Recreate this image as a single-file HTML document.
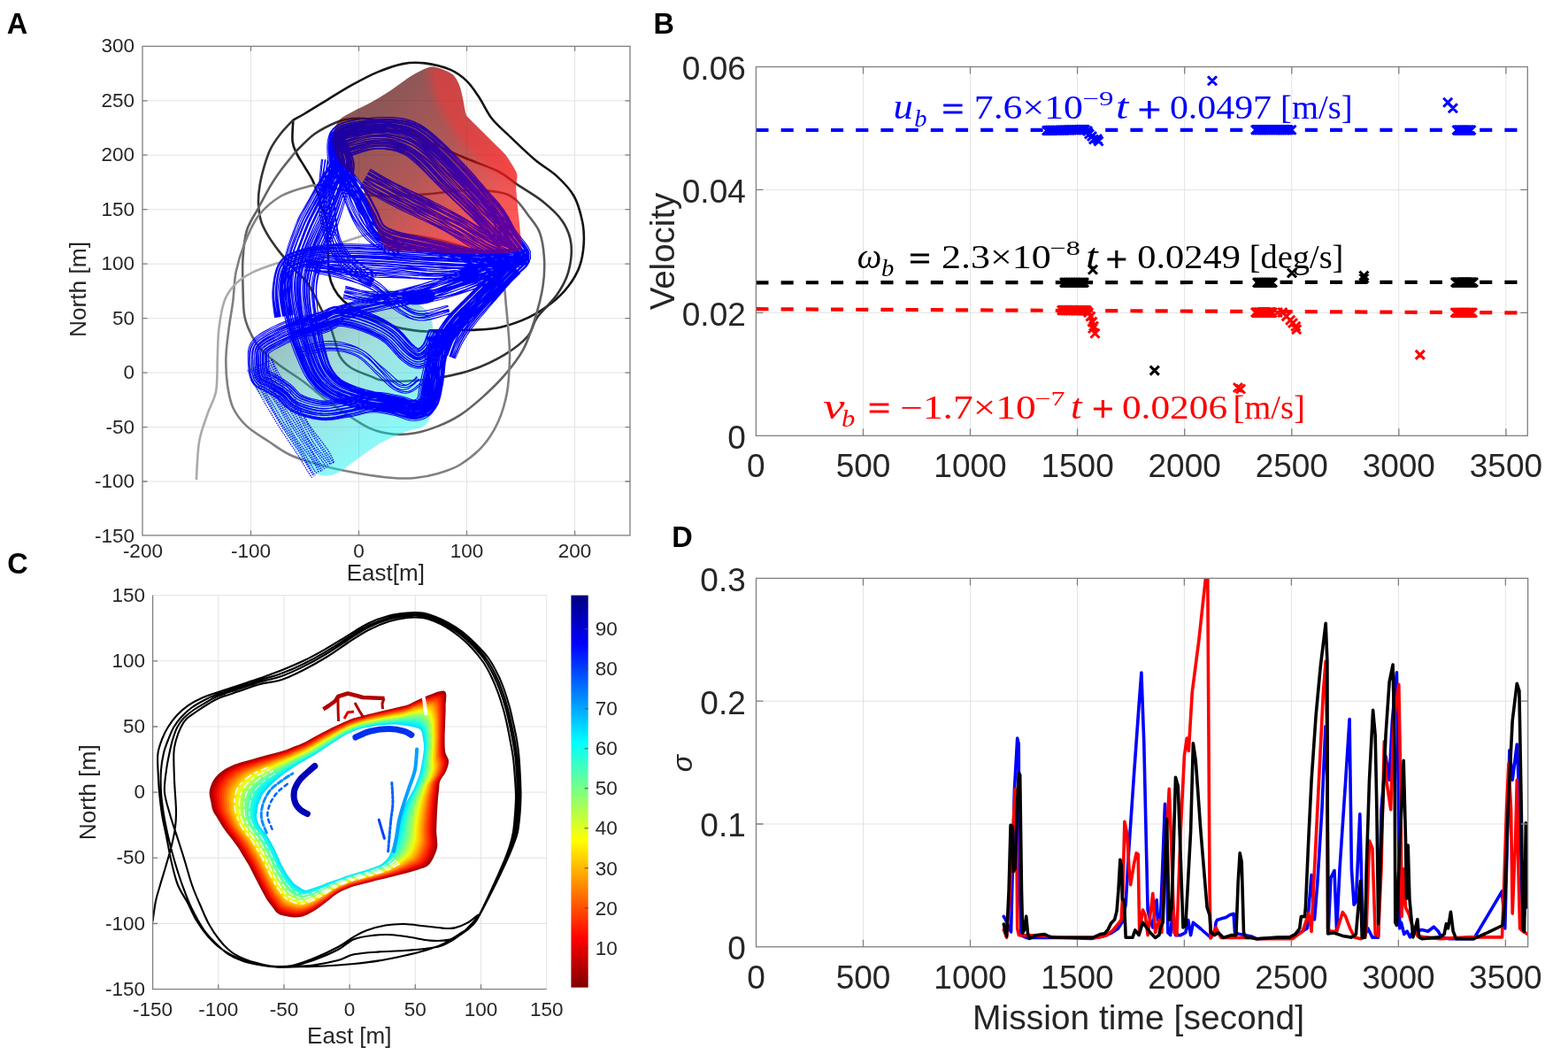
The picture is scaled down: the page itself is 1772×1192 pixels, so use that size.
<!DOCTYPE html><html><head><meta charset="utf-8"><title>Figure</title><style>html,body{margin:0;padding:0;background:#fff;}svg{display:block;}</style></head><body>
<svg width="1772" height="1192" viewBox="0 0 1772 1192">
<rect width="100%" height="100%" fill="#fff"/>
<path d="M283.5 52.3V604.9M405.5 52.3V604.9M527.5 52.3V604.9M649.6 52.3V604.9M161 544H712M161 482.6H712M161 421.1H712M161 359.6H712M161 298.2H712M161 236.7H712M161 175.2H712M161 113.8H712" stroke="#e3e3e3" stroke-width="1" fill="none"/>
<clipPath id="clipA"><rect x="161" y="52.3" width="551" height="552.6"/></clipPath>
<g clip-path="url(#clipA)">
<path d="M331.3 135.6C331.2 139.7 329.9 153.5 330.6 159.9C331.3 166.3 333.3 169.3 335.6 174.1C337.9 178.8 341.4 183.6 344.2 188.4C347 193.2 350.3 197.9 352.7 202.7C355.1 207.4 356.5 211.5 358.4 216.9C360.3 222.3 362.2 229.4 364 235C365.8 240.6 367.9 242.2 369 250.3C370.1 258.4 370.1 273.9 370.6 283.9C371.1 293.8 370.9 303 372 310C373.1 317 374.7 320.9 377.3 325.8C379.9 330.7 382.9 335 387.4 339.2C391.9 343.4 398.6 347.6 404.2 351C409.8 354.4 415.4 356.8 421 359.3C426.6 361.8 432.1 364 437.7 366C443.3 368 447.4 369.7 454.5 371.1C461.6 372.5 470 374.1 480 374.4C490 374.7 505.6 373.1 514.6 372.9C523.6 372.6 525.3 373.4 533.8 372.9C542.3 372.4 555.1 372.1 565.7 369.7C576.3 367.3 587.9 363.1 597.5 358.6C607.1 354.1 615.6 348.5 623.1 342.6C630.6 336.8 636.9 330.4 642.2 323.5C647.5 316.6 652 309.2 654.9 301.2C657.8 293.2 659.2 284.2 659.7 275.7C660.2 267.2 660 259.2 658.1 250.2C656.2 241.2 653.4 230 648.6 221.5C643.8 213 636.9 206 629.4 199.1C621.9 192.2 613.1 187.8 603.9 180C594.7 172.2 582.3 160.1 574.3 152.4C566.3 144.7 561.1 140.8 555.7 133.8C550.3 126.8 546.4 117.5 541.8 110.5C537.1 103.5 533.2 97.2 527.8 91.9C522.4 86.6 517.2 82.3 509.2 78.9C501.2 75.5 489 72.5 480 71.4C471 70.3 464.2 70.4 455.4 72.1C446.5 73.8 436.4 77.5 426.9 81.4C417.4 85.3 407.9 90.5 398.4 95.7C388.9 100.9 378.9 107.3 369.9 112.8C360.9 118.3 350.6 124.7 344.2 128.5C337.8 132.3 333.4 134.4 331.3 135.6" stroke="#151515" stroke-width="2.6" fill="none" stroke-linejoin="round"/>
<path d="M331.3 135.6C328.9 138.2 321.3 145.8 317 151.3C312.7 156.8 308.8 162.2 305.7 168.4C302.6 174.6 300.5 181.5 298.5 188.4C296.5 195.3 294.6 202.9 293.5 209.8C292.4 216.7 291.7 223.2 292 230C292.3 236.8 293.3 244.1 295.2 250.3C297.1 256.5 300.1 261.5 303.5 267.1C306.9 272.7 311.7 279.1 315.3 283.9C318.9 288.6 322 291.7 325.3 295.6C328.6 299.5 332 303.7 335.4 307.3C338.8 310.9 342.4 313.5 345.5 317.4C348.6 321.3 350.8 325.2 353.9 330.8C357 336.4 360.9 345.3 363.9 351C366.9 356.7 369.4 359.5 371.8 365C374.2 370.5 376.1 377.7 378.2 384.1C380.3 390.5 381.4 398 384.6 403.3C387.8 408.6 391.4 412.3 397.3 416C403.2 419.7 414.4 423.4 420 425.6C425.6 427.9 425.1 428.6 431.2 429.5C437.3 430.4 446 431.2 456.6 430.8C467.2 430.4 482 429.1 494.7 427C507.4 424.9 520.1 422.6 532.8 418.1C545.5 413.7 560.3 406.7 570.9 400.3C581.5 393.9 590.3 386.9 596.3 380C602.3 373.1 601.6 366.4 607.1 358.6C612.6 350.8 623.5 341.6 629.4 333.1C635.2 324.6 639.5 317.2 642.2 307.6C644.9 298 646.5 285.3 645.4 275.7C644.3 266.1 641.1 258.2 635.8 250.2C630.5 242.2 622 234.7 613.5 227.8C605 220.9 593.2 214.4 584.8 208.7C576.4 203 573.1 198.6 563 193.5C552.9 188.4 537.3 183.5 524.4 178C511.5 172.5 496 165.7 485.8 160.7C475.6 155.7 470.5 151.4 463 148C455.5 144.6 448.2 142.2 441 140C433.8 137.8 427.2 136 420 135C412.8 134 404.4 133.6 398 134C391.6 134.4 388.4 134.8 381.3 137.7C374.2 140.6 363.5 145.7 355.6 151.3C347.8 156.9 337.8 168 334.2 171.3" stroke="#333333" stroke-width="2.6" fill="none" stroke-linejoin="round"/>
<path d="M334.2 171.3C331.4 174.9 321.9 186.3 317.1 192.7C312.4 199.1 309.9 202.8 305.7 209.8C301.5 216.9 296.4 226.6 292 235C287.6 243.4 281.9 250.5 279 260C276.1 269.5 275.2 281.4 274.5 292C273.8 302.6 274.2 313 274.5 323.5C274.8 334 274.7 346.4 276 355C277.3 363.6 279.3 368.3 282.5 375C285.7 381.7 289.6 388.8 295 395C300.4 401.2 307.1 406 315 412C322.9 418 333.6 424.3 342.4 430.8C351.2 437.3 359.4 444.8 367.8 451.1C376.2 457.5 384.7 463.4 393.1 468.9C401.6 474.4 410 480.5 418.5 484.1C427 487.7 435.4 489.6 443.9 490.5C452.4 491.4 460.8 490.7 469.3 489.2C477.8 487.7 486.2 485 494.7 481.6C503.2 478.2 511.6 474.4 520.1 468.9C528.6 463.4 537 456.2 545.5 448.6C554 441 563.3 432.1 570.9 423.2C578.5 414.3 585.7 405.4 591.2 395.2C596.7 385 600.3 373.9 604 362C607.7 350.1 611.7 335.2 613.5 323.5C615.3 311.8 615.6 302.1 615 292C614.4 281.9 612.9 271 610 263C607.1 255 602.2 250.3 597.5 244C592.8 237.7 587.8 229.5 582 225C576.2 220.5 572.7 218.7 563 217C553.3 215.3 536.8 214.7 524 215C511.2 215.3 501 217.8 486 219C471 220.2 448.7 222.3 434 222C419.3 221.7 406.3 218.3 398 217C389.7 215.7 389.9 215.2 384 214C378.1 212.8 366.2 210.5 362.7 209.8" stroke="#626262" stroke-width="2.6" fill="none" stroke-linejoin="round"/>
<path d="M362.7 209.8C360.5 209.9 357 208.4 349.5 210.3C342 212.2 327.2 215.9 317.6 221.5C308 227.1 299 234.8 292.1 243.8C285.2 252.8 280.4 265.1 276.1 275.7C271.9 286.3 268.7 297 266.6 307.6C264.5 318.2 264.7 328.9 263.4 339.5C262.1 350.1 259.9 360.8 258.6 371.4C257.3 382 255.7 392.7 255.4 403.3C255.1 413.9 255.7 425.4 257 435C258.4 444.6 259.8 453.2 263.5 461C267.2 468.8 272.2 475.3 279 481.6C285.8 487.9 295.5 493.4 304 499C312.5 504.6 319.3 510.3 330 515C340.7 519.7 355.3 523.7 368 527C380.7 530.3 393.3 532.8 406 535C418.7 537.2 433.5 539.2 444 540C454.5 540.8 460.5 540.8 469 540C477.5 539.2 486.5 537.5 495 535C503.5 532.5 511.6 530.2 520 525C528.4 519.8 538.3 512.1 545.5 504C552.7 495.9 558.4 486.6 563 476.5C567.6 466.4 570.8 455.4 573 443.5C575.2 431.6 575.7 415.6 576 405C576.3 394.4 575.7 389.8 575 380C574.3 370.2 573 356 572 346C571 336 571 327.7 569 320C567 312.3 564.8 305.8 560 300C555.2 294.2 550 289.7 540 285C530 280.3 513.3 275.3 500 272C486.7 268.7 473.3 266.5 460 265C446.7 263.5 426.7 263.2 420 262.9" stroke="#808080" stroke-width="2.6" fill="none" stroke-linejoin="round"/>
<path d="M420 262.9C413.6 265 393.9 271.5 381.4 275.7C368.9 279.9 356.7 284.3 345 288C333.3 291.7 320.9 294.7 311 298C301.1 301.3 293.1 303.9 285.7 307.6C278.3 311.3 271.9 315.1 266.6 320.4C261.3 325.7 257 331 253.8 339.5C250.6 348 248.7 360.8 247.4 371.4C246.1 382 246.3 391.6 245.8 403.3C245.3 415 246 431 244.2 441.6C242.3 452.2 237.9 457.5 234.7 467.1C231.5 476.7 227.2 486.5 225.1 499C223 511.5 222.4 534.8 221.9 542" stroke="#aaaaaa" stroke-width="2.6" fill="none" stroke-linejoin="round"/>
<defs><linearGradient id="cyg" gradientUnits="userSpaceOnUse" x1="330" y1="360" x2="430" y2="500"><stop offset="0" stop-color="#1a6a6a"/><stop offset="0.45" stop-color="#30b8b8"/><stop offset="1" stop-color="#00f0f0"/></linearGradient></defs>
<path d="M371.9 360.8C383.2 354.3 395.7 340.9 405.9 335.3C416.1 329.8 425.7 328.3 433 327.5C440.4 326.7 443.2 327.5 450 330.2C456.8 332.9 467.6 338.7 473.8 343.8C480 348.9 484.6 352.3 487.4 360.8C490.2 369.3 490.1 383.4 490.8 394.8C491.5 406.1 492 416.8 491.5 428.7C490.9 440.6 489.5 457.3 487.4 466.1C485.3 474.9 484 477.7 478.9 481.4C473.8 485.1 465 484.9 456.8 488.2C448.6 491.4 438.1 495.9 429.6 500.7C421.2 505.5 413.8 511.5 405.9 517C397.9 522.6 388.9 530.6 382.1 534C375.3 537.4 370.2 538 365.1 537.4C360 536.9 356.1 534.6 351.5 530.6C347 526.7 343 521 337.9 513.6C332.8 506.3 326.6 495.5 321 486.5C315.3 477.4 309.6 467.8 304 459.3C298.3 450.8 290.5 442.3 287 435.5C283.5 428.7 282.9 423.6 282.9 418.5C282.9 413.4 283.5 409.5 287 404.9C290.5 400.4 295.5 396.5 304 391.4C312.5 386.3 326.6 379.5 337.9 374.4C349.3 369.3 360.6 367.3 371.9 360.8Z" fill="url(#cyg)" fill-opacity="0.45"/>
<defs><g id="bl"><path d="M371.5 185.5l-.5-3.5-.6-4.3-.4-4.8-.1-4.9 0-4.7 .5-4.3 .8-3.6 1-3.3 1.7-3.5 2.5-3.2 3.1-2.7 3.6-2.2 4.1-1.8 4.5-1.4 4.7-1.1 5-.9 5.1-.8 5.2-.6 5.5-.5 6-.4 6.2-.3 6.3-.1 6.1 .1 5.6 .4 5 .7 4.6 .8 4.4 1.1 4.4 1.4 4.2 1.8 4.4 2.2 4.4 2.7 4.3 3 4.2 3.3 4.1 3.5 4.1 3.7 4.2 3.8 4.5 4.1 4.7 4.5 4.7 4.8 4.7 4.8 4.6 4.8 4.5 4.7 4.3 4.6 4.3 4.8 4.1 4.8 4 4.6 3.8 4.4 3.5 4.1 3.3 3.7 3 3.3 2.9 3.3 2.9 3.3 2.8 3.5 2.9 3.9 2.7 4.1 2.5 4.1 2.3 4.2 2.1 4 2.2 3.9 2.1 3.5 2.6 3.7 3.4 4.2 3.7 4.6 3.6 4.8 2.9 5.6 .2 8.6-5.8 6.7-6 2.3-5.7 .8-5.8 .4-5.6 0-5.3 0-5.2-.2-5.4-.5-5.5-.8-5.4-.9-5.3-.9-5.2-1-5.2-1-5.3-1.2-5.2-1.2-5.1-1.2-5-1.2-5.1-1.2-5.1-1.2-5.1-1.2-5.2-1.2-5.1-1.1-5.1-1.2-4.8-1.1-4.7-1.1-4.8-1-4.7-.9-4.7-1.1-4.7-1.1-4.3-1.4-3.9-1.3-3.7-1.4-3.7-1.5-3.6-1.9-3.6-2.3-3.4-2.9-3.1-3.5-2.3-3.9-1.9-3.7-1.6-3.5-1.4-3.2-1.4-2.9-1.7-3.1-1.7-3.2-1.6-3.1-1.7-3-1.6-2.9-1.7-2.8-1.8-2.8-2-2.8-2-2.8-2-2.8-1.9-2.6-1.9-2.3-1.6-2-1.7-1.9-1.8-1.9-1.9-1.9-1.8-2.1-1.7-2.1-1.2-1.7-1.2-1.4-1.3-2-1.3-2.5-1.1-3-.7-2.9M373 185.3l-.5-3.5-.6-4.3-.4-4.7-.3-4.8 .1-4.7 .4-4.1 .6-3.5 .9-3.2 1.6-3.4 2.2-3.1 3-2.6 3.4-2.2 4-1.9 4.4-1.5 4.7-1.1 5-1 5.1-.9 5.1-.7 5.5-.6 6-.5 6.2-.3 6.3-.2 6.1 .1 5.6 .3 5 .6 4.7 .8 4.4 1.1 4.4 1.4 4.3 1.8 4.4 2.2 4.4 2.7 4.4 3.1 4.1 3.3 4.1 3.5 4.1 3.7 4.2 3.8 4.4 4.2 4.6 4.6 4.7 4.7 4.7 4.9 4.5 4.8 4.4 4.8 4.3 4.7 4.2 4.9 4.1 4.8 3.9 4.6 3.7 4.5 3.5 4.2 3.2 3.7 2.9 3.4 2.9 3.4 2.8 3.3 2.7 3.5 2.7 3.9 2.7 4.1 2.4 4.1 2.2 4.1 2.2 4.1 2.1 3.9 2.1 3.7 2.6 3.7 3.5 4.3 3.7 4.5 3.5 4.7 2.7 5.3 .2 7.6-5 5.9-5.6 2.1-5.6 .9-5.7 .4-5.6 .1-5.1 0-5.2-.1-5.4-.4-5.4-.7-5.4-.8-5.3-.9-5.3-.8-5.2-1-5.3-1-5.2-1.1-5.1-1.2-5.1-1.1-5-1.1-5.1-1.1-5.2-1.1-5.2-1.1-5.2-1.2-5-1.1-4.9-1-4.7-1-4.7-1-4.8-.9-4.7-1-4.7-1.2-4.3-1.3-3.9-1.4-3.7-1.3-3.7-1.6-3.7-1.9-3.6-2.3-3.4-3-3-3.6-2.3-3.9-1.8-3.8-1.5-3.5-1.4-3.2-1.4-3-1.5-3.1-1.6-3.2-1.6-3.2-1.6-3.1-1.6-2.9-1.6-2.9-1.7-2.8-1.9-2.9-1.9-2.9-2-2.8-1.9-2.7-1.8-2.4-1.6-2.1-1.7-1.9-1.8-1.9-1.8-2-1.8-2.1-1.5-2-1.2-1.7-1.2-1.4-1.2-1.9-1.3-2.4-1-2.7-.7-2.8M373.4 185.2l-.4-3.4-.5-4.3-.3-4.7-.1-4.8 .2-4.6 .5-4.1 .7-3.3 1-3.1 1.5-3 2.2-2.8 2.7-2.4 3.3-2 3.9-1.6 4.2-1.4 4.6-1.1 4.9-.9 5-.8 5.1-.7 5.5-.5 5.9-.5 6.2-.4 6.2-.2 6 0 5.5 .3 5 .6 4.5 .7 4.3 .9 4.3 1.3 4.2 1.7 4.4 2.1 4.4 2.5 4.3 2.9 4.2 3.2 4.1 3.4 4.1 3.6 4.3 3.8 4.5 4 4.7 4.5 4.8 4.7 4.7 4.7 4.7 4.8 4.4 4.7 4.4 4.6 4.3 4.8 4.1 4.7 4 4.7 3.8 4.4 3.5 4.1 3.2 3.7 3 3.4 2.9 3.3 2.8 3.4 2.7 3.5 2.8 3.9 2.6 4.1 2.4 4.2 2.2 4.1 2.1 4.1 2.1 4 2 3.6 2.6 3.8 3.3 4.3 3.6 4.7 3.4 4.7 2.6 5.3 .2 7.3-5 5.7-5.4 1.9-5.5 .8-5.7 .2-5.6 0-5.1-.1-5.1-.2-5.4-.6-5.3-.7-5.4-.9-5.2-1-5.2-1-5.2-1-5.2-1.1-5.2-1.2-5.1-1.2-5.1-1.1-5.1-1.2-5.1-1.1-5.2-1.1-5.2-1.1-5.1-1.1-5.1-1.1-4.8-1-4.8-.9-4.8-.9-4.7-.9-4.7-.9-4.6-1.1-4.3-1.2-3.9-1.2-3.8-1.3-3.6-1.4-3.6-1.7-3.6-2.2-3.4-2.8-3-3.5-2.4-3.7-1.9-3.7-1.6-3.5-1.5-3.1-1.5-3-1.6-3-1.7-3.2-1.7-3.1-1.6-3-1.7-3-1.6-2.8-1.8-2.8-1.9-2.9-2-2.8-1.9-2.8-1.9-2.6-1.8-2.4-1.6-2.1-1.7-2-1.7-1.9-1.7-2-1.8-2.2-1.5-2.1-1.2-1.7-1-1.5-1.2-1.9-1.1-2.4-.9-2.8-.6-2.8M374.5 185.1l-.5-3.5-.4-4.2-.4-4.7-.1-4.7 .1-4.5 .5-4 .7-3.3 .9-3 1.4-2.9 2.1-2.7 2.6-2.3 3.1-1.9 3.8-1.7 4.2-1.3 4.6-1.1 4.8-1 5-.7 5.1-.7 5.4-.6 6-.4 6.1-.4 6.2-.2 6 .1 5.5 .3 4.8 .6 4.5 .7 4.3 1 4.2 1.3 4.1 1.7 4.3 2 4.3 2.6 4.2 2.9 4.2 3.2 4.1 3.4 4.1 3.6 4.2 3.8 4.5 4 4.6 4.5 4.7 4.7 4.8 4.8 4.6 4.8 4.4 4.6 4.3 4.7 4.3 4.8 4.1 4.7 4 4.7 3.7 4.4 3.5 4.1 3.2 3.7 3 3.4 2.9 3.3 2.8 3.4 2.7 3.5 2.7 3.7 2.6 4.1 2.4 4.1 2.2 4.1 2.1 4.1 2.1 4 2.2 3.7 2.6 3.8 3.4 4.3 3.7 4.6 3.3 4.7 2.5 5 .2 6.6-4.4 5-5.2 1.9-5.3 .8-5.6 .2-5.6 .1-5.1-.1-5.1-.2-5.3-.5-5.3-.7-5.3-.9-5.3-.9-5.2-1-5.2-1-5.2-1.1-5.1-1.1-5.2-1.2-5-1.2-5.1-1.1-5.1-1.1-5.2-1.2-5.2-1.1-5.1-1.1-5.1-1.1-4.9-1.1-4.7-.9-4.8-.9-4.8-.9-4.6-1-4.6-1.1-4.2-1.2-3.9-1.3-3.7-1.3-3.6-1.4-3.5-1.7-3.4-2.2-3.3-2.7-2.8-3.3-2.3-3.6-1.8-3.6-1.6-3.5-1.4-3.2-1.5-3-1.6-3.1-1.7-3.2-1.7-3.1-1.6-3.1-1.6-2.9-1.7-2.9-1.8-2.9-1.9-2.8-2-2.9-2-2.8-1.9-2.7-1.8-2.4-1.7-2.1-1.7-2-1.7-1.9-1.8-2-1.7-2.1-1.5-2-1.2-1.7-1.1-1.5-1.1-1.8-1.1-2.2-.9-2.6-.6-2.7M375.9 184.9l-.5-3.5-.4-4.2-.3-4.6-.2-4.6 .2-4.5 .4-3.8 .7-3.1 .9-2.8 1.3-2.7 1.8-2.5 2.4-2.1 3-1.9 3.6-1.6 4.1-1.3 4.5-1.2 4.7-.9 5-.8 5-.7 5.4-.7 5.9-.5 6.2-.4 6.1-.3 6 0 5.4 .3 4.8 .5 4.5 .6 4.2 .9 4.2 1.3 4.1 1.6 4.3 2 4.3 2.5 4.3 2.8 4.1 3.2 4.1 3.4 4.1 3.5 4.3 3.8 4.5 4 4.6 4.5 4.8 4.7 4.7 4.7 4.6 4.8 4.4 4.7 4.3 4.7 4.2 4.8 4.1 4.7 4 4.7 3.7 4.5 3.5 4.1 3.2 3.8 2.9 3.4 2.9 3.3 2.7 3.4 2.7 3.5 2.6 3.8 2.5 4 2.3 4.2 2.2 4.1 2 4.1 2.1 4 2.1 3.8 2.6 4 3.4 4.4 3.6 4.6 3.3 4.5 2.3 4.8 .1 5.7-3.8 4.4-4.8 1.6-5.2 .7-5.5 .3-5.5 0-5.1-.1-5-.2-5.2-.5-5.3-.7-5.3-.9-5.3-.9-5.1-.9-5.2-.9-5.2-1.1-5.2-1.1-5.1-1.2-5.1-1.1-5.1-1.1-5.1-1-5.2-1.1-5.2-1.1-5.1-1-5.1-1-4.9-1-4.8-.9-4.8-.9-4.7-.8-4.7-.9-4.6-1-4.2-1.2-3.9-1.2-3.7-1.2-3.6-1.4-3.5-1.7-3.4-2.1-3.2-2.7-2.9-3.3-2.3-3.6-1.8-3.6-1.6-3.5-1.4-3.2-1.5-3-1.6-3.1-1.7-3.1-1.6-3.2-1.6-3.1-1.6-3-1.7-2.8-1.7-2.9-1.9-3-1.9-2.9-2-2.8-1.9-2.7-1.7-2.5-1.7-2.1-1.6-2.1-1.7-2-1.7-2-1.7-2-1.4-2.1-1.1-1.7-1-1.5-1.1-1.8-1-2.1-.7-2.4-.6-2.7M375.5 184.9l-.4-3.4-.4-4.2-.3-4.7-.1-4.6 .1-4.5 .6-3.8 .7-3.1 .9-2.8 1.4-2.7 1.9-2.4 2.5-2 2.9-1.8 3.6-1.5 4.1-1.3 4.5-1 4.7-.8 5-.8 5-.6 5.4-.5 5.9-.5 6.1-.3 6.1-.1 5.9 0 5.4 .3 4.7 .6 4.4 .7 4.1 .9 4.1 1.3 4 1.5 4.1 2 4.2 2.5 4.2 2.8 4.1 3.1 4 3.3 4.2 3.5 4.2 3.8 4.5 4 4.7 4.4 4.7 4.6 4.8 4.7 4.6 4.8 4.5 4.6 4.3 4.6 4.3 4.7 4.2 4.7 4 4.6 3.8 4.4 3.6 4.1 3.2 3.7 3.1 3.4 2.8 3.2 2.8 3.3 2.8 3.4 2.7 3.8 2.6 4 2.3 4.1 2.2 4.1 2.2 4 2.1 4 2.1 3.8 2.7 3.9 3.4 4.4 3.6 4.5 3.3 4.6 2.4 4.9 .1 6-4.1 4.5-4.8 1.6-5.2 .7-5.6 .2-5.5 0-5.1-.1-5-.3-5.2-.5-5.3-.8-5.3-1-5.2-1-5.2-1-5.1-1-5.2-1.2-5.1-1.2-5.1-1.2-5.1-1.2-5.1-1.2-5.1-1.2-5.2-1.1-5.1-1.2-5.2-1.1-5-1.1-4.9-1.1-4.8-.9-4.8-.9-4.7-.9-4.7-1-4.4-1-4.2-1.2-3.9-1.2-3.6-1.2-3.5-1.4-3.4-1.6-3.2-1.9-3.1-2.5-2.7-3.1-2.3-3.4-1.8-3.5-1.6-3.4-1.5-3.2-1.6-3.1-1.7-3-1.7-3.2-1.7-3.1-1.7-3-1.7-3-1.8-2.8-1.8-2.9-2-2.9-2-2.8-2-2.8-2-2.6-1.8-2.5-1.7-2.1-1.7-2-1.8-1.9-1.7-2-1.7-2-1.5-2.1-1.2-1.6-1-1.5-1.1-1.8-1-2.1-.8-2.5-.5-2.8M376.8 184.7l-.5-3.4-.4-4.2-.3-4.5-.1-4.6 .1-4.4 .5-3.7 .7-3.1 .9-2.6 1.2-2.5 1.8-2.3 2.3-1.9 2.8-1.7 3.5-1.5 4-1.2 4.4-1.1 4.7-.8 4.9-.8 5-.6 5.4-.5 5.8-.5 6.1-.3 6.1-.2 5.9 .1 5.3 .3 4.7 .5 4.3 .7 4.1 .9 4 1.3 3.9 1.5 4.1 2 4.2 2.4 4 2.8 4.1 3.1 4 3.3 4.1 3.5 4.3 3.8 4.4 4 4.7 4.4 4.7 4.6 4.7 4.8 4.6 4.7 4.5 4.6 4.3 4.6 4.3 4.8 4.1 4.7 4 4.6 3.8 4.4 3.5 4.1 3.3 3.7 3 3.4 2.9 3.3 2.7 3.2 2.7 3.4 2.7 3.7 2.5 4 2.4 4 2.2 4.1 2.1 4.1 2.1 4 2.2 3.8 2.7 4 3.4 4.4 3.6 4.5 3.3 4.5 2.2 4.6 .2 5.1-3.5 3.9-4.5 1.5-5.1 .7-5.4 .2-5.5 0-5.1-.1-4.9-.2-5.2-.5-5.2-.8-5.3-.9-5.2-1-5.2-1-5.1-1-5.2-1.1-5.1-1.2-5.1-1.2-5.1-1.2-5.1-1.2-5.1-1.1-5.2-1.2-5.2-1.1-5.1-1.1-5-1.1-4.9-1.1-4.8-1-4.8-.9-4.8-.9-4.6-.9-4.4-1-4.2-1.2-3.8-1.2-3.6-1.2-3.4-1.4-3.3-1.6-3.2-1.9-2.9-2.4-2.7-3-2.1-3.3-1.8-3.4-1.5-3.4-1.5-3.3-1.6-3.1-1.7-3-1.7-3.2-1.7-3.1-1.7-3.1-1.7-3-1.7-2.9-1.9-2.9-1.9-2.9-2-2.9-2-2.8-2-2.6-1.8-2.5-1.8-2.2-1.7-2-1.8-1.9-1.7-2-1.7-2-1.4-2-1.2-1.6-1-1.5-1.1-1.7-.9-1.9-.8-2.4-.5-2.6M378.3 184.5l-.6-3.4-.5-4.1-.4-4.5-.2-4.5 0-4.3 .3-3.7 .6-3 .7-2.6 1.1-2.5 1.6-2.3 2.2-2 2.7-1.8 3.4-1.6 4-1.4 4.4-1.1 4.7-1 4.9-.8 5.1-.8 5.3-.6 5.9-.5 6.1-.4 6.1-.3 5.9 .1 5.4 .2 4.8 .6 4.3 .7 4.2 .9 4 1.3 4 1.6 4.2 2 4.1 2.5 4.1 2.9 4.1 3.2 4 3.4 4 3.6 4.2 3.8 4.3 4.2 4.6 4.4 4.7 4.8 4.6 4.8 4.5 4.8 4.3 4.7 4.3 4.7 4.1 4.9 4 4.7 3.9 4.7 3.7 4.5 3.5 4.2 3.1 3.8 3 3.5 2.8 3.3 2.6 3.3 2.6 3.4 2.6 3.7 2.4 3.9 2.3 4 2.2 4.1 2.1 4.1 2.1 4 2.2 3.9 2.8 4.1 3.5 4.4 3.7 4.5 3.1 4.3 2.2 4.2 .2 4.2-2.7 3-4.1 1.5-4.9 .8-5.3 .3-5.5 .1-5 .1-5-.1-5.1-.4-5.3-.6-5.2-.8-5.3-.9-5.2-.8-5.2-.9-5.1-1-5.2-1.1-5.1-1.1-5.1-1.1-5.1-1-5.2-1.1-5.2-1-5.2-1.1-5.1-1.1-5.1-1-4.9-1.1-4.7-.9-4.8-.9-4.8-.9-4.6-1-4.5-1-4.2-1.3-3.8-1.3-3.6-1.2-3.4-1.5-3.3-1.7-3.2-2-3-2.6-2.5-3.1-2.1-3.4-1.6-3.5-1.5-3.5-1.4-3.3-1.4-3.1-1.6-3.2-1.6-3.2-1.5-3.2-1.6-3.1-1.6-3.1-1.7-3-1.7-2.9-1.9-3-2-3-1.9-2.9-1.9-2.7-1.8-2.5-1.7-2.3-1.8-2.1-1.7-2-1.7-1.9-1.6-1.9-1.5-2-1.1-1.6-1.1-1.4-1-1.5-.9-1.8-.7-2.1-.6-2.6M378.5 184.4l-.5-3.3-.5-4.1-.4-4.5-.2-4.5 .1-4.3 .3-3.6 .6-3 .8-2.6 1.1-2.3 1.5-2.2 2.1-1.8 2.7-1.7 3.4-1.6 3.9-1.2 4.4-1.1 4.7-.9 4.9-.8 5-.7 5.3-.5 5.9-.5 6.1-.4 6-.1 5.9 0 5.3 .3 4.7 .6 4.2 .7 4.1 1 3.9 1.2 3.9 1.6 4 2 4.1 2.4 4 2.9 4 3.1 4 3.4 4 3.6 4.2 3.7 4.3 4.1 4.6 4.5 4.7 4.6 4.6 4.8 4.6 4.8 4.3 4.7 4.3 4.6 4.2 4.8 4 4.7 4 4.7 3.7 4.4 3.5 4.2 3.2 3.7 3 3.5 2.9 3.2 2.7 3.3 2.6 3.4 2.6 3.6 2.5 3.8 2.3 4 2.1 4.1 2.2 4 2.2 4 2.2 4 2.9 4 3.5 4.4 3.6 4.5 3.2 4.4 2.1 4 .2 4.1-2.6 2.9-4 1.5-4.9 .7-5.3 .3-5.5 .1-5 0-4.9-.2-5.1-.4-5.3-.7-5.2-.8-5.3-.9-5.2-.9-5.1-.9-5.2-1.1-5.1-1.1-5.1-1.2-5.1-1.2-5.1-1.1-5.1-1.1-5.2-1.1-5.2-1.1-5.1-1.2-5.1-1.1-4.9-1-4.8-1-4.7-1-4.8-.9-4.6-1-4.4-1-4.1-1.3-3.8-1.2-3.5-1.3-3.4-1.4-3.2-1.6-3-2-2.8-2.3-2.4-2.9-2-3.3-1.7-3.4-1.5-3.4-1.4-3.3-1.5-3.2-1.6-3.1-1.7-3.2-1.6-3.2-1.6-3.1-1.7-3-1.7-3-1.9-3-1.9-2.9-2-3-2-2.8-2-2.7-1.8-2.5-1.8-2.3-1.8-2-1.8-2-1.7-1.9-1.6-1.9-1.4-1.9-1.2-1.7-1.1-1.4-1-1.4-.9-1.8-.7-2.1-.6-2.5M379.2 184.3l-.5-3.3-.5-4.1-.4-4.4-.2-4.6 0-4.2 .4-3.5 .6-2.9 .8-2.5 1-2.2 1.5-2 2-1.8 2.6-1.6 3.3-1.4 3.9-1.2 4.3-1 4.7-.9 4.8-.7 5-.6 5.3-.5 5.9-.4 6-.3 6-.1 5.8 .1 5.2 .4 4.6 .6 4.2 .7 3.9 1 3.8 1.3 3.7 1.6 3.9 1.9 4 2.4 3.9 2.8 3.8 3.1 4 3.3 4 3.6 4.1 3.8 4.4 4.1 4.5 4.4 4.7 4.6 4.6 4.8 4.6 4.8 4.3 4.6 4.3 4.6 4.2 4.7 4.1 4.7 3.9 4.6 3.8 4.5 3.5 4.1 3.3 3.7 3.1 3.4 2.8 3.2 2.7 3.2 2.7 3.3 2.6 3.5 2.5 3.8 2.3 3.9 2.2 4 2.2 4 2.3 4 2.3 4 2.9 4.1 3.6 4.4 3.6 4.5 3.2 4.2 2.1 3.9 .2 3.5-2.3 2.6-3.8 1.4-4.8 .7-5.3 .3-5.4 .1-5 0-4.9-.2-5.1-.4-5.2-.7-5.2-.9-5.3-.9-5.1-.9-5.1-1-5.1-1.1-5.2-1.2-5.1-1.2-5-1.3-5.1-1.1-5.1-1.2-5.2-1.2-5.2-1.2-5.1-1.1-5-1.2-4.9-1.1-4.8-1.1-4.8-1-4.7-1-4.6-1-4.3-1.1-4-1.2-3.7-1.3-3.5-1.3-3.3-1.4-3-1.5-2.8-1.9-2.6-2.2-2.2-2.6-1.9-3.1-1.6-3.2-1.4-3.4-1.5-3.4-1.6-3.2-1.7-3.1-1.6-3.2-1.7-3.1-1.7-3.1-1.7-3.1-1.8-3-1.9-3-2-2.9-2.1-3-2-2.8-2-2.7-2-2.4-1.8-2.3-1.9-2.1-1.8-1.9-1.8-1.8-1.6-1.9-1.5-1.8-1.2-1.6-1.1-1.4-.9-1.4-.9-1.6-.8-2-.6-2.5M379.9 184.2l-.5-3.3-.6-4-.4-4.5-.2-4.5 .1-4.1 .3-3.5 .6-2.9 .7-2.4 1-2.1 1.4-2 1.9-1.7 2.6-1.5 3.2-1.4 3.8-1.3 4.3-1 4.6-.8 4.9-.7 5-.6 5.3-.6 5.8-.4 6-.2 6-.1 5.8 .1 5.2 .4 4.6 .6 4.1 .7 3.9 1 3.7 1.3 3.7 1.6 3.8 1.9 4 2.4 3.8 2.8 3.9 3.1 3.8 3.3 4 3.6 4.1 3.8 4.4 4.1 4.5 4.4 4.6 4.7 4.7 4.7 4.5 4.8 4.3 4.6 4.3 4.7 4.1 4.7 4.1 4.7 4 4.6 3.7 4.4 3.6 4.1 3.3 3.8 3 3.4 2.9 3.2 2.7 3.2 2.6 3.2 2.6 3.5 2.4 3.7 2.4 3.9 2.2 4 2.2 4 2.2 4 2.4 4 3 4.2 3.6 4.4 3.6 4.4 3.2 4.2 2 3.7 .2 3.1-2 2.2-3.6 1.4-4.6 .7-5.3 .3-5.4 .1-5 0-4.8-.1-5.1-.5-5.2-.7-5.2-.8-5.3-.9-5.1-.9-5.1-1-5.1-1.1-5.1-1.2-5.1-1.2-5.1-1.2-5.1-1.2-5.1-1.2-5.2-1.1-5.2-1.2-5.1-1.2-5-1.2-4.9-1.1-4.8-1.1-4.8-1-4.7-1-4.6-1-4.3-1.1-4-1.3-3.6-1.3-3.5-1.3-3.2-1.3-3-1.6-2.7-1.8-2.5-2.2-2.2-2.5-1.7-3-1.6-3.2-1.5-3.4-1.4-3.4-1.6-3.2-1.6-3.2-1.7-3.1-1.6-3.2-1.7-3.1-1.7-3.1-1.8-3.1-2-2.9-2-3-2-3-2.1-2.8-2-2.7-2-2.5-1.9-2.3-1.9-2-1.8-2-1.8-1.8-1.6-1.8-1.4-1.8-1.2-1.6-1.1-1.3-1-1.4-.8-1.5-.8-1.9-.6-2.4M380.8 184.1l-.5-3.3-.5-4-.3-4.4-.2-4.5 .1-4.1 .4-3.4 .5-2.7 .7-2.3 .9-1.9 1.3-1.7 1.7-1.6 2.4-1.5 3.1-1.3 3.7-1.2 4.2-1.1 4.6-.9 4.8-.7 5-.7 5.3-.5 5.7-.5 6.1-.4 5.9-.1 5.8 0 5.1 .3 4.6 .5 4.1 .7 3.9 .9 3.7 1.2 3.8 1.5 3.8 1.9 4 2.3 3.9 2.7 3.9 3 3.9 3.4 4 3.5 4.2 3.8 4.4 4 4.5 4.4 4.7 4.6 4.6 4.8 4.6 4.7 4.3 4.7 4.3 4.6 4.1 4.7 4.1 4.7 4 4.7 3.7 4.4 3.5 4.2 3.2 3.7 3 3.5 2.9 3.2 2.6 3.2 2.6 3.3 2.5 3.6 2.4 3.7 2.3 4 2.1 4 2.2 4 2.2 4.1 2.3 4 2.9 4.3 3.5 4.4 3.6 4.5 3 4.2 1.9 3.6 .2 2.5-1.6 1.7-3.4 1.2-4.5 .6-5.2 .3-5.4 .1-5-.1-4.8-.1-5-.5-5.1-.7-5.2-.8-5.2-.9-5.2-.9-5.1-1-5.1-1-5.1-1.2-5.1-1.1-5.1-1.2-5.1-1.1-5.1-1.1-5.2-1.2-5.2-1.1-5.2-1.1-5-1.1-4.9-1-4.8-1-4.8-1-4.8-.9-4.5-.9-4.3-1-4-1.2-3.8-1.2-3.4-1.3-3.3-1.3-3-1.5-2.8-1.8-2.6-2.1-2.2-2.6-1.8-3-1.6-3.2-1.5-3.4-1.5-3.4-1.6-3.2-1.6-3.1-1.7-3.2-1.6-3.2-1.6-3.1-1.7-3.1-1.8-3-1.9-3-2-3-2-3-2-2.9-2-2.7-1.8-2.5-1.9-2.3-1.8-2.2-1.8-2-1.7-1.9-1.5-1.8-1.4-1.8-1.2-1.7-1-1.4-.8-1.3-.8-1.4-.6-1.9-.5-2.4M382.4 183.9l-.6-3.3-.5-4-.3-4.3-.2-4.4 0-4 .3-3.2 .5-2.6 .6-2.2 .8-1.8 1-1.5 1.6-1.5 2.2-1.4 3-1.4 3.6-1.2 4.1-1 4.6-.9 4.8-.8 4.9-.7 5.2-.6 5.8-.5 6-.3 6-.2 5.6 0 5.2 .3 4.5 .6 4.1 .6 3.8 .9 3.6 1.2 3.7 1.5 3.8 1.9 3.9 2.3 3.8 2.7 3.8 3 3.9 3.3 4 3.6 4.1 3.8 4.4 4 4.5 4.5 4.6 4.6 4.6 4.8 4.5 4.8 4.3 4.6 4.2 4.7 4.1 4.7 4.1 4.7 3.9 4.7 3.7 4.4 3.5 4.2 3.2 3.8 3 3.5 2.8 3.2 2.6 3.2 2.5 3.3 2.5 3.5 2.3 3.7 2.2 3.8 2.2 4 2.1 4.1 2.2 4.1 2.4 4.1 3 4.3 3.6 4.5 3.6 4.4 2.9 4.1 1.8 3.2 .2 1.5-.9 .9-2.9 1-4.4 .7-5.1 .3-5.3 .1-4.9 0-4.8-.1-4.9-.4-5.1-.7-5.2-.8-5.2-.8-5.2-.9-5.1-.9-5.1-1-5.1-1.1-5.1-1.2-5.1-1.1-5.1-1.1-5.2-1.1-5.1-1.1-5.2-1.1-5.2-1.1-5-1.1-4.9-1.1-4.9-1-4.8-.9-4.7-.9-4.5-1-4.3-1-4-1.2-3.6-1.2-3.5-1.3-3.2-1.3-2.9-1.5-2.7-1.7-2.4-2.1-2-2.5-1.8-2.9-1.5-3.2-1.4-3.3-1.5-3.4-1.5-3.3-1.7-3.2-1.6-3.2-1.6-3.2-1.6-3.2-1.7-3.1-1.7-3.1-1.9-3-2-3.1-2-3-2-2.9-2-2.7-1.9-2.6-1.8-2.4-1.9-2.2-1.8-2-1.7-1.8-1.5-1.8-1.3-1.8-1.2-1.6-1-1.4-.8-1.1-.6-1.3-.6-1.6-.6-2.4M383.1 183.7l-.5-3.2-.5-4-.4-4.3-.2-4.3 .1-3.9 .3-3.2 .5-2.5 .5-2.1 .7-1.7 1-1.4 1.5-1.3 2.1-1.4 2.8-1.3 3.6-1.2 4.1-1 4.5-1 4.8-.7 4.9-.7 5.2-.6 5.7-.5 6-.4 6-.2 5.6 .1 5.1 .3 4.5 .5 4 .6 3.8 .9 3.6 1.2 3.6 1.4 3.7 1.9 3.9 2.3 3.8 2.6 3.8 3.1 3.9 3.3 3.9 3.5 4.2 3.8 4.3 4 4.5 4.4 4.6 4.7 4.6 4.8 4.5 4.7 4.3 4.7 4.2 4.6 4.1 4.7 4.1 4.8 3.9 4.6 3.7 4.5 3.5 4.2 3.2 3.8 3 3.4 2.7 3.3 2.7 3.2 2.5 3.2 2.4 3.5 2.3 3.6 2.2 3.9 2.1 4 2.2 4 2.2 4.1 2.4 4.2 3 4.3 3.6 4.6 3.6 4.4 2.9 4 1.6 3 .3 1.1-.6 .4-2.7 .9-4.2 .7-5.1 .3-5.3 .1-4.9 0-4.7-.1-4.9-.4-5.1-.7-5.2-.8-5.2-.8-5.2-.9-5-.9-5.1-1-5.1-1.1-5.1-1.1-5.1-1.2-5.1-1.1-5.2-1.1-5.2-1.1-5.2-1.1-5.1-1-5.1-1.1-4.9-1.1-4.8-1-4.8-.9-4.7-.9-4.6-1-4.2-1-4-1.2-3.6-1.2-3.4-1.2-3.2-1.3-2.9-1.5-2.6-1.7-2.3-2-2-2.4-1.7-2.8-1.5-3.2-1.4-3.3-1.5-3.4-1.5-3.3-1.7-3.2-1.6-3.2-1.6-3.2-1.6-3.2-1.7-3.1-1.8-3.1-1.8-3.1-2-3.1-2-3-2-2.9-2-2.8-1.9-2.5-1.9-2.4-1.9-2.2-1.8-2.1-1.6-1.8-1.5-1.8-1.3-1.7-1.2-1.6-1-1.4-.7-1.1-.6-1.2-.6-1.5-.5-2.3M384.3 183.6l-.5-3.3-.4-3.9-.4-4.3-.1-4.2 0-3.8 .3-3.1 .5-2.4 .5-1.9 .6-1.5 .8-1.1 1.2-1.2 2-1.3 2.7-1.3 3.4-1.2 4.1-1 4.4-.9 4.7-.8 4.9-.7 5.2-.6 5.7-.6 6-.4 5.9-.2 5.6 0 5 .3 4.4 .4 4 .7 3.7 .8 3.6 1.1 3.5 1.4 3.8 1.8 3.8 2.2 3.7 2.6 3.8 3 3.9 3.3 4 3.5 4.1 3.8 4.4 4 4.5 4.4 4.6 4.6 4.6 4.8 4.5 4.8 4.3 4.6 4.1 4.6 4.2 4.8 4 4.7 3.9 4.6 3.7 4.5 3.4 4.2 3.3 3.8 2.9 3.5 2.8 3.3 2.5 3.2 2.5 3.2 2.4 3.4 2.3 3.7 2.1 3.8 2.1 4 2.1 4.1 2.2 4.1 2.4 4.2 3 4.5 3.6 4.6 3.6 4.4 2.8 3.9 1.5 2.8 .2 .3-.1-.3-2.3 .8-4.1 .6-4.9 .3-5.3 0-4.9 .1-4.6-.2-4.9-.4-5-.6-5.2-.8-5.2-.8-5.1-.9-5.1-.9-5-1-5.1-1-5.1-1.1-5.1-1.2-5.2-1-5.1-1.1-5.2-1.1-5.2-1-5.2-1.1-5-1-5-1.1-4.8-.9-4.9-.9-4.7-.9-4.5-.9-4.2-1-3.9-1.1-3.7-1.2-3.4-1.2-3.1-1.3-2.8-1.4-2.6-1.6-2.2-2-2-2.3-1.6-2.7-1.5-3.1-1.4-3.4-1.5-3.4-1.6-3.3-1.6-3.2-1.6-3.2-1.6-3.2-1.6-3.2-1.7-3.2-1.8-3.1-1.8-3.1-2-3.1-2-3-2-3-1.9-2.7-1.9-2.7-1.9-2.4-1.9-2.3-1.8-2-1.6-1.9-1.4-1.7-1.2-1.7-1.2-1.7-.9-1.3-.7-1.1-.5-1-.5-1.4-.5-2.3M383.5 183.7l-.4-3.3-.4-3.9-.3-4.3-.1-4.3 .1-3.9 .5-3.1 .6-2.4 .6-1.9 .7-1.3 .9-1.1 1.3-1.1 2-1.1 2.7-1.1 3.4-1 4.1-.9 4.4-.8 4.7-.6 4.8-.6 5.2-.5 5.7-.4 5.9-.3 5.9-.1 5.5 .1 4.9 .3 4.3 .6 3.9 .6 3.6 .9 3.3 1 3.4 1.4 3.6 1.7 3.7 2.2 3.7 2.5 3.7 2.9 3.9 3.1 4 3.5 4.1 3.7 4.4 3.9 4.6 4.3 4.6 4.6 4.7 4.6 4.6 4.7 4.4 4.5 4.2 4.6 4.3 4.6 4.1 4.6 4 4.6 3.8 4.3 3.6 4.1 3.3 3.8 3.1 3.4 2.8 3.1 2.7 3.1 2.6 3.2 2.5 3.4 2.3 3.6 2.3 3.8 2.1 4 2.2 4 2.2 4.1 2.4 4.2 3.1 4.3 3.6 4.6 3.5 4.4 2.9 4 1.5 3 .2 .8-.5 .2-2.5 .8-4.2 .5-5 .2-5.3 0-4.9-.1-4.6-.2-4.9-.6-5-.7-5.1-.9-5.2-1-5.1-1-5-1.1-5.1-1.1-5-1.2-5.1-1.3-5.1-1.2-5.1-1.2-5.1-1.2-5.2-1.2-5.2-1.2-5.1-1.2-5-1.1-4.9-1.1-4.9-1-4.9-1-4.6-.9-4.5-.9-4.1-1-3.9-1.1-3.6-1.2-3.3-1.1-3-1.2-2.7-1.3-2.4-1.4-2.1-1.7-1.8-2-1.6-2.6-1.6-2.9-1.5-3.3-1.6-3.4-1.7-3.3-1.8-3.1-1.7-3.1-1.7-3.2-1.8-3.1-1.8-3.1-1.9-3.1-2-3-2-3-2.2-3-2.1-2.8-2-2.7-2-2.6-1.9-2.4-1.9-2.1-1.9-2-1.7-1.8-1.4-1.8-1.3-1.7-1.2-1.6-1-1.4-.7-1.1-.6-1.2-.5-1.5-.4-2.3M384.9 183.5l-.4-3.3-.4-3.8-.3-4.3-.1-4.2 .1-3.8 .4-3 .5-2.2 .6-1.8 .6-1.2 .7-.9 1.1-.9 1.8-1.1 2.6-1.1 3.3-1 4-.9 4.4-.8 4.6-.7 4.8-.6 5.2-.6 5.7-.4 5.8-.3 5.9-.2 5.5 .1 4.9 .3 4.3 .5 3.8 .6 3.5 .8 3.4 1 3.3 1.3 3.6 1.8 3.6 2.1 3.7 2.4 3.7 2.9 3.9 3.2 4 3.5 4.1 3.6 4.4 4 4.5 4.3 4.7 4.5 4.6 4.7 4.6 4.7 4.3 4.6 4.3 4.5 4.1 4.6 4.1 4.7 4 4.6 3.8 4.4 3.5 4.1 3.3 3.8 3.1 3.4 2.8 3.2 2.6 3.1 2.5 3.2 2.4 3.3 2.4 3.6 2.1 3.8 2.2 4 2.1 4 2.2 4.2 2.4 4.2 3.1 4.5 3.6 4.6 3.5 4.4 2.8 3.9 1.4 2.6 .2 0 .1-.6-2.1 .6-4 .5-4.9 .2-5.3 0-4.9 0-4.6-.2-4.7-.5-5-.8-5.1-.9-5.2-.9-5.1-1-5-.9-5-1.1-5.1-1.2-5-1.2-5.2-1.2-5.1-1.2-5.1-1.1-5.2-1.2-5.2-1.1-5.1-1.1-5.1-1.1-4.9-1.1-4.9-1-4.8-.9-4.7-.9-4.5-.9-4.1-1-3.8-1.1-3.6-1.1-3.3-1.2-3-1.1-2.7-1.3-2.3-1.4-2-1.6-1.8-2-1.6-2.5-1.5-2.9-1.5-3.3-1.5-3.4-1.8-3.4-1.7-3.1-1.7-3.1-1.7-3.2-1.7-3.2-1.8-3.1-1.8-3.1-2-3.1-2.1-3.1-2.1-2.9-2-2.9-2-2.8-2-2.6-1.9-2.4-2-2.2-1.8-2-1.6-1.9-1.4-1.7-1.3-1.7-1.1-1.7-1-1.3-.6-1-.5-1-.4-1.4-.5-2.2M384.6 183.5l-.5-3.2-.4-3.9-.3-4.3-.2-4.2 .1-3.8 .4-3 .6-2.4 .6-1.8 .6-1.2 .8-1 1.2-1 1.8-1 2.7-1.1 3.3-1 4-.9 4.4-.8 4.7-.6 4.8-.5 5.2-.5 5.7-.4 5.9-.2 5.8-.1 5.5 .1 4.8 .4 4.3 .5 3.8 .7 3.5 .9 3.2 1.1 3.3 1.4 3.5 1.7 3.6 2.1 3.6 2.5 3.6 2.9 3.8 3.2 4 3.5 4.1 3.7 4.3 4 4.5 4.3 4.7 4.5 4.6 4.7 4.6 4.7 4.3 4.5 4.3 4.5 4.1 4.6 4.1 4.7 4 4.5 3.8 4.4 3.6 4.1 3.4 3.7 3.1 3.4 2.8 3.2 2.7 3 2.5 3.1 2.5 3.3 2.4 3.6 2.2 3.7 2.2 3.9 2.2 4 2.2 4.1 2.5 4.2 3.2 4.5 3.6 4.5 3.6 4.4 2.8 3.9 1.5 2.7 .2 .1 .1-.4-2.3 .7-4 .5-4.9 .3-5.3 0-4.9-.1-4.6-.2-4.8-.5-5-.7-5.1-.9-5.2-1-5.1-1-5-1-5-1.1-5-1.2-5.1-1.3-5.1-1.3-5.1-1.2-5.1-1.2-5.2-1.2-5.2-1.2-5.1-1.2-5-1.2-4.9-1.1-4.9-1.1-4.8-1-4.7-1-4.4-.9-4.1-1.1-3.8-1.1-3.5-1.2-3.3-1.2-3-1.2-2.5-1.2-2.2-1.4-1.9-1.6-1.6-1.9-1.5-2.3-1.5-2.9-1.5-3.2-1.5-3.5-1.8-3.4-1.7-3.1-1.7-3.1-1.7-3.2-1.8-3.2-1.8-3.1-2-3.1-2-3.1-2.1-3-2.1-3-2.2-2.8-2-2.8-2.1-2.5-2-2.4-2-2.2-1.8-2-1.7-1.8-1.5-1.6-1.3-1.7-1.2-1.6-1-1.3-.7-1-.6-1-.4-1.3-.5-2.3M386.3 183.3l-.4-3.2-.4-3.9-.3-4.2-.1-4.1 .2-3.7 .3-2.8 .5-2.2 .6-1.6 .4-.9 .6-.7 .9-.8 1.6-.9 2.4-1.1 3.2-1 3.8-.9 4.4-.8 4.6-.7 4.8-.7 5.1-.5 5.6-.5 5.9-.3 5.8-.2 5.4 0 4.9 .3 4.2 .4 3.8 .6 3.4 .8 3.3 .9 3.3 1.3 3.5 1.7 3.6 2 3.6 2.5 3.7 2.8 3.9 3.2 4 3.4 4.1 3.7 4.4 3.9 4.5 4.3 4.6 4.5 4.7 4.7 4.6 4.7 4.3 4.5 4.2 4.6 4.2 4.6 4.1 4.7 3.9 4.5 3.8 4.5 3.5 4.1 3.3 3.8 3 3.5 2.8 3.2 2.6 3.1 2.4 3.1 2.4 3.3 2.3 3.6 2.1 3.8 2.1 3.9 2.1 4.1 2.2 4.2 2.4 4.3 3.1 4.5 3.7 4.7 3.4 4.4 2.7 3.8 1.3 2.4 .1-1 .8-1.3-1.8 .4-3.8 .5-4.8 .2-5.2 0-4.9-.1-4.5-.2-4.7-.5-4.9-.7-5.1-.9-5.2-.9-5.1-.9-5-1-4.9-1.1-5.1-1.1-5-1.2-5.2-1.2-5.1-1.2-5.2-1.1-5.2-1.1-5.1-1.1-5.2-1.1-5-1.1-5-1-4.9-1-4.8-.9-4.7-.8-4.4-.9-4.1-.9-3.8-1.1-3.6-1.1-3.3-1.1-3-1.2-2.5-1.2-2.3-1.3-1.9-1.6-1.7-1.8-1.5-2.4-1.5-2.9-1.5-3.2-1.6-3.5-1.7-3.3-1.7-3.2-1.7-3.1-1.7-3.2-1.7-3.2-1.8-3.2-1.8-3.1-2-3.1-2-3.1-2.1-3-2.1-3-2-2.7-1.9-2.7-2-2.4-1.9-2.3-1.8-2.1-1.6-1.8-1.4-1.7-1.2-1.7-1.1-1.6-.9-1.4-.6-.9-.3-.9-.4-1.2-.4-2.2M386.9 183.2l-.6-3.2-.5-3.8-.4-4.2-.2-4.1 0-3.7 .3-2.9 .4-2.1 .4-1.7 .5-1 .5-.8 1-.8 1.6-1.1 2.5-1 3.3-1 3.9-.9 4.3-.8 4.7-.7 4.8-.5 5.1-.5 5.6-.4 5.9-.2 5.8-.1 5.4 .2 4.8 .4 4.2 .6 3.8 .7 3.3 .9 3.2 1.1 3.1 1.4 3.4 1.8 3.4 2.1 3.4 2.5 3.6 2.9 3.7 3.3 3.9 3.5 4 3.7 4.2 4 4.5 4.4 4.5 4.6 4.6 4.7 4.4 4.7 4.3 4.6 4.2 4.5 4.1 4.6 4 4.7 4 4.6 3.7 4.4 3.6 4.1 3.3 3.8 3.1 3.4 2.8 3.1 2.7 3 2.4 3 2.4 3.2 2.3 3.4 2.2 3.6 2.2 3.9 2.2 4 2.4 4.1 2.6 4.3 3.3 4.6 3.8 4.6 3.6 4.3 2.8 3.6 1.3 2.1 .3-1.4 1.1-1.5-1.6 .5-3.8 .6-4.8 .3-5.2 .1-4.9 .1-4.5-.1-4.7-.5-5-.6-5.1-.8-5.1-.9-5.2-1-5-.9-4.9-1.1-5.1-1.2-5-1.2-5.1-1.3-5.2-1.2-5.1-1.2-5.2-1.2-5.1-1.2-5.2-1.2-5-1.2-4.9-1.2-4.9-1.1-4.8-1.1-4.6-1-4.4-1-4-1.1-3.7-1.2-3.5-1.3-3.2-1.2-2.8-1.2-2.4-1.3-1.9-1.3-1.6-1.5-1.4-1.6-1.3-2.2-1.3-2.8-1.3-3.2-1.6-3.5-1.7-3.5-1.7-3.3-1.6-3.1-1.7-3.2-1.7-3.2-1.8-3.3-2-3.2-2-3.1-2.1-3.1-2.2-3-2.1-2.9-2.1-2.8-2.1-2.6-2.1-2.4-2.1-2.3-1.9-1.9-1.7-1.8-1.4-1.5-1.3-1.5-1.2-1.6-1.1-1.2-.6-.8-.5-.6-.4-1.1-.6-2.1M387.7 183l-.5-3.1-.4-3.8-.3-4.2-.2-4.1 .1-3.5 .3-2.8 .5-2 .4-1.5 .4-.8 .4-.5 .8-.6 1.5-.9 2.3-.9 3.1-1 3.8-.8 4.3-.8 4.6-.6 4.7-.6 5.2-.4 5.5-.4 5.9-.3 5.7 0 5.4 .1 4.7 .4 4.1 .5 3.7 .7 3.2 .8 3.1 1 3.1 1.3 3.3 1.7 3.3 2 3.4 2.5 3.6 2.8 3.7 3.1 3.9 3.5 4.1 3.7 4.3 3.9 4.4 4.3 4.6 4.6 4.6 4.6 4.5 4.7 4.3 4.5 4.2 4.5 4.2 4.6 4 4.6 4 4.6 3.8 4.4 3.6 4.1 3.3 3.8 3.1 3.4 2.8 3.1 2.6 3 2.5 3 2.4 3.2 2.2 3.4 2.2 3.6 2.2 3.9 2.2 4 2.3 4.1 2.6 4.4 3.3 4.6 3.7 4.7 3.5 4.3 2.7 3.6 1.2 2 .3-1.9 1.4-2.1-1.4 .4-3.6 .5-4.7 .2-5.2 0-4.8 0-4.5-.2-4.6-.4-4.9-.7-5.1-.9-5.2-.9-5.1-1-4.9-1-5-1.1-5-1.2-5.1-1.2-5.1-1.3-5.1-1.2-5.1-1.2-5.2-1.2-5.2-1.2-5.1-1.2-5-1.2-5-1.1-4.9-1.1-4.8-1-4.6-1-4.4-1-4-1-3.6-1.1-3.5-1.2-3.2-1.2-2.8-1.1-2.3-1.2-1.9-1.2-1.5-1.3-1.3-1.5-1.3-2.1-1.3-2.7-1.5-3.2-1.5-3.5-1.8-3.5-1.7-3.2-1.7-3.1-1.7-3.2-1.8-3.2-1.8-3.2-2-3.2-2.1-3.2-2.1-3.1-2.2-3-2.1-2.9-2.1-2.7-2.1-2.7-2-2.4-2.1-2.3-1.9-2-1.7-1.7-1.4-1.6-1.2-1.5-1.2-1.6-1-1.2-.5-.8-.4-.6-.4-1-.5-2.1M389.1 182.8l-.6-3.1-.5-3.7-.4-4.1-.2-4.1 0-3.5 .2-2.6 .4-2 .3-1.5 .3-.7 .2-.4 .6-.6 1.4-.9 2.3-1.1 3-1 3.8-.9 4.3-.9 4.6-.7 4.7-.6 5.1-.5 5.6-.4 5.8-.3 5.8-.1 5.4 0 4.7 .4 4.2 .5 3.6 .7 3.3 .8 3.1 1.1 3.1 1.3 3.3 1.7 3.4 2.1 3.4 2.5 3.5 2.8 3.7 3.2 3.9 3.6 4 3.7 4.2 4 4.4 4.3 4.5 4.6 4.6 4.8 4.4 4.7 4.3 4.6 4.1 4.5 4 4.7 4 4.7 3.9 4.6 3.7 4.4 3.6 4.2 3.3 3.8 3 3.5 2.8 3.2 2.5 3 2.4 3 2.3 3.1 2.2 3.4 2.1 3.6 2.1 3.8 2.2 4 2.3 4.2 2.7 4.4 3.3 4.7 3.8 4.7 3.6 4.3 2.6 3.5 1.1 1.6 .3-2.8 2-2.7-.9 .3-3.5 .5-4.7 .3-5.1 .1-4.8 .1-4.4-.1-4.7-.4-4.8-.6-5.1-.7-5.2-.9-5.1-.9-5-.9-4.9-1-5.1-1.1-5-1.2-5.2-1.1-5.1-1.2-5.2-1.1-5.2-1.2-5.1-1.1-5.2-1.2-5-1.1-4.9-1.2-4.9-1.1-4.9-1-4.6-.9-4.4-1-4-1-3.6-1.2-3.5-1.2-3.2-1.2-2.7-1.2-2.3-1.3-1.9-1.2-1.5-1.4-1.3-1.6-1.1-2.1-1.3-2.7-1.3-3.2-1.5-3.6-1.7-3.5-1.7-3.3-1.6-3.1-1.6-3.2-1.7-3.3-1.8-3.3-1.9-3.3-2-3.2-2.1-3.1-2.1-3.1-2.1-3-2.1-2.8-2-2.6-2.1-2.6-2.1-2.3-1.9-2-1.6-1.8-1.4-1.4-1.1-1.5-1.3-1.6-.9-1.2-.6-.7-.3-.4-.3-.8-.5-2M385.2 151.2l3.4-1.4 5-1.9 6.2-2.2 7.1-2.2 7.5-1.7 7.5-.9 7.1-.1 6.9 .6 6.7 1.1 6.5 1.6 6.2 1.8 5.9 2.2 5.4 2.6 4.9 2.8 4.5 3 4.2 3.1 4.1 3.3 4.3 3.4 4.8 4 5 4.5 5 4.6 4.9 4.6 4.8 4.6 4.7 4.3 4.7 4.4 4.7 4.5 4.6 4.6 4.5 4.6 4.4 4.6 4.1 4.5 4 4.4 4 4.5 3.9 4.3 3.8 4.2 3.7 4 3.4 3.8 3.3 3.6 3.2 3.5 3 3.2 2.7 2.8 2.3 2.2 1.7 1.5M385.3 151.5l3.5-1 5.1-1.6 6.3-1.9 7.1-1.9 7.4-1.5 7.3-.8 7 .1 6.7 .5 6.7 .9 6.4 1.3 6.2 1.5 5.9 1.9 5.5 2.2 5 2.5 4.6 2.8 4.3 3 4.1 3.1 4.4 3.5 4.7 4.1 4.9 4.6 4.8 4.8 4.6 4.9 4.6 4.8 4.4 4.6 4.5 4.5 4.6 4.7 4.5 4.7 4.5 4.7 4.4 4.5 4.3 4.4 4.1 4.2 4.2 4.2 4.2 4.2 4 3.9 3.9 3.8 3.6 3.6 3.4 3.5 3.3 3.4 3 3.2 2.6 2.9 2.1 2.3 1.6 1.7M385.4 151.7l3.6-.8 5.1-1.3 6.4-1.6 7.1-1.6 7.4-1.3 7.1-.5 6.8 .2 6.6 .5 6.6 .9 6.3 1.1 6.2 1.4 5.8 1.6 5.5 1.9 5.1 2.2 4.7 2.5 4.4 2.8 4.2 3.1 4.5 3.4 4.7 4 4.8 4.7 4.7 4.9 4.5 5 4.4 5 4.2 4.8 4.3 4.8 4.4 4.8 4.3 4.9 4.4 4.7 4.4 4.6 4.3 4.3 4.3 4.2 4.3 4.1 4.3 3.9 4.2 3.8 4.1 3.6 3.8 3.4 3.6 3.3 3.4 3.3 3 3.2 2.7 2.8 2 2.4 1.5 1.8M385.7 152.9l3.5-1.1 5.1-1.6 6.3-1.9 7-1.8 7.3-1.4 7.2-.7 6.8 .1 6.6 .6 6.6 1 6.3 1.3 6.1 1.6 5.7 1.9 5.3 2.1 4.9 2.4 4.5 2.7 4.2 2.9 4.2 3.1 4.4 3.3 4.7 4 4.9 4.5 4.8 4.8 4.7 4.8 4.6 4.8 4.4 4.6 4.5 4.6 4.5 4.7 4.5 4.7 4.4 4.7 4.4 4.6 4.2 4.5 4.1 4.3 4.2 4.2 4.1 4.2 4 3.9 3.9 3.8 3.6 3.6 3.4 3.4 3.3 3.4 3.1 3.1 2.6 2.8 2.2 2.2 1.7 1.7M386.3 154.8l3.6-.9 5-1.6 6.3-2 6.8-2 7.2-1.7 7-1 6.7-.3 6.6 .2 6.6 .6 6.4 1.1 6.1 1.4 5.8 1.7 5.3 2.2 4.9 2.6 4.4 2.9 4 3.2 3.9 3.3 4.1 3.7 4.5 4.3 4.6 4.6 4.6 4.9 4.6 5 4.5 4.8 4.6 4.5 4.6 4.5 4.7 4.5 4.8 4.5 4.7 4.4 4.6 4.3 4.5 4.2 4.3 4.1 4.3 4.1 4.2 4.1 4 4 3.7 3.9 3.5 3.7 3.2 3.6 3 3.7 2.7 3.3 2.4 3.1 1.9 2.5 1.5 1.8M386.3 154.9l3.6-1 5.1-1.5 6.2-1.9 6.9-1.8 7.2-1.4 7-.7 6.6 0 6.5 .5 6.4 .8 6.3 1.2 5.9 1.5 5.7 1.7 5.2 2 4.8 2.4 4.4 2.6 4.1 2.9 4.1 3.1 4.2 3.5 4.7 4 4.7 4.5 4.7 4.8 4.6 4.9 4.6 4.8 4.4 4.7 4.5 4.6 4.5 4.7 4.6 4.7 4.5 4.6 4.4 4.5 4.3 4.4 4.2 4.2 4.2 4.2 4.2 4.1 4.1 3.9 3.8 3.7 3.6 3.6 3.4 3.4 3.2 3.4 3 3.2 2.6 2.9 2.1 2.3 1.5 1.8M386.8 156.6l3.5-1.2 5.1-1.8 6.1-2 6.8-2 7.1-1.7 6.9-.9 6.6-.1 6.4 .4 6.5 .8 6.2 1.3 5.9 1.6 5.6 1.9 5.1 2.2 4.6 2.5 4.2 2.8 3.9 3 3.9 3.2 4.2 3.5 4.5 4 4.7 4.5 4.8 4.7 4.7 4.8 4.7 4.7 4.6 4.4 4.7 4.5 4.7 4.5 4.6 4.6 4.7 4.5 4.4 4.5 4.3 4.3 4.2 4.3 4.1 4.3 4.1 4.2 3.9 4.1 3.7 3.9 3.4 3.7 3.2 3.6 3.1 3.5 2.8 3.2 2.6 2.9 2.1 2.3 1.6 1.7M387.2 157.9l3.6-1.2 5-1.7 6.2-2 6.7-1.9 7-1.6 6.7-.8 6.4-.1 6.4 .5 6.3 .8 6.1 1.3 5.8 1.5 5.5 1.8 5 2.2 4.4 2.4 4.2 2.6 3.9 2.9 3.9 3.2 4.1 3.4 4.6 3.9 4.7 4.5 4.7 4.7 4.7 4.7 4.7 4.8 4.6 4.5 4.6 4.5 4.6 4.6 4.6 4.6 4.6 4.5 4.5 4.5 4.2 4.4 4.2 4.3 4.2 4.3 4 4.1 4 4.1 3.7 3.9 3.4 3.6 3.3 3.5 3.1 3.5 2.9 3.2 2.5 2.8 2.2 2.3 1.6 1.7M387.1 157.5l3.6-.8 5.2-1.4 6.2-1.6 6.9-1.6 6.9-1.1 6.6-.5 6.3 .1 6.2 .6 6.2 .8 6 1.1 5.8 1.3 5.4 1.5 5 1.7 4.6 2 4.3 2.3 4.2 2.6 4 2.9 4.3 3.4 4.6 3.9 4.6 4.5 4.6 4.8 4.6 5 4.4 5 4.3 4.8 4.3 4.8 4.4 4.8 4.4 4.8 4.4 4.8 4.4 4.5 4.3 4.4 4.2 4.2 4.4 4.1 4.3 3.9 4.1 3.8 4 3.6 3.8 3.3 3.5 3.3 3.3 3.3 3 3.1 2.6 2.8 2.1 2.4 1.5 1.8M387.8 160l3.6-1.2 5-1.8 6.1-2 6.7-2 6.8-1.6 6.5-.9 6.3-.1 6.2 .5 6.2 .8 6 1.2 5.7 1.6 5.4 1.8 4.7 2.2 4.3 2.3 4 2.7 3.8 2.8 3.8 3.1 4.1 3.5 4.5 3.9 4.6 4.3 4.7 4.7 4.8 4.7 4.7 4.7 4.6 4.5 4.7 4.5 4.7 4.5 4.6 4.6 4.6 4.5 4.5 4.5 4.3 4.4 4.1 4.3 4.2 4.3 4 4.2 3.9 4.1 3.6 3.9 3.4 3.6 3.2 3.6 3.1 3.4 2.8 3.2 2.6 2.9 2.1 2.3 1.7 1.7M387.8 160l3.7-.7 5.2-1.4 6.2-1.6 6.7-1.6 6.8-1.3 6.3-.7 6 0 6.1 .2 6.1 .6 6 .8 5.8 1.1 5.4 1.4 5 1.6 4.5 2.1 4.1 2.3 4 2.8 3.8 3 4.1 3.5 4.4 4.1 4.4 4.6 4.4 5 4.4 5.1 4.4 5 4.3 4.8 4.4 4.8 4.5 4.7 4.6 4.6 4.6 4.6 4.5 4.4 4.5 4.2 4.4 4 4.5 4 4.4 3.8 4.2 3.8 3.9 3.6 3.6 3.4 3.4 3.4 3.1 3.4 2.8 3.3 2.4 3 1.9 2.5 1.4 2M388.2 161.5l3.7-1 5.1-1.7 6.1-2 6.6-1.9 6.6-1.6 6.4-.9 6-.1 6.1 .2 6.2 .7 5.9 1.1 5.7 1.4 5.3 1.6 4.7 2 4.3 2.3 3.9 2.6 3.7 2.9 3.7 3.1 4.1 3.5 4.3 4 4.5 4.5 4.6 4.7 4.6 4.8 4.6 4.8 4.6 4.6 4.7 4.5 4.7 4.5 4.7 4.5 4.6 4.5 4.6 4.4 4.4 4.3 4.3 4.2 4.2 4.1 4.2 4.1 3.9 4.1 3.7 3.8 3.4 3.7 3.1 3.5 3 3.5 2.8 3.3 2.4 2.9 2 2.4 1.6 1.8M388.3 161.7l3.6-1.2 5.1-1.7 6.1-1.9 6.6-1.9 6.7-1.3 6.3-.7 6 .2 6 .5 6 1 5.9 1.3 5.5 1.6 5.1 1.7 4.6 2 4.1 2.1 3.8 2.4 3.8 2.6 3.9 2.9 4.2 3.2 4.5 3.8 4.7 4.2 4.7 4.5 4.7 4.8 4.7 4.7 4.6 4.6 4.6 4.6 4.5 4.6 4.6 4.7 4.4 4.7 4.3 4.7 4.2 4.4 4.1 4.4 4.1 4.4 4.1 4.2 3.9 4 3.7 3.8 3.5 3.5 3.3 3.3 3.2 3.3 3 3.1 2.6 2.7 2.3 2.2 1.7 1.7M388.7 163.3l3.7-1.2 5.1-1.7 6-2 6.6-1.8 6.5-1.5 6.2-.8 5.9-.1 5.9 .4 6 .8 5.8 1.2 5.6 1.4 5.1 1.7 4.5 1.9 4 2.2 3.8 2.5 3.7 2.7 3.7 3 4.1 3.4 4.3 3.8 4.5 4.3 4.7 4.6 4.6 4.8 4.7 4.8 4.6 4.6 4.7 4.5 4.6 4.6 4.7 4.5 4.5 4.6 4.5 4.5 4.3 4.3 4.2 4.3 4.2 4.3 4.1 4.1 3.9 4.1 3.7 3.8 3.4 3.6 3.1 3.4 3.1 3.4 2.8 3.2 2.6 2.8 2.1 2.4 1.6 1.7M388.9 163.9l3.8-.8 5.2-1.4 6.1-1.7 6.5-1.6 6.5-1.3 5.9-.6 5.7-.1 5.8 .3 5.9 .6 5.8 .9 5.5 1.1 5.1 1.3 4.6 1.6 4.2 1.9 3.8 2.3 3.7 2.6 3.8 3 4 3.4 4.3 3.9 4.3 4.5 4.5 4.8 4.4 5 4.4 5 4.5 4.8 4.4 4.7 4.5 4.7 4.6 4.7 4.6 4.5 4.5 4.5 4.5 4.2 4.4 4.1 4.4 4 4.3 3.9 4.1 3.8 3.9 3.7 3.5 3.4 3.3 3.3 3.1 3.4 2.8 3.2 2.4 3 2 2.5 1.4 1.9M389.2 164.9l3.7-1.2 5.1-1.8 6-1.8 6.5-1.8 6.5-1.2 5.9-.6 5.7 .2 5.8 .5 5.8 1 5.6 1.3 5.3 1.5 4.9 1.6 4.3 1.8 3.9 2 3.6 2.2 3.7 2.5 3.8 2.8 4.1 3.1 4.5 3.6 4.6 4.2 4.6 4.5 4.8 4.7 4.6 4.8 4.6 4.7 4.6 4.6 4.5 4.7 4.5 4.7 4.4 4.7 4.3 4.6 4.2 4.5 4.1 4.4 4.2 4.3 4 4.2 3.9 4 3.8 3.7 3.4 3.5 3.3 3.3 3.2 3.2 3 3.1 2.7 2.7 2.2 2.2 1.7 1.6M389.6 166.1l3.7-1 5.2-1.5 6-1.7 6.4-1.7 6.4-1.3 5.7-.6 5.6-.1 5.7 .4 5.7 .7 5.6 1 5.4 1.2 4.9 1.4 4.3 1.7 3.9 1.9 3.7 2.2 3.6 2.5 3.7 2.9 4 3.3 4.2 3.8 4.4 4.3 4.5 4.7 4.6 4.9 4.5 4.9 4.5 4.8 4.5 4.6 4.6 4.7 4.6 4.6 4.5 4.6 4.5 4.5 4.4 4.3 4.3 4.2 4.3 4.1 4.2 4.1 4 3.8 3.8 3.7 3.5 3.5 3.2 3.3 3.1 3.3 2.8 3.2 2.5 2.9 2.1 2.4 1.5 1.8M389.6 166.4l3.8-1 5.2-1.4 6.1-1.6 6.4-1.4 6.4-1.1 5.6-.3 5.4 .2 5.6 .5 5.6 .8 5.5 1 5.3 1.2 4.8 1.4 4.3 1.4 3.8 1.6 3.7 2 3.7 2.3 3.8 2.7 4.1 3.1 4.4 3.7 4.4 4.2 4.5 4.7 4.5 4.9 4.5 5 4.4 4.9 4.4 4.8 4.3 4.8 4.4 4.9 4.4 4.7 4.4 4.6 4.2 4.4 4.3 4.3 4.3 4.1 4.3 4 4.1 3.7 3.9 3.6 3.7 3.2 3.4 3.2 3.2 3.1 3 3.1 2.6 2.7 2.1 2.4 1.6 1.8M390.2 168.4l3.8-.9 5.2-1.6 6-1.8 6.3-1.7 6.1-1.5 5.6-.8 5.3-.2 5.6 .2 5.7 .5 5.6 .9 5.3 1.1 4.8 1.4 4.3 1.7 3.7 1.9 3.5 2.2 3.4 2.7 3.6 3 3.8 3.4 4.1 3.9 4.2 4.4 4.4 4.7 4.5 4.9 4.6 4.9 4.5 4.7 4.6 4.6 4.7 4.6 4.7 4.5 4.7 4.4 4.6 4.4 4.5 4.2 4.4 4.1 4.3 4.1 4.3 4 4 3.9 3.7 3.7 3.3 3.5 3.1 3.5 3 3.4 2.6 3.3 2.4 3 1.9 2.5 1.5 1.9M390.5 169.3l3.8-1 5.2-1.6 5.9-1.7 6.3-1.8 6.1-1.3 5.4-.7 5.3-.1 5.5 .2 5.6 .6 5.5 .9 5.2 1.2 4.7 1.4 4.1 1.6 3.7 1.9 3.4 2.1 3.4 2.5 3.6 3 3.8 3.3 4.1 3.8 4.3 4.3 4.4 4.6 4.5 4.9 4.6 4.9 4.6 4.8 4.6 4.5 4.6 4.7 4.7 4.5 4.6 4.5 4.5 4.5 4.5 4.2 4.3 4.2 4.3 4.1 4.2 4.1 4 3.9 3.7 3.7 3.4 3.4 3.1 3.4 3 3.4 2.7 3.2 2.5 2.9 2 2.5 1.5 1.8M390.8 170.2l3.7-1.2 5.1-1.7 5.9-2 6.3-1.8 6-1.5 5.4-.7 5.3-.2 5.5 .3 5.6 .7 5.4 1.1 5.1 1.3 4.7 1.6 4 1.7 3.4 2 3.3 2.2 3.3 2.5 3.5 3 3.9 3.3 4.1 3.7 4.3 4.1 4.6 4.6 4.6 4.7 4.7 4.8 4.8 4.6 4.6 4.5 4.7 4.5 4.7 4.6 4.7 4.5 4.5 4.4 4.3 4.4 4.2 4.2 4.2 4.3 4.1 4.1 3.9 4.1 3.6 3.8 3.3 3.6 3 3.4 3 3.3 2.7 3.2 2.5 2.9 2.1 2.4 1.6 1.7M391 170.9l3.8-1.1 5.1-1.6 5.9-1.8 6.2-1.7 6-1.4 5.3-.7 5.1-.2 5.5 .3 5.5 .6 5.4 .9 5.1 1.3 4.6 1.4 4 1.6 3.5 1.8 3.2 2.1 3.3 2.5 3.6 2.9 3.8 3.3 4.1 3.8 4.2 4.2 4.4 4.6 4.6 4.8 4.6 4.9 4.7 4.7 4.6 4.6 4.6 4.5 4.7 4.6 4.6 4.5 4.6 4.4 4.4 4.3 4.3 4.2 4.3 4.2 4.1 4 4 4 3.7 3.7 3.3 3.5 3.1 3.4 2.9 3.3 2.8 3.2 2.4 2.9 2 2.5 1.5 1.8M391.2 171.8l3.9-1 5.2-1.5 5.9-1.7 6.2-1.6 5.9-1.3 5.1-.6 5-.2 5.3 .2 5.5 .6 5.3 .8 5.1 1 4.6 1.3 3.9 1.4 3.5 1.7 3.3 2 3.3 2.5 3.5 2.9 3.8 3.3 4 3.7 4.2 4.3 4.3 4.7 4.4 4.9 4.6 5 4.5 4.8 4.6 4.7 4.6 4.6 4.6 4.6 4.7 4.5 4.5 4.4 4.5 4.2 4.4 4.1 4.4 4.1 4.2 3.9 4.1 3.9 3.7 3.6 3.4 3.5 3.1 3.3 3 3.3 2.7 3.2 2.4 3 1.9 2.5 1.5 1.9M391.8 173.9l3.9-1 5.2-1.6 5.8-1.8 6.1-1.8 5.7-1.4 5-.8 4.9-.3 5.2 .1 5.4 .4 5.3 .8 5 1.1 4.5 1.3 3.8 1.5 3.3 1.8 3.1 2.1 3.1 2.5 3.4 3 3.7 3.4 3.8 3.7 4.1 4.3 4.3 4.6 4.5 4.9 4.6 4.9 4.7 4.8 4.7 4.5 4.7 4.5 4.8 4.5 4.7 4.4 4.6 4.2 4.6 4.2 4.4 4.1 4.3 4.1 4.2 4 4 4 3.6 3.7 3.3 3.6 2.9 3.4 2.9 3.4 2.6 3.3 2.2 3 2 2.5 1.4 2M391.9 174.2l3.8-1.3 5.1-1.8 5.8-2 6.1-1.8 5.8-1.4 5-.8 4.9-.1 5.2 .3 5.4 .7 5.2 1.1 4.9 1.3 4.3 1.5 3.7 1.7 3.1 1.8 3 2.1 3 2.4 3.5 2.9 3.7 3.2 4.1 3.6 4.2 4 4.5 4.4 4.7 4.7 4.7 4.8 4.8 4.6 4.8 4.5 4.7 4.5 4.7 4.5 4.6 4.5 4.5 4.5 4.3 4.3 4.3 4.3 4.1 4.3 4 4.2 3.9 4.1 3.5 3.8 3.2 3.6 3 3.4 2.9 3.3 2.7 3.1 2.5 2.9 2.1 2.3 1.7 1.8M392 174.5l4-.8 5.2-1.3 5.9-1.6 6.1-1.5 5.7-1.1 4.8-.6 4.6-.2 5.1 .2 5.3 .4 5.1 .6 4.9 .9 4.5 1.1 3.7 1.2 3.3 1.5 3.2 1.8 3.2 2.3 3.5 2.9 3.7 3.3 3.9 3.7 4 4.3 4.2 4.7 4.3 5 4.5 5.1 4.5 4.9 4.5 4.8 4.5 4.6 4.7 4.7 4.6 4.4 4.6 4.4 4.5 4.2 4.5 4 4.5 4 4.3 3.8 4.2 3.8 3.8 3.5 3.4 3.4 3.1 3.2 3 3.4 2.7 3.2 2.3 2.9 1.9 2.6 1.3 2M392.5 176.2l3.9-1 5.2-1.5 5.8-1.7 6-1.7 5.6-1.3 4.7-.7 4.6-.2 5.1 .2 5.2 .4 5.1 .7 4.8 1 4.3 1.2 3.6 1.4 3.1 1.5 3 2 3 2.3 3.4 2.9 3.7 3.3 3.8 3.7 4 4.2 4.3 4.6 4.4 4.9 4.6 5 4.6 4.8 4.7 4.6 4.6 4.6 4.7 4.5 4.7 4.4 4.6 4.4 4.5 4.2 4.5 4.1 4.3 4 4.3 4 4 3.9 3.7 3.6 3.3 3.5 3 3.3 2.8 3.4 2.6 3.2 2.4 3 1.9 2.5 1.4 1.9M392.8 177.1l3.8-1.2 5.2-1.7 5.7-1.9 6-1.8 5.5-1.4 4.7-.8 4.6-.2 5.1 .2 5.1 .6 5.1 .9 4.7 1.2 4.2 1.4 3.5 1.5 2.9 1.7 2.8 2 3 2.3 3.3 2.9 3.7 3.2 3.8 3.6 4.1 4.1 4.4 4.5 4.6 4.7 4.7 4.8 4.8 4.7 4.7 4.5 4.8 4.5 4.7 4.5 4.7 4.4 4.6 4.4 4.4 4.3 4.3 4.2 4.2 4.3 4.1 4.1 3.9 4 3.5 3.8 3.2 3.5 2.9 3.4 2.9 3.4 2.6 3.1 2.4 2.9 2 2.5 1.6 1.8M418.3 191l3.6 2.2 5.1 3 6 3.4 6.4 3.6 6.5 3.5 6 3 5.7 2.7 5.6 2.7 5.7 2.6 5.7 2.7 5.7 2.8 5.6 2.8 5.6 2.9 5.5 2.9 5.7 2.9 5.6 3 5.8 3.1 5.9 3.2 6 3.5 6.1 3.6 5.9 3.5 5.8 3.4 5.4 3 4.9 2.6 4.8 2.3 5.1 2.3 4.9 2.1 4.5 2 3.9 1.7 2.8 1.4M417.5 192.5l3.6 2.2 5.1 2.8 6.1 3.3 6.6 3.4 6.6 3.2 6.1 2.9 5.7 2.7 5.7 2.6 5.6 2.7 5.6 2.9 5.6 2.9 5.6 3.1 5.4 3 5.5 3 5.6 3 5.7 3 5.8 2.9 5.9 3.1 6.1 3.2 6.2 3.4 6.1 3.4 5.8 3.3 5.4 3 4.9 2.7 4.8 2.5 4.9 2.4 4.9 2.4 4.4 2.1 3.8 1.9 2.9 1.4M417.4 192.5l3.8 2 5.2 2.8 6 3.3 6.5 3.6 6.4 3.6 6 3.2 5.5 3 5.5 3 5.5 2.9 5.7 2.8 5.6 2.8 5.7 2.8 5.7 2.7 5.7 2.6 5.7 2.6 5.8 2.8 5.9 2.8 5.9 3.2 6 3.4 5.9 3.7 5.8 3.8 5.6 3.6 5.3 3.4 4.9 2.8 4.8 2.5 5.1 2.3 5 2.1 4.6 1.8 4 1.5 3 1.1M417.2 192.9l3.8 2 5 3 5.9 3.6 6.3 3.9 6.3 4 5.8 3.5 5.4 3.2 5.5 2.9 5.7 2.8 5.7 2.6 5.9 2.5 5.8 2.4 5.8 2.4 5.8 2.4 5.8 2.5 5.8 2.8 5.7 3.1 5.8 3.4 5.7 3.7 5.8 4.1 5.6 4 5.5 3.8 5.4 3.4 5 2.8 5 2.2 5.3 2 5.2 1.8 4.7 1.4 4.1 1.3 3 1M416.3 194.7l3.6 2.1 5.1 2.8 6.2 3.3 6.6 3.4 6.6 3.3 6 3 5.7 2.7 5.7 2.7 5.6 2.7 5.6 2.9 5.6 2.9 5.6 3.1 5.5 3 5.5 2.9 5.6 2.9 5.7 2.9 5.8 3 5.9 3 6 3.2 6.1 3.4 6 3.4 5.8 3.4 5.5 3.1 4.9 2.8 4.9 2.5 5 2.5 4.9 2.3 4.5 2.1 3.9 1.8 2.8 1.4M416.2 194.8l3.6 2.2 5 3 5.9 3.6 6.4 3.9 6.3 3.8 5.9 3.4 5.6 3 5.6 2.7 5.8 2.7 5.7 2.5 5.8 2.5 5.8 2.5 5.8 2.6 5.7 2.6 5.7 2.8 5.6 2.9 5.7 3.1 5.7 3.4 5.7 3.7 5.8 3.8 5.7 3.9 5.7 3.6 5.5 3.2 5.1 2.7 5.2 2.3 5.2 2 5.2 1.8 4.7 1.7 4 1.4 2.9 1.2M415.7 195.6l3.7 2.2 5 3 5.9 3.6 6.4 3.7 6.5 3.7 5.9 3.3 5.6 2.9 5.7 2.8 5.7 2.6 5.7 2.6 5.8 2.7 5.7 2.6 5.7 2.7 5.7 2.7 5.6 2.7 5.7 3 5.7 3 5.7 3.3 5.8 3.6 5.8 3.7 5.8 3.8 5.7 3.5 5.5 3.3 5.1 2.7 5.1 2.3 5.3 2.2 5.1 1.9 4.7 1.8 3.9 1.5 2.9 1.3M415.2 196.5l3.6 2.3 4.9 3.2 5.9 3.7 6.3 4 6.3 3.9 5.9 3.4 5.7 2.9 5.7 2.7 5.7 2.5 5.9 2.5 5.8 2.3 5.9 2.5 5.7 2.5 5.7 2.6 5.7 2.9 5.6 3 5.6 3.2 5.5 3.5 5.6 3.7 5.8 3.9 5.7 3.9 5.7 3.5 5.6 3.2 5.2 2.6 5.3 2.2 5.4 2 5.2 1.8 4.8 1.6 3.9 1.4 2.9 1.3M413.8 199l3.7 2.1 5.2 2.7 6.2 3.1 6.7 3.2 6.7 3.2 6.2 2.9 5.7 2.8 5.7 2.7 5.6 2.9 5.5 3.1 5.5 3.1 5.5 3.1 5.5 3.2 5.5 2.9 5.6 2.9 5.7 2.8 5.8 2.7 5.9 2.8 6 3 6.1 3.3 6 3.4 5.8 3.3 5.5 3.3 5.1 2.9 5 2.8 5.1 2.7 4.9 2.5 4.5 2.3 3.8 1.8 2.8 1.3M413.9 199l3.5 2.3 5.1 3 6 3.4 6.5 3.6 6.6 3.4 6.1 3.1 5.8 2.7 5.7 2.6 5.8 2.6 5.7 2.7 5.6 2.7 5.7 2.9 5.6 2.9 5.5 3 5.6 3 5.5 3 5.6 3.1 5.7 3.1 5.8 3.3 5.9 3.5 6 3.4 5.8 3.4 5.7 3.1 5.2 2.7 5.2 2.4 5.3 2.4 5 2.2 4.6 2.1 3.9 1.7 2.8 1.5M413.3 199.9l3.8 2 5.1 2.8 6.2 3.2 6.6 3.4 6.6 3.3 6.1 3.1 5.7 2.8 5.7 2.9 5.6 2.9 5.5 3 5.6 2.9 5.6 3.1 5.5 2.9 5.6 2.9 5.7 2.7 5.7 2.8 5.7 2.8 5.8 2.8 5.9 3.2 6 3.4 5.9 3.5 5.8 3.5 5.5 3.3 5.1 3 5.1 2.7 5.2 2.6 5 2.4 4.6 2.1 3.9 1.7 2.8 1.2M412.7 201.2l3.9 1.6 5.3 2.4 6.2 3.1 6.7 3.4 6.5 3.6 5.9 3.4 5.5 3.2 5.5 3.3 5.4 3.2 5.5 3.2 5.5 3 5.6 2.9 5.7 2.7 5.8 2.5 5.9 2.4 5.8 2.4 5.9 2.4 5.9 2.8 5.9 3.1 5.8 3.6 5.8 3.8 5.5 3.9 5.3 3.7 5 3.3 5.1 3 5.2 2.7 5.1 2.3 4.7 1.8 4.1 1.4 3 .8M412.4 201.6l3.5 2.5 4.8 3.2 5.9 3.7 6.5 3.8 6.5 3.6 6.2 3 5.8 2.6 5.9 2.5 5.9 2.3 5.9 2.5 5.7 2.5 5.7 2.7 5.7 2.9 5.5 3 5.4 3.2 5.5 3.2 5.4 3.3 5.5 3.3 5.6 3.4 5.8 3.6 5.9 3.4 6 3.3 5.8 3 5.5 2.5 5.4 2.2 5.5 2.2 5.2 2.1 4.6 2 3.8 1.8 2.7 1.6M411.7 202.8l3.7 2.1 5.2 2.7 6.1 3.3 6.6 3.4 6.7 3.4 6.1 3.1 5.7 2.8 5.7 2.9 5.7 2.8 5.6 2.9 5.6 3 5.5 3 5.6 2.9 5.6 2.9 5.6 2.8 5.7 2.8 5.7 2.8 5.7 2.8 5.8 3.1 5.9 3.4 5.9 3.5 5.8 3.5 5.6 3.3 5.3 3.1 5.2 2.7 5.3 2.6 5.1 2.4 4.6 2.1 3.8 1.7 2.9 1.2M411.7 202.9l3.7 1.9 5.2 2.9 6 3.4 6.5 3.7 6.4 3.7 6 3.5 5.6 3.1 5.6 3 5.7 2.8 5.6 2.8 5.7 2.7 5.8 2.7 5.7 2.6 5.8 2.6 5.7 2.6 5.7 2.7 5.6 2.8 5.6 3.1 5.7 3.3 5.7 3.7 5.7 3.8 5.7 3.8 5.5 3.5 5.3 3.1 5.4 2.6 5.4 2.4 5.3 2.1 4.7 1.7 4 1.4 2.9 1M410.7 204.7l3.9 1.7 5.3 2.5 6.2 3.1 6.6 3.6 6.5 3.6 5.9 3.5 5.6 3.2 5.5 3.3 5.4 3.2 5.6 3.1 5.5 2.9 5.7 2.9 5.7 2.6 5.9 2.5 5.8 2.4 5.8 2.3 5.8 2.5 5.7 2.8 5.7 3.2 5.8 3.6 5.7 3.8 5.5 3.9 5.4 3.8 5.3 3.4 5.2 3 5.4 2.6 5.2 2.3 4.8 1.8 4 1.2 3 .8M410.1 205.8l3.5 2.3 5.1 3 6 3.4 6.7 3.4 6.7 3.3 6.3 2.9 5.9 2.6 5.8 2.6 5.8 2.6 5.7 2.7 5.6 2.8 5.6 3.1 5.5 3.1 5.5 3.1 5.5 3.1 5.4 3.1 5.5 3 5.6 2.9 5.7 3.1 5.9 3.2 6 3.3 6 3.3 5.8 3.1 5.5 2.8 5.5 2.6 5.4 2.5 5.1 2.5 4.5 2.2 3.8 2 2.7 1.5M410.4 205.3l3.6 2.2 4.9 3.1 5.9 3.8 6.3 4 6.4 4 6 3.5 5.6 3 5.8 2.8 5.8 2.6 5.8 2.4 5.9 2.4 5.9 2.4 5.8 2.5 5.8 2.6 5.6 2.7 5.5 3 5.5 3.1 5.3 3.4 5.4 3.6 5.5 3.8 5.7 3.9 5.7 3.7 5.7 3.3 5.7 2.9 5.6 2.4 5.7 2 5.4 1.9 4.9 1.6 3.9 1.3 2.9 1.2M409 207.8l3.6 2.1 5.2 2.8 6.1 3.2 6.7 3.4 6.7 3.3 6.3 3 5.8 2.8 5.8 2.8 5.7 2.8 5.6 2.9 5.5 3 5.6 3 5.5 3.1 5.6 3 5.6 2.9 5.5 2.8 5.6 2.8 5.6 2.8 5.7 3 5.8 3.2 6 3.4 5.9 3.4 5.7 3.3 5.5 3.1 5.5 2.8 5.4 2.7 5.1 2.5 4.6 2.2 3.8 1.8 2.8 1.4M409.1 207.6l3.6 2.2 5 3 5.9 3.6 6.5 3.8 6.5 3.8 6 3.4 5.8 3 5.7 2.8 5.8 2.7 5.8 2.6 5.8 2.5 5.7 2.6 5.8 2.7 5.7 2.7 5.6 2.7 5.6 2.9 5.4 3 5.4 3.2 5.4 3.4 5.6 3.6 5.7 3.8 5.8 3.6 5.8 3.4 5.6 2.9 5.7 2.6 5.6 2.3 5.4 2 4.8 1.8 3.9 1.5 2.9 1.2M408 209.5l3.8 1.8 5.3 2.6 6.2 3.2 6.6 3.5 6.6 3.5 6.2 3.3 5.6 3.1 5.7 3.1 5.6 3 5.5 3.1 5.6 3 5.6 2.9 5.6 2.8 5.8 2.7 5.7 2.6 5.7 2.5 5.6 2.6 5.6 2.7 5.6 3 5.8 3.4 5.7 3.6 5.8 3.8 5.6 3.6 5.4 3.4 5.5 3 5.5 2.7 5.3 2.4 4.7 2 4 1.5 2.8 1M407.3 210.8l3.6 2.1 5.2 2.8 6.1 3.2 6.8 3.4 6.7 3.2 6.4 3 5.9 2.7 5.8 2.7 5.7 2.8 5.6 2.9 5.6 3 5.5 3.2 5.5 3.1 5.5 3.1 5.5 3 5.6 2.8 5.5 2.8 5.5 2.7 5.6 2.9 5.9 3.1 6 3.3 6 3.3 5.8 3.3 5.6 3.1 5.5 2.9 5.5 2.8 5.2 2.6 4.6 2.3 3.8 1.9 2.7 1.4M407.7 210.2l3.6 2.1 5 3.1 6 3.5 6.5 3.7 6.6 3.7 6.1 3.2 5.8 2.9 5.9 2.8 5.7 2.7 5.8 2.6 5.7 2.7 5.7 2.7 5.7 2.8 5.7 2.8 5.6 2.8 5.4 2.9 5.5 3 5.3 3.1 5.4 3.2 5.7 3.5 5.8 3.6 5.8 3.5 5.9 3.4 5.7 3 5.7 2.6 5.7 2.5 5.3 2.1 4.8 2 3.9 1.6 2.8 1.3M407 211.4l3.6 2.2 5 2.9 6 3.6 6.5 3.8 6.5 3.7 6.2 3.3 5.8 3 5.8 2.9 5.8 2.7 5.7 2.6 5.7 2.6 5.8 2.7 5.7 2.7 5.7 2.8 5.6 2.7 5.5 2.9 5.4 2.9 5.3 3.1 5.4 3.2 5.6 3.6 5.7 3.7 5.9 3.6 5.8 3.4 5.8 3.1 5.7 2.7 5.8 2.4 5.4 2.1 4.8 1.9 3.9 1.5 2.8 1.2M386 147.5l1 1.9 1.1 2.6 1.2 3.2 1.2 3.5 1.3 3.5 1.2 3.1 1.2 2.7 1.5 2.9 1.6 3.5 1.5 4.2 1.2 5.1 .2 5.8-.7 5.9-1.3 5.3-1.6 4.9-1.6 4.5-1.4 4.2-1.1 4-1.3 4.4-1.4 4.7-1.4 4.8-1.5 4.9-1.5 4.9-1.5 4.8-1.5 4.8-1.5 4.8-1.5 4.7-1.7 4.5-2 4.3-1.9 4.3-2 4.4-1.9 4.4-1.9 4.2-1.7 4-1.5 3.8-1.3 3.7-1.2 3.9-1.2 4-1 3.8-.9 3.7-.6 3.6-.6 3.5-.3 3.5-.1 3.6 0 3.8 .2 4.1 .3 4.2 .3 4.3 .4 4.3 .5 4.2 .6 4.3 .7 4.4 .7 4.3 .7 4.1 .8 4 .6 3.9 .7 3.7 .6 3.6 .8 3.7 .9 3.8 1.1 4 1.1 4.1 1.1 3.9 1.1 3.5 1.2 3.1 1.3 2.8 1.6 2.8 1.7 2.6 1.8 2.4 1.9 2.3 2.2 2.1 2.5 2 2.8 1.9 3.4 1.8 3.8 1.7 4.2 1.7 4.6 1.7 4.8 1.6 4.9 1.5 5.4 1.3 5.7 1.4 5.8 1.3 5.8 1.2 5.7 1.1 5.5 1.3 5.2 1.4 4.7 1.4 4.1 1.1 3.3 .6 2.6 .2 2.3-.2 2.1-.4 1.5-.5 1.1-.5 .8-.7 .7-.7 .7-1.3 .8-2.3 .9-3.3 .8-4 .8-4.3 .8-4.3 .7-4 .5-4.3 .4-4.6 .5-4.9 .6-4.8 .9-4.7 1-4.2 1-3.9 1.2-3.7 1.3-3.7 1.5-3.7 1.8-3.7 2-3.8 2.2-3.7 2.4-3.8 2.6-3.6 2.8-3.7 3-3.7 3.2-3.7 3.5-3.6 3.5-3.4 3.6-3.4 3.6-3.5 3.5-3.5 3.8-3.8 4-4 4-4.1 4.1-4.1 3.9-4.1 3.8-3.8 3.8-3.9 3.9-4 3.8-4 3.5-3.6 2.9-3 2.1-2.3M386.6 147.3l.9 2 1 2.6 1.1 3.2 1.1 3.5 1.1 3.6 1.1 3.2 1.1 2.7 1.3 2.9 1.5 3.5 1.4 4.2 1 5 .1 5.7-.8 5.7-1.4 5.2-1.6 4.7-1.7 4.5-1.5 4.1-1.3 4.1-1.3 4.3-1.4 4.7-1.6 4.8-1.5 4.9-1.5 4.8-1.5 4.8-1.6 4.8-1.5 4.8-1.5 4.7-1.7 4.6-1.9 4.3-1.9 4.3-1.9 4.4-1.9 4.4-1.8 4.3-1.6 4.1-1.4 3.8-1.3 3.9-1.1 3.9-1.1 4-.9 3.9-.8 3.8-.5 3.7-.4 3.5-.2 3.5-.1 3.6 .2 3.9 .2 4 .4 4.2 .4 4.4 .5 4.2 .6 4.2 .7 4.3 .7 4.3 .8 4.3 .8 4.1 .8 4 .7 3.8 .7 3.7 .7 3.7 .8 3.6 .9 3.8 1.1 4 1 4.1 1.1 3.9 1.1 3.5 1.1 3.1 1.3 2.8 1.5 2.7 1.6 2.7 1.8 2.5 1.9 2.2 2.1 2.2 2.4 2.1 2.8 1.9 3.3 1.9 3.8 1.8 4.3 1.8 4.5 1.7 4.7 1.7 5 1.6 5.3 1.5 5.8 1.4 5.8 1.3 5.8 1.4 5.6 1.1 5.4 1.4 5.2 1.5 4.6 1.4 4.2 1.2 3.4 .7 2.7 .2 2.5-.2 2.3-.4 1.7-.5 1.2-.7 1.1-.8 .8-.9 .8-1.5 .9-2.5 .9-3.4 .7-4 .8-4.4 .7-4.3 .6-4.1 .4-4.3 .4-4.7 .4-4.8 .5-4.9 .7-4.6 .9-4.2 1-3.9 1-3.8 1.2-3.7 1.5-3.7 1.7-3.8 1.9-3.8 2.1-3.8 2.4-3.8 2.5-3.7 2.7-3.8 3-3.7 3.2-3.8 3.5-3.6 3.5-3.5 3.5-3.5 3.6-3.4 3.5-3.5 3.7-3.8 4-4 4.1-4.1 4-4.1 4-4.1 3.8-3.8 3.8-3.8 4-4 3.8-3.9 3.6-3.6 2.9-3 2.2-2.2M386.1 147.4l1 1.9 1 2.7 1.2 3.2 1.2 3.5 1.2 3.5 1.1 3.2 1.2 2.7 1.4 2.9 1.5 3.5 1.4 4.2 1 5 .2 5.7-.8 5.7-1.4 5.2-1.7 4.8-1.7 4.4-1.5 4.2-1.3 4-1.4 4.3-1.5 4.7-1.6 4.8-1.6 4.8-1.7 4.8-1.6 4.7-1.6 4.8-1.6 4.7-1.7 4.7-1.7 4.5-2.1 4.2-2 4.3-2 4.4-2 4.4-1.9 4.2-1.7 4.1-1.6 3.9-1.3 3.9-1.3 3.9-1.2 4.1-1 3.9-.9 3.8-.6 3.8-.5 3.7-.3 3.6-.1 3.7 .1 3.9 .2 4.2 .4 4.3 .4 4.3 .5 4.3 .6 4.3 .6 4.3 .8 4.4 .8 4.3 .9 4.1 .9 4 .7 3.9 .8 3.7 .8 3.6 .9 3.7 1 3.8 1.2 4 1.2 4.1 1.2 3.8 1.3 3.6 1.2 3.1 1.5 2.8 1.6 2.7 1.8 2.7 1.9 2.4 2 2.2 2.3 2.1 2.5 2 2.9 1.9 3.4 1.8 3.9 1.7 4.2 1.7 4.6 1.6 4.8 1.6 4.9 1.5 5.4 1.4 5.7 1.3 5.9 1.3 5.8 1.3 5.6 1.2 5.5 1.3 5.1 1.5 4.7 1.5 4.1 1.2 3.3 .7 2.7 .3 2.5-.1 2.2-.3 1.7-.5 1.3-.6 1.1-.7 1-.9 .9-1.5 1-2.5 1-3.4 .8-4 .9-4.4 .9-4.2 .7-4.1 .5-4.4 .5-4.7 .5-4.7 .6-4.9 .9-4.5 .9-4.2 1-3.7 1.2-3.7 1.2-3.6 1.5-3.6 1.7-3.7 2-3.7 2.1-3.7 2.3-3.7 2.5-3.7 2.7-3.6 2.9-3.7 3.1-3.7 3.4-3.6 3.5-3.5 3.5-3.4 3.5-3.5 3.5-3.6 3.7-3.8 3.9-4.1 4-4.2 4-4.2 3.9-4 3.8-3.9 3.7-4 3.9-4 3.8-4 3.4-3.6 2.9-3.1 2.1-2.3M386.1 147.4l.8 2 .9 2.7 1.1 3.2 1 3.5 1.1 3.6 .9 3.2 1.1 2.7 1.2 3 1.4 3.5 1.3 4.1 .8 4.9 .1 5.4-.9 5.4-1.4 5-1.7 4.6-1.7 4.4-1.7 4.1-1.4 4-1.4 4.4-1.6 4.7-1.6 4.7-1.6 4.8-1.6 4.8-1.6 4.8-1.6 4.7-1.7 4.8-1.5 4.7-1.8 4.5-1.9 4.3-1.9 4.4-1.9 4.4-1.9 4.5-1.8 4.2-1.7 4.2-1.4 4-1.3 3.9-1.1 4.1-1.1 4-.9 4-.7 3.9-.5 3.8-.4 3.7-.2 3.7 .1 3.7 .2 4 .3 4.1 .4 4.3 .5 4.3 .6 4.2 .6 4.3 .8 4.4 .8 4.3 .8 4.3 .9 4.1 .9 4 .7 3.9 .8 3.7 .8 3.6 .8 3.6 1 3.8 1.2 4.1 1.1 4.1 1.2 3.9 1.1 3.5 1.3 3.2 1.3 2.8 1.6 2.8 1.7 2.8 1.8 2.5 2 2.3 2.3 2.2 2.5 2.1 2.9 2 3.4 1.9 3.8 1.8 4.3 1.8 4.6 1.8 4.7 1.7 5 1.6 5.4 1.4 5.7 1.4 5.9 1.4 5.8 1.4 5.5 1.1 5.4 1.4 5.1 1.6 4.6 1.5 4.2 1.2 3.5 .8 3 .2 2.7-.1 2.4-.3 2-.6 1.5-.8 1.4-.9 1.1-1.3 1-1.7 1-2.8 .9-3.5 .8-4.1 .7-4.4 .8-4.3 .6-4.1 .4-4.4 .4-4.7 .4-4.8 .5-4.8 .7-4.6 .8-4.1 .9-3.8 1-3.7 1.2-3.6 1.4-3.7 1.6-3.7 1.9-3.8 2-3.8 2.3-3.7 2.5-3.7 2.6-3.8 2.9-3.7 3.2-3.7 3.3-3.7 3.5-3.5 3.5-3.4 3.5-3.5 3.6-3.6 3.7-3.8 3.9-4 4.1-4.1 4-4.2 4-4 3.8-3.8 3.8-3.9 3.9-4 3.9-3.9 3.5-3.5 3-3 2.1-2.2M384.9 147.7l.8 1.9 .9 2.7 1.1 3.2 1.1 3.5 1.1 3.6 1 3.2 1.1 2.8 1.3 2.9 1.4 3.5 1.4 4.1 .9 4.7 .1 5.3-.7 5.3-1.4 5-1.6 4.6-1.7 4.4-1.6 4.2-1.3 4-1.4 4.4-1.5 4.7-1.6 4.8-1.6 4.8-1.6 4.8-1.6 4.8-1.6 4.7-1.6 4.8-1.6 4.7-1.7 4.5-1.9 4.3-1.9 4.4-1.9 4.4-1.9 4.4-1.8 4.3-1.7 4.2-1.5 3.9-1.3 4-1.2 4-1.1 4.1-1 4-.8 3.9-.6 3.8-.5 3.7-.2 3.7-.1 3.8 .1 3.9 .3 4.2 .3 4.3 .4 4.3 .5 4.3 .6 4.3 .6 4.4 .7 4.4 .8 4.3 .8 4.2 .9 4 .7 3.9 .7 3.8 .7 3.6 .9 3.7 1 3.9 1.1 4 1.2 4.1 1.1 3.9 1.2 3.7 1.3 3.3 1.5 2.9 1.7 2.9 1.8 2.8 2 2.5 2.1 2.4 2.4 2.2 2.6 2.1 3.1 2 3.5 1.9 3.9 1.7 4.4 1.7 4.6 1.7 4.8 1.6 5 1.5 5.5 1.3 5.8 1.3 5.8 1.3 5.8 1.2 5.6 1.1 5.4 1.3 5.1 1.4 4.7 1.5 4.1 1.1 3.6 .7 2.9 .2 2.7-.2 2.3-.4 1.9-.6 1.5-.8 1.2-.9 1-1.1 .9-1.7 1-2.7 .9-3.5 .8-4 .7-4.4 .8-4.3 .7-4.1 .4-4.4 .4-4.6 .5-4.8 .5-4.8 .8-4.6 .9-4.1 1-3.8 1.1-3.7 1.3-3.6 1.4-3.6 1.8-3.7 1.9-3.7 2.2-3.7 2.3-3.7 2.5-3.6 2.7-3.7 3-3.6 3.2-3.7 3.4-3.5 3.5-3.4 3.6-3.4 3.5-3.4 3.6-3.6 3.8-3.7 4-4 4.1-4.1 4.1-4.1 3.9-4.1 3.8-3.8 3.8-3.8 4-4 3.8-3.9 3.6-3.6 2.9-3 2.1-2.2M385.7 147.5l.8 1.9 .9 2.7 1.1 3.2 1.1 3.6 1 3.5 1 3.2 1.1 2.8 1.3 3 1.3 3.5 1.3 4.1 .9 4.8 .1 5.3-.9 5.4-1.4 5-1.7 4.6-1.8 4.4-1.7 4.1-1.4 4-1.5 4.3-1.6 4.7-1.7 4.7-1.7 4.8-1.7 4.7-1.6 4.8-1.7 4.7-1.7 4.7-1.7 4.6-1.8 4.5-2 4.3-2 4.4-2 4.4-1.9 4.4-1.9 4.3-1.7 4.2-1.5 4-1.4 4-1.2 4-1.1 4.1-1 4.1-.8 3.9-.7 3.9-.4 3.8-.2 3.8 0 3.8 .1 4 .3 4.2 .4 4.3 .5 4.4 .5 4.3 .6 4.3 .7 4.4 .8 4.4 .9 4.3 .9 4.2 .9 4 .8 3.9 .8 3.7 .9 3.7 .9 3.7 1.1 3.8 1.2 4 1.2 4.1 1.3 3.9 1.3 3.6 1.4 3.2 1.5 2.9 1.7 2.8 1.9 2.7 2 2.5 2.1 2.3 2.4 2.2 2.6 2.1 3 1.9 3.5 1.8 4 1.7 4.3 1.7 4.6 1.6 4.8 1.6 5 1.5 5.4 1.4 5.8 1.3 5.8 1.3 5.8 1.3 5.6 1.1 5.4 1.4 5.1 1.5 4.6 1.5 4.2 1.2 3.5 .7 2.9 .3 2.7-.1 2.3-.3 2-.5 1.5-.7 1.3-.9 1.1-1.2 1.1-1.7 1-2.7 1-3.5 .8-4.1 .9-4.3 .8-4.3 .7-4.2 .5-4.4 .5-4.6 .4-4.8 .6-4.8 .8-4.5 .9-4.1 1-3.8 1.1-3.6 1.2-3.6 1.4-3.5 1.7-3.7 1.9-3.7 2.1-3.7 2.3-3.6 2.4-3.7 2.7-3.6 2.9-3.7 3.1-3.7 3.4-3.5 3.4-3.5 3.5-3.4 3.6-3.5 3.5-3.6 3.7-3.8 3.9-4.1 4.1-4.1 4-4.2 3.9-4.1 3.8-3.8 3.7-3.9 3.9-4.1 3.8-3.9 3.5-3.6 2.9-3.1 2.2-2.2M384.6 147.7l.7 2 .9 2.7 .9 3.2 1 3.5 1 3.6 .9 3.2 1 2.9 1.3 3 1.3 3.5 1.2 3.9 .8 4.6 .1 5-.8 5.1-1.3 4.9-1.7 4.5-1.7 4.4-1.6 4.1-1.5 4.1-1.4 4.4-1.6 4.6-1.6 4.8-1.6 4.8-1.7 4.8-1.6 4.7-1.6 4.8-1.6 4.7-1.7 4.7-1.7 4.5-1.9 4.4-1.8 4.4-1.9 4.5-1.9 4.4-1.7 4.3-1.7 4.2-1.4 4.1-1.3 4-1.1 4.1-1.1 4.1-.9 4.1-.8 3.9-.6 3.9-.4 3.8-.2 3.8 0 3.8 .1 4 .3 4.2 .4 4.3 .4 4.4 .5 4.3 .6 4.3 .7 4.4 .7 4.4 .8 4.3 .8 4.3 .9 4 .7 3.9 .7 3.8 .8 3.7 .9 3.7 1 3.8 1.1 4.1 1.2 4.1 1.2 3.9 1.2 3.7 1.3 3.4 1.5 3 1.7 2.9 1.9 2.8 2 2.7 2.2 2.4 2.4 2.3 2.8 2.2 3.1 2 3.6 1.9 4 1.8 4.4 1.7 4.6 1.6 4.8 1.6 5.1 1.5 5.5 1.4 5.8 1.2 5.8 1.3 5.8 1.2 5.6 1.1 5.3 1.3 5.1 1.4 4.7 1.4 4.2 1.2 3.6 .7 3.1 .2 2.8-.2 2.4-.4 2-.7 1.6-.8 1.4-1.1 1.1-1.3 1-1.9 1-2.7 .8-3.6 .8-4.1 .7-4.3 .8-4.3 .6-4.2 .4-4.4 .4-4.7 .4-4.8 .5-4.8 .8-4.5 .9-4.2 .9-3.7 1.1-3.7 1.2-3.6 1.4-3.6 1.7-3.7 2-3.7 2.1-3.7 2.3-3.6 2.5-3.7 2.7-3.6 3-3.7 3.2-3.6 3.4-3.5 3.5-3.4 3.6-3.4 3.6-3.4 3.6-3.5 3.8-3.8 4-4 4.1-4 4.1-4.1 4-4 3.8-3.8 3.9-3.8 3.9-4 3.9-3.8 3.6-3.6 3-2.9 2.1-2.2M384.1 147.8l.7 2 .9 2.7 1 3.2 1.1 3.5 1 3.5 1 3.3 1 2.8 1.3 3.1 1.4 3.4 1.2 4 .8 4.5 .1 5-.8 5.1-1.4 4.8-1.7 4.5-1.8 4.3-1.6 4.1-1.5 4.1-1.6 4.4-1.6 4.6-1.7 4.7-1.7 4.8-1.7 4.7-1.7 4.7-1.8 4.7-1.7 4.7-1.7 4.7-1.9 4.5-2 4.3-1.9 4.4-2 4.4-1.9 4.4-1.9 4.4-1.7 4.2-1.6 4-1.3 4.1-1.3 4.1-1.1 4.2-1.1 4.1-.8 4.1-.7 3.9-.4 4-.3 3.8 0 4 .1 4.1 .3 4.3 .3 4.3 .5 4.4 .5 4.4 .6 4.4 .7 4.4 .8 4.4 .8 4.4 .9 4.2 .9 4.1 .8 3.9 .8 3.8 .9 3.7 1 3.7 1.1 3.9 1.2 4 1.3 4.1 1.3 4 1.4 3.7 1.5 3.3 1.6 3.1 1.9 2.9 2 2.8 2.1 2.6 2.3 2.4 2.6 2.3 2.8 2.1 3.3 1.9 3.6 1.9 4.1 1.7 4.4 1.6 4.7 1.6 4.8 1.5 5.1 1.4 5.5 1.4 5.8 1.2 5.9 1.2 5.7 1.2 5.6 1.1 5.3 1.3 5.1 1.5 4.7 1.4 4.2 1.2 3.6 .8 3.1 .3 2.8-.2 2.5-.4 2.1-.5 1.7-.8 1.4-1.1 1.3-1.3 1.2-1.9 1-2.9 1-3.6 .9-4.1 .9-4.3 .8-4.3 .7-4.2 .6-4.5 .4-4.6 .5-4.8 .6-4.7 .8-4.5 1-4 1-3.7 1-3.6 1.3-3.5 1.4-3.4 1.7-3.6 1.9-3.6 2.1-3.6 2.3-3.6 2.5-3.6 2.7-3.6 2.8-3.5 3.2-3.6 3.3-3.5 3.4-3.4 3.6-3.4 3.5-3.5 3.6-3.6 3.8-3.8 3.9-4 4.1-4.1 4-4.2 4-4 3.7-3.9 3.8-3.9 3.9-4 3.8-3.9 3.5-3.6 2.9-3.1 2.1-2.2M383.6 147.9l.8 1.9 .9 2.7 1 3.3 1 3.5 1.1 3.5 1 3.3 1.1 2.8 1.2 3.1 1.4 3.4 1.3 3.9 .8 4.5 .1 5-.8 5-1.4 4.8-1.6 4.5-1.8 4.3-1.7 4.1-1.5 4.1-1.5 4.4-1.6 4.6-1.7 4.7-1.7 4.8-1.8 4.7-1.7 4.7-1.8 4.7-1.7 4.7-1.8 4.6-1.8 4.5-2 4.3-2 4.4-2 4.5-1.9 4.4-1.9 4.3-1.8 4.2-1.6 4.1-1.4 4-1.3 4.2-1.2 4.2-1 4.1-.9 4.1-.7 4-.5 3.9-.3 3.9-.1 4 .1 4.2 .2 4.3 .4 4.3 .3 4.5 .5 4.4 .6 4.4 .7 4.4 .7 4.5 .9 4.4 .8 4.2 .9 4.1 .8 3.9 .8 3.8 .9 3.8 1 3.7 1.2 3.8 1.2 4.1 1.3 4.1 1.4 4 1.4 3.7 1.5 3.4 1.8 3.2 1.9 2.9 2.1 2.8 2.2 2.6 2.4 2.4 2.6 2.3 3 2.1 3.3 1.9 3.7 1.8 4.1 1.7 4.4 1.5 4.8 1.5 4.8 1.5 5.1 1.4 5.6 1.2 5.8 1.2 5.8 1.2 5.8 1.1 5.6 1 5.3 1.3 5.1 1.5 4.7 1.4 4.2 1.2 3.6 .7 3.1 .2 2.8-.1 2.4-.4 2.1-.6 1.6-.8 1.4-1 1.3-1.3 1.1-1.8 1.1-2.8 1-3.6 .9-4.1 .9-4.4 .8-4.3 .8-4.1 .6-4.5 .5-4.6 .5-4.8 .7-4.7 .8-4.5 1-4 1-3.7 1.2-3.5 1.3-3.5 1.5-3.4 1.7-3.5 1.9-3.6 2.2-3.6 2.3-3.5 2.5-3.5 2.7-3.6 2.9-3.5 3.1-3.5 3.3-3.5 3.5-3.4 3.5-3.3 3.6-3.5 3.6-3.6 3.8-3.8 3.9-4 4.1-4.1 4-4.2 4-4 3.7-3.9 3.8-3.9 3.9-4 3.8-3.9 3.5-3.7 2.9-3 2.1-2.3M383.6 147.9l.8 1.9 .8 2.7 1 3.3 .9 3.5 1 3.6 1 3.2 .9 3 1.2 3 1.3 3.4 1.2 3.9 .7 4.4 0 4.8-.9 4.9-1.4 4.7-1.7 4.4-1.8 4.2-1.8 4.1-1.6 4.1-1.6 4.4-1.7 4.6-1.8 4.6-1.8 4.7-1.8 4.8-1.8 4.6-1.8 4.7-1.8 4.6-1.8 4.6-1.9 4.5-2 4.4-2 4.4-2 4.4-1.9 4.5-1.9 4.3-1.8 4.3-1.5 4.1-1.4 4.2-1.3 4.2-1.2 4.2-1 4.2-.8 4.2-.7 4.1-.5 4-.2 4 0 4.1 .1 4.2 .3 4.3 .5 4.4 .4 4.4 .6 4.4 .6 4.5 .8 4.4 .8 4.5 .9 4.4 .9 4.2 1 4.1 .9 3.9 .9 3.8 .9 3.7 1.1 3.8 1.2 3.8 1.3 4.1 1.3 4.1 1.4 3.9 1.4 3.8 1.6 3.4 1.8 3.1 1.9 3 2.1 2.9 2.3 2.6 2.4 2.4 2.6 2.3 3 2.1 3.3 2 3.7 1.8 4.1 1.7 4.5 1.6 4.7 1.6 4.9 1.5 5.1 1.4 5.5 1.3 5.8 1.2 5.9 1.2 5.8 1.2 5.5 1.1 5.3 1.3 5 1.5 4.7 1.5 4.3 1.2 3.7 .9 3.1 .3 3-.1 2.6-.4 2.3-.6 1.9-.9 1.6-1.1 1.5-1.5 1.3-2.1 1.1-3 1.1-3.7 .9-4.1 .9-4.4 .8-4.3 .8-4.2 .6-4.5 .4-4.7 .5-4.8 .6-4.6 .8-4.4 1-4 .9-3.6 1.1-3.5 1.2-3.4 1.5-3.5 1.6-3.5 1.9-3.5 2-3.6 2.3-3.5 2.4-3.6 2.6-3.5 2.9-3.6 3-3.5 3.3-3.5 3.4-3.4 3.5-3.4 3.6-3.5 3.6-3.6 3.7-3.9 3.9-4 4.1-4.2 4-4.1 3.9-4.1 3.8-3.8 3.7-3.9 3.9-4.1 3.8-3.9 3.5-3.6 2.9-3.1 2.1-2.2M383.3 148l.7 1.9 .8 2.7 .8 3.3 1 3.5 .9 3.6 .9 3.3 .9 2.9 1.2 3.1 1.2 3.4 1.1 3.9 .7 4.2 0 4.7-.9 4.7-1.4 4.6-1.7 4.3-1.8 4.3-1.8 4.1-1.6 4.1-1.6 4.4-1.7 4.5-1.8 4.7-1.8 4.7-1.8 4.8-1.8 4.6-1.8 4.7-1.8 4.6-1.8 4.7-1.8 4.5-2 4.4-1.9 4.4-2 4.5-1.9 4.4-1.8 4.4-1.7 4.3-1.6 4.2-1.3 4.1-1.3 4.3-1.1 4.2-1 4.2-.8 4.2-.6 4.1-.5 4.1-.2 4 0 4.1 .2 4.2 .3 4.3 .4 4.4 .5 4.5 .5 4.4 .7 4.4 .7 4.5 .9 4.4 .8 4.4 .9 4.3 .9 4.1 .9 3.9 .9 3.8 .9 3.8 1.1 3.7 1.1 3.9 1.3 4 1.3 4.1 1.4 4 1.4 3.8 1.6 3.5 1.7 3.2 2 3 2.1 2.9 2.2 2.7 2.5 2.5 2.7 2.3 3 2.2 3.3 2 3.8 1.8 4.2 1.7 4.5 1.7 4.7 1.5 4.9 1.5 5.1 1.4 5.6 1.3 5.8 1.2 5.9 1.2 5.7 1.2 5.6 1.1 5.2 1.3 5 1.5 4.7 1.4 4.3 1.2 3.8 .8 3.2 .3 3-.1 2.7-.5 2.3-.6 1.9-.9 1.7-1.3 1.5-1.5 1.3-2.2 1.1-3 1-3.7 .9-4.2 .8-4.4 .9-4.3 .7-4.2 .5-4.5 .4-4.7 .5-4.8 .6-4.6 .8-4.5 .9-3.9 .9-3.7 1.1-3.5 1.2-3.4 1.4-3.5 1.7-3.5 1.9-3.6 2-3.5 2.3-3.6 2.4-3.5 2.7-3.6 2.8-3.5 3.1-3.5 3.3-3.5 3.5-3.4 3.5-3.4 3.6-3.4 3.6-3.6 3.7-3.8 4-4 4.1-4.1 4-4.2 4-4 3.8-3.8 3.8-3.9 3.9-4 3.8-3.9 3.6-3.6 2.9-3 2.1-2.2M383.6 147.9l.6 2 .7 2.7 .9 3.2 .8 3.6 .9 3.6 .8 3.3 .8 3 1.1 3.1 1.2 3.4 1 3.8 .6 4.2-.1 4.6-.9 4.6-1.5 4.5-1.7 4.3-1.9 4.2-1.9 4.1-1.7 4.1-1.6 4.3-1.8 4.6-1.8 4.6-1.9 4.7-1.8 4.7-1.8 4.7-1.8 4.6-1.9 4.7-1.8 4.6-1.9 4.5-2 4.4-1.9 4.4-1.9 4.5-1.8 4.5-1.9 4.4-1.6 4.3-1.6 4.3-1.3 4.2-1.2 4.3-1.1 4.3-.9 4.2-.8 4.3-.6 4.1-.4 4.1-.1 4.1 0 4.2 .3 4.2 .3 4.3 .5 4.4 .5 4.4 .6 4.5 .7 4.4 .8 4.5 .9 4.4 .9 4.4 1 4.2 .9 4.1 .9 3.9 .9 3.9 1 3.7 1 3.8 1.2 3.8 1.3 4.1 1.4 4.1 1.3 3.9 1.5 3.8 1.5 3.5 1.8 3.2 2 3 2.1 2.9 2.2 2.7 2.4 2.5 2.7 2.4 3 2.2 3.4 2 3.7 1.9 4.2 1.7 4.5 1.7 4.7 1.6 4.9 1.5 5.2 1.5 5.5 1.3 5.8 1.2 5.9 1.2 5.8 1.2 5.4 1.2 5.3 1.3 5 1.5 4.6 1.5 4.3 1.3 3.9 .8 3.3 .3 3.1-.1 2.8-.4 2.4-.7 2.1-.9 1.8-1.4 1.5-1.6 1.4-2.3 1.2-3.2 1-3.7 .9-4.2 .8-4.4 .8-4.4 .7-4.2 .4-4.6 .5-4.7 .4-4.7 .5-4.7 .7-4.4 .9-3.9 .9-3.7 1-3.5 1.2-3.4 1.4-3.5 1.6-3.5 1.8-3.6 2-3.6 2.2-3.5 2.5-3.6 2.6-3.6 2.8-3.5 3-3.6 3.3-3.5 3.5-3.4 3.5-3.4 3.5-3.5 3.6-3.5 3.8-3.9 4-4 4-4.1 4.1-4.1 4-4 3.7-3.9 3.8-3.8 4-4 3.9-3.9 3.5-3.6 2.9-3 2.2-2.1M383.7 147.9l.6 2 .7 2.7 .8 3.2 .8 3.6 .8 3.6 .8 3.3 .8 3 1.1 3.1 1.1 3.5 .9 3.8 .6 4.1-.2 4.6-.9 4.5-1.5 4.4-1.8 4.3-2 4.1-1.9 4.1-1.7 4.1-1.8 4.3-1.8 4.5-1.9 4.7-1.9 4.6-1.9 4.7-1.9 4.6-1.9 4.6-1.9 4.6-1.9 4.6-1.9 4.5-2 4.4-1.9 4.5-1.9 4.4-2 4.5-1.8 4.4-1.7 4.4-1.6 4.3-1.3 4.3-1.2 4.3-1.1 4.3-1 4.3-.7 4.3-.6 4.2-.4 4.2-.2 4.2 .1 4.2 .3 4.3 .4 4.4 .5 4.4 .6 4.4 .6 4.5 .7 4.4 .9 4.5 .9 4.5 1 4.4 1 4.2 1 4.1 .9 3.9 1 3.8 1 3.8 1.2 3.7 1.2 3.9 1.4 4 1.3 4.1 1.5 4 1.5 3.8 1.6 3.5 1.8 3.2 2 3 2.2 2.9 2.3 2.6 2.4 2.5 2.8 2.4 3 2.2 3.4 2 3.8 1.9 4.1 1.7 4.5 1.6 4.8 1.6 4.9 1.6 5.1 1.4 5.6 1.3 5.8 1.3 5.9 1.2 5.7 1.2 5.5 1.2 5.2 1.4 5 1.5 4.6 1.5 4.3 1.3 3.9 .9 3.4 .4 3.1-.1 2.9-.4 2.5-.6 2.2-1 1.9-1.4 1.7-1.7 1.5-2.4 1.3-3.2 1-3.8 .9-4.3 .9-4.4 .8-4.3 .7-4.3 .5-4.6 .4-4.7 .5-4.7 .5-4.6 .7-4.4 .9-3.9 .9-3.6 1-3.5 1.1-3.4 1.4-3.4 1.5-3.5 1.8-3.5 2-3.6 2.2-3.5 2.4-3.6 2.5-3.6 2.8-3.5 3-3.6 3.3-3.4 3.3-3.5 3.5-3.4 3.6-3.5 3.5-3.6 3.8-3.9 3.9-4 4-4.2 4.1-4.1 3.9-4.1 3.8-3.8 3.8-3.9 3.9-4 3.8-3.9 3.6-3.6 2.9-3 2.2-2.2M382.4 148.1l.6 2 .7 2.7 .8 3.3 .9 3.5 .9 3.6 .8 3.3 .8 3.1 1.1 3.1 1.2 3.4 .9 3.7 .6 4.1-.1 4.3-.8 4.5-1.5 4.3-1.7 4.2-1.9 4.2-1.9 4.1-1.8 4.1-1.7 4.3-1.8 4.6-1.9 4.6-1.9 4.7-1.9 4.6-1.9 4.7-1.9 4.6-1.9 4.6-1.9 4.5-1.9 4.5-2 4.5-2 4.4-1.9 4.5-1.9 4.4-1.9 4.5-1.7 4.3-1.6 4.3-1.4 4.3-1.3 4.4-1.2 4.3-1 4.3-.8 4.3-.7 4.3-.4 4.3-.2 4.2 0 4.3 .2 4.3 .3 4.4 .5 4.5 .5 4.4 .6 4.5 .6 4.5 .8 4.5 .9 4.5 .9 4.5 1 4.2 1 4.1 .9 4 1 3.9 1 3.8 1.1 3.8 1.3 3.8 1.4 4.1 1.4 4.1 1.4 4 1.6 3.9 1.7 3.6 1.9 3.3 2.2 3.1 2.2 2.9 2.4 2.7 2.6 2.6 2.9 2.4 3.2 2.2 3.5 2 4 1.8 4.2 1.7 4.6 1.6 4.8 1.5 4.9 1.4 5.2 1.4 5.6 1.2 5.9 1.2 5.9 1.1 5.7 1.1 5.5 1.1 5.2 1.4 5 1.5 4.7 1.4 4.3 1.3 3.9 .8 3.4 .4 3.1-.2 2.9-.4 2.5-.7 2.2-1 1.9-1.3 1.7-1.8 1.5-2.4 1.3-3.2 1.1-3.8 .9-4.3 .9-4.4 .8-4.3 .8-4.3 .5-4.5 .5-4.7 .5-4.8 .6-4.6 .8-4.3 .9-3.9 .9-3.5 1.1-3.5 1.2-3.3 1.4-3.3 1.6-3.5 1.9-3.5 2-3.4 2.2-3.5 2.4-3.5 2.6-3.5 2.8-3.5 3-3.4 3.3-3.4 3.4-3.4 3.5-3.4 3.6-3.5 3.6-3.6 3.8-3.8 3.9-4 4.1-4.2 4-4.1 4-4 3.7-3.9 3.8-3.9 3.9-4 3.8-3.9 3.5-3.6 3-3 2.1-2.3M381.4 148.3l.4 2 .6 2.8 .7 3.2 .7 3.6 .7 3.6 .7 3.4 .8 3.1 1.1 3.3 1 3.3 .9 3.5 .5 3.8-.1 4-.8 4.1-1.4 4.1-1.7 4.1-1.9 4.1-1.9 4.2-1.7 4.2-1.7 4.4-1.8 4.5-1.8 4.7-1.8 4.7-1.8 4.7-1.8 4.6-1.8 4.7-1.9 4.6-1.8 4.6-1.8 4.6-1.9 4.5-1.8 4.5-1.8 4.5-1.8 4.5-1.7 4.5-1.6 4.4-1.5 4.4-1.3 4.4-1.1 4.3-1.1 4.4-.9 4.4-.7 4.3-.6 4.2-.4 4.3-.2 4.2 .1 4.3 .2 4.3 .4 4.4 .5 4.4 .5 4.5 .5 4.4 .7 4.5 .7 4.6 .8 4.5 .9 4.4 .9 4.3 .9 4.1 .8 4 .9 3.9 .9 3.8 1.1 3.8 1.1 4 1.3 4 1.3 4.2 1.4 4.1 1.4 3.9 1.7 3.7 1.8 3.5 2.1 3.2 2.2 3.1 2.4 2.9 2.6 2.7 2.9 2.5 3.3 2.3 3.6 2.2 4 1.9 4.4 1.8 4.6 1.7 4.8 1.5 5 1.5 5.3 1.4 5.6 1.3 5.9 1.1 5.9 1.2 5.7 1 5.4 1.1 5.1 1.3 5 1.4 4.7 1.4 4.4 1.2 4.1 .8 3.7 .2 3.3-.2 3-.5 2.7-.9 2.3-1.2 2-1.6 1.7-2 1.5-2.6 1.2-3.3 .9-3.9 .8-4.3 .7-4.4 .8-4.4 .6-4.3 .4-4.6 .4-4.7 .4-4.7 .5-4.6 .6-4.4 .9-3.9 .9-3.7 1-3.4 1.2-3.4 1.3-3.4 1.7-3.5 1.8-3.5 2.1-3.6 2.2-3.5 2.5-3.5 2.6-3.4 2.9-3.5 3.1-3.5 3.3-3.3 3.4-3.4 3.6-3.3 3.7-3.4 3.7-3.5 3.8-3.7 4.1-4 4.1-4 4.1-4.1 4.1-3.9 3.9-3.7 3.8-3.8 4.1-3.9 3.9-3.9 3.6-3.5 3-2.9 2.2-2.1M381.1 148.4l.5 2 .6 2.7 .7 3.3 .8 3.5 .8 3.6 .7 3.4 .9 3.1 1 3.3 1.1 3.3 .9 3.5 .5 3.8-.1 4-.8 4.1-1.4 4.1-1.7 4.1-2 4.2-1.9 4.1-1.7 4.2-1.8 4.3-1.8 4.6-1.9 4.6-1.9 4.7-1.8 4.6-1.9 4.7-1.9 4.6-1.9 4.6-1.9 4.5-1.9 4.6-2 4.4-1.8 4.5-1.9 4.5-1.9 4.5-1.8 4.5-1.7 4.4-1.5 4.4-1.4 4.4-1.2 4.4-1.2 4.4-.9 4.4-.9 4.3-.6 4.4-.4 4.3-.2 4.3 0 4.3 .2 4.4 .3 4.4 .5 4.5 .4 4.5 .6 4.5 .7 4.6 .7 4.5 .9 4.6 .9 4.4 .9 4.3 .9 4.2 .9 4 .9 3.8 1.1 3.9 1.1 3.8 1.2 3.9 1.4 4.1 1.3 4.1 1.5 4.1 1.6 4 1.7 3.7 2 3.5 2.2 3.2 2.3 3.1 2.5 2.8 2.8 2.7 3 2.5 3.3 2.3 3.7 2 4.1 1.9 4.3 1.7 4.7 1.6 4.8 1.5 5 1.4 5.3 1.4 5.7 1.2 5.9 1.1 5.9 1 5.7 1.1 5.4 1 5.1 1.3 5 1.4 4.7 1.5 4.4 1.2 4.1 .8 3.6 .3 3.3-.2 3-.5 2.6-.8 2.3-1.2 2.1-1.5 1.8-1.9 1.5-2.6 1.2-3.4 1.1-3.9 .9-4.2 .8-4.5 .8-4.3 .7-4.3 .5-4.6 .4-4.7 .5-4.7 .6-4.6 .7-4.3 .9-3.9 1-3.6 1-3.4 1.2-3.3 1.4-3.3 1.7-3.4 1.8-3.5 2.1-3.4 2.2-3.5 2.4-3.4 2.7-3.4 2.8-3.5 3-3.4 3.3-3.3 3.4-3.3 3.6-3.4 3.6-3.4 3.7-3.5 3.8-3.8 4-4 4.1-4.1 4.1-4.1 4-3.9 3.9-3.8 3.8-3.9 4-3.9 3.8-3.9 3.6-3.6 2.9-3 2.2-2.1M381.4 148.3l.5 2 .6 2.7 .7 3.3 .8 3.6 .8 3.6 .7 3.3 .8 3.2 1 3.2 1.1 3.4 .8 3.5 .5 3.8-.2 4-.9 4.1-1.4 4.1-1.8 4-2 4.1-2 4.1-1.9 4.2-1.8 4.3-2 4.5-1.9 4.5-2 4.7-2 4.6-2 4.6-2 4.5-2 4.6-2.1 4.5-2 4.5-2 4.5-1.9 4.4-2 4.5-1.9 4.5-1.9 4.5-1.8 4.4-1.6 4.4-1.4 4.5-1.3 4.4-1.1 4.5-1.1 4.4-.8 4.5-.7 4.4-.4 4.4-.2 4.5 0 4.4 .3 4.5 .4 4.5 .5 4.5 .5 4.5 .6 4.5 .7 4.6 .9 4.6 .9 4.5 1 4.5 1 4.3 1 4.1 1 4 1.1 3.9 1.1 3.8 1.2 3.9 1.4 3.9 1.4 4 1.5 4.1 1.6 4.1 1.7 3.9 1.8 3.8 2.1 3.4 2.3 3.2 2.4 3 2.5 2.8 2.8 2.6 3.1 2.5 3.3 2.2 3.8 2 4 1.9 4.4 1.7 4.6 1.5 4.9 1.5 5 1.4 5.2 1.3 5.7 1.2 5.9 1.2 5.9 1 5.7 1.1 5.4 1.1 5.2 1.4 4.9 1.5 4.7 1.5 4.4 1.3 4 .9 3.7 .3 3.3-.1 3.1-.4 2.7-.7 2.5-1.1 2.3-1.6 1.9-2 1.7-2.7 1.4-3.4 1.1-4 1-4.3 .9-4.4 .9-4.3 .7-4.4 .6-4.6 .5-4.8 .5-4.6 .6-4.6 .8-4.2 .9-3.8 .9-3.5 1.1-3.3 1.1-3.3 1.4-3.2 1.6-3.3 1.8-3.4 2-3.5 2.1-3.4 2.4-3.4 2.5-3.4 2.8-3.4 2.9-3.4 3.2-3.4 3.4-3.3 3.5-3.4 3.6-3.5 3.6-3.7 3.7-3.8 4-4 4-4.2 4.1-4.1 3.9-4.1 3.8-3.8 3.7-3.9 4-4 3.8-4 3.5-3.6 2.9-3 2.1-2.2M380.3 148.5l.6 2 .6 2.7 .8 3.3 .8 3.5 .8 3.6 .7 3.4 .9 3.2 1 3.2 1 3.4 .9 3.4 .5 3.7-.1 3.9-.8 4-1.4 4-1.8 4.1-1.9 4.1-2 4.1-1.9 4.1-1.8 4.4-1.9 4.5-1.9 4.6-2 4.6-2 4.6-2 4.6-2 4.6-2 4.5-2 4.5-2.1 4.5-2 4.5-1.9 4.5-2 4.5-1.9 4.4-1.9 4.5-1.8 4.5-1.6 4.4-1.5 4.4-1.3 4.5-1.2 4.5-1.1 4.4-.9 4.5-.7 4.4-.5 4.5-.2 4.5-.1 4.5 .2 4.5 .3 4.5 .5 4.5 .5 4.5 .5 4.6 .7 4.6 .8 4.6 .9 4.6 .9 4.5 .9 4.3 1 4.2 1 4 1 3.9 1.2 3.9 1.2 3.9 1.4 3.9 1.4 4 1.5 4.2 1.6 4.1 1.7 4 1.9 3.8 2.2 3.5 2.4 3.3 2.4 3 2.7 2.9 2.9 2.7 3.2 2.4 3.5 2.3 3.8 2 4.2 1.8 4.4 1.6 4.7 1.5 4.9 1.4 5.1 1.4 5.3 1.2 5.7 1.1 5.9 1.1 5.9 1 5.8 1 5.4 1 5.1 1.3 4.9 1.4 4.8 1.5 4.4 1.2 4 .9 3.7 .3 3.3-.1 3.1-.5 2.7-.7 2.4-1.2 2.2-1.5 1.9-2 1.7-2.7 1.4-3.4 1.1-3.9 1-4.3 .9-4.4 .9-4.4 .8-4.3 .6-4.6 .5-4.8 .6-4.7 .6-4.5 .8-4.2 1-3.8 1-3.4 1.1-3.4 1.2-3.2 1.4-3.2 1.7-3.2 1.8-3.4 2.1-3.4 2.2-3.3 2.4-3.4 2.6-3.3 2.7-3.4 3-3.3 3.2-3.3 3.4-3.3 3.5-3.3 3.7-3.5 3.6-3.6 3.8-3.8 4-4 4.1-4.2 4-4.1 4-4 3.7-3.9 3.8-3.8 3.9-4.1 3.8-3.9 3.5-3.6 2.9-3.1 2.2-2.2M380.5 148.5l.5 2 .6 2.7 .7 3.3 .7 3.5 .7 3.6 .7 3.5 .8 3.2 1 3.2 .9 3.4 .8 3.4 .4 3.6-.2 3.8-.8 3.9-1.5 3.9-1.8 4-2 4-2.1 4.1-1.9 4.2-1.9 4.3-1.9 4.5-2 4.5-2.1 4.7-2 4.6-2 4.5-2.1 4.5-2 4.6-2.1 4.5-2 4.5-2 4.5-2 4.5-1.9 4.5-1.9 4.5-1.9 4.5-1.8 4.5-1.6 4.4-1.5 4.5-1.2 4.5-1.2 4.6-1 4.5-.9 4.5-.7 4.5-.4 4.5-.2 4.6 0 4.5 .2 4.5 .4 4.6 .5 4.5 .5 4.5 .7 4.6 .7 4.6 .8 4.7 1 4.5 .9 4.5 1 4.3 1 4.2 1.1 4 1.1 3.9 1.1 3.9 1.3 3.9 1.4 3.9 1.5 4 1.5 4.1 1.6 4.2 1.7 4 2 3.8 2.2 3.5 2.3 3.3 2.5 3.1 2.7 2.8 2.9 2.7 3.2 2.5 3.5 2.3 3.8 2 4.2 1.9 4.4 1.6 4.7 1.5 4.9 1.5 5.1 1.3 5.3 1.3 5.7 1.2 5.9 1.1 5.9 1 5.8 1 5.3 1.1 5.1 1.3 4.9 1.5 4.7 1.5 4.5 1.3 4.1 .9 3.7 .3 3.5-.1 3.1-.4 2.9-.8 2.6-1.2 2.3-1.6 2.1-2.2 1.8-2.8 1.4-3.5 1.1-4 1-4.3 .9-4.5 .9-4.3 .8-4.4 .6-4.6 .5-4.8 .5-4.7 .6-4.5 .7-4.1 1-3.8 .9-3.5 1.1-3.3 1.1-3.2 1.4-3.1 1.6-3.3 1.8-3.4 2-3.4 2.2-3.3 2.3-3.4 2.6-3.4 2.7-3.4 2.9-3.3 3.2-3.3 3.4-3.3 3.5-3.4 3.6-3.5 3.7-3.6 3.7-3.8 4-4 4-4.2 4.1-4.1 3.9-4 3.8-3.9 3.8-3.9 3.9-4 3.8-3.9 3.5-3.6 3-3 2.1-2.3M380.2 148.5l.4 2 .6 2.8 .6 3.3 .7 3.5 .7 3.6 .6 3.5 .8 3.2 .9 3.3 1 3.3 .7 3.4 .4 3.5-.3 3.7-.8 3.7-1.5 3.9-1.8 3.9-2.1 4-2.1 4.1-1.9 4.2-2 4.3-1.9 4.4-2.1 4.6-2.1 4.6-2 4.6-2.1 4.5-2 4.5-2.1 4.5-2.1 4.5-2.1 4.5-2 4.5-1.9 4.6-1.9 4.5-2 4.5-1.8 4.5-1.8 4.5-1.6 4.5-1.5 4.6-1.3 4.5-1.1 4.6-1.1 4.5-.8 4.6-.7 4.6-.4 4.6-.2 4.5 .1 4.6 .2 4.6 .4 4.6 .5 4.5 .6 4.6 .6 4.6 .8 4.6 .8 4.7 .9 4.5 1 4.5 1.1 4.4 1 4.1 1 4.1 1.2 3.9 1.2 3.9 1.2 3.9 1.5 3.9 1.4 4 1.6 4.1 1.6 4.2 1.8 4 2 3.9 2.2 3.6 2.4 3.3 2.5 3 2.8 2.9 2.9 2.7 3.2 2.6 3.6 2.3 3.9 2 4.2 1.9 4.5 1.6 4.7 1.6 5 1.4 5 1.4 5.4 1.2 5.7 1.2 5.9 1.1 5.9 1 5.7 1 5.4 1.1 5.1 1.3 4.9 1.5 4.7 1.5 4.4 1.3 4.2 .9 3.8 .4 3.5-.1 3.3-.5 3-.8 2.7-1.2 2.4-1.7 2.2-2.2 1.8-3 1.4-3.6 1.2-4.1 1-4.3 .9-4.5 .9-4.3 .7-4.4 .6-4.7 .5-4.7 .5-4.7 .6-4.5 .8-4.1 .9-3.7 .9-3.5 1.1-3.3 1.1-3.1 1.4-3.2 1.5-3.3 1.8-3.3 2-3.3 2.2-3.4 2.3-3.3 2.5-3.4 2.7-3.4 3-3.3 3.1-3.3 3.4-3.3 3.5-3.4 3.6-3.5 3.7-3.6 3.7-3.8 4-4 4-4.2 4.1-4.1 4-4 3.7-3.9 3.8-3.8 3.9-4.1 3.9-3.9 3.5-3.6 2.9-3 2.1-2.2M380.9 148.4l.4 2 .5 2.8 .6 3.3 .6 3.6 .6 3.6 .5 3.4 .6 3.3 .9 3.3 .8 3.3 .6 3.5 .3 3.4-.4 3.6-1 3.7-1.5 3.7-1.9 3.8-2.2 4-2.2 4-2.1 4.2-2 4.3-2.1 4.4-2.1 4.5-2.2 4.6-2.1 4.5-2.2 4.5-2.1 4.5-2.1 4.5-2.2 4.4-2.1 4.5-2 4.6-2 4.5-1.9 4.5-1.9 4.5-1.9 4.6-1.7 4.5-1.7 4.7-1.4 4.6-1.2 4.6-1.1 4.6-1 4.6-.8 4.6-.6 4.7-.4 4.7-.1 4.6 .2 4.7 .3 4.6 .5 4.6 .6 4.5 .7 4.6 .7 4.6 .9 4.6 .9 4.7 1 4.5 1.1 4.5 1.1 4.3 1.1 4.2 1.2 4 1.2 3.9 1.3 3.9 1.3 3.8 1.5 3.9 1.5 4.1 1.6 4.1 1.7 4.1 1.8 4 2 3.8 2.2 3.6 2.4 3.2 2.5 3.1 2.7 2.9 2.9 2.7 3.2 2.5 3.6 2.3 3.8 2.1 4.2 1.9 4.5 1.7 4.7 1.6 4.9 1.4 5 1.5 5.3 1.3 5.8 1.2 5.9 1.2 5.9 1.1 5.7 1.1 5.3 1.2 5 1.3 4.9 1.6 4.7 1.6 4.4 1.4 4.2 1 4 .5 3.6-.1 3.4-.4 3.2-.8 2.9-1.3 2.6-1.8 2.4-2.4 2-3.1 1.5-3.8 1.2-4.1 1-4.4 .9-4.5 .9-4.4 .8-4.4 .5-4.7 .5-4.8 .5-4.7 .5-4.4 .7-4.1 .8-3.7 .9-3.4 .9-3.3 1.1-3.1 1.3-3.2 1.4-3.3 1.8-3.3 1.8-3.4 2.1-3.4 2.3-3.4 2.4-3.4 2.7-3.4 2.8-3.4 3.1-3.3 3.3-3.4 3.5-3.4 3.5-3.5 3.6-3.7 3.8-3.9 3.9-4 4-4.2 4.1-4.1 3.9-4.1 3.8-3.8 3.7-3.9 4-4 3.8-4 3.5-3.5 2.9-3.1 2.2-2.2M378.1 148.9l.3 2 .4 2.8 .6 3.3 .6 3.6 .6 3.6 .6 3.5 .8 3.4 .9 3.3 .9 3.3 .7 3.1 .3 3.2-.2 3.2-.8 3.3-1.3 3.6-1.7 3.8-2 4-2.1 4.2-1.9 4.2-1.9 4.4-1.9 4.5-2 4.6-2 4.6-2 4.6-2 4.6-2 4.5-2 4.5-2.1 4.6-1.9 4.5-1.9 4.6-1.9 4.6-1.8 4.5-1.8 4.6-1.8 4.5-1.7 4.6-1.6 4.6-1.4 4.6-1.3 4.6-1.1 4.6-1 4.5-.8 4.6-.7 4.7-.5 4.6-.2 4.6 .1 4.7 .2 4.6 .3 4.6 .5 4.6 .4 4.5 .6 4.7 .7 4.7 .7 4.6 .9 4.7 .9 4.5 .9 4.4 .9 4.2 1 4.1 1 4 1.1 3.9 1.2 4 1.4 4 1.4 4 1.5 4.2 1.5 4.3 1.8 4.2 2 4 2.3 3.8 2.5 3.5 2.6 3.2 2.9 3.1 3.1 2.9 3.4 2.6 3.8 2.5 4.1 2.2 4.4 1.9 4.7 1.6 4.8 1.5 5 1.4 5.1 1.3 5.5 1.3 5.8 1 6 1 5.9 .9 5.7 .9 5.3 1 5 1.2 4.9 1.3 4.8 1.4 4.5 1.2 4.4 .9 4 .2 3.6-.2 3.4-.6 3.1-1 2.8-1.4 2.5-1.9 2.1-2.4 1.8-3.1 1.4-3.7 1.1-4.1 .9-4.4 .8-4.4 .8-4.4 .7-4.4 .6-4.7 .4-4.7 .5-4.7 .6-4.5 .7-4.1 .9-3.8 1-3.4 1-3.3 1.2-3.2 1.4-3.1 1.7-3.2 1.8-3.4 2.1-3.3 2.2-3.2 2.4-3.3 2.6-3.3 2.8-3.3 3-3.2 3.2-3.2 3.5-3.2 3.6-3.3 3.7-3.4 3.7-3.5 3.9-3.7 4.1-4 4.1-4 4.2-4 4-4 3.9-3.7 3.8-3.8 4-4 3.9-3.8 3.6-3.6 3-2.9 2.2-2.2M380 148.6l.2 2 .4 2.8 .4 3.3 .5 3.6 .5 3.7 .4 3.5 .5 3.3 .7 3.4 .7 3.3 .5 3.3 .1 3.2-.4 3.2-1 3.2-1.5 3.5-1.9 3.7-2.2 3.8-2.3 4.1-2.2 4.2-2 4.3-2.1 4.4-2.2 4.5-2.2 4.6-2.1 4.5-2.2 4.5-2.1 4.5-2.1 4.4-2.2 4.5-2.1 4.6-1.9 4.6-1.9 4.6-1.8 4.5-1.8 4.6-1.8 4.6-1.7 4.7-1.5 4.7-1.4 4.7-1.2 4.7-1 4.7-.9 4.7-.7 4.7-.5 4.7-.3 4.8 0 4.7 .2 4.7 .4 4.7 .5 4.6 .7 4.6 .7 4.6 .7 4.6 .9 4.6 1 4.7 1 4.6 1.1 4.5 1.1 4.3 1.1 4.2 1.1 4 1.2 3.9 1.3 3.9 1.3 3.9 1.5 4 1.5 4 1.5 4.1 1.7 4.2 1.8 4.1 2 3.9 2.2 3.7 2.4 3.4 2.6 3.2 2.7 3 3 2.8 3.3 2.6 3.6 2.5 4 2.2 4.3 2 4.5 1.7 4.8 1.7 4.9 1.5 5.1 1.4 5.4 1.4 5.8 1.3 5.9 1.1 5.9 1.1 5.7 1.1 5.2 1.2 5 1.3 4.8 1.6 4.7 1.5 4.5 1.5 4.4 1 4.2 .4 3.9 0 3.6-.5 3.4-1 3.2-1.4 2.9-2.1 2.5-2.7 2.1-3.4 1.5-4 1.2-4.3 .9-4.5 .8-4.5 .8-4.4 .7-4.5 .5-4.7 .4-4.8 .4-4.7 .4-4.4 .6-4 .8-3.8 .8-3.4 .9-3.2 1-3.2 1.2-3.1 1.4-3.3 1.7-3.4 1.9-3.3 2-3.4 2.3-3.4 2.4-3.4 2.6-3.4 2.9-3.4 3.1-3.3 3.3-3.3 3.5-3.4 3.6-3.5 3.7-3.7 3.8-3.8 3.9-4 4.1-4.1 4.1-4.1 4-4 3.8-3.8 3.8-3.8 4-4 3.9-3.8 3.6-3.5 3-3 2.2-2.1M378.9 148.8l.3 2 .4 2.8 .5 3.3 .6 3.6 .5 3.6 .5 3.5 .7 3.4 .8 3.3 .8 3.3 .6 3.2 .2 3.2-.3 3.1-.9 3.4-1.4 3.5-1.9 3.7-2.1 3.9-2.2 4.1-2.1 4.2-2 4.4-2.1 4.4-2.1 4.5-2.2 4.5-2.1 4.6-2.1 4.5-2.2 4.5-2.1 4.4-2.2 4.5-2.1 4.5-1.9 4.6-1.9 4.6-1.9 4.5-1.9 4.6-1.8 4.6-1.8 4.6-1.6 4.7-1.4 4.6-1.3 4.7-1.1 4.7-1 4.6-.9 4.7-.6 4.8-.4 4.7-.2 4.8 .1 4.8 .3 4.7 .4 4.6 .5 4.6 .6 4.6 .6 4.7 .8 4.7 .9 4.7 .9 4.6 1 4.6 1.1 4.3 1 4.3 1.1 4 1.2 4 1.2 3.9 1.4 4 1.4 3.9 1.5 4.1 1.6 4.1 1.7 4.2 1.9 4.2 2.1 4 2.4 3.8 2.5 3.4 2.7 3.2 2.9 3.1 3.2 2.8 3.4 2.6 3.8 2.4 4.1 2.1 4.4 1.9 4.7 1.6 4.8 1.5 5 1.4 5.1 1.3 5.5 1.3 5.8 1.1 5.9 .9 6 1 5.7 .9 5.3 1.1 4.9 1.3 4.9 1.4 4.7 1.5 4.6 1.3 4.3 .9 4.1 .4 3.7-.1 3.4-.5 3.3-.9 2.9-1.4 2.7-2 2.4-2.5 1.9-3.2 1.5-3.8 1.2-4.2 1-4.4 .8-4.5 .9-4.3 .8-4.5 .5-4.7 .5-4.8 .5-4.7 .6-4.4 .7-4 .9-3.7 .9-3.4 1.1-3.2 1.1-3.1 1.3-3.1 1.6-3.2 1.8-3.3 1.9-3.3 2.2-3.3 2.3-3.3 2.5-3.3 2.7-3.3 2.9-3.2 3.2-3.2 3.3-3.3 3.6-3.3 3.6-3.5 3.7-3.6 3.9-3.8 4-4 4-4.1 4.1-4.1 4-4 3.8-3.8 3.9-3.8 3.9-4 3.9-3.9 3.5-3.5 3-3 2.1-2.2M378.5 148.8l.2 2.1 .3 2.8 .4 3.3 .5 3.6 .4 3.7 .4 3.5 .6 3.4 .8 3.4 .7 3.3 .5 3.1 .1 3-.3 2.9-.9 3.1-1.5 3.4-1.8 3.6-2.2 3.9-2.2 4.1-2.1 4.2-2.1 4.4-2.1 4.4-2.1 4.5-2.1 4.6-2.2 4.5-2.1 4.5-2.1 4.5-2.1 4.5-2.1 4.5-2.1 4.5-1.9 4.6-1.8 4.6-1.8 4.6-1.8 4.6-1.8 4.6-1.6 4.7-1.6 4.8-1.4 4.7-1.2 4.7-1 4.7-1 4.7-.7 4.7-.6 4.8-.4 4.8-.1 4.8 .2 4.8 .3 4.7 .5 4.7 .5 4.6 .6 4.5 .7 4.7 .8 4.7 .9 4.7 .9 4.7 1 4.5 1 4.4 1 4.2 1.1 4.1 1.2 4 1.2 3.9 1.3 4 1.4 3.9 1.5 4.1 1.6 4.2 1.6 4.2 1.8 4.2 2.1 4.1 2.4 3.8 2.5 3.5 2.7 3.3 2.8 3.1 3.2 2.9 3.5 2.7 3.8 2.5 4.2 2.2 4.4 2 4.7 1.7 4.9 1.5 5 1.4 5.1 1.4 5.5 1.3 5.8 1.1 6 1 5.9 .9 5.7 1 5.3 1.1 4.9 1.2 4.8 1.5 4.7 1.4 4.6 1.3 4.5 1 4.2 .4 3.9-.2 3.6-.6 3.4-1 3.1-1.5 2.8-2.1 2.4-2.7 2-3.4 1.5-3.9 1.1-4.3 .9-4.5 .8-4.5 .8-4.4 .7-4.5 .5-4.7 .4-4.8 .4-4.6 .5-4.4 .7-4.1 .8-3.7 .9-3.5 1-3.2 1.1-3.1 1.3-3.1 1.5-3.2 1.7-3.3 2-3.3 2.1-3.4 2.4-3.3 2.5-3.3 2.7-3.3 2.9-3.2 3.2-3.2 3.4-3.3 3.5-3.3 3.7-3.4 3.7-3.6 3.9-3.8 4-3.9 4.1-4.1 4.2-4 4-4 3.9-3.7 3.8-3.8 4.1-3.9 3.9-3.9 3.6-3.5 3-2.9 2.2-2.1M378.5 148.8l.1 2.1 .3 2.8 .3 3.4 .4 3.6 .3 3.6 .4 3.6 .5 3.5 .6 3.4 .6 3.3 .4 3.1 0 2.8-.4 2.8-1 2.8-1.5 3.2-1.9 3.6-2.3 3.8-2.3 4-2.3 4.3-2.1 4.3-2.2 4.4-2.2 4.5-2.2 4.5-2.2 4.5-2.2 4.5-2.2 4.4-2.1 4.5-2.2 4.4-2.1 4.6-2 4.6-1.8 4.7-1.8 4.6-1.7 4.6-1.8 4.6-1.7 4.8-1.5 4.8-1.4 4.8-1.1 4.8-1.1 4.8-.9 4.8-.7 4.8-.5 4.9-.3 4.9 0 4.9 .2 4.9 .4 4.7 .6 4.7 .6 4.6 .7 4.6 .8 4.7 .9 4.7 .9 4.8 1.1 4.6 1.1 4.5 1 4.4 1.1 4.2 1.2 4.1 1.2 4 1.3 3.9 1.4 4 1.5 3.9 1.5 4.1 1.6 4.1 1.7 4.3 1.9 4.2 2.1 4.1 2.3 3.8 2.6 3.6 2.7 3.3 2.9 3.1 3.1 2.9 3.5 2.8 3.8 2.5 4.2 2.3 4.5 2 4.7 1.7 4.9 1.6 5 1.5 5.1 1.4 5.5 1.4 5.9 1.1 5.9 1.1 6 1 5.6 1 5.2 1.2 4.9 1.3 4.7 1.5 4.7 1.6 4.7 1.4 4.6 1 4.4 .4 4.1-.1 3.8-.5 3.6-1.1 3.4-1.6 3.1-2.2 2.7-3 2.2-3.7 1.6-4.2 1.2-4.4 .9-4.5 .8-4.5 .8-4.4 .7-4.6 .4-4.8 .4-4.8 .4-4.6 .4-4.4 .6-4 .8-3.6 .8-3.4 .9-3.2 1-3.1 1.2-3.1 1.4-3.2 1.7-3.3 1.8-3.3 2.1-3.3 2.2-3.3 2.5-3.3 2.6-3.4 2.8-3.2 3.1-3.3 3.4-3.3 3.5-3.3 3.6-3.5 3.7-3.6 3.8-3.8 4-4 4.1-4.1 4.2-4 4-4 3.8-3.8 3.9-3.8 4-3.9 3.9-3.8 3.6-3.5 3.1-2.9 2.2-2.1M378.7 148.8l.2 2 .4 2.8 .4 3.4 .4 3.6 .5 3.6 .4 3.5 .5 3.5 .7 3.4 .7 3.3 .4 3.1 0 3-.4 2.9-1 3-1.6 3.3-1.9 3.6-2.3 3.8-2.3 4-2.3 4.2-2.2 4.3-2.3 4.4-2.2 4.4-2.3 4.5-2.4 4.5-2.2 4.4-2.3 4.4-2.3 4.4-2.3 4.4-2.2 4.5-2 4.6-2 4.6-1.9 4.6-1.8 4.5-1.9 4.7-1.8 4.7-1.7 4.8-1.4 4.8-1.3 4.8-1.1 4.8-1 4.8-.9 4.9-.6 4.9-.3 5-.1 5 .1 4.9 .4 4.9 .5 4.7 .6 4.7 .7 4.6 .8 4.7 .9 4.8 .9 4.7 1.1 4.7 1.1 4.5 1.1 4.4 1.2 4.2 1.2 4.1 1.3 4 1.4 4 1.5 3.9 1.6 4 1.7 4 1.7 4.1 1.8 4.2 2 4.2 2.2 4.1 2.6 3.8 2.6 3.5 2.8 3.2 3 3.1 3.3 2.8 3.6 2.7 3.9 2.4 4.2 2.2 4.5 1.8 4.7 1.7 4.9 1.4 5 1.4 5.1 1.3 5.5 1.3 5.9 1.1 5.9 1 6 1 5.7 .9 5.2 1.2 4.9 1.3 4.8 1.6 4.7 1.5 4.6 1.4 4.4 1.1 4.3 .5 4-.1 3.7-.4 3.5-1 3.3-1.4 3-2.1 2.8-2.8 2.2-3.6 1.7-4.1 1.3-4.3 1-4.5 .9-4.5 .9-4.4 .8-4.6 .6-4.8 .5-4.7 .5-4.7 .5-4.3 .8-3.9 .8-3.6 .9-3.4 .9-3.1 1.1-3 1.2-3 1.5-3.1 1.7-3.2 1.8-3.2 2.1-3.3 2.2-3.2 2.4-3.3 2.6-3.3 2.8-3.2 3.1-3.3 3.2-3.2 3.5-3.4 3.6-3.5 3.7-3.7 3.8-3.9 3.9-4 4.1-4.1 4-4.2 4-4 3.7-3.9 3.8-3.8 4-4 3.8-3.9 3.5-3.6 3-3 2.2-2.2M377.8 149l0 2 .2 2.9 .3 3.3 .3 3.6 .3 3.7 .3 3.6 .4 3.6 .6 3.5 .5 3.2 .3 3 0 2.7-.5 2.4-.9 2.7-1.5 3.1-1.9 3.4-2.3 3.7-2.4 4.1-2.3 4.3-2.1 4.4-2.2 4.3-2.2 4.5-2.3 4.5-2.2 4.5-2.2 4.5-2.2 4.4-2.2 4.4-2.2 4.5-2.1 4.6-1.9 4.7-1.8 4.6-1.7 4.6-1.7 4.7-1.7 4.7-1.7 4.8-1.5 4.8-1.4 4.9-1.1 4.9-1 4.8-.9 4.8-.7 4.9-.5 4.9-.3 5 0 5 .2 4.9 .4 4.8 .6 4.8 .6 4.6 .7 4.6 .8 4.7 .9 4.8 .9 4.7 1 4.7 1.1 4.5 1 4.4 1.1 4.3 1.2 4.1 1.2 4 1.3 3.9 1.4 4 1.5 4 1.5 4.1 1.6 4.1 1.7 4.3 1.9 4.3 2.1 4.2 2.5 4 2.6 3.5 2.7 3.4 3 3.2 3.3 3 3.6 2.8 3.9 2.6 4.3 2.3 4.6 2 4.7 1.8 5 1.6 5 1.4 5.2 1.4 5.5 1.3 5.9 1.1 6 1.1 6 .9 5.6 1 5.2 1.1 4.8 1.3 4.8 1.5 4.7 1.5 4.7 1.3 4.6 1.1 4.6 .4 4.1-.2 3.9-.6 3.7-1.1 3.5-1.7 3.2-2.3 2.7-3.1 2.3-3.8 1.5-4.2 1.2-4.5 .9-4.5 .7-4.6 .8-4.4 .6-4.6 .5-4.8 .4-4.8 .3-4.6 .4-4.4 .7-3.9 .7-3.7 .8-3.4 .9-3.2 1-3 1.2-3.1 1.4-3.2 1.7-3.2 1.9-3.3 2.1-3.3 2.2-3.3 2.5-3.3 2.6-3.3 2.9-3.2 3.1-3.2 3.4-3.3 3.5-3.3 3.7-3.4 3.7-3.6 3.9-3.8 4-3.9 4.2-4.1 4.1-4 4.1-3.9 3.8-3.8 3.9-3.7 4.1-3.9 3.9-3.8 3.7-3.5 3-2.9 2.3-2.1M376.5 149.2l.2 2.1 .3 2.8 .4 3.3 .5 3.6 .5 3.6 .4 3.6 .6 3.5 .8 3.5 .7 3.2 .4 2.9 .1 2.7-.3 2.6-.9 2.8-1.4 3.2-1.8 3.5-2.2 3.8-2.3 4.1-2.3 4.3-2.1 4.3-2.2 4.4-2.2 4.4-2.2 4.6-2.3 4.5-2.3 4.4-2.2 4.4-2.3 4.4-2.3 4.4-2.2 4.5-2 4.7-1.9 4.6-1.8 4.5-1.9 4.6-1.9 4.7-1.8 4.7-1.7 4.8-1.5 4.9-1.3 4.8-1.2 4.8-1.1 4.8-.9 4.9-.7 5-.5 5-.2 5.1 0 5 .3 4.9 .4 4.8 .5 4.7 .6 4.7 .6 4.7 .8 4.9 .8 4.8 1 4.7 1 4.6 1 4.5 1.1 4.2 1.1 4.2 1.3 4 1.3 4.1 1.5 4 1.6 4 1.6 4.1 1.7 4.1 1.8 4.3 2.1 4.4 2.4 4.3 2.7 4 2.8 3.6 2.9 3.4 3.3 3.1 3.5 3 3.8 2.7 4.1 2.5 4.5 2.1 4.7 1.9 4.9 1.5 5 1.4 5.1 1.2 5.2 1.2 5.6 1.1 5.9 1 6.1 .8 5.9 .8 5.8 .8 5.2 1 4.9 1.2 4.8 1.4 4.7 1.5 4.7 1.3 4.5 .9 4.3 .4 4-.2 3.7-.5 3.4-1 3.3-1.6 3-2.1 2.6-2.8 2.2-3.5 1.6-4.1 1.3-4.3 1-4.5 .9-4.5 .9-4.4 .8-4.5 .7-4.8 .5-4.8 .6-4.6 .6-4.3 .8-3.9 .9-3.6 1-3.3 1.1-3.1 1.1-2.9 1.4-3 1.6-3 1.8-3.1 1.9-3.1 2.2-3.2 2.3-3.1 2.5-3.2 2.7-3.1 2.8-3.1 3.1-3.1 3.4-3.1 3.5-3.3 3.7-3.5 3.8-3.6 3.9-3.8 4-3.9 4.1-4.1 4.1-4.1 4-4 3.8-3.8 3.8-3.8 4-4 3.8-3.9 3.6-3.6 2.9-3 2.2-2.2M377.6 149l0 2.1 .2 2.8 .2 3.4 .3 3.6 .2 3.7 .2 3.6 .4 3.6 .6 3.5 .4 3.3 .2 2.9-.1 2.6-.6 2.3-1 2.5-1.6 2.9-2 3.3-2.3 3.7-2.5 4.1-2.5 4.3-2.3 4.2-2.3 4.3-2.3 4.5-2.4 4.4-2.4 4.5-2.3 4.4-2.3 4.3-2.3 4.4-2.4 4.4-2.2 4.5-1.9 4.7-1.9 4.7-1.8 4.6-1.8 4.6-1.7 4.8-1.8 4.8-1.6 5-1.3 5-1.2 4.9-1.1 4.9-.9 5-.7 5-.5 5.1-.3 5.1 0 5.2 .3 5 .5 5 .6 4.8 .7 4.7 .7 4.6 .9 4.8 .9 4.8 1.1 4.8 1.1 4.6 1.1 4.6 1.2 4.4 1.2 4.3 1.2 4.1 1.4 4 1.4 4 1.6 4 1.6 4 1.6 4 1.7 4.1 1.8 4.3 2.1 4.3 2.3 4.3 2.5 3.9 2.8 3.6 2.8 3.4 3.1 3.2 3.4 3 3.7 2.8 4 2.6 4.4 2.3 4.6 2 4.8 1.7 5 1.5 5 1.5 5.3 1.3 5.5 1.3 5.9 1.2 6 1 6 1 5.6 1 5.2 1.1 4.7 1.4 4.7 1.5 4.7 1.6 4.8 1.5 4.7 1.1 4.6 .5 4.3-.1 4.1-.5 3.9-1.1 3.7-1.7 3.5-2.5 3.1-3.2 2.4-4 1.8-4.5 1.2-4.5 1-4.7 .8-4.5 .8-4.4 .8-4.7 .5-4.8 .4-4.9 .4-4.6 .4-4.2 .6-3.9 .7-3.5 .8-3.4 .9-3 .9-3 1.2-3 1.4-3 1.6-3.2 1.8-3.3 2-3.2 2.1-3.3 2.4-3.2 2.5-3.3 2.8-3.2 3-3.2 3.3-3.3 3.5-3.3 3.6-3.6 3.7-3.6 3.8-3.9 4-4 4.1-4 4.1-4.1 4-4 3.8-3.8 3.9-3.8 4-3.9 3.9-3.9 3.6-3.5 3-2.9 2.2-2.1M376.6 149.2l.1 2.1 .2 2.8 .3 3.3 .4 3.6 .4 3.7 .3 3.6 .5 3.6 .6 3.5 .6 3.2 .3 2.9 0 2.6-.5 2.3-.9 2.6-1.5 3-1.9 3.3-2.3 3.8-2.5 4.1-2.3 4.2-2.3 4.3-2.3 4.4-2.3 4.4-2.4 4.4-2.3 4.5-2.4 4.4-2.3 4.3-2.4 4.4-2.4 4.4-2.2 4.5-2 4.7-1.9 4.6-1.9 4.6-1.9 4.6-1.8 4.7-1.8 4.8-1.7 4.9-1.5 5-1.3 4.9-1.2 4.8-1 5-.9 5-.7 5.1-.4 5.2-.1 5.2 .1 5.1 .4 5 .5 4.8 .5 4.8 .7 4.6 .7 4.8 .9 4.9 .9 4.8 1.1 4.8 1 4.6 1.2 4.4 1.1 4.3 1.2 4.1 1.4 4.1 1.4 4.1 1.6 4 1.6 4 1.7 4 1.8 4.2 1.9 4.3 2.1 4.3 2.5 4.4 2.7 4 2.9 3.7 3 3.3 3.3 3.2 3.5 3 3.9 2.8 4.2 2.5 4.5 2.2 4.7 1.8 5 1.6 5 1.4 5.1 1.3 5.2 1.2 5.6 1.1 6 1 6 .9 6 .8 5.7 .9 5.1 1 4.9 1.3 4.7 1.5 4.8 1.5 4.6 1.3 4.7 1.1 4.5 .4 4.1-.1 3.9-.5 3.7-1 3.6-1.7 3.2-2.2 2.9-3.1 2.4-3.8 1.7-4.2 1.3-4.5 1.1-4.6 .9-4.5 .9-4.4 .8-4.6 .6-4.8 .6-4.8 .5-4.6 .6-4.3 .7-3.8 .9-3.5 .9-3.3 1-3 1.1-2.9 1.3-2.9 1.5-3 1.7-3.1 1.9-3.1 2-3.2 2.3-3.1 2.4-3.2 2.6-3.1 2.8-3.1 3-3.1 3.3-3.2 3.5-3.3 3.7-3.5 3.7-3.6 3.9-3.9 4-4 4-4.1 4.1-4.1 4-4 3.8-3.8 3.8-3.8 4-4 3.8-3.9 3.6-3.6 2.9-3 2.2-2.2M375.6 149.4l0 2.1 .2 2.8 .2 3.3 .3 3.7 .4 3.6 .3 3.6 .4 3.7 .7 3.5 .5 3.2 .2 2.8 0 2.4-.5 2.1-.9 2.3-1.4 2.9-1.9 3.3-2.3 3.7-2.4 4.1-2.4 4.3-2.3 4.3-2.2 4.4-2.3 4.4-2.4 4.5-2.3 4.4-2.3 4.5-2.3 4.3-2.4 4.4-2.3 4.4-2.2 4.5-2 4.7-1.8 4.7-1.8 4.6-1.8 4.6-1.8 4.7-1.8 4.9-1.7 5-1.4 5-1.3 4.9-1.1 4.9-1 5-.9 5-.6 5.1-.4 5.2-.2 5.3 .2 5.1 .3 5 .5 4.9 .6 4.7 .6 4.7 .7 4.8 .9 4.9 .9 4.9 1 4.7 1 4.6 1.1 4.5 1.1 4.3 1.2 4.2 1.3 4.1 1.4 4 1.5 4.1 1.6 4 1.7 4.1 1.7 4.2 1.9 4.3 2.1 4.5 2.5 4.4 2.7 4.1 2.9 3.8 3 3.4 3.4 3.3 3.6 3.1 3.9 2.8 4.3 2.6 4.6 2.3 4.9 1.9 5 1.6 5 1.4 5.2 1.3 5.3 1.2 5.6 1.1 6 1 6.1 .8 5.9 .8 5.7 .8 5.2 1 4.7 1.2 4.8 1.5 4.7 1.4 4.8 1.4 4.7 1 4.7 .4 4.2-.2 4-.6 3.8-1.1 3.6-1.7 3.4-2.5 2.9-3.1 2.4-3.9 1.7-4.4 1.2-4.5 1-4.6 .9-4.5 .8-4.4 .8-4.6 .6-4.9 .5-4.8 .5-4.6 .5-4.3 .7-3.8 .9-3.5 .9-3.3 1-3 1.1-2.9 1.3-2.9 1.5-3 1.7-3.1 1.9-3.1 2.1-3.1 2.3-3.1 2.4-3.2 2.7-3.1 2.8-3 3-3.1 3.4-3.1 3.5-3.3 3.7-3.5 3.8-3.6 3.9-3.8 4-3.9 4.2-4 4.1-4.1 4-4 3.9-3.7 3.8-3.8 4-4 3.9-3.8 3.6-3.5 3-3 2.2-2.2M375.4 149.4l0 2.1 .2 2.8 .2 3.4 .3 3.6 .3 3.7 .2 3.6 .4 3.7 .6 3.6 .5 3.1 .2 2.8-.2 2.3-.5 2-.9 2.2-1.5 2.7-1.9 3.3-2.4 3.6-2.5 4.1-2.5 4.4-2.3 4.3-2.3 4.2-2.4 4.4-2.4 4.5-2.4 4.4-2.4 4.4-2.4 4.3-2.4 4.3-2.4 4.4-2.3 4.5-1.9 4.8-1.9 4.7-1.8 4.5-1.9 4.7-1.8 4.7-1.8 4.9-1.7 5-1.4 5.1-1.3 5-1.2 5-1 5-.8 5.1-.6 5.2-.4 5.3-.1 5.4 .2 5.2 .4 5.1 .5 4.9 .6 4.7 .7 4.7 .7 4.9 .9 4.9 1 4.8 1.1 4.8 1.1 4.6 1.1 4.5 1.1 4.3 1.3 4.2 1.4 4.1 1.5 4 1.6 4.1 1.7 4 1.7 4.1 1.7 4.1 2 4.4 2.2 4.5 2.5 4.4 2.8 4.2 2.9 3.7 3.1 3.5 3.4 3.3 3.6 3.1 4 2.8 4.4 2.6 4.6 2.3 4.9 1.9 5 1.6 5.1 1.4 5.2 1.3 5.2 1.2 5.7 1.2 6 1 6.1 .8 6 .8 5.6 .9 5.1 1 4.8 1.3 4.7 1.4 4.7 1.5 4.8 1.5 4.8 1 4.7 .5 4.4-.1 4.1-.6 4-1.1 3.8-1.8 3.5-2.5 3.2-3.3 2.5-4.1 1.8-4.5 1.3-4.6 1-4.7 .9-4.5 .9-4.4 .8-4.7 .6-4.9 .5-4.8 .5-4.6 .5-4.2 .7-3.7 .8-3.5 .9-3.2 1-3 1-2.8 1.3-2.9 1.4-2.9 1.7-3.1 1.8-3.1 2.1-3.1 2.2-3.1 2.4-3.1 2.5-3.1 2.8-3.1 3-3 3.3-3.2 3.5-3.3 3.7-3.5 3.7-3.6 3.9-3.9 4-3.9 4.1-4.1 4.1-4.1 4-4 3.8-3.8 3.9-3.8 4-3.9 3.9-3.9 3.5-3.5 3-3 2.2-2.2M374.9 149.5l0 2.1 .1 2.8 .2 3.4 .2 3.6 .3 3.7 .2 3.6 .4 3.8 .6 3.6 .4 3.1 .2 2.7-.2 2.2-.5 1.9-.9 2.1-1.4 2.6-2 3.2-2.3 3.7-2.5 4.1-2.5 4.3-2.3 4.3-2.3 4.3-2.4 4.4-2.4 4.5-2.4 4.4-2.4 4.4-2.4 4.3-2.4 4.3-2.4 4.4-2.2 4.6-2 4.7-1.8 4.7-1.8 4.6-1.8 4.6-1.8 4.8-1.8 4.9-1.7 5.1-1.4 5.1-1.3 5-1.1 4.9-1 5.1-.9 5.1-.6 5.3-.4 5.3-.1 5.3 .2 5.3 .3 5.1 .6 4.9 .6 4.8 .6 4.7 .8 4.8 .8 5 1 4.9 1 4.7 1.1 4.7 1.1 4.5 1.1 4.3 1.3 4.2 1.4 4.1 1.4 4.1 1.6 4.1 1.7 4 1.6 4.1 1.8 4.1 2 4.4 2.1 4.5 2.6 4.5 2.8 4.3 3 3.8 3.1 3.5 3.4 3.3 3.7 3.1 4.1 2.9 4.4 2.7 4.7 2.3 5 1.9 5 1.6 5.2 1.4 5.1 1.2 5.4 1.2 5.7 1.2 6 .9 6.1 .8 5.9 .8 5.7 .8 5.1 1 4.7 1.2 4.8 1.4 4.7 1.5 4.8 1.4 4.8 1.1 4.8 .4 4.4-.2 4.1-.6 4-1.1 3.9-1.9 3.5-2.5 3.1-3.4 2.5-4.1 1.8-4.5 1.3-4.6 1-4.7 .9-4.5 .8-4.4 .8-4.7 .6-4.9 .5-4.8 .5-4.6 .5-4.2 .7-3.8 .9-3.4 .8-3.3 1-2.9 1.1-2.9 1.2-2.8 1.5-2.9 1.7-3.1 1.9-3 2-3.1 2.3-3.1 2.4-3.1 2.6-3.1 2.8-3 3-3.1 3.3-3.1 3.5-3.3 3.7-3.4 3.8-3.6 3.9-3.8 4.1-4 4.1-4 4.1-4.1 4.1-3.9 3.8-3.8 3.9-3.8 4-3.9 3.9-3.9 3.5-3.5 3.1-2.9 2.2-2.2M374.4 149.6l-.1 2.1 0 2.9 0 3.3 .2 3.7 .1 3.7 .2 3.7 .3 3.8 .5 3.6 .4 3.2 0 2.6-.2 1.9-.6 1.6-.9 1.9-1.5 2.5-1.9 3-2.3 3.6-2.6 4.2-2.5 4.4-2.4 4.3-2.3 4.3-2.4 4.3-2.4 4.5-2.4 4.4-2.4 4.4-2.3 4.3-2.4 4.4-2.4 4.4-2.2 4.5-1.9 4.8-1.7 4.8-1.8 4.6-1.7 4.7-1.7 4.8-1.7 5-1.6 5.1-1.4 5.2-1.2 5-1.1 5-.9 5.1-.8 5.2-.5 5.3-.4 5.3 0 5.4 .2 5.3 .4 5.1 .6 5 .6 4.7 .7 4.7 .8 4.9 .9 4.9 1 4.9 1 4.8 1.1 4.7 1.1 4.4 1.1 4.4 1.2 4.2 1.4 4.1 1.4 4.1 1.6 4.1 1.6 4.1 1.7 4 1.7 4.2 1.9 4.5 2.2 4.5 2.5 4.6 2.8 4.3 3 3.8 3.1 3.6 3.4 3.5 3.7 3.2 4.1 3 4.4 2.7 4.8 2.4 5 2 5.1 1.7 5.2 1.4 5.2 1.3 5.3 1.3 5.8 1.1 6 1 6.1 .9 6 .7 5.6 .8 5.1 1.1 4.6 1.2 4.7 1.4 4.8 1.5 4.8 1.4 5 1 5 .5 4.5-.2 4.3-.7 4.2-1.3 4-1.9 3.7-2.8 3.3-3.5 2.6-4.4 1.7-4.7 1.3-4.7 .9-4.7 .8-4.5 .8-4.5 .7-4.7 .5-4.9 .5-4.8 .4-4.6 .4-4.2 .7-3.8 .7-3.5 .8-3.2 .9-3 1.1-2.8 1.2-2.9 1.4-2.9 1.7-3.1 1.8-3.1 2.1-3.1 2.2-3.1 2.4-3.1 2.6-3.1 2.8-3 3-3 3.3-3.2 3.6-3.2 3.7-3.4 3.8-3.6 4-3.8 4-3.9 4.2-4 4.2-4 4-3.9 3.9-3.8 4-3.7 4-3.9 4-3.8 3.6-3.4 3.1-2.9 2.2-2.1M374.2 149.6l-.2 2.1 0 2.9 0 3.4 .1 3.7 0 3.7 .1 3.7 .3 3.8 .4 3.7 .3 3.2-.1 2.5-.3 1.9-.6 1.4-1 1.6-1.5 2.4-2 3-2.3 3.5-2.7 4.1-2.6 4.4-2.4 4.3-2.4 4.3-2.5 4.4-2.4 4.4-2.5 4.4-2.4 4.4-2.4 4.2-2.4 4.4-2.4 4.3-2.3 4.6-1.8 4.8-1.8 4.8-1.7 4.7-1.7 4.6-1.8 4.9-1.6 5-1.6 5.2-1.4 5.2-1.2 5.2-1 5-.9 5.2-.7 5.2-.6 5.4-.2 5.4 0 5.5 .2 5.4 .5 5.1 .7 5 .7 4.8 .7 4.7 .8 4.9 1 4.9 1 4.9 1.1 4.8 1.1 4.7 1.2 4.4 1.1 4.4 1.3 4.2 1.4 4.1 1.5 4.1 1.6 4.1 1.7 4.1 1.7 4 1.7 4.2 2 4.5 2.1 4.5 2.6 4.6 2.8 4.4 3 3.9 3.1 3.6 3.5 3.4 3.7 3.3 4.1 3 4.5 2.8 4.9 2.5 5 2 5.1 1.7 5.2 1.5 5.2 1.3 5.3 1.3 5.8 1.2 6.1 1 6.1 .9 5.9 .8 5.7 .8 5 1.1 4.6 1.3 4.6 1.4 4.7 1.6 4.9 1.4 5.1 1.1 5.1 .5 4.8-.2 4.4-.6 4.4-1.3 4.2-2.1 3.9-2.8 3.5-3.8 2.7-4.6 1.8-4.8 1.3-4.9 1-4.7 .7-4.6 .8-4.4 .7-4.8 .5-5 .4-4.8 .4-4.6 .4-4.2 .6-3.7 .7-3.4 .8-3.2 .8-3 1-2.8 1.1-2.8 1.4-2.9 1.6-3.1 1.8-3.1 2-3.1 2.2-3.1 2.3-3.1 2.6-3.1 2.7-3 3-3.1 3.3-3.1 3.5-3.3 3.7-3.4 3.8-3.6 3.9-3.8 4.1-3.9 4.2-4.1 4.1-4 4.1-3.9 3.9-3.7 3.9-3.8 4.1-3.8 3.9-3.8 3.7-3.5 3.1-2.8 2.2-2.1M374.3 149.6l-.2 2.1-.1 2.9 .1 3.4 .1 3.7 0 3.6 .1 3.8 .3 3.8 .5 3.7 .3 3.1 0 2.6-.4 1.9-.6 1.4-1 1.7-1.4 2.4-2 3-2.4 3.6-2.6 4.1-2.6 4.3-2.5 4.3-2.4 4.3-2.4 4.4-2.5 4.4-2.5 4.4-2.4 4.3-2.4 4.3-2.5 4.3-2.5 4.4-2.2 4.5-1.9 4.8-1.8 4.8-1.7 4.6-1.8 4.7-1.7 4.9-1.7 5-1.7 5.2-1.4 5.2-1.2 5.1-1.1 5.1-.9 5.1-.8 5.3-.6 5.3-.3 5.5 0 5.5 .2 5.4 .5 5.2 .5 5 .7 4.8 .7 4.7 .8 4.9 .9 5 1.1 4.9 1 4.8 1.1 4.6 1.2 4.5 1.1 4.4 1.3 4.2 1.4 4.1 1.6 4.2 1.6 4.1 1.7 4.1 1.7 4 1.8 4.2 1.9 4.4 2.3 4.6 2.5 4.6 3 4.4 3 3.9 3.2 3.6 3.5 3.4 3.8 3.2 4.2 3 4.5 2.8 4.9 2.3 5.1 2 5.1 1.7 5.2 1.4 5.2 1.3 5.4 1.2 5.7 1.1 6.1 1 6.1 .8 6 .7 5.7 .8 5 1.1 4.6 1.2 4.7 1.4 4.7 1.5 4.9 1.4 5 1.1 5.1 .5 4.6-.2 4.3-.7 4.3-1.2 4.2-2 3.7-2.8 3.4-3.6 2.7-4.5 1.8-4.7 1.3-4.8 .9-4.7 .9-4.6 .8-4.4 .7-4.8 .6-4.9 .4-4.8 .4-4.6 .5-4.2 .6-3.7 .8-3.5 .8-3.2 .9-2.9 1.1-2.8 1.1-2.8 1.5-2.9 1.6-3 1.8-3.1 2.1-3 2.2-3.1 2.4-3.1 2.5-3.1 2.7-3 3.1-3 3.3-3.1 3.5-3.3 3.7-3.4 3.9-3.6 3.9-3.8 4-3.9 4.2-4 4.1-4.1 4.1-3.9 3.9-3.7 3.9-3.8 4-3.9 4-3.8 3.6-3.4 3.1-2.9 2.2-2.1M373.1 149.8l-.2 2.2-.1 2.8 .1 3.4 .1 3.7 0 3.7 .1 3.7 .3 3.9 .5 3.7 .2 3.1 0 2.5-.3 1.7-.6 1.2-1 1.5-1.4 2.3-1.9 2.9-2.4 3.6-2.7 4.1-2.6 4.4-2.4 4.3-2.5 4.3-2.4 4.3-2.5 4.4-2.5 4.5-2.5 4.3-2.4 4.2-2.4 4.3-2.6 4.4-2.2 4.6-1.9 4.8-1.8 4.8-1.7 4.6-1.8 4.7-1.7 4.8-1.8 5.1-1.6 5.2-1.5 5.3-1.2 5.1-1.1 5.1-1 5.2-.8 5.4-.6 5.4-.3 5.5-.1 5.6 .2 5.5 .5 5.2 .5 5 .7 4.8 .7 4.8 .8 4.9 .9 5 1 5 1 4.8 1.1 4.7 1.2 4.5 1.1 4.4 1.3 4.2 1.4 4.2 1.6 4.2 1.6 4.1 1.7 4.1 1.7 4.1 1.8 4.2 2 4.5 2.3 4.6 2.7 4.7 3 4.5 3.1 3.9 3.3 3.7 3.6 3.5 3.9 3.3 4.3 3 4.7 2.8 5 2.4 5.1 2 5.2 1.6 5.3 1.4 5.3 1.3 5.4 1.1 5.8 1.1 6.1 1 6.2 .7 5.9 .7 5.7 .8 5 1 4.6 1.2 4.6 1.4 4.8 1.5 4.9 1.4 5.1 1 5.1 .5 4.8-.2 4.4-.7 4.4-1.3 4.3-2 3.9-2.9 3.4-3.8 2.8-4.6 1.8-4.8 1.3-4.8 1-4.8 .8-4.5 .9-4.5 .7-4.7 .6-5 .5-4.9 .4-4.5 .5-4.2 .6-3.6 .8-3.4 .8-3.2 1-2.9 1-2.7 1.2-2.8 1.4-2.8 1.7-3 1.8-3 2-3 2.2-3 2.4-3.1 2.6-3 2.7-2.9 3-3 3.3-3 3.5-3.3 3.8-3.4 3.8-3.6 4-3.8 4-3.9 4.2-4 4.2-4 4-3.9 3.9-3.8 3.9-3.7 4.1-3.9 3.9-3.8 3.6-3.5 3.1-2.9 2.2-2.1M393.1 158l.5 3.4 .5 4.6 .7 5.4 .8 5.9 1 5.8 1.2 5.6 1.4 5.4 1.7 5.7 2 5.6 2.1 5.5 2.2 5.3 2.2 4.8 2.1 4.6 2.1 4.5 1.9 4.3 1.9 4.3 1.8 4 1.9 3.8 2 3.6 2 3.3 2.2 2.9 2.5 2.5 2.7 2.3 2.8 1.8 3.4 1.7 4 1.6 4.5 1.7 4.3 1.6 3.8 1.5 2.8 1.4M390.9 158.5l.6 3.3 .7 4.6 1 5.4 1.1 5.7 1.3 5.9 1.4 5.5 1.6 5.4 1.7 5.7 1.8 5.7 1.8 5.6 1.9 5.3 1.9 5 1.9 4.8 2 4.6 1.9 4.4 2 4.3 2.1 4 2.2 3.7 2.2 3.4 2.4 3.2 2.4 2.8 2.5 2.5 2.7 2.3 2.8 2 3.3 1.9 4 2 4.3 2 4.3 1.9 3.8 1.7 2.7 1.3M388.5 159l.4 3.4 .8 4.5 1.1 5.4 1.4 5.7 1.7 5.8 1.7 5.4 1.8 5.4 1.9 5.6 1.8 5.8 1.8 5.6 1.6 5.5 1.7 5.1 1.6 4.9 1.7 4.8 1.8 4.7 1.9 4.3 2.2 4.1 2.3 3.7 2.6 3.4 2.6 3 2.8 2.7 2.8 2.3 2.9 2.3 2.8 2 3.3 2.1 4 2.2 4.3 2.3 4.1 2.2 3.6 2 2.6 1.5M387.4 159.3l1.1 3.2 1.3 4.4 1.4 5.3 1.5 5.7 1.4 5.8 1.2 5.6 1.3 5.5 1.2 5.9 1.2 5.9 1.4 5.8 1.5 5.6 1.8 5.2 2 4.8 2.2 4.7 2.4 4.3 2.5 4.1 2.7 3.9 2.6 3.5 2.5 3.3 2.5 3.2 2.4 2.9 2.4 2.9 2.4 2.7 2.7 2.7 3.2 2.5 4 2.5 4.5 2.2 4.3 1.9 3.8 1.5 2.9 .9M387.1 159.3l.9 3.3 1 4.5 1 5.3 .9 5.9 1 6 .9 5.7 1 5.6 1.3 5.8 1.5 5.9 1.7 5.7 2.1 5.5 2.2 5.1 2.4 4.7 2.5 4.5 2.5 4.4 2.5 4.2 2.3 4 2.2 3.8 2.2 3.7 2.1 3.5 2.2 3.3 2.4 3.1 2.6 2.9 3 2.5 3.6 2.4 4.4 2 4.7 1.8 4.5 1.5 4 1.2 2.8 .9M384.4 159.9l.6 3.3 .8 4.5 1 5.4 1.1 5.9 1.3 5.9 1.4 5.6 1.5 5.5 1.6 5.8 1.8 5.8 1.9 5.7 1.9 5.6 2 5.2 2.1 4.9 2.1 4.8 2.1 4.6 2.2 4.4 2.2 4.2 2.3 4 2.4 3.7 2.5 3.4 2.6 3.1 2.8 2.9 3 2.6 3.2 2.4 3.8 2.3 4.4 2.2 4.6 2.1 4.4 1.9 3.8 1.6 2.6 1.3M382.9 160.2l1.1 3.2 1.4 4.4 1.4 5.3 1.5 5.8 1.3 5.9 1.2 5.7 1.1 5.6 1.2 5.8 1.2 6 1.4 6 1.6 5.7 1.8 5.3 2.1 5 2.4 4.7 2.6 4.5 2.7 4.2 2.7 4 2.7 3.7 2.7 3.5 2.5 3.3 2.5 3.3 2.5 3.1 2.7 3 2.9 2.9 3.6 2.8 4.3 2.7 4.6 2.2 4.5 1.9 3.8 1.4 2.9 .8M381.8 160.4l.4 3.4 .6 4.6 .9 5.4 1 5.9 1.4 5.9 1.5 5.7 1.6 5.5 1.9 5.7 2 5.8 2 5.7 2.1 5.6 2 5.3 2 5 2 4.9 2 4.8 2 4.6 2.2 4.4 2.2 4.2 2.5 3.8 2.6 3.5 2.8 3.2 3 2.9 3.3 2.6 3.5 2.4 4.1 2.3 4.6 2.2 4.7 2.1 4.4 1.9 3.6 1.8 2.6 1.4M380 160.8l.9 3.3 1.1 4.5 1.1 5.3 1.3 5.9 1.3 5.9 1.3 5.7 1.3 5.6 1.4 5.9 1.5 5.9 1.7 5.9 1.8 5.8 2 5.3 2.2 5.1 2.3 4.8 2.4 4.7 2.5 4.4 2.5 4.3 2.6 4 2.6 3.7 2.6 3.6 2.6 3.3 2.9 3.2 3 3 3.3 2.9 4 2.7 4.6 2.5 4.7 2.2 4.5 1.9 3.8 1.4 2.8 1.1M378.1 161.2l.7 3.3 .9 4.5 1.2 5.4 1.4 5.8 1.6 6 1.5 5.6 1.6 5.6 1.7 5.8 1.7 5.9 1.7 5.9 1.8 5.7 1.8 5.5 1.9 5.2 2 5 2.2 4.9 2.4 4.6 2.5 4.3 2.6 4.1 2.8 3.8 2.8 3.4 3 3.3 3.1 3 3.2 2.9 3.5 2.8 4.1 2.7 4.6 2.6 4.7 2.4 4.4 2.1 3.7 1.7 2.5 1.3M376.6 161.5l.8 3.3 1.1 4.5 1.4 5.3 1.4 5.8 1.6 6 1.5 5.7 1.5 5.6 1.4 5.8 1.6 6 1.6 6 1.7 5.8 1.8 5.6 2 5.2 2.1 5 2.4 4.8 2.5 4.6 2.6 4.4 2.8 4 2.9 3.8 2.8 3.5 3 3.3 3 3.2 3.2 3 3.5 3 4.1 2.9 4.7 2.8 4.7 2.4 4.5 2.1 3.7 1.7 2.6 1.1M374.4 162l.9 3.2 1.2 4.5 1.5 5.3 1.7 5.8 1.7 6 1.7 5.6 1.5 5.6 1.5 5.9 1.4 6 1.5 6.1 1.5 5.9 1.6 5.7 1.9 5.3 2.1 5.2 2.3 4.9 2.6 4.6 2.9 4.3 3 4 3 3.7 3.1 3.5 3.1 3.3 3.1 3.2 3.3 3.1 3.5 3.2 4.1 3.1 4.7 3 4.7 2.6 4.4 2.3 3.7 1.7 2.6 1.2M373.3 162.3l.8 3.2 1.1 4.5 1.3 5.3 1.5 5.9 1.5 6 1.5 5.8 1.4 5.6 1.5 5.9 1.5 6 1.6 6.1 1.8 5.9 1.9 5.6 2 5.4 2.3 5.1 2.4 4.9 2.6 4.6 2.7 4.5 2.9 4.2 2.9 3.9 2.9 3.6 3 3.5 3.2 3.4 3.4 3.2 3.7 3.2 4.4 3.1 4.9 2.9 4.9 2.5 4.5 2 3.7 1.7 2.6 1.1M372.5 162.4l.4 3.3 .8 4.6 1.1 5.4 1.2 5.9 1.5 6.1 1.6 5.8 1.7 5.5 1.8 5.8 1.9 6 1.9 6 2 5.8 2 5.7 2 5.3 2.1 5.2 2.1 5 2.3 4.9 2.5 4.7 2.7 4.4 2.8 4 2.9 3.8 3.2 3.5 3.4 3.3 3.7 3.1 4 2.9 4.6 2.9 5.1 2.7 4.9 2.4 4.5 2.1 3.7 1.8 2.4 1.3M379.4 181.7l-.5 3.7-.6 5-.6 5.9-.4 6.4-.2 6.3 .1 5.8 .4 5.8 .4 6 .4 6.2 .5 6.2 .5 5.9 .7 5.6 .8 5.3 1.1 5.3 1.3 5 1.6 4.7 1.9 4.3 2.2 3.9 2.3 3.4 2.5 3.1 2.6 2.8 2.7 2.6 2.8 2.6 2.8 2.4 3.2 2.5 3.8 2.7 4.2 2.6 4.2 2.5 3.6 2.1 2.7 1.6M378.1 181.5l-.7 3.7-.9 5-.7 5.9-.4 6.4-.1 6.4 .2 5.9 .6 5.8 .6 6.1 .7 6.2 .7 6.2 .6 5.9 .7 5.6 .7 5.4 .9 5.4 1.1 5.1 1.4 4.8 1.7 4.5 2.1 4.1 2.4 3.6 2.6 3.1 2.8 2.8 2.9 2.5 3.1 2.5 3 2.3 3.3 2.4 3.9 2.6 4.3 2.7 4.1 2.6 3.5 2.3 2.6 1.8M377 181.4l-.2 3.7-.4 5.1-.7 5.9-.6 6.4-.6 6.3-.4 6-.2 5.9 0 6.2 .2 6.3 .4 6.3 .8 6 1 5.7 1.3 5.4 1.6 5.3 1.8 4.9 2 4.7 2.1 4.4 2.1 4 2.2 3.7 2.2 3.5 2.4 3.2 2.5 3.1 2.7 3.1 2.8 2.8 3.5 2.8 4.1 2.6 4.5 2.4 4.4 2.1 3.9 1.7 2.8 1.2M375.5 181.2l-.2 3.7-.5 5.1-.6 5.9-.7 6.4-.6 6.4-.4 6.1-.2 5.9 0 6.3 .2 6.3 .5 6.4 .8 6.1 1 5.7 1.4 5.5 1.6 5.3 1.8 5 2 4.8 2.1 4.4 2.1 4.2 2.2 3.8 2.3 3.5 2.5 3.4 2.5 3.2 2.8 3 3 2.9 3.5 2.8 4.2 2.7 4.6 2.5 4.4 2.1 3.9 1.6 2.8 1.2M373.1 180.9l-.1 3.7-.3 5.1-.2 6-.3 6.5-.3 6.5 0 6.1 0 5.9 0 6.3 0 6.4 .2 6.4 .4 6.2 .6 5.9 1 5.6 1.4 5.4 1.8 5.2 2.1 4.8 2.3 4.5 2.6 4.1 2.6 3.7 2.7 3.4 2.7 3.1 2.7 3.2 2.8 3 2.9 3.1 3.4 3.1 4.1 3.1 4.4 2.8 4.3 2.4 3.7 1.9 2.8 1.3M373.1 180.9l-.3 3.7-.6 5-.9 6-1 6.4-.9 6.5-.6 6.2-.3 6.1 .1 6.4 .3 6.5 .7 6.4 1.1 6.1 1.3 5.9 1.6 5.5 1.8 5.3 1.9 5.2 1.9 4.9 2 4.6 2 4.4 2.1 4.2 2.3 3.9 2.4 3.6 2.6 3.5 3 3.2 3.2 3 3.9 2.8 4.6 2.5 4.8 2.3 4.6 1.9 3.9 1.5 2.8 1.2M371 180.7l-.7 3.6-.8 5-.8 6-.7 6.5-.4 6.6 0 6.3 .4 6.2 .5 6.3 .7 6.4 .7 6.4 .9 6.2 .9 5.9 1 5.7 1.2 5.5 1.4 5.4 1.6 5.2 1.9 4.9 2.1 4.5 2.5 4.1 2.7 3.7 3 3.4 3.1 3.1 3.3 2.8 3.5 2.8 3.9 2.7 4.4 2.8 4.6 2.6 4.4 2.4 3.6 2.1 2.5 1.6M370.3 180.6l-.5 3.6-.8 5-.9 6-.9 6.5-.7 6.6-.3 6.4 0 6.2 .3 6.4 .5 6.5 .8 6.5 1 6.2 1.2 6 1.4 5.6 1.5 5.5 1.7 5.4 1.8 5.1 1.9 4.9 2.1 4.6 2.3 4.2 2.5 4 2.8 3.6 3 3.4 3.2 3.1 3.4 3 4.1 2.8 4.6 2.7 4.8 2.4 4.5 2.2 3.8 1.7 2.7 1.4M368 180.3l-.5 3.6-.8 5-.8 6-.6 6.6-.5 6.7 0 6.5 .3 6.2 .4 6.5 .6 6.5 .7 6.5 .8 6.3 1 6 1.1 5.8 1.3 5.7 1.5 5.5 1.7 5.2 2 5 2.3 4.7 2.5 4.3 2.9 3.9 3 3.5 3.2 3.3 3.4 3 3.5 3 4.1 2.9 4.7 2.9 4.7 2.7 4.3 2.4 3.7 2 2.5 1.6M367.2 180.2l-.3 3.6-.7 5-1.1 6-1.1 6.6-1 6.7-.6 6.6-.3 6.3 .1 6.6 .4 6.6 .9 6.6 1.1 6.4 1.5 6 1.7 5.8 1.9 5.5 2 5.4 2 5.2 2 5.1 2.1 4.8 2.2 4.5 2.4 4.3 2.7 4.1 2.9 3.7 3.2 3.5 3.7 3.2 4.4 3.1 4.9 2.6 5.1 2.3 4.7 1.9 3.9 1.5 2.8 1.1M364.7 179.9l-.4 3.6-.5 5-.6 6.1-.5 6.7-.4 6.8-.1 6.6 .1 6.3 .3 6.6 .3 6.6 .5 6.6 .7 6.5 .9 6.2 1.1 5.9 1.4 5.7 1.7 5.6 2 5.4 2.3 5 2.6 4.8 2.8 4.3 2.9 4.1 3.1 3.7 3.3 3.5 3.3 3.3 3.6 3.3 4.1 3.3 4.8 3.1 4.7 2.9 4.5 2.4 3.7 1.9 2.6 1.4M363.4 179.7l-.3 3.6-.5 5.1-.7 6-.6 6.7-.6 6.9-.3 6.7 0 6.4 .1 6.6 .3 6.7 .5 6.7 .8 6.5 1.1 6.2 1.3 6 1.6 5.7 1.9 5.6 2.1 5.4 2.3 5.1 2.5 4.9 2.8 4.5 2.8 4.2 3.1 4 3.1 3.6 3.4 3.5 3.6 3.5 4.4 3.3 4.9 3.2 4.9 2.7 4.5 2.3 3.8 1.7 2.7 1.3M310.5 359l-.3-2.8-.6-4.1-.6-5-.7-5.6-.4-5.8 0-5.6 .4-5.3 .6-5.3 .8-5.5 1.2-5.3 1.5-5.2 2.1-4.7 2.6-4.1 3-3.3 3.6-2.7 3.6-1.9 3.7-1.6 4-1.4 4.7-1.6 5.3-1.5 5.8-1.4 6.4-1.2 6.8-1 7.3-.8 7.9-.4 8.5-.2 8.9 .1 9.1 .2 9 .2 8.7 .3 8.6 .4 8.6 .4 8.6 .6 8.5 .6 8.4 .6 8.4 .5 8.6 .6 8.9 .5 8.9 .5 8.6 .5 8.1 .5 7.4 .3 6.5 .2 5.8 .1 5.4 .1 5.2 0 5.1-.1 5.2 0 5.4-.3 6.1-.5 6.3-.6 6-.4 5.7 .1 7.4 2.7 3.4 11.6-3.3 5.5-3.5 3.4-3.5 3.1-3.2 2.9-2.6 2.6-2.4 2.7-2.6 3-2.7 3.2-2.8 3.2-2.9 3.4-3 3.5-3.1 3.6-3.4 3.8-3.4 3.9-3.3 3.8-3.3 3.8-3 3.6-3 3.6-2.9 3.5-2.8 3.5-2.6 3.3-2.4 3.1-2.2 3-1.8 2.7-1.7 2.6-1.5 2.5-1.5 2.4-1.4 2.5-1.3 2.4-1.3 2.6-1.3 2.9-1.3 3-1.3 2.9-1.1 2.5-.8 1.9M311.7 358.9l-.4-2.9-.6-4.1-.8-5-.7-5.5-.5-5.8-.1-5.5 .3-5.2 .5-5.4 .8-5.4 1.1-5.3 1.6-5.1 2-4.7 2.5-4 3-3.3 3.5-2.6 3.6-1.8 3.7-1.5 4-1.4 4.7-1.5 5.3-1.4 5.8-1.3 6.3-1.1 6.8-.9 7.3-.7 7.8-.4 8.5 0 8.9 .1 9 .2 9 .4 8.7 .3 8.6 .4 8.6 .5 8.5 .6 8.5 .7 8.5 .6 8.4 .5 8.6 .5 8.9 .5 8.9 .5 8.6 .4 8.2 .4 7.3 .3 6.6 .1 5.8 0 5.5 0 5.1-.1 5.2-.2 5.1-.1 5.5-.3 6.1-.6 6.2-.7 6-.5 5.6 0 7.1 2.6 3.3 11-3.2 5.4-3.4 3.3-3.5 3.1-3.3 2.9-2.6 2.6-2.4 2.7-2.6 3-2.8 3.1-2.8 3.2-3 3.3-3 3.4-3.2 3.6-3.4 3.8-3.5 3.8-3.4 3.8-3.4 3.7-3.1 3.6-3 3.5-3 3.5-2.8 3.4-2.7 3.3-2.5 3.2-2.2 2.9-1.9 2.8-1.7 2.6-1.5 2.6-1.5 2.5-1.4 2.5-1.3 2.5-1.3 2.7-1.3 3-1.2 3-1.2 2.9-1 2.6-.8 1.9M312.5 358.7l-.4-2.8-.6-4.1-.8-5-.7-5.5-.5-5.7-.1-5.5 .4-5.2 .5-5.3 .8-5.4 1-5.2 1.5-5.1 2-4.5 2.4-3.9 3-3.2 3.3-2.5 3.5-1.9 3.6-1.4 4-1.5 4.7-1.5 5.2-1.4 5.8-1.3 6.3-1.1 6.8-1 7.2-.6 7.9-.4 8.4-.1 8.9 .1 9 .3 9 .3 8.7 .4 8.6 .4 8.6 .5 8.5 .6 8.5 .6 8.4 .7 8.5 .5 8.6 .5 8.9 .6 8.9 .5 8.6 .4 8.1 .4 7.4 .3 6.6 .2 5.8 0 5.5 0 5.2-.1 5.1-.1 5.2-.1 5.5-.4 6.1-.6 6.2-.7 6-.4 5.5 0 6.6 2.4 3 10.1-3 5-3.3 3.4-3.5 3-3.3 3-2.6 2.6-2.4 2.7-2.6 3.1-2.8 3.1-2.8 3.2-2.9 3.3-3.1 3.4-3.2 3.6-3.4 3.8-3.4 3.8-3.4 3.8-3.4 3.7-3.1 3.6-3 3.6-3 3.5-2.8 3.4-2.7 3.3-2.5 3.1-2.2 3-2 2.8-1.7 2.6-1.6 2.5-1.4 2.5-1.5 2.6-1.3 2.5-1.3 2.7-1.3 3-1.3 3.1-1.2 2.9-1 2.5-.8 1.9M313.4 358.6l-.5-2.9-.9-4-.9-5-.9-5.5-.6-5.6-.2-5.5 .2-5.2 .4-5.3 .7-5.4 1.1-5.3 1.4-5.1 2.1-4.6 2.5-3.9 3-3.2 3.4-2.5 3.6-1.8 3.6-1.3 4.1-1.3 4.7-1.3 5.3-1.3 5.7-1.1 6.3-1 6.8-.7 7.2-.5 7.8-.2 8.4 .1 8.8 .3 9 .4 9 .4 8.7 .5 8.6 .5 8.5 .5 8.5 .7 8.5 .6 8.5 .6 8.4 .5 8.7 .5 8.9 .4 8.9 .4 8.6 .3 8.2 .3 7.4 .1 6.6 0 5.9-.2 5.4-.2 5.2-.3 5.1-.3 5.2-.3 5.5-.5 6.1-.7 6.2-.8 5.9-.6 5.6-.1 6.8 2.4 3.2 10.5-3.1 5.2-3.4 3.3-3.5 3.1-3.3 2.9-2.6 2.5-2.5 2.7-2.8 2.9-2.8 3.1-3 3.1-3 3.2-3.2 3.3-3.3 3.4-3.5 3.7-3.6 3.7-3.6 3.6-3.4 3.7-3.3 3.5-3.1 3.4-3.1 3.5-2.9 3.3-2.8 3.3-2.6 3.1-2.3 3-2 2.9-1.7 2.7-1.6 2.6-1.4 2.6-1.4 2.6-1.3 2.7-1.2 2.8-1.2 3.1-1.1 3.1-1 3-.9 2.6-.6 2M314.2 358.5l-.4-2.9-.6-4.1-.7-5-.7-5.4-.5-5.6-.1-5.4 .4-5.1 .5-5.2 .8-5.3 1-5.1 1.4-4.9 1.9-4.3 2.3-3.6 2.7-3 3-2.3 3.3-1.8 3.5-1.4 4-1.4 4.6-1.5 5.1-1.4 5.7-1.3 6.2-1.2 6.7-.9 7.2-.7 7.8-.4 8.4-.1 8.8 .1 9 .3 9 .3 8.7 .3 8.6 .4 8.6 .5 8.5 .7 8.5 .6 8.4 .6 8.5 .6 8.6 .5 8.9 .5 8.9 .6 8.6 .5 8.2 .4 7.4 .3 6.6 .1 5.9 .1 5.4 0 5.2-.1 5.2-.1 5.2-.1 5.5-.3 6.2-.6 6.2-.7 5.9-.4 5.2 0 5.7 2 2.4 8.2-2.7 4.4-3.2 3.1-3.4 3.1-3.3 2.9-2.7 2.8-2.4 2.7-2.7 3.1-2.7 3.1-2.8 3.2-2.9 3.4-3 3.4-3.2 3.6-3.4 3.7-3.4 3.9-3.4 3.8-3.3 3.8-3.2 3.6-3 3.5-3 3.5-2.8 3.5-2.7 3.3-2.5 3.2-2.3 3-2 2.8-1.7 2.7-1.6 2.6-1.5 2.5-1.5 2.5-1.3 2.6-1.4 2.8-1.4 3-1.3 3.1-1.2 2.9-1 2.5-.8 1.9M315.3 358.3l-.5-2.9-.8-4.1-.9-4.9-.8-5.4-.6-5.6-.2-5.3 .2-5 .5-5.3 .6-5.3 1-5.1 1.4-4.9 1.9-4.4 2.3-3.6 2.7-3 3.1-2.3 3.3-1.7 3.5-1.3 4-1.4 4.6-1.3 5.2-1.4 5.7-1.1 6.2-1 6.7-.8 7.2-.6 7.7-.2 8.4 .1 8.8 .2 9 .4 8.9 .4 8.7 .5 8.6 .5 8.5 .6 8.5 .6 8.5 .7 8.5 .6 8.4 .6 8.7 .5 8.9 .5 8.9 .4 8.7 .4 8.1 .3 7.5 .2 6.6 .1 5.9-.1 5.5-.2 5.2-.2 5.1-.2 5.2-.3 5.6-.5 6.1-.7 6.2-.8 5.9-.6 5.2 0 5.7 1.9 2.5 8.2-2.7 4.4-3.2 3.2-3.4 3.1-3.3 2.9-2.7 2.7-2.5 2.8-2.7 2.9-2.8 3.1-2.9 3.2-3 3.2-3.1 3.3-3.3 3.5-3.5 3.7-3.5 3.7-3.5 3.8-3.5 3.6-3.2 3.6-3.1 3.4-3.1 3.5-3 3.3-2.8 3.3-2.5 3.2-2.4 3-2 2.9-1.8 2.7-1.7 2.6-1.5 2.6-1.4 2.7-1.3 2.6-1.3 2.8-1.3 3.1-1.2 3.2-1.1 3-.9 2.6-.7 1.9M316.1 358.2l-.5-2.9-.8-4.1-.8-4.9-.8-5.4-.6-5.5-.2-5.2 .2-5.1 .5-5.2 .7-5.2 .9-5.1 1.4-4.8 1.8-4.2 2.2-3.6 2.6-2.8 2.9-2.2 3.3-1.7 3.4-1.4 3.9-1.3 4.6-1.4 5.2-1.4 5.7-1.2 6.1-1 6.7-.8 7.1-.6 7.7-.2 8.4 0 8.8 .2 9 .4 8.9 .4 8.7 .5 8.6 .5 8.5 .6 8.5 .6 8.5 .7 8.5 .6 8.4 .6 8.7 .5 8.9 .6 8.9 .4 8.6 .5 8.2 .3 7.5 .2 6.6 .1 5.9-.1 5.5-.1 5.2-.2 5.2-.2 5.1-.2 5.7-.5 6.1-.7 6.2-.8 5.8-.6 5.1 0 5.2 1.7 2.2 7.2-2.5 4.1-3.1 3.2-3.4 3-3.3 3-2.7 2.7-2.5 2.8-2.7 3-2.8 3.1-2.8 3.2-3 3.2-3.1 3.4-3.3 3.5-3.4 3.7-3.5 3.7-3.6 3.8-3.4 3.6-3.2 3.6-3.1 3.5-3.1 3.4-2.9 3.4-2.8 3.3-2.6 3.2-2.4 3-2 2.9-1.9 2.7-1.6 2.7-1.6 2.6-1.4 2.6-1.4 2.6-1.3 2.9-1.3 3.1-1.3 3.2-1.1 2.9-.9 2.6-.7 1.9M316.7 358.1l-.6-2.9-.8-4.1-1-4.9-.8-5.3-.7-5.5-.2-5.2 .2-5.1 .5-5.1 .7-5.3 1-5 1.4-4.8 1.8-4.2 2.2-3.4 2.6-2.7 3-2.1 3.2-1.5 3.4-1.3 3.9-1.2 4.6-1.3 5.2-1.2 5.6-1.1 6.1-.9 6.6-.7 7.1-.4 7.6-.2 8.4 .1 8.7 .3 9 .4 8.9 .4 8.7 .4 8.5 .5 8.6 .6 8.5 .6 8.5 .6 8.4 .6 8.5 .5 8.7 .4 8.9 .4 8.9 .4 8.7 .3 8.2 .2 7.4 .1 6.7 0 5.9-.2 5.5-.2 5.2-.3 5.2-.3 5.2-.3 5.6-.5 6.1-.8 6.3-.8 5.7-.5 5.1-.1 5.1 1.7 2 6.9-2.4 4-3.1 3.1-3.5 3-3.4 2.9-2.8 2.7-2.6 2.7-2.7 2.9-2.9 3-2.9 3.1-3.1 3.2-3.2 3.3-3.3 3.4-3.5 3.6-3.6 3.7-3.6 3.7-3.5 3.7-3.3 3.5-3.1 3.5-3.1 3.4-3 3.4-2.8 3.3-2.6 3.3-2.3 3.1-2.1 2.9-1.8 2.8-1.6 2.8-1.4 2.6-1.4 2.7-1.3 2.8-1.3 2.9-1.2 3.2-1.1 3.2-1 3.1-.9 2.6-.6 1.9M317.2 358l-.5-2.9-.7-4.1-.8-4.9-.7-5.4-.5-5.4-.1-5.1 .4-5 .5-5.1 .8-5.1 1.1-4.9 1.5-4.6 1.8-3.8 2.1-3.1 2.4-2.4 2.6-1.8 3-1.4 3.3-1.1 3.8-1.2 4.5-1.3 5.1-1.2 5.5-1.2 6-.9 6.5-.8 7-.6 7.6-.2 8.3-.1 8.7 .2 8.9 .2 9 .4 8.7 .3 8.5 .3 8.5 .5 8.5 .5 8.5 .5 8.5 .5 8.5 .4 8.7 .3 8.9 .4 8.9 .4 8.7 .3 8.2 .2 7.4 .1 6.6 0 6-.1 5.5-.1 5.2-.2 5.2-.2 5.2-.2 5.7-.4 6.2-.6 6.2-.7 5.7-.4 4.8 0 4.3 1.5 1.3 5.1-2.2 3.3-3 2.8-3.5 2.9-3.4 2.9-3 2.8-2.6 2.7-2.8 2.9-2.9 3-2.9 3.1-3 3.2-3.1 3.3-3.3 3.5-3.5 3.7-3.5 3.7-3.5 3.8-3.4 3.8-3.2 3.6-3.1 3.5-2.9 3.6-2.9 3.5-2.8 3.4-2.5 3.3-2.2 3.2-2 3-1.8 2.9-1.5 2.8-1.4 2.7-1.4 2.8-1.2 2.7-1.3 3-1.2 3.2-1.2 3.2-1 3-.9 2.6-.7 1.9M319.6 357.6l-.5-2.9-.8-4.1-.9-4.9-.8-5.2-.6-5.3-.2-5 .2-4.8 .3-5.1 .6-5.1 .9-4.9 1.2-4.4 1.6-3.9 1.9-3.1 2.2-2.5 2.5-1.9 2.9-1.5 3.2-1.3 3.9-1.3 4.4-1.4 5.1-1.2 5.5-1.2 6.1-1 6.5-.8 7-.5 7.6-.2 8.3 .1 8.7 .3 8.9 .4 9 .4 8.6 .5 8.6 .5 8.5 .7 8.5 .7 8.4 .7 8.5 .7 8.5 .6 8.7 .6 8.9 .5 8.9 .5 8.7 .4 8.2 .4 7.5 .2 6.6 0 6 0 5.6-.2 5.2-.2 5.2-.3 5.2-.2 5.8-.5 6.2-.8 6.2-.8 5.6-.6 4.6-.1 3.5 1 1.1 3.7-1.8 3-2.8 2.9-3.3 3-3.4 3.1-2.8 2.8-2.5 2.9-2.7 3-2.8 3.1-2.8 3.1-3 3.3-3.1 3.3-3.3 3.5-3.4 3.7-3.6 3.7-3.6 3.7-3.4 3.7-3.3 3.6-3.2 3.4-3.1 3.5-3 3.4-2.9 3.3-2.6 3.2-2.5 3.1-2.2 2.9-1.9 2.8-1.7 2.7-1.6 2.7-1.5 2.7-1.5 2.7-1.4 3-1.3 3.2-1.3 3.3-1.1 3-.9 2.6-.7 1.8M319.6 357.6l-.5-2.9-.7-4.1-.8-4.9-.7-5.3-.5-5.3-.1-4.9 .3-4.8 .5-5 .7-5 1-4.8 1.3-4.4 1.7-3.6 1.9-2.8 2-2.2 2.4-1.6 2.7-1.4 3.2-1.1 3.7-1.3 4.5-1.3 4.9-1.2 5.5-1.1 6-1 6.4-.8 6.9-.6 7.5-.2 8.2-.1 8.7 .2 9 .3 8.9 .3 8.7 .4 8.5 .4 8.5 .5 8.5 .5 8.5 .6 8.5 .6 8.5 .5 8.7 .4 8.9 .4 8.9 .4 8.7 .4 8.2 .3 7.5 .1 6.6 .1 6-.1 5.6-.1 5.2-.2 5.2-.2 5.2-.2 5.8-.4 6.3-.7 6.1-.7 5.6-.4 4.5 0 3.1 1 .7 2.7-1.8 2.5-2.8 2.7-3.4 2.9-3.4 3-3 2.9-2.6 2.8-2.8 2.9-2.8 3.1-2.9 3.1-3 3.3-3.1 3.3-3.2 3.5-3.5 3.6-3.5 3.8-3.5 3.8-3.4 3.7-3.2 3.7-3.1 3.5-3.1 3.6-2.9 3.4-2.8 3.5-2.5 3.3-2.4 3.2-2 3-1.9 2.9-1.6 2.8-1.5 2.7-1.4 2.8-1.4 2.8-1.3 3-1.3 3.2-1.2 3.3-1.1 3-1 2.6-.6 1.8M320.3 357.5l-.4-3-.7-4.1-.8-4.8-.7-5.3-.5-5.2 0-4.9 .2-4.7 .5-5 .8-5 1-4.7 1.3-4.3 1.5-3.5 1.8-2.7 2-2.1 2.2-1.6 2.6-1.3 3.1-1.2 3.7-1.2 4.4-1.4 4.9-1.2 5.5-1.2 5.9-1 6.4-.9 6.9-.5 7.5-.3 8.2-.1 8.7 .2 9 .2 8.9 .4 8.7 .3 8.5 .4 8.5 .5 8.5 .6 8.5 .6 8.4 .6 8.5 .5 8.7 .4 9 .5 8.9 .4 8.7 .4 8.2 .4 7.5 .2 6.6 .1 6.1-.1 5.5-.1 5.3-.1 5.1-.2 5.3-.2 5.8-.4 6.2-.6 6.2-.7 5.6-.4 4.3 0 2.7 .8 .3 1.7-1.5 2.3-2.7 2.6-3.4 2.9-3.5 3-3 3-2.6 2.8-2.7 3-2.8 3.1-2.8 3.1-3 3.3-3.1 3.3-3.2 3.5-3.4 3.7-3.5 3.8-3.5 3.8-3.4 3.8-3.2 3.6-3.1 3.6-3 3.5-2.9 3.5-2.8 3.4-2.6 3.4-2.4 3.2-2.1 3-1.8 2.9-1.7 2.8-1.5 2.7-1.4 2.8-1.4 2.8-1.4 3-1.4 3.2-1.2 3.3-1.2 3-.9 2.5-.7 1.9M320.8 357.4l-.4-2.9-.7-4.1-.8-4.9-.7-5.2-.5-5.2 0-4.9 .3-4.7 .5-4.9 .8-5 1.1-4.6 1.3-4.2 1.6-3.4 1.8-2.6 1.9-1.8 2.1-1.4 2.5-1.2 3-1 3.8-1.2 4.3-1.3 4.9-1.2 5.4-1.1 5.9-.9 6.3-.8 6.8-.5 7.4-.3 8.2-.1 8.7 .2 8.9 .2 8.9 .3 8.7 .3 8.5 .4 8.5 .4 8.5 .5 8.5 .5 8.5 .5 8.5 .4 8.7 .4 8.9 .4 8.9 .3 8.7 .4 8.2 .2 7.6 .1 6.6 .1 6.1-.1 5.5-.2 5.3-.1 5.2-.2 5.2-.2 5.8-.4 6.3-.6 6.2-.7 5.5-.4 4.3 .1 2.2 .7 .1 1-1.4 2-2.7 2.5-3.5 2.8-3.5 3-3.1 2.9-2.7 2.8-2.7 2.9-2.9 3-2.9 3.1-3 3.2-3.1 3.4-3.3 3.4-3.4 3.7-3.5 3.8-3.6 3.8-3.4 3.7-3.2 3.7-3 3.6-3.1 3.6-2.9 3.5-2.7 3.5-2.6 3.4-2.3 3.2-2.1 3.1-1.8 3-1.6 2.9-1.4 2.8-1.4 2.8-1.4 2.9-1.3 3-1.3 3.3-1.2 3.3-1 3.1-.9 2.5-.7 1.9M322.4 357.2l-.5-3-.8-4.1-.8-4.8-.8-5.2-.6-5.1-.1-4.8 .2-4.6 .4-4.9 .7-4.9 .9-4.7 1.2-4.1 1.5-3.4 1.6-2.6 1.8-1.9 2-1.4 2.5-1.2 3-1.1 3.8-1.2 4.3-1.3 4.9-1.2 5.4-1.1 5.9-.9 6.3-.7 6.8-.5 7.4-.3 8.2 .1 8.7 .2 8.9 .4 8.9 .4 8.7 .4 8.4 .5 8.5 .5 8.5 .7 8.5 .6 8.5 .6 8.5 .5 8.7 .5 8.9 .4 9 .4 8.7 .4 8.2 .3 7.5 .1 6.7 0 6.1-.1 5.6-.1 5.2-.3 5.2-.2 5.3-.3 5.8-.5 6.3-.7 6.2-.8 5.5-.5 4.1-.1 1.9 .5-.1 .2-1.2 1.8-2.6 2.6-3.4 2.9-3.4 3-3.1 3-2.6 2.9-2.8 2.9-2.8 3-2.9 3.2-3 3.2-3.1 3.3-3.3 3.4-3.5 3.7-3.5 3.7-3.6 3.7-3.5 3.8-3.3 3.6-3.1 3.5-3.1 3.5-3 3.4-2.9 3.4-2.6 3.4-2.5 3.2-2.1 3.1-1.9 2.9-1.8 2.9-1.5 2.8-1.5 2.8-1.4 2.9-1.4 3.1-1.3 3.3-1.3 3.3-1 3.1-.9 2.6-.6 1.8M322.2 357.2l-.4-3-.7-4.1-.7-4.8-.7-5.2-.3-5.1 0-4.8 .3-4.6 .6-4.8 .8-4.9 1.1-4.5 1.3-4 1.5-3.1 1.6-2.3 1.6-1.6 1.9-1.2 2.2-1 3-1.1 3.6-1.2 4.3-1.2 4.8-1.3 5.3-1.1 5.8-1 6.3-.8 6.7-.7 7.4-.3 8.1-.1 8.6 .1 8.9 .2 9 .2 8.6 .3 8.5 .3 8.5 .4 8.5 .4 8.5 .5 8.5 .5 8.5 .4 8.7 .4 8.9 .4 9 .4 8.7 .3 8.2 .3 7.5 .2 6.7 .1 6.1 0 5.5-.1 5.3-.1 5.2-.2 5.3-.1 5.9-.3 6.3-.6 6.2-.6 5.4-.3 4 .1 1.3 .3-.6-.9-1.1 1.2-2.5 2.4-3.4 2.8-3.6 3-3.2 3-2.7 2.8-2.7 3-2.8 3-2.9 3.1-3 3.3-3.1 3.3-3.2 3.5-3.4 3.7-3.4 3.8-3.5 3.9-3.4 3.8-3.2 3.7-3 3.7-3 3.6-2.8 3.6-2.8 3.5-2.5 3.4-2.3 3.3-2.1 3.2-1.8 3-1.6 2.9-1.5 2.8-1.4 2.8-1.4 2.9-1.4 3.1-1.3 3.3-1.3 3.3-1.1 3-.9 2.6-.8 1.8M323.8 356.9l-.4-3-.6-4.1-.8-4.8-.6-5.1-.4-5 0-4.6 .4-4.6 .5-4.7 .8-4.8 1-4.4 1.2-3.9 1.3-3 1.5-2.1 1.4-1.5 1.6-1.1 2.1-1 2.8-1.1 3.6-1.3 4.2-1.3 4.8-1.3 5.2-1.2 5.8-1 6.2-.9 6.7-.6 7.4-.4 8.1-.1 8.6 .1 8.9 .2 8.9 .2 8.7 .3 8.5 .4 8.4 .4 8.5 .5 8.5 .6 8.5 .6 8.5 .4 8.8 .5 8.9 .5 8.9 .4 8.7 .5 8.3 .3 7.5 .3 6.7 .1 6.1 0 5.6 0 5.3-.1 5.2-.1 5.3-.1 5.9-.3 6.4-.6 6.1-.6 5.4-.4 3.7 .1 .5 0-1-2.7-.8 .8-2.4 2.2-3.3 2.9-3.6 3.1-3.1 3.1-2.7 2.9-2.7 3-2.7 3.1-2.9 3.1-2.9 3.3-3 3.4-3.2 3.6-3.3 3.7-3.5 3.8-3.5 3.9-3.3 3.8-3.2 3.7-3 3.7-3 3.6-2.9 3.5-2.8 3.5-2.6 3.4-2.4 3.3-2.1 3.2-1.9 3-1.7 2.9-1.6 2.8-1.5 2.8-1.4 2.9-1.5 3.1-1.4 3.3-1.3 3.3-1.2 3-1 2.5-.8 1.8M325.9 356.6l-.4-3-.8-4.1-.8-4.8-.8-5-.5-4.9-.2-4.5 .1-4.5 .4-4.7 .5-4.8 .8-4.4 .9-3.9 1.2-3 1.3-2.3 1.3-1.6 1.6-1.2 2.1-1.2 2.8-1.2 3.6-1.3 4.2-1.4 4.8-1.3 5.3-1.2 5.8-1 6.3-.8 6.7-.6 7.4-.2 8.1 0 8.6 .3 8.9 .4 8.9 .4 8.7 .5 8.4 .6 8.5 .6 8.4 .8 8.5 .7 8.5 .8 8.5 .7 8.7 .6 9 .6 8.9 .6 8.7 .5 8.3 .4 7.6 .3 6.7 .1 6.1 0 5.7-.1 5.3-.2 5.2-.2 5.3-.2 6-.5 6.4-.8 6.1-.8 5.3-.6 3.5-.1 .2-.4-1.1-3.3-.5 .7-2.3 2.4-3.1 2.9-3.5 3.2-3 3.2-2.6 3.1-2.6 3-2.7 3.1-2.8 3.2-3 3.3-3 3.4-3.2 3.5-3.4 3.7-3.5 3.8-3.6 3.7-3.4 3.8-3.3 3.6-3.2 3.5-3.2 3.5-3 3.4-3 3.4-2.7 3.3-2.6 3.2-2.3 3-2.1 3-1.9 2.8-1.7 2.8-1.6 2.8-1.6 2.8-1.6 3.2-1.5 3.3-1.4 3.4-1.2 3-.9 2.6-.7 1.8M325.7 356.6l-.5-3-.8-4.1-.8-4.7-.8-5.1-.6-4.9-.1-4.5 .1-4.5 .4-4.8 .6-4.7 .9-4.4 1-3.9 1.3-3 1.3-2.2 1.4-1.5 1.5-1.2 2.1-1 2.9-1.1 3.6-1.3 4.2-1.2 4.8-1.3 5.3-1 5.7-1 6.3-.7 6.6-.5 7.4-.2 8.1 0 8.6 .2 8.9 .4 8.9 .5 8.6 .4 8.5 .5 8.4 .6 8.5 .7 8.5 .7 8.5 .6 8.5 .6 8.7 .5 9 .5 8.9 .5 8.7 .4 8.3 .3 7.6 .2 6.7 .1 6.1-.1 5.6-.1 5.4-.3 5.1-.2 5.4-.3 6-.5 6.3-.7 6.2-.8 5.2-.5 3.7-.2 .2-.2-1.1-3.2-.6 .7-2.3 2.3-3.2 2.9-3.5 3.2-3.2 3.1-2.6 3-2.7 3-2.8 3-2.9 3.2-2.9 3.2-3.1 3.3-3.3 3.5-3.4 3.6-3.6 3.8-3.5 3.7-3.5 3.8-3.3 3.6-3.2 3.5-3.1 3.5-3.1 3.5-2.9 3.4-2.7 3.3-2.6 3.3-2.2 3.1-2 3-1.9 2.9-1.6 2.9-1.6 2.8-1.5 2.9-1.4 3.2-1.5 3.4-1.2 3.4-1.2 3.1-.9 2.5-.6 1.8M326 356.6l-.7-3-.8-4.1-.9-4.7-.8-5.1-.6-4.9-.2-4.5 .2-4.5 .4-4.8 .7-4.7 .9-4.4 1.1-3.8 1.3-3 1.4-2 1.4-1.4 1.6-1 2.1-.9 2.8-.9 3.6-1.1 4.2-1.2 4.8-1 5.2-1 5.8-.8 6.1-.6 6.6-.5 7.3-.1 8.1 .1 8.5 .3 8.9 .4 8.9 .4 8.6 .4 8.5 .5 8.4 .5 8.5 .6 8.5 .6 8.5 .6 8.5 .4 8.7 .4 9 .4 8.9 .3 8.8 .3 8.3 .2 7.5 0 6.8 0 6.1-.2 5.7-.3 5.3-.3 5.1-.3 5.4-.4 6-.5 6.3-.8 6.1-.8 5.3-.5 3.7-.1 .2-.2-1.2-3.2-.6 .6-2.4 2.2-3.3 2.8-3.6 3.1-3.2 3-2.8 2.9-2.8 2.9-2.9 3-3 3-3 3.2-3.2 3.2-3.3 3.4-3.5 3.6-3.7 3.7-3.6 3.7-3.5 3.7-3.4 3.6-3.2 3.5-3.1 3.5-3 3.5-2.9 3.5-2.8 3.4-2.5 3.4-2.2 3.2-1.9 3.1-1.8 3-1.5 2.9-1.5 3-1.4 3-1.3 3.3-1.3 3.4-1.2 3.5-1 3.1-.8 2.6-.6 1.9M326.8 356.5l-.5-3.1-.7-4.1-.9-4.7-.7-5-.4-4.9-.1-4.4 .3-4.4 .5-4.7 .7-4.6 1-4.3 1.1-3.6 1.3-2.7 1.2-1.7 1.2-1.1 1.2-.7 1.9-.8 2.7-.9 3.5-1.1 4.2-1.2 4.6-1.1 5.2-1 5.6-.9 6.1-.7 6.5-.5 7.2-.2 8 0 8.6 .1 8.8 .3 8.9 .4 8.7 .3 8.4 .4 8.4 .4 8.5 .5 8.5 .6 8.5 .5 8.6 .4 8.7 .4 9 .3 8.9 .4 8.8 .3 8.2 .2 7.6 .1 6.8 0 6.1-.1 5.7-.2 5.3-.2 5.2-.2 5.4-.3 6-.4 6.4-.7 6.1-.7 5.2-.4 3.4 0-.7-.5-1.9-5.1-.3-.2-2.2 2.1-3.3 2.7-3.7 3.1-3.3 3.1-2.8 3-2.8 2.9-2.9 2.9-2.9 3.1-3 3.2-3.1 3.3-3.3 3.4-3.5 3.6-3.5 3.8-3.6 3.8-3.5 3.8-3.2 3.7-3.2 3.6-3 3.5-3 3.6-2.8 3.5-2.7 3.5-2.5 3.4-2.1 3.3-2 3.2-1.7 3-1.5 3-1.5 2.9-1.4 3-1.4 3.3-1.3 3.5-1.2 3.4-1.1 3.1-.9 2.6-.6 1.8M328.1 356.3l-.5-3.1-.7-4.1-.8-4.7-.6-5-.5-4.8-.1-4.3 .3-4.3 .5-4.6 .6-4.6 .9-4.2 1.1-3.5 1.1-2.5 1.1-1.6 1-1 1-.8 1.7-.8 2.6-.9 3.5-1.2 4.1-1.3 4.6-1.1 5.1-1.1 5.7-1 6-.7 6.6-.6 7.1-.3 8 0 8.6 .2 8.8 .2 8.9 .4 8.7 .3 8.4 .4 8.4 .5 8.5 .6 8.5 .6 8.5 .6 8.6 .5 8.7 .5 8.9 .4 9 .5 8.7 .3 8.3 .4 7.6 .2 6.8 0 6.2 0 5.6-.1 5.3-.2 5.2-.2 5.4-.2 6.1-.4 6.4-.7 6.2-.6 5.1-.5 3.2 0-1.4-.8-2.3-6.6 0-.6-2.1 2-3.2 2.8-3.7 3.2-3.3 3.2-2.8 3-2.7 3-2.7 3-2.9 3.1-3 3.3-3 3.3-3.2 3.5-3.4 3.7-3.6 3.7-3.5 3.9-3.5 3.8-3.2 3.7-3.1 3.6-3.1 3.6-3 3.5-2.9 3.5-2.7 3.5-2.5 3.4-2.2 3.2-2 3.1-1.8 3-1.6 3-1.6 2.9-1.5 3-1.5 3.3-1.4 3.5-1.3 3.4-1.2 3-.9 2.6-.7 1.8M329.3 356.1l-.6-3.1-.8-4.1-.9-4.7-.8-4.9-.5-4.7-.2-4.3 .2-4.2 .4-4.7 .6-4.5 .8-4.2 1-3.5 1.2-2.5 1-1.6 .9-.9 1.1-.7 1.7-.7 2.6-.9 3.5-1.1 4.1-1.2 4.6-1.1 5.1-.9 5.6-.9 6-.6 6.5-.4 7.2-.2 7.9 .1 8.5 .2 8.9 .4 8.9 .5 8.6 .4 8.4 .4 8.4 .6 8.4 .6 8.5 .6 8.6 .6 8.6 .5 8.7 .4 8.9 .5 9 .3 8.7 .4 8.3 .2 7.7 .1 6.8 0 6.2-.2 5.6-.2 5.4-.3 5.2-.3 5.4-.3 6.1-.5 6.4-.8 6.1-.8 5.1-.5 3.1-.1-1.6-.9-2.3-7 .1-.7-2.1 2-3.2 2.8-3.7 3.1-3.3 3.3-2.8 3-2.8 2.9-2.8 3-3 3-3 3.2-3.1 3.3-3.3 3.4-3.5 3.6-3.6 3.7-3.6 3.7-3.6 3.8-3.3 3.6-3.2 3.5-3.2 3.6-3 3.5-3 3.5-2.7 3.5-2.6 3.4-2.3 3.2-2 3.2-1.9 3.1-1.6 3-1.5 2.9-1.5 3.1-1.4 3.4-1.4 3.5-1.3 3.5-1 3.1-.9 2.6-.5 1.9M329.9 356l-.5-3.1-.7-4.1-.8-4.7-.7-4.9-.4-4.7-.1-4.2 .3-4.2 .4-4.5 .7-4.5 .9-4.1 1-3.3 1-2.3 .9-1.3 .8-.8 .8-.5 1.5-.7 2.5-.9 3.4-1.1 4-1.2 4.6-1.1 5-1.1 5.5-.9 6-.8 6.5-.5 7.1-.3 7.9 0 8.5 .2 8.9 .3 8.8 .3 8.7 .4 8.4 .4 8.4 .5 8.4 .5 8.5 .6 8.6 .6 8.5 .5 8.8 .4 8.9 .5 9 .4 8.7 .4 8.3 .3 7.7 .1 6.8 .1 6.2 0 5.7-.2 5.3-.2 5.2-.2 5.4-.2 6.2-.4 6.4-.7 6.1-.7 5.1-.4 2.9 0-2.3-1.2-2.9-8.5 .3-1.2-1.9 1.8-3.2 2.7-3.7 3.2-3.4 3.3-2.8 3.1-2.7 2.9-2.8 3-2.9 3.2-3 3.2-3.1 3.3-3.2 3.5-3.4 3.6-3.5 3.8-3.6 3.8-3.5 3.8-3.2 3.7-3.2 3.6-3 3.6-3.1 3.6-2.8 3.5-2.8 3.5-2.5 3.5-2.3 3.3-2 3.2-1.8 3-1.7 3-1.5 3-1.5 3-1.5 3.4-1.5 3.5-1.3 3.5-1.1 3.1-.9 2.5-.7 1.8M331.2 355.8l-.5-3.1-.8-4.1-.8-4.7-.7-4.9-.5-4.6-.1-4 .1-4.2 .4-4.5 .6-4.5 .7-4 .9-3.3 .9-2.3 .9-1.3 .6-.8 .7-.5 1.4-.8 2.5-.9 3.4-1.2 4-1.3 4.5-1.2 5.1-1 5.5-1 6-.7 6.5-.5 7.1-.3 7.9 0 8.5 .3 8.9 .3 8.8 .5 8.7 .4 8.4 .5 8.4 .6 8.4 .6 8.5 .7 8.5 .7 8.6 .6 8.7 .5 9 .5 8.9 .5 8.8 .5 8.3 .3 7.6 .3 6.9 .1 6.2-.1 5.7-.1 5.4-.2 5.2-.2 5.4-.3 6.2-.4 6.5-.8 6.1-.7 5-.5 2.7-.2-2.7-1.4-3.1-9.3 .6-1.4-1.9 1.8-3.1 2.9-3.6 3.2-3.4 3.4-2.7 3.1-2.7 3-2.7 3-2.9 3.2-2.9 3.3-3.1 3.3-3.2 3.5-3.4 3.6-3.5 3.8-3.6 3.8-3.5 3.8-3.3 3.7-3.2 3.5-3.1 3.5-3.1 3.6-3 3.5-2.8 3.4-2.6 3.4-2.4 3.3-2.1 3.1-1.9 3-1.7 3-1.7 2.9-1.6 3.1-1.6 3.3-1.5 3.6-1.3 3.4-1.2 3.2-.9 2.5-.7 1.8M324.5 366.2l3.3-1.3 4.6-1.8 5.6-2.1 5.9-2.2 6-2.1 5.6-1.9 5.2-1.8 5.1-1.6 5.1-1.7 5.1-1.7 5.3-1.6 5.4-1.7 5.6-1.6 5.7-1.6 5.7-1.5 5.8-1.5 5.7-1.5 5.6-1.5 5.7-1.5 5.6-1.5 5.6-1.4 5.7-1.3 5.6-1.4 5.5-1.4 5.7-1.5 5.6-1.4 5.6-1.6 5.7-1.5 5.6-1.7 5.6-1.7 5.8-1.8 5.9-2 5.8-2 5.7-2.1 5.4-2.1 4.9-2 4.6-2 4.6-2 4.3-2.1 3.9-1.8 3.3-1.6 2.5-1.1M325.3 368.2l3.3-1.5 4.5-2 5.4-2.4 5.8-2.5 5.9-2.4 5.5-2.2 5-1.9 5.1-1.8 5.1-1.7 5.2-1.6 5.3-1.5 5.5-1.4 5.6-1.4 5.8-1.2 5.8-1.3 5.8-1.2 5.7-1.2 5.7-1.4 5.7-1.4 5.7-1.5 5.6-1.5 5.5-1.5 5.6-1.7 5.5-1.7 5.6-1.7 5.5-1.8 5.6-1.8 5.6-1.8 5.6-1.7 5.6-1.8 5.7-1.8 6-1.8 5.9-1.8 5.8-1.9 5.5-1.7 5-1.7 4.8-1.7 4.7-1.9 4.4-1.8 3.9-1.8 3.3-1.6 2.5-1.2M325 367.5l3.4-1.3 4.6-1.7 5.5-1.9 6-2.1 6.1-2.1 5.6-1.8 5.2-1.6 5.1-1.6 5.1-1.6 5.1-1.6 5.2-1.7 5.4-1.7 5.5-1.7 5.7-1.7 5.7-1.7 5.7-1.6 5.6-1.6 5.6-1.6 5.7-1.6 5.6-1.5 5.7-1.3 5.6-1.4 5.6-1.3 5.7-1.2 5.6-1.4 5.7-1.3 5.7-1.4 5.7-1.5 5.7-1.6 5.6-1.7 5.8-1.8 5.9-2 5.8-2.1 5.7-2.2 5.4-2.2 4.9-2.1 4.6-2.2 4.5-2.1 4.3-2.1 3.9-2 3.2-1.5 2.5-1.1M325.9 369.7l3.4-1.1 4.7-1.7 5.5-2.1 5.9-2.3 5.8-2.3 5.5-2.2 5-2 5-2 5-2 5-1.9 5.2-1.9 5.3-1.8 5.5-1.6 5.7-1.6 5.8-1.3 5.8-1.3 5.7-1.2 5.8-1.2 5.7-1.1 5.7-1.2 5.8-1.1 5.6-1.2 5.7-1.2 5.6-1.5 5.6-1.5 5.7-1.7 5.5-1.8 5.6-1.9 5.6-2 5.5-2 5.7-2.2 5.8-2.2 5.8-2.2 5.7-2.1 5.4-2.1 5-1.8 4.8-1.8 4.7-1.8 4.4-1.7 4.1-1.5 3.4-1.3 2.6-.8M325.8 369.4l3.3-1.3 4.6-1.7 5.5-2.1 6-2.2 6-2.1 5.5-1.9 5.1-1.7 5.1-1.7 5.1-1.6 5.1-1.6 5.2-1.7 5.4-1.6 5.5-1.6 5.7-1.6 5.7-1.6 5.7-1.5 5.7-1.5 5.6-1.5 5.7-1.5 5.6-1.5 5.7-1.4 5.6-1.4 5.6-1.3 5.7-1.4 5.6-1.5 5.7-1.4 5.7-1.6 5.6-1.5 5.7-1.7 5.7-1.7 5.7-1.8 5.9-2 5.9-2.1 5.7-2.1 5.4-2.1 5-2 4.7-2 4.6-2.1 4.3-2.1 3.9-1.8 3.3-1.6 2.5-1.1M326.4 371l3.4-1.1 4.7-1.6 5.5-2 6-2.2 5.9-2.3 5.4-2 5.1-1.9 4.9-2 5-1.9 5-1.9 5.2-1.9 5.3-1.8 5.5-1.7 5.6-1.6 5.7-1.5 5.8-1.4 5.7-1.3 5.7-1.2 5.8-1.2 5.7-1.2 5.7-1.1 5.7-1.2 5.7-1.2 5.6-1.4 5.7-1.4 5.6-1.6 5.7-1.7 5.6-1.8 5.6-2 5.6-2 5.6-2.1 5.8-2.2 5.9-2.3 5.7-2.2 5.4-2.1 5-1.9 4.7-1.9 4.7-1.9 4.5-1.8 4-1.6 3.4-1.3 2.6-.8M326.5 371.3l3.3-1.4 4.6-1.8 5.5-2.1 5.9-2.3 6-2.1 5.5-1.9 5.1-1.7 5.1-1.6 5.1-1.6 5.1-1.6 5.2-1.6 5.3-1.5 5.6-1.6 5.6-1.5 5.7-1.5 5.7-1.5 5.7-1.5 5.7-1.6 5.6-1.5 5.6-1.5 5.6-1.5 5.7-1.4 5.6-1.5 5.6-1.4 5.7-1.5 5.7-1.5 5.6-1.5 5.7-1.6 5.7-1.6 5.7-1.7 5.8-1.8 5.9-1.9 5.9-2 5.8-2.1 5.5-2 5-2 4.7-2 4.6-2.1 4.4-2.1 3.9-1.9 3.2-1.6 2.5-1.2M327.6 373.9l3.3-1.4 4.5-2 5.4-2.3 5.7-2.6 5.8-2.5 5.4-2.3 5-2 5-1.9 5-1.8 5.1-1.7 5.2-1.6 5.3-1.5 5.6-1.3 5.7-1.2 5.7-1.1 5.9-1.2 5.8-1.1 5.7-1.2 5.7-1.3 5.7-1.3 5.6-1.4 5.7-1.5 5.6-1.6 5.6-1.7 5.5-1.9 5.6-1.8 5.6-2 5.6-1.9 5.6-1.9 5.6-1.9 5.8-1.9 5.9-1.9 5.9-1.9 5.9-1.9 5.5-1.8 5.2-1.6 4.9-1.7 4.8-1.7 4.5-1.8 4-1.6 3.4-1.5 2.4-1.1M327.6 374.1l3.3-1.5 4.5-2.1 5.4-2.3 5.8-2.4 5.9-2.4 5.4-2 5.1-1.8 5-1.7 5.1-1.6 5.1-1.5 5.2-1.4 5.4-1.4 5.5-1.3 5.7-1.3 5.7-1.3 5.8-1.3 5.7-1.4 5.7-1.4 5.6-1.6 5.6-1.5 5.7-1.6 5.6-1.6 5.6-1.6 5.6-1.7 5.6-1.7 5.6-1.7 5.7-1.7 5.6-1.7 5.7-1.7 5.7-1.7 5.8-1.7 6-1.8 6-1.8 5.8-1.9 5.6-1.8 5.1-1.8 4.9-1.9 4.7-2 4.4-2 4-1.8 3.2-1.7 2.4-1.3M328.2 375.5l3.3-1.2 4.6-1.9 5.4-2.3 5.8-2.5 5.8-2.5 5.3-2.3 5-2.2 4.9-2 4.9-2 5-1.8 5.1-1.8 5.3-1.6 5.5-1.4 5.7-1.3 5.8-1.1 5.8-1.1 5.8-1.1 5.8-1 5.7-1.2 5.7-1.1 5.7-1.2 5.7-1.4 5.7-1.5 5.6-1.6 5.6-1.8 5.6-1.9 5.6-2 5.6-2 5.5-2.1 5.6-2 5.7-2.1 5.9-2.1 5.9-2.1 5.8-1.9 5.6-1.9 5.1-1.6 5-1.7 4.8-1.6 4.6-1.7 4.1-1.5 3.4-1.3 2.5-.9M328.5 376.2l3.4-1 4.7-1.5 5.6-2 5.9-2.2 5.8-2.2 5.4-2 5-2 4.9-2 4.9-2 4.9-2 5.1-1.9 5.1-1.9 5.4-1.7 5.6-1.6 5.6-1.5 5.8-1.4 5.8-1.3 5.7-1.2 5.7-1.1 5.8-1 5.7-1.1 5.8-1.1 5.7-1.1 5.8-1.3 5.7-1.5 5.7-1.6 5.7-1.7 5.6-1.9 5.6-2 5.6-2.1 5.7-2.2 5.8-2.4 5.8-2.3 5.7-2.3 5.5-2.2 5-2 4.9-1.9 4.8-1.9 4.5-1.7 4.1-1.6 3.4-1.2 2.6-.7M328.6 376.5l3.4-1.1 4.7-1.5 5.6-1.9 5.9-2.1 5.9-2.2 5.4-1.9 5-1.9 5-1.9 4.9-1.9 4.9-1.9 5-1.9 5.2-1.9 5.3-1.8 5.6-1.6 5.6-1.6 5.7-1.4 5.8-1.4 5.7-1.3 5.7-1.2 5.7-1.2 5.8-1 5.7-1.1 5.8-1.2 5.7-1.3 5.8-1.4 5.7-1.5 5.7-1.6 5.7-1.8 5.6-1.9 5.6-2 5.8-2.2 5.8-2.3 5.8-2.3 5.7-2.3 5.5-2.3 5-2 4.8-2.1 4.8-1.9 4.5-1.9 4-1.6 3.5-1.3 2.5-.8M329.2 378.1l3.3-1.3 4.6-1.9 5.4-2.2 5.9-2.4 5.7-2.4 5.4-2.2 5-1.9 4.9-1.9 5-1.8 5-1.8 5.1-1.6 5.2-1.6 5.4-1.4 5.6-1.4 5.7-1.2 5.8-1.3 5.8-1.2 5.7-1.2 5.7-1.3 5.7-1.3 5.7-1.3 5.7-1.4 5.7-1.4 5.6-1.6 5.7-1.7 5.7-1.8 5.6-1.8 5.6-1.9 5.7-1.9 5.6-2 5.8-2 5.9-2 6-2.1 5.8-2 5.5-1.9 5.2-1.8 5-1.8 4.8-1.8 4.5-1.8 4.1-1.7 3.4-1.4 2.4-1M329.4 378.7l3.3-1.5 4.6-1.9 5.4-2.2 5.9-2.3 5.8-2.2 5.5-1.9 5-1.7 5-1.6 5-1.6 5.1-1.5 5.1-1.5 5.2-1.5 5.4-1.4 5.6-1.4 5.6-1.4 5.7-1.4 5.8-1.5 5.7-1.5 5.6-1.5 5.6-1.5 5.6-1.6 5.7-1.5 5.7-1.5 5.7-1.6 5.7-1.6 5.7-1.6 5.7-1.6 5.7-1.6 5.8-1.6 5.7-1.7 5.9-1.8 6-1.9 5.9-2 5.9-2 5.5-2 5.2-1.9 4.9-2 4.7-2.1 4.5-2.1 3.9-1.9 3.3-1.6 2.4-1.2M329.6 379l3.4-1.1 4.7-1.6 5.5-2 5.9-2.1 5.9-2.1 5.4-2 5-1.8 4.9-1.8 4.9-1.9 5-1.8 5-1.8 5.1-1.8 5.3-1.7 5.5-1.6 5.6-1.5 5.7-1.5 5.8-1.4 5.7-1.3 5.7-1.3 5.7-1.2 5.7-1.2 5.8-1.2 5.7-1.2 5.8-1.3 5.8-1.5 5.7-1.5 5.7-1.6 5.7-1.8 5.7-1.9 5.7-1.9 5.7-2.1 5.9-2.2 5.9-2.3 5.7-2.3 5.5-2.2 5.1-2 4.9-2.1 4.8-2 4.5-1.9 4-1.7 3.4-1.3 2.5-.9M330 380.1l3.2-1.6 4.5-2.1 5.4-2.4 5.8-2.4 5.8-2.3 5.4-1.9 5.1-1.7 5-1.6 5-1.4 5.1-1.4 5.2-1.3 5.2-1.3 5.4-1.2 5.6-1.3 5.7-1.2 5.7-1.4 5.7-1.5 5.7-1.5 5.6-1.6 5.6-1.7 5.6-1.7 5.6-1.7 5.7-1.7 5.6-1.7 5.7-1.7 5.7-1.7 5.7-1.7 5.7-1.6 5.8-1.6 5.8-1.6 5.9-1.6 6.1-1.7 6-1.8 5.9-1.8 5.7-1.9 5.2-1.8 4.9-2 4.8-2.1 4.5-2.1 3.9-2 3.2-1.8 2.3-1.3M330.9 382.5l3.4-1.3 4.6-2 5.3-2.3 5.8-2.5 5.7-2.4 5.3-2.3 4.9-2 4.8-2 4.9-1.9 5-1.7 5-1.7 5.2-1.5 5.4-1.3 5.5-1.2 5.7-1.2 5.8-1.1 5.8-1.1 5.8-1.1 5.7-1.2 5.7-1.3 5.7-1.3 5.7-1.4 5.7-1.5 5.8-1.7 5.6-1.8 5.7-1.9 5.6-2 5.7-2 5.6-2 5.7-2 5.8-2 5.9-2.1 6-2 5.9-1.9 5.6-1.9 5.2-1.7 5.1-1.7 5-1.8 4.6-1.7 4.1-1.6 3.4-1.4 2.5-1M331 382.7l3.4-1.1 4.7-1.7 5.5-2 5.8-2.3 5.8-2.2 5.4-2 4.9-1.9 4.9-1.9 4.9-1.9 4.9-1.8 4.9-1.8 5.1-1.7 5.3-1.7 5.4-1.5 5.7-1.4 5.7-1.4 5.8-1.3 5.7-1.2 5.7-1.2 5.7-1.2 5.8-1.2 5.7-1.2 5.8-1.3 5.8-1.4 5.8-1.5 5.7-1.6 5.7-1.8 5.7-1.8 5.7-2 5.7-2 5.8-2.1 5.9-2.2 5.9-2.3 5.8-2.2 5.5-2.1 5.2-2 4.9-2 4.9-2 4.6-1.8 4.1-1.6 3.4-1.3 2.5-.9M280.4 404.9l-.1-2.8 0-2.8 .3-3.3 .8-3.9 1.8-4.1 2.7-3.8 3.2-3.3 3.6-2.7 3.6-2.4 3.7-2.1 3.7-1.9 3.5-1.9 3.7-1.8 3.9-1.9 4.2-1.8 4.3-1.7 4.5-1.7 4.8-1.5 5.2-1.4 5.4-1.1 5.2-.9 4.9-.8 4.4-.8 3.3-.8 2.3-.8 2.1-1.1 2.8-1.6 3.8-1.9 5.2-1.7 5.8-.7 5.9 .3 5.6 .8 5.7 1.3 5.7 1.5 5.4 1.7 5.2 1.9 5.1 1.9 5.1 2.2 5.1 2.5 5 2.6 4.8 3 4.8 3.2 4.7 3.9 4.2 4.2 3.7 4.2 3.2 3.7 2.7 3 2.3 2.2 2.2 1.8 2 1.5 1.2 .9 .5 .3-.2-.1-.6 .1-.2 0 .7-.3 1.3-1 1.6-1.4 1.6-1.7 1.1-1.3 .9-1.7 1.3-3 1.4-3.8 1.3-3.8 1.9-4.1 18.9 0 1.8 7-.1 4.7-.3 5.4-.5 5.8-.6 5.9-.7 5.3-.7 5.1-.9 5-1 5.1-1 4.9-1 4.6-.9 4.3-.7 4-.6 4.1-.7 4.4-.9 4.5-1.4 4.7-2.2 4.7-2.9 4.1-3.5 3.3-3.8 2.6-4.1 1.8-4.2 1.1-4.5 .5-5-.3-4.5-1.1-3.6-1.3-3.2-1.2-2.8-1-3-.8-3.9-.8-4.4-1-4.5-.8-4.4-.8-4.1-.4-3.7-.1-3.6 .2-4 .7-4.3 1-4.7 1.2-5.1 1.2-5.1 .9-4.7 .8-4.7 .9-5 .9-5.3 .7-5.6 .4-5.7-.1-5.8-.7-5.7-1.1-5.6-1.5-5.4-1.6-5.1-1.9-4.8-2.2-4.5-2.7-3.8-3-2.9-3-2.2-2.4-1.8-1.9-1.7-1.5-2.2-1.5-2.7-1.8-2.8-1.7-2.9-1.7-2.9-1.6-2.2-1.4-1.4-.7-1.4-.5-2.2-.8-3.4-1.7-3.6-3.2-2.8-4.3-1.6-4.5-.9-4.4-.6-4.5-.3-4.3-.2-4.1 0-3.4M281.8 404.9l0-2.7 0-2.8 .3-3.2 .8-3.6 1.7-3.8 2.5-3.6 3.1-3 3.4-2.6 3.6-2.3 3.6-2 3.6-2 3.6-1.8 3.7-1.8 3.9-1.9 4-1.8 4.3-1.7 4.5-1.6 4.7-1.6 5.1-1.3 5.3-1.1 5.2-.9 4.9-.9 4.4-.8 3.5-.8 2.4-.9 2.2-1.2 2.8-1.6 3.7-1.9 4.9-1.7 5.6-.7 5.6 .2 5.6 .8 5.6 1.2 5.6 1.5 5.5 1.7 5.1 1.7 5.1 2 5.1 2.1 5 2.4 5 2.6 4.8 2.9 4.8 3.2 4.6 3.8 4.2 4.2 3.7 4 3.2 3.8 2.8 3 2.3 2.2 2.3 1.8 1.9 1.5 1.4 .9 .6 .4-.1 0-.4 .1 .9-.4 1.4-1 1.6-1.5 1.6-1.7 1.2-1.4 1.1-1.8 1.3-3.1 1.4-3.8 1.4-3.7 1.8-3.9 17-.1 1.6 6.5-.1 4.6-.4 5.3-.5 5.9-.7 5.8-.6 5.3-.8 5-.9 5.1-1.1 5-1 4.8-1 4.7-1 4.3-.7 4-.7 4.1-.7 4.4-.9 4.4-1.3 4.5-2.1 4.4-2.7 3.8-3.3 3.1-3.6 2.4-3.8 1.7-3.9 1.1-4.3 .5-4.6-.3-4.3-1-3.5-1.3-3.2-1.2-2.9-1-3.1-.8-3.9-.8-4.5-.9-4.5-.8-4.5-.7-4.2-.4-3.9-.1-3.7 .3-4 .7-4.4 1-4.7 1.3-5.1 1.2-5 1-4.7 .8-4.7 1-5 .9-5.2 .7-5.5 .4-5.7-.1-5.7-.6-5.7-1.1-5.5-1.4-5.4-1.6-5-1.9-4.7-2.1-4.4-2.6-3.7-3-2.9-2.9-2.2-2.5-1.8-1.9-1.8-1.5-2.3-1.6-2.7-1.8-2.8-1.7-2.9-1.7-2.8-1.7-2.3-1.4-1.4-.8-1.4-.5-2.2-.9-3.2-1.6-3.4-3-2.5-4.1-1.5-4.3-.9-4.3-.5-4.4-.3-4.3-.1-4 0-3.4M282.5 404.9l.1-2.7 .1-2.7 .4-3.1 .9-3.5 1.7-3.5 2.4-3.2 3.1-2.9 3.3-2.4 3.5-2.1 3.7-1.9 3.6-1.9 3.6-1.7 3.7-1.7 3.8-1.8 4.1-1.7 4.2-1.7 4.4-1.6 4.6-1.4 5-1.3 5.2-1 5.2-1 4.9-.8 4.5-.9 3.7-.9 2.6-1 2.4-1.3 2.8-1.7 3.5-1.9 4.5-1.6 5.2-.7 5.4 .1 5.4 .7 5.5 1.1 5.6 1.3 5.4 1.6 5.2 1.6 5 1.8 5.1 2.1 5.1 2.2 5 2.5 4.8 2.8 4.8 3 4.6 3.7 4.2 4.1 3.8 4 3.3 3.7 2.8 2.9 2.4 2.2 2.3 1.7 2 1.5 1.4 .9 .6 .2-.1 0-.4 0-.1 0 .8-.4 1.4-1 1.6-1.4 1.6-1.7 1.2-1.3 1.1-1.8 1.4-3 1.4-3.8 1.4-3.7 1.9-3.9 16.9 0 1.5 6.4-.2 4.6-.4 5.3-.7 5.8-.7 5.8-.8 5.3-.9 5-1 5-1.2 4.9-1.1 4.9-1.2 4.6-1 4.3-.9 4-.7 4.2-.8 4.2-1 4.3-1.4 4.3-2 4.1-2.6 3.5-3 2.7-3.3 2.2-3.5 1.5-3.6 .9-3.9 .5-4.2-.3-4-1-3.4-1.2-3.2-1.2-3-1-3.3-.8-4-.8-4.5-.9-4.5-.8-4.6-.7-4.4-.3-4.1 0-3.9 .4-4.1 .8-4.4 1.2-4.7 1.3-5 1.3-5 1.1-4.7 1-4.7 1-4.9 1-5.1 .9-5.4 .5-5.6 0-5.7-.5-5.7-1-5.5-1.2-5.4-1.6-5-1.8-4.8-2-4.4-2.5-3.8-3-2.9-2.8-2.3-2.5-1.8-1.8-1.7-1.5-2.3-1.6-2.7-1.7-2.9-1.8-2.8-1.7-2.8-1.7-2.3-1.4-1.4-.8-1.4-.6-2.2-.9-3.1-1.7-3.4-3-2.4-4.1-1.4-4.3-.8-4.4-.4-4.3-.2-4.3 0-4 .1-3.4M284.6 404.9l0-2.7 .2-2.6 .3-2.9 .8-3.1 1.4-3.2 2.2-3 2.8-2.7 3.2-2.3 3.4-2.2 3.5-1.9 3.6-1.9 3.6-1.8 3.6-1.8 3.8-1.8 4-1.7 4.1-1.7 4.4-1.7 4.5-1.5 5-1.3 5.1-1.1 5.2-.9 4.9-1 4.5-.9 3.7-1 2.7-1 2.4-1.4 2.8-1.7 3.4-1.9 4.4-1.5 5.1-.8 5.3 .2 5.4 .6 5.5 1.1 5.5 1.4 5.4 1.5 5.1 1.7 5.1 1.8 5 2 5 2.3 5 2.5 4.8 2.8 4.6 3.1 4.6 3.6 4.1 4.1 3.7 4 3.3 3.7 2.8 3.1 2.4 2.2 2.3 1.9 2 1.6 1.5 .9 .8 .5 .2 .1 0 .1 .4-.1 1.1-.5 1.5-1 1.8-1.6 1.8-1.7 1.4-1.5 1.2-2 1.5-3.2 1.5-3.8 1.4-3.6 1.7-3.5 13.3-.1 1.2 5.4-.2 4.4-.5 5.2-.6 5.8-.7 5.8-.8 5.2-.8 4.9-1 5-1.1 4.9-1.1 4.9-1.1 4.6-1 4.3-.9 4.1-.7 4.2-.7 4.2-.9 4.2-1.2 4.2-1.9 3.8-2.4 3.3-2.7 2.7-3.1 2-3.3 1.5-3.4 1-3.7 .5-4.1-.2-3.8-.9-3.4-1.2-3.2-1.1-3.1-1-3.3-.8-4-.8-4.5-.8-4.6-.8-4.6-.6-4.5-.4-4.1 .1-3.9 .4-4.2 .8-4.5 1.2-4.7 1.3-4.9 1.3-5 1.1-4.7 .9-4.7 1-4.9 1-5.1 .8-5.4 .5-5.5-.1-5.6-.6-5.5-1-5.5-1.3-5.3-1.6-5-1.8-4.6-2-4.3-2.5-3.5-2.9-2.8-2.8-2.2-2.5-1.9-2-1.8-1.6-2.4-1.7-2.7-1.8-2.8-1.9-2.9-1.7-2.7-1.8-2.3-1.4-1.6-1-1.4-.6-2.1-.9-2.8-1.5-2.9-2.7-2.2-3.6-1.2-3.9-.8-4.2-.4-4.2-.2-4.2 0-4 .1-3.3M284.5 404.9l.1-2.7 .1-2.6 .3-2.9 .8-3.1 1.6-3.2 2.2-3 2.8-2.6 3.2-2.3 3.4-2 3.6-1.9 3.6-1.8 3.6-1.7 3.6-1.7 3.9-1.7 4-1.7 4.2-1.6 4.3-1.4 4.6-1.4 4.8-1.2 5.2-1 5.1-.9 5-.8 4.5-.8 3.9-.9 3-1.1 2.6-1.4 2.8-1.6 3.3-1.7 4-1.4 4.7-.6 5 .2 5.2 .7 5.3 1 5.5 1.4 5.3 1.5 5 1.7 5 1.8 4.9 2 5 2.2 4.8 2.4 4.7 2.7 4.6 2.9 4.4 3.5 4 3.9 3.7 3.9 3.4 3.7 2.9 3 2.6 2.3 2.5 1.8 2.1 1.6 1.7 1 1 .4 .6 .1 .3 0 .6-.3 1.2-.7 1.6-1.2 1.7-1.6 1.8-1.9 1.3-1.6 1.2-2.1 1.4-3.2 1.4-3.9 1.4-3.7 1.6-3.5 13.1-.1 1.2 5.4-.1 4.4-.4 5.2-.6 5.8-.8 5.8-.7 5.2-.9 4.9-1 5-1.1 4.9-1.1 4.9-1.2 4.6-1 4.3-.9 4.1-.8 4.1-.8 4.3-.9 4.2-1.3 4-1.9 3.8-2.4 3.1-2.8 2.5-3 1.9-3.2 1.3-3.3 .8-3.6 .4-3.8-.3-3.6-.9-3.2-1.3-3.2-1.2-3.2-1.2-3.4-.9-4-.8-4.5-.9-4.7-.9-4.7-.7-4.5-.5-4.4 0-4.1 .4-4.4 .8-4.5 1.1-4.8 1.3-4.9 1.3-4.9 1.1-4.7 .9-4.7 1-4.8 1-5 .8-5.2 .5-5.3 0-5.3-.5-5.5-.9-5.4-1.2-5.2-1.5-4.9-1.7-4.5-1.8-4.1-2.4-3.5-2.6-2.7-2.7-2.3-2.4-2-1.9-2-1.7-2.5-1.6-2.8-1.8-2.9-1.7-2.9-1.7-2.8-1.6-2.3-1.4-1.7-.9-1.5-.5-2.1-.8-2.8-1.5-2.9-2.6-2.2-3.5-1.3-4-.8-4.1-.4-4.2-.3-4.2 0-4 .1-3.3M285.9 404.9l0-2.7 0-2.6 .2-2.7 .7-3 1.3-3.1 2-2.9 2.7-2.7 3.1-2.3 3.3-2.2 3.5-2 3.5-1.8 3.6-1.9 3.6-1.8 3.8-1.8 3.9-1.8 4.2-1.7 4.3-1.6 4.6-1.4 4.9-1.3 5.1-1.1 5.2-.9 4.9-.8 4.5-.9 3.8-.9 2.9-1.1 2.5-1.3 2.8-1.6 3.4-1.7 4.2-1.4 4.8-.6 5.2 .2 5.2 .8 5.4 1.1 5.4 1.5 5.3 1.6 5.1 1.8 4.9 1.9 4.9 2.1 4.9 2.3 4.8 2.6 4.6 2.7 4.5 3.1 4.3 3.5 3.9 4 3.6 4 3.2 3.8 2.9 3.1 2.6 2.5 2.4 2 2.1 1.6 1.7 1.2 1.3 .6 .9 .3 .7 0 1.1-.2 1.5-.8 1.8-1.3 2-1.8 1.8-1.9 1.5-1.8 1.4-2.3 1.5-3.5 1.4-3.9 1.3-3.6 1.5-3.2 9.6-.2 1 4.5 0 4.2-.4 5.2-.5 5.7-.6 5.8-.7 5.2-.7 4.9-.9 5-1 4.9-1 4.8-1 4.7-.9 4.3-.8 4.2-.6 4.2-.7 4.2-.8 4.2-1.2 4.1-1.7 3.8-2.4 3.2-2.7 2.7-3 2-3.3 1.4-3.3 1-3.7 .4-3.9-.2-3.7-.9-3.4-1.2-3.2-1.2-3.1-1.1-3.3-.8-4-.9-4.5-.9-4.7-.9-4.6-.7-4.5-.5-4.2-.1-4.1 .3-4.3 .8-4.6 1-4.7 1.2-5 1.2-4.9 1-4.7 .8-4.7 .9-4.9 .9-5 .7-5.2 .3-5.2-.1-5.4-.6-5.4-1.1-5.3-1.3-5.1-1.6-4.8-1.8-4.4-2-3.9-2.3-3.2-2.7-2.7-2.6-2.2-2.5-1.9-2.1-2.1-1.8-2.5-1.8-2.8-1.8-3-1.8-2.9-1.7-2.8-1.7-2.3-1.4-1.8-1-1.7-.6-2-.8-2.5-1.2-2.5-2.2-1.9-3.1-1.3-3.5-.8-4-.5-4.1-.3-4.1-.1-3.9-.1-3.3M287.8 404.9l0-2.7-.1-2.5 .2-2.6 .6-2.6 1.1-2.8 1.9-2.6 2.4-2.5 2.9-2.3 3.3-2 3.4-2 3.5-1.9 3.5-1.9 3.6-1.8 3.7-1.8 4-1.8 4.1-1.7 4.2-1.6 4.5-1.4 4.8-1.3 5.1-1.1 5.1-.9 5-.9 4.5-.9 3.9-.9 3-1.1 2.7-1.4 2.8-1.7 3.2-1.6 4-1.4 4.6-.5 4.9 .2 5.2 .7 5.3 1.2 5.4 1.4 5.2 1.6 5 1.8 4.9 1.8 4.9 2.1 4.8 2.4 4.7 2.5 4.6 2.7 4.3 3 4.2 3.5 3.9 3.9 3.5 4 3.2 3.7 3 3.3 2.6 2.5 2.5 2.1 2.1 1.7 1.9 1.2 1.4 .8 1.3 .4 1.2 .1 1.4-.4 1.8-.9 2-1.4 2.1-1.8 1.9-2.1 1.7-1.9 1.5-2.5 1.5-3.6 1.5-4 1.3-3.5 1.3-2.9 6.5-.3 .8 3.6-.1 4.1-.3 5.1-.5 5.7-.7 5.8-.6 5.2-.7 4.8-.9 4.9-1 4.9-1 4.8-1 4.7-.9 4.4-.7 4.1-.6 4.3-.7 4.2-.8 4.1-1.1 3.9-1.6 3.5-2.1 3-2.5 2.5-2.8 1.9-3 1.3-3.1 .9-3.4 .5-3.6-.2-3.6-.9-3.2-1.1-3.2-1.2-3.2-1.1-3.5-.9-4.1-.8-4.5-.9-4.6-.9-4.7-.7-4.6-.5-4.4-.1-4.2 .4-4.4 .8-4.6 1-4.8 1.2-4.9 1.2-4.8 .9-4.8 .9-4.7 .9-4.8 .8-4.9 .7-5.1 .3-5.1-.1-5.3-.6-5.3-1.1-5.2-1.3-5.1-1.6-4.7-1.8-4.2-1.9-3.7-2.3-3.1-2.5-2.5-2.6-2.2-2.5-2-2.2-2.2-1.9-2.6-1.9-2.9-1.8-2.9-1.9-2.9-1.7-2.8-1.7-2.4-1.5-1.9-1-1.7-.7-2-.7-2.2-1.1-2.1-1.9-1.7-2.6-1.1-3.3-.7-3.7-.5-4.1-.3-4-.2-3.8 0-3.3M287.9 404.9l0-2.7 .1-2.5 .3-2.5 .7-2.6 1.2-2.6 1.8-2.5 2.4-2.3 2.9-2.1 3.3-2 3.4-1.9 3.5-1.8 3.6-1.7 3.5-1.8 3.8-1.7 3.9-1.7 4.1-1.6 4.2-1.6 4.4-1.4 4.8-1.2 5-1 5.1-.9 5-.9 4.6-.9 4-1 3.2-1.2 2.8-1.5 2.8-1.6 3-1.6 3.7-1.3 4.3-.6 4.8 .1 5 .7 5.3 1 5.3 1.4 5.3 1.5 5 1.7 4.8 1.7 4.9 2 4.9 2.2 4.7 2.5 4.6 2.6 4.4 2.9 4.2 3.4 3.9 3.8 3.6 3.9 3.3 3.7 3 3.2 2.7 2.5 2.5 1.9 2.2 1.7 1.8 1.2 1.5 .7 1.1 .3 1.1 0 1.3-.4 1.7-.9 2-1.4 2-1.8 1.9-2 1.6-1.8 1.5-2.5 1.5-3.5 1.5-3.9 1.4-3.6 1.3-2.9 7.2-.3 .8 3.8-.1 4.1-.5 5.1-.6 5.8-.7 5.7-.7 5.2-.8 4.7-1 4.9-1 4.9-1.1 4.8-1.1 4.7-1 4.3-.9 4.2-.7 4.2-.8 4.2-.8 4-1.2 3.8-1.6 3.3-2 2.8-2.4 2.2-2.6 1.7-2.8 1.2-2.9 .7-3.1 .4-3.4-.2-3.3-.8-3.1-1.1-3.2-1.2-3.3-1.2-3.6-.8-4.1-.9-4.5-.9-4.7-.8-4.8-.7-4.7-.4-4.5-.1-4.4 .4-4.5 .9-4.6 1.1-4.8 1.3-4.8 1.3-4.8 1-4.8 .9-4.7 1-4.7 .9-4.9 .8-5 .5-5.1-.1-5.2-.5-5.3-.9-5.3-1.3-5-1.5-4.8-1.7-4.2-1.8-3.8-2.2-3.2-2.5-2.6-2.6-2.2-2.4-2-2.2-2.2-1.8-2.6-1.8-2.8-1.9-3-1.8-2.9-1.7-2.8-1.7-2.3-1.5-1.9-1-1.7-.7-2-.8-2.2-1.1-2.2-2-1.7-2.8-1.1-3.3-.7-3.8-.4-4-.2-4.1-.1-3.8 .1-3.3M289.5 404.9l0-2.6 0-2.5 .2-2.4 .5-2.4 1-2.3 1.7-2.4 2.2-2.3 2.8-2.1 3.1-2.1 3.4-1.9 3.4-1.9 3.5-1.8 3.5-1.9 3.7-1.8 3.9-1.8 4.1-1.7 4.2-1.6 4.3-1.4 4.8-1.3 5-1.1 5.1-1 4.9-.9 4.6-1 4-1 3.2-1.2 2.7-1.5 2.8-1.6 3.1-1.7 3.7-1.3 4.4-.6 4.8 .2 5.1 .7 5.3 1.1 5.3 1.4 5.2 1.6 5 1.7 4.8 1.8 4.9 2.1 4.8 2.3 4.7 2.5 4.5 2.7 4.3 2.9 4.1 3.4 3.8 3.9 3.6 4 3.2 3.7 2.9 3.3 2.7 2.6 2.5 2.1 2.2 1.8 1.9 1.3 1.6 .9 1.5 .4 1.4 .1 1.7-.4 2-1 2.2-1.4 2.1-1.9 2.1-2.1 1.7-2 1.7-2.6 1.6-3.7 1.5-4 1.4-3.5 1.2-2.6 3.9-.3 .5 2.9-.1 3.9-.4 5.1-.5 5.7-.7 5.7-.6 5.1-.7 4.8-.9 4.8-1 4.9-1 4.8-1 4.7-1 4.4-.7 4.2-.7 4.3-.6 4.1-.8 4-1 3.7-1.5 3.3-1.9 2.8-2.2 2.2-2.5 1.7-2.7 1.3-2.9 .8-3.1 .5-3.4-.1-3.3-.8-3.2-1.1-3.2-1.1-3.3-1.1-3.6-.8-4.1-.8-4.5-.9-4.7-.9-4.8-.7-4.6-.4-4.5 0-4.4 .4-4.4 .8-4.7 1.1-4.7 1.2-4.9 1.2-4.8 1-4.8 .8-4.7 1-4.8 .8-4.8 .7-5 .4-5.1-.2-5.1-.6-5.3-1-5.2-1.4-5-1.5-4.6-1.8-4.2-1.9-3.6-2.2-3-2.5-2.4-2.6-2.2-2.5-2-2.2-2.3-2-2.6-2-2.9-1.9-2.9-1.9-2.9-1.8-2.7-1.6-2.4-1.6-2-1.1-1.9-.8-1.8-.7-2-1-1.7-1.6-1.5-2.3-1-3.1-.6-3.6-.5-3.9-.3-4-.1-3.7 0-3.3M290.7 404.9l0-2.6 .1-2.4 .1-2.3 .5-2.1 1-2.2 1.5-2.1 2.1-2.1 2.7-2 3-2 3.4-1.9 3.4-1.8 3.5-1.8 3.5-1.8 3.7-1.7 3.9-1.7 4-1.7 4.1-1.5 4.4-1.4 4.6-1.2 4.9-1.1 5.1-.9 5-.9 4.7-.9 4.1-1 3.4-1.3 2.9-1.6 2.8-1.6 3-1.6 3.3-1.1 4-.5 4.5 .1 4.9 .7 5.1 1.1 5.3 1.3 5.1 1.6 4.9 1.7 4.8 1.8 4.8 2 4.8 2.2 4.6 2.4 4.4 2.6 4.2 2.9 4 3.2 3.7 3.8 3.5 3.9 3.3 3.7 3 3.3 2.8 2.7 2.6 2.1 2.3 1.8 2.1 1.3 1.9 1 1.8 .5 1.8 0 2.1-.5 2.2-1.1 2.2-1.7 2.3-1.9 2.1-2.2 1.8-2.2 1.7-2.8 1.7-3.7 1.5-4 1.3-3.6 1.1-2.4 1.9-.3 .3 2.3-.1 3.9-.3 5-.6 5.6-.6 5.7-.7 5.1-.7 4.8-.9 4.8-1.1 4.9-1 4.8-1 4.6-1 4.4-.8 4.3-.7 4.2-.6 4.2-.8 3.9-1 3.5-1.4 3-1.8 2.5-2 1.9-2.3 1.6-2.5 1.1-2.7 .7-2.8 .4-3-.1-3-.8-3.1-1-3.2-1.2-3.4-1.2-3.7-.9-4.1-.8-4.6-.9-4.7-.9-4.9-.7-4.8-.5-4.7-.1-4.6 .5-4.6 .8-4.7 1.1-4.8 1.3-4.8 1.2-4.7 .9-4.8 .9-4.7 .9-4.7 .9-4.8 .7-4.8 .4-4.9-.1-5-.6-5.1-.9-5.1-1.3-4.9-1.5-4.5-1.7-4.1-1.8-3.4-2.1-2.8-2.3-2.4-2.4-2.2-2.5-2.2-2.3-2.4-2-2.7-2-2.9-1.9-3-1.9-2.9-1.7-2.8-1.7-2.4-1.5-2.1-1.1-1.9-.8-1.9-.7-1.7-.9-1.5-1.4-1.3-2-.9-2.9-.7-3.5-.4-3.8-.3-3.9-.1-3.8 0-3.2M291.2 404.9l0-2.6 0-2.4 .2-2.2 .4-2.1 .9-2.1 1.5-2.1 2.1-2 2.6-2 3-2 3.3-1.9 3.5-1.8 3.5-1.8 3.5-1.7 3.7-1.8 3.8-1.7 4-1.6 4.2-1.5 4.3-1.4 4.6-1.2 4.9-1 5.1-.9 5-.9 4.7-.9 4.2-1 3.4-1.3 3-1.5 2.8-1.7 2.9-1.4 3.3-1.2 3.8-.4 4.4 .2 4.9 .7 5.1 1 5.1 1.4 5.2 1.6 4.8 1.7 4.8 1.8 4.7 2 4.7 2.2 4.6 2.5 4.4 2.6 4.1 2.8 3.9 3.2 3.7 3.7 3.5 3.8 3.2 3.8 3.1 3.4 2.9 2.7 2.6 2.1 2.3 1.8 2.2 1.4 2 1 2.1 .5 2.1 .1 2.2-.6 2.4-1.2 2.3-1.7 2.3-2.1 2.1-2.2 1.9-2.3 1.7-2.9 1.7-3.9 1.5-4 1.3-3.5 1-2.3 .7-.4 .3 2-.1 3.8-.3 5-.5 5.7-.7 5.7-.6 5.1-.7 4.7-.9 4.8-1 4.9-1 4.8-1 4.6-1 4.4-.8 4.3-.6 4.3-.7 4.1-.8 3.9-1 3.5-1.3 2.9-1.8 2.4-2 1.9-2.2 1.5-2.4 1.1-2.6 .7-2.8 .4-2.9-.2-3-.7-3-1.1-3.2-1.2-3.5-1.2-3.7-.9-4.1-.9-4.5-.9-4.8-.9-4.9-.8-4.9-.5-4.7-.1-4.7 .4-4.7 .8-4.7 1.2-4.8 1.2-4.7 1.1-4.8 1-4.7 .8-4.8 .9-4.7 .9-4.7 .6-4.8 .4-4.7-.1-4.9-.6-5.1-.9-5-1.3-4.9-1.5-4.5-1.7-3.9-1.8-3.3-1.9-2.8-2.3-2.3-2.3-2.2-2.5-2.2-2.3-2.5-2.1-2.7-2-3-1.9-3-1.8-3-1.8-2.7-1.6-2.5-1.5-2.1-1.2-2-.8-1.9-.6-1.6-.8-1.4-1.3-1.2-1.8-.9-2.7-.7-3.4-.4-3.9-.3-3.9-.2-3.7 0-3.2M291.3 404.9l0-2.6 .1-2.4 .3-2.2 .5-2 .9-1.9 1.5-2 2.1-1.9 2.7-1.8 3-1.8 3.4-1.8 3.5-1.7 3.5-1.7 3.5-1.6 3.8-1.6 3.8-1.6 4-1.5 4.1-1.3 4.3-1.3 4.5-1 4.9-.9 5-.8 5-.8 4.8-.8 4.4-1 3.8-1.3 3.3-1.7 2.8-1.5 2.7-1.4 2.7-.9 3.3-.4 4.1 .2 4.6 .6 4.9 1.1 5.1 1.3 5 1.5 4.8 1.6 4.7 1.7 4.7 1.9 4.6 2.1 4.5 2.3 4.4 2.4 4 2.6 3.8 3 3.7 3.5 3.5 3.8 3.4 3.6 3.2 3.4 3 2.6 2.8 2.1 2.5 1.7 2.3 1.4 2.2 1 2.3 .4 2.3-.1 2.3-.7 2.4-1.4 2.3-1.8 2.3-2.1 2-2.3 1.9-2.3 1.6-3 1.6-3.9 1.5-4 1.2-3.5 1-2.4 1-.3 .3 2 0 3.8-.4 5.1-.6 5.6-.6 5.7-.7 5.1-.8 4.7-1 4.8-1.1 4.8-1.1 4.8-1.1 4.6-1.1 4.4-.9 4.3-.8 4.2-.7 4.1-.9 3.8-1.1 3.3-1.4 2.7-1.7 2.1-1.9 1.7-2 1.2-2.3 .9-2.3 .5-2.5 .2-2.4-.3-2.7-.7-2.9-1.2-3.2-1.3-3.5-1.3-3.9-1.1-4.1-.9-4.6-1-4.8-1-5-.8-5.1-.5-5-.1-4.9 .4-4.9 .9-4.9 1.1-4.8 1.3-4.7 1.2-4.6 1-4.7 .9-4.7 1-4.7 .9-4.6 .7-4.5 .5-4.6 0-4.7-.4-5-.8-4.9-1.2-4.8-1.3-4.5-1.5-3.9-1.6-3.2-1.8-2.7-2-2.4-2.3-2.2-2.3-2.4-2.2-2.6-2.1-2.8-1.9-3.1-1.9-3-1.7-3-1.7-2.8-1.6-2.5-1.4-2.2-1.1-2.1-.7-1.8-.7-1.6-.7-1.5-1.3-1.2-1.9-.9-2.7-.7-3.4-.4-3.9-.3-3.9-.1-3.7 .1-3.2M292.6 405l.2-2.7 .1-2.3 .3-2 .5-1.8 .8-1.6 1.3-1.7 2-1.7 2.5-1.8 2.9-1.7 3.3-1.7 3.5-1.7 3.5-1.7 3.5-1.6 3.7-1.7 3.8-1.5 3.9-1.5 4.1-1.5 4.1-1.2 4.5-1.1 4.8-1 5-.8 5-.8 4.8-1 4.5-1 3.9-1.5 3.3-1.7 2.8-1.6 2.5-1.4 2.7-1 3.1-.4 4 .1 4.6 .6 4.9 .9 5.1 1.3 5 1.4 4.9 1.5 4.7 1.7 4.7 1.9 4.6 2 4.5 2.3 4.4 2.4 4 2.6 3.9 3 3.6 3.5 3.6 3.7 3.3 3.7 3.3 3.3 3 2.7 2.7 2.1 2.5 1.7 2.3 1.4 2.2 1 2.3 .5 2.3 0 2.4-.8 2.4-1.3 2.4-1.7 2.3-2.1 2.2-2.3 1.9-2.3 1.8-3 1.7-3.9 1.5-4.1 1.3-3.4 1-2.2-.6-.3 .1 1.6-.2 3.7-.4 5-.6 5.6-.7 5.6-.8 5.1-.8 4.6-1 4.8-1.1 4.8-1.2 4.8-1.1 4.6-1.1 4.4-1 4.3-.8 4.3-.8 4-.8 3.7-1.1 3.1-1.2 2.5-1.5 1.9-1.7 1.4-1.8 1.1-1.9 .8-2.2 .5-2.2 .3-2.2-.2-2.5-.7-2.8-1-3.3-1.3-3.6-1.2-3.9-1.1-4.3-.8-4.5-1-4.9-.9-5.1-.7-5.1-.4-5-.1-5 .5-4.9 1-4.9 1.2-4.7 1.3-4.7 1.3-4.7 1-4.7 1-4.7 1-4.6 1-4.6 .7-4.5 .5-4.6 .1-4.7-.4-5-.9-5-1.1-4.8-1.3-4.4-1.6-3.9-1.6-3.2-1.7-2.7-2.1-2.4-2.3-2.2-2.3-2.3-2.3-2.6-2.1-2.8-2-3-1.9-3.1-1.8-2.9-1.7-2.8-1.7-2.5-1.5-2.2-1.1-2-.9-1.8-.6-1.5-.8-1.2-1.1-1-1.8-.8-2.6-.6-3.3-.4-3.8-.1-3.8-.1-3.7 .1-3.2M294.3 405l.1-2.7 .1-2.2 .3-1.9 .4-1.5 .6-1.3 1.2-1.5 1.7-1.6 2.4-1.7 2.8-1.7 3.3-1.8 3.4-1.7 3.4-1.7 3.5-1.7 3.6-1.7 3.8-1.6 3.9-1.6 4-1.4 4.1-1.3 4.3-1.2 4.8-1 5-.9 5-.9 4.9-.9 4.5-1.2 3.9-1.5 3.3-1.7 2.8-1.7 2.5-1.4 2.5-1 3.1-.4 4 .1 4.5 .5 5 1 5 1.2 5.1 1.4 4.8 1.6 4.7 1.7 4.6 1.8 4.7 2.1 4.5 2.3 4.3 2.4 4 2.6 3.8 3 3.6 3.5 3.4 3.8 3.4 3.7 3.2 3.4 3 2.7 2.7 2.2 2.5 1.8 2.3 1.5 2.4 1.1 2.4 .6 2.7 .1 2.7-.8 2.6-1.3 2.5-1.8 2.5-2.2 2.2-2.3 2.1-2.4 1.9-3.2 1.8-4 1.6-4 1.3-3.5 .9-1.8-3.4-.4-.2 .8-.1 3.6-.5 4.9-.6 5.6-.7 5.6-.8 5-.8 4.6-.9 4.8-1.1 4.8-1.1 4.7-1.2 4.6-1 4.5-.9 4.3-.8 4.3-.7 4.1-.8 3.6-.9 3-1.1 2.3-1.3 1.7-1.5 1.4-1.6 1-1.9 .8-2 .6-2 .2-2.1-.1-2.4-.5-2.8-1-3.2-1.2-3.7-1.3-4-.9-4.3-.9-4.5-.9-4.9-.8-5.1-.7-5.1-.5-5.1 0-5 .5-5 1-4.8 1.2-4.8 1.4-4.7 1.2-4.6 1-4.7 1-4.7 1-4.6 .9-4.6 .8-4.5 .4-4.6 0-4.6-.4-5-.9-4.9-1.1-4.8-1.4-4.4-1.6-3.8-1.6-3.1-1.8-2.5-2-2.3-2.3-2.2-2.4-2.3-2.4-2.6-2.2-2.9-2.1-3-1.9-3-1.9-3-1.8-2.7-1.6-2.5-1.6-2.3-1.3-2.1-.9-1.7-.7-1.2-.7-.9-.8-.7-1.3-.7-2.4-.5-3.2-.4-3.6-.2-3.8 0-3.6 .1-3.1M294.5 405l0-2.7 .1-2.2 .1-1.9 .4-1.5 .7-1.4 1.1-1.5 1.7-1.6 2.4-1.7 2.9-1.8 3.2-1.7 3.4-1.7 3.5-1.7 3.5-1.7 3.6-1.6 3.8-1.5 3.9-1.5 4-1.4 4.1-1.2 4.4-1.1 4.8-.9 5-.8 5.1-.8 4.8-.9 4.6-1 4.1-1.4 3.4-1.7 2.9-1.6 2.4-1.2 2.4-.8 2.8-.3 3.7 .2 4.4 .6 4.8 1 5 1.3 4.9 1.5 4.7 1.6 4.6 1.8 4.6 1.9 4.5 2 4.4 2.3 4.2 2.4 3.8 2.5 3.6 2.9 3.5 3.4 3.4 3.7 3.3 3.7 3.3 3.4 3.2 2.9 2.9 2.2 2.5 1.9 2.6 1.5 2.7 1.2 3 .7 3.1-.1 3.2-.9 2.9-1.6 2.7-2.1 2.4-2.3 2.3-2.4 2.1-2.7 1.9-3.4 1.7-4.1 1.5-4.1 1.2-3.5 .7-1.7-4.8-.5-.1 .4-.1 3.6-.3 4.9-.5 5.5-.7 5.7-.6 5-.8 4.6-.9 4.8-1 4.8-1.1 4.7-1.1 4.6-1 4.5-.9 4.3-.7 4.3-.8 4.1-.8 3.6-.9 3-1.2 2.3-1.3 1.7-1.5 1.4-1.7 1-1.8 .7-2 .5-2 .2-2-.2-2.3-.7-2.8-1.1-3.2-1.3-3.7-1.3-4-1.1-4.3-1-4.5-1-4.9-1-5.1-.8-5.3-.5-5.2-.2-5.2 .5-5.1 .8-4.9 1.2-4.8 1.2-4.6 1.2-4.6 .9-4.7 .9-4.8 .9-4.5 .9-4.5 .7-4.3 .4-4.3 0-4.5-.5-4.7-.8-4.8-1.2-4.7-1.3-4.3-1.5-3.6-1.5-2.8-1.6-2.4-1.8-2.1-2.1-2.3-2.3-2.4-2.5-2.8-2.3-3.1-2-3.1-1.9-3.1-1.9-3-1.6-2.8-1.6-2.5-1.5-2.5-1.2-2.2-.8-1.7-.6-1.1-.5-.8-.6-.7-1.1-.8-2.1-.6-3.1-.4-3.7-.3-3.7-.1-3.6 0-3.1M296.3 405l.1-2.7 .1-2.1 .2-1.7 .3-1.2 .5-1 .9-1.2 1.5-1.4 2.2-1.6 2.7-1.7 3.2-1.7 3.4-1.7 3.4-1.7 3.5-1.7 3.6-1.7 3.7-1.6 3.8-1.5 3.9-1.4 4-1.3 4.3-1.1 4.7-1 5-.9 5.1-.8 4.8-1 4.7-1.2 4.2-1.5 3.4-1.8 2.8-1.7 2.4-1.3 2.2-.8 2.7-.4 3.7 .1 4.4 .6 4.8 1 4.9 1.2 5 1.5 4.7 1.5 4.6 1.7 4.6 1.9 4.5 2 4.4 2.3 4.2 2.4 3.8 2.5 3.6 2.9 3.5 3.3 3.4 3.7 3.3 3.8 3.3 3.5 3.2 2.9 2.8 2.2 2.6 1.9 2.5 1.6 2.7 1.3 3 .8 3.3-.1 3.3-.8 3-1.6 2.8-2 2.6-2.3 2.3-2.5 2.3-2.6 2.1-3.5 1.8-4.2 1.6-4.1 1.2-3.4 .7-1.5-7.2-.5-.5-.2-.1 3.4-.4 4.8-.6 5.6-.7 5.6-.7 4.9-.7 4.6-1 4.7-1 4.7-1.1 4.8-1.1 4.6-1 4.5-.9 4.4-.8 4.3-.7 4-.7 3.5-.9 2.9-1 2-1.1 1.4-1.2 1.2-1.4 .9-1.5 .7-1.8 .4-1.8 .3-1.7-.1-2.1-.6-2.8-.9-3.2-1.3-3.8-1.3-4.1-1-4.3-.8-4.6-1-4.9-.9-5.2-.7-5.2-.5-5.3 0-5.2 .5-5.1 .9-5 1.2-4.7 1.3-4.7 1.2-4.6 1-4.7 .9-4.7 1-4.5 .9-4.5 .7-4.3 .4-4.3 0-4.5-.4-4.7-.9-4.8-1.1-4.7-1.4-4.3-1.5-3.6-1.6-2.8-1.6-2.2-1.8-2.2-2.2-2.1-2.3-2.5-2.5-2.8-2.4-3-2.2-3.1-1.9-3.1-1.9-2.9-1.8-2.7-1.6-2.6-1.6-2.5-1.4-2.2-.9-1.7-.6-.8-.5-.4-.3-.5-.9-.6-1.9-.5-3-.4-3.5-.2-3.7 0-3.5 0-3.1M297.5 405l0-2.6 0-2.2 .1-1.5 .2-1.1 .3-.9 .8-1.1 1.4-1.4 2.1-1.6 2.7-1.7 3.1-1.8 3.4-1.7 3.4-1.8 3.4-1.7 3.6-1.7 3.7-1.6 3.8-1.5 3.9-1.4 4-1.3 4.3-1.1 4.7-.9 5-.9 5-.8 4.9-1 4.7-1.1 4.3-1.5 3.5-1.8 2.8-1.6 2.3-1.2 2.2-.7 2.5-.3 3.6 .2 4.3 .6 4.7 1 4.9 1.4 4.9 1.5 4.7 1.6 4.5 1.7 4.5 2 4.4 2.1 4.3 2.2 4.1 2.4 3.7 2.5 3.4 2.8 3.3 3.4 3.3 3.7 3.3 3.7 3.3 3.6 3.3 3.1 2.9 2.3 2.6 2 2.7 1.8 3.1 1.4 3.5 .8 3.8 0 3.8-1 3.4-1.8 3-2.2 2.7-2.4 2.4-2.6 2.3-2.9 2.2-3.7 1.9-4.4 1.5-4.2 1.2-3.4 .4-1.2-10.1-.5-.5-1.1-.1 3.3-.3 4.8-.5 5.5-.6 5.6-.6 5-.7 4.5-.9 4.7-.9 4.8-1 4.7-1 4.6-1 4.5-.9 4.5-.6 4.3-.7 4-.7 3.5-.8 2.8-.9 2-1 1.4-1.2 1.1-1.3 .9-1.5 .7-1.7 .4-1.8 .2-1.7-.1-2-.5-2.7-1-3.3-1.3-3.8-1.3-4.1-1.1-4.3-.9-4.5-1-5-.9-5.2-.8-5.3-.6-5.3-.1-5.4 .4-5.1 .9-5 1.2-4.8 1.2-4.6 1.1-4.6 .9-4.7 .8-4.8 .9-4.5 .8-4.4 .7-4.2 .3-4.1-.1-4.3-.5-4.6-.9-4.7-1.2-4.5-1.4-4.2-1.5-3.4-1.5-2.5-1.5-2.1-1.7-2-2-2.1-2.3-2.6-2.6-2.9-2.6-3.2-2.2-3.1-2-3.2-1.9-3-1.7-2.7-1.6-2.6-1.6-2.6-1.4-2.5-.9-1.5-.5-.6-.3-.1 0-.3-.3-.6-1.7-.5-2.8-.5-3.4-.2-3.7-.2-3.5 0-3M297.4 405l.1-2.6 0-2.2 .1-1.5 .3-1.1 .4-.8 .7-1.1 1.5-1.3 2.1-1.6 2.7-1.6 3.1-1.7 3.4-1.7 3.4-1.7 3.5-1.6 3.6-1.6 3.7-1.6 3.8-1.4 3.9-1.4 4-1.2 4.2-1 4.7-.9 5-.8 5-.8 5-.9 4.8-1.1 4.4-1.6 3.6-1.8 2.8-1.6 2.3-1.1 1.9-.6 2.3-.3 3.4 .2 4.2 .6 4.6 1 4.9 1.3 4.8 1.5 4.7 1.5 4.4 1.7 4.5 1.9 4.4 2 4.3 2.2 4 2.4 3.7 2.4 3.4 2.7 3.3 3.3 3.3 3.6 3.4 3.7 3.4 3.6 3.3 3 3 2.3 2.7 2 2.8 1.7 3.1 1.4 3.6 .8 3.9-.1 3.8-1.1 3.3-1.8 3-2.2 2.7-2.5 2.4-2.6 2.3-2.9 2.1-3.8 1.9-4.3 1.5-4.2 1.2-3.4 .4-1.3-9.8-.5-.6-1 0 3.3-.4 4.8-.5 5.5-.6 5.6-.6 5-.8 4.5-.9 4.7-1 4.7-1 4.8-1.1 4.6-1 4.5-.9 4.4-.8 4.4-.7 4-.7 3.4-.9 2.7-.9 1.9-1 1.3-1.1 1-1.3 .7-1.4 .6-1.6 .3-1.6 .2-1.5-.1-1.9-.6-2.6-1-3.3-1.3-3.8-1.4-4.2-1.1-4.3-1-4.6-1-5-1-5.2-.8-5.4-.6-5.5-.1-5.4 .4-5.3 1-5 1.1-4.8 1.3-4.6 1.1-4.5 .9-4.8 .9-4.7 .9-4.5 .9-4.3 .6-4.1 .4-4 0-4.3-.5-4.6-.8-4.6-1.1-4.5-1.3-4.2-1.5-3.4-1.4-2.5-1.4-2-1.6-2-1.9-2.2-2.4-2.6-2.5-3-2.5-3.2-2.2-3.2-2-3.1-1.8-3-1.7-2.8-1.6-2.6-1.5-2.7-1.4-2.4-.9-1.6-.5-.6-.2-.1 0-.3-.5-.6-1.7-.6-2.8-.4-3.4-.3-3.7-.1-3.5 0-3M299.1 405l0-2.6 0-2.1 .1-1.4 .2-.8 .2-.6 .6-.8 1.2-1.2 2-1.4 2.6-1.7 3.1-1.6 3.3-1.7 3.5-1.7 3.4-1.7 3.5-1.6 3.7-1.6 3.8-1.4 3.8-1.4 3.9-1.2 4.2-1 4.6-.9 5-.8 5-.8 5-.9 4.9-1.1 4.6-1.6 3.7-1.9 2.9-1.6 2.1-1 1.6-.6 2.1-.2 3.3 .2 4 .6 4.6 1 4.8 1.3 4.8 1.5 4.6 1.6 4.4 1.7 4.4 1.8 4.4 2.1 4.2 2.2 3.9 2.3 3.6 2.3 3.2 2.7 3.2 3.2 3.3 3.6 3.4 3.7 3.4 3.7 3.4 3.1 3 2.4 2.8 2 2.9 1.8 3.4 1.6 3.9 .9 4.4-.1 4.3-1.2 3.6-2 3.2-2.3 2.7-2.6 2.5-2.7 2.5-3.1 2.3-4 1.8-4.5 1.6-4.2 1.1-3.4 .3-.9-12.9-.6-.7-1.8-.1 3.1-.3 4.8-.5 5.5-.6 5.5-.6 4.9-.7 4.5-.8 4.7-1 4.7-1.1 4.7-1 4.7-1 4.5-.9 4.5-.7 4.3-.7 4-.7 3.4-.8 2.5-.8 1.7-.8 1.1-1 .8-1 .7-1.2 .4-1.4 .4-1.4 .1-1.3-.1-1.7-.5-2.6-1-3.2-1.3-3.9-1.4-4.3-1.2-4.3-.9-4.7-1-5-1-5.2-.9-5.5-.6-5.6-.1-5.6 .4-5.4 .9-5.1 1.2-4.8 1.2-4.5 1.1-4.5 .9-4.7 .8-4.7 1-4.5 .8-4.3 .6-4 .4-3.8-.1-4.2-.4-4.4-.9-4.6-1.1-4.4-1.3-4-1.4-3.3-1.4-2.3-1.3-1.8-1.5-1.9-1.9-2.2-2.3-2.7-2.6-3.1-2.6-3.3-2.3-3.2-2-3.2-1.9-3-1.7-2.8-1.6-2.6-1.5-2.8-1.4-2.6-1-1.5-.5-.3 0 .2 .3-.5-1.4-.6-2.6-.4-3.4-.2-3.5-.2-3.5 0-3M300.5 405l0-2.6 0-2 0-1.3 0-.6 .1-.4 .4-.6 1.1-1.2 1.9-1.4 2.5-1.7 3-1.7 3.3-1.8 3.4-1.7 3.3-1.8 3.5-1.6 3.6-1.7 3.8-1.5 3.8-1.4 3.9-1.3 4.1-1.1 4.6-1 5-.8 5-.9 5-1 4.9-1.2 4.4-1.6 3.7-1.9 2.9-1.6 2.1-1.1 1.7-.6 2.2-.3 3.3 .2 4.1 .6 4.6 1 4.8 1.3 4.8 1.5 4.6 1.7 4.5 1.7 4.4 1.9 4.3 2.1 4.2 2.2 3.9 2.4 3.6 2.4 3.2 2.7 3.1 3.3 3.3 3.6 3.3 3.8 3.3 3.7 3.4 3.2 3 2.5 2.7 2.1 2.9 1.9 3.5 1.7 4.1 1 4.5 0 4.5-1.2 3.8-1.9 3.3-2.4 2.9-2.6 2.6-2.7 2.6-3.2 2.4-4.1 2-4.6 1.6-4.2 1.2-3.3 .1-.7-15.3-.7-1-2.5-.1 3.1-.3 4.6-.4 5.5-.6 5.5-.6 4.9-.7 4.5-.8 4.6-.9 4.7-1 4.8-1 4.6-.9 4.5-.8 4.6-.7 4.4-.6 3.9-.6 3.4-.7 2.5-.7 1.5-.7 1.1-.8 .8-.9 .7-1.1 .5-1.4 .4-1.4 .3-1.2-.1-1.7-.4-2.6-.9-3.3-1.3-3.9-1.3-4.3-1.1-4.3-.9-4.6-1-5-.9-5.3-.9-5.5-.5-5.5-.1-5.5 .4-5.4 .9-5 1.2-4.9 1.2-4.5 1.1-4.5 .8-4.7 .9-4.8 .8-4.5 .8-4.3 .6-4 .3-3.9-.1-4.1-.6-4.4-.8-4.6-1.2-4.4-1.4-4-1.5-3.2-1.5-2.2-1.3-1.7-1.5-1.8-2-2.1-2.3-2.7-2.8-3.1-2.7-3.3-2.4-3.2-2-3.2-2-3-1.8-2.7-1.6-2.6-1.6-2.9-1.5-2.6-1-1.4-.5-.1 0 .6 .6 .1 .3-.4-1.2-.5-2.5-.4-3.2-.3-3.5-.1-3.4-.1-3M301.4 405l0-2.6 .1-2 0-1.1 .1-.4 .1-.2 .3-.4 1-1 1.7-1.3 2.5-1.6 3-1.6 3.3-1.7 3.3-1.8 3.4-1.6 3.5-1.7 3.6-1.6 3.7-1.5 3.7-1.4 3.8-1.2 4.1-1.1 4.5-.9 5-.9 5-.9 5-1 5-1.2 4.7-1.8 3.8-1.9 2.8-1.7 2-1.1 1.4-.6 2-.2 3.1 .1 4 .6 4.5 .9 4.8 1.2 4.8 1.4 4.6 1.6 4.4 1.6 4.4 1.9 4.4 2 4.1 2.2 4 2.3 3.5 2.3 3.2 2.6 3.2 3.2 3.3 3.6 3.3 3.8 3.4 3.7 3.4 3.2 3 2.4 2.7 2.1 3 1.9 3.5 1.7 4.1 1 4.7 0 4.5-1.2 3.8-2 3.4-2.4 2.9-2.6 2.6-2.7 2.6-3.1 2.5-4.2 2-4.5 1.6-4.3 1.2-3.3 .2-.6-16.2-.6-1.1-2.7-.1 2.9-.3 4.7-.6 5.4-.6 5.5-.7 4.9-.7 4.4-.9 4.6-.9 4.7-1.1 4.7-1 4.6-1 4.6-.9 4.5-.7 4.4-.7 4-.6 3.2-.7 2.3-.6 1.3-.6 .9-.6 .6-.7 .5-.9 .4-1.1 .3-1.1 .2-.9 0-1.5-.4-2.5-.9-3.3-1.2-4-1.4-4.4-1.1-4.4-.9-4.6-.9-5.1-.9-5.3-.8-5.6-.5-5.7-.1-5.6 .5-5.4 1-5.1 1.2-4.8 1.3-4.5 1.1-4.5 1-4.7 .8-4.7 1-4.5 .8-4.2 .7-4 .3-3.8-.1-4.1-.4-4.4-.8-4.6-1.2-4.3-1.3-4-1.5-3.2-1.4-2.2-1.3-1.8-1.4-1.8-1.9-2.1-2.4-2.6-2.7-3.2-2.7-3.3-2.4-3.2-2.1-3.2-2-3-1.8-2.6-1.6-2.7-1.6-2.9-1.6-2.6-1-1.4-.6 0 .1 .7 .6 .3 .4-.3-1.1-.5-2.5-.3-3.2-.2-3.5-.1-3.3 0-3M303.3 405l.1-2.6 0-1.9 0-.9 0-.1-.1 .2 .1-.2 .8-.7 1.6-1.2 2.4-1.5 2.8-1.7 3.3-1.7 3.3-1.7 3.4-1.7 3.4-1.7 3.5-1.6 3.7-1.5 3.7-1.4 3.7-1.2 3.9-1.1 4.5-.9 4.9-1 5.1-.9 5.1-1 5-1.3 4.9-1.8 3.9-2.1 2.8-1.6 1.8-1.1 1.3-.5 1.6-.2 3 .1 3.9 .5 4.4 .9 4.7 1.2 4.8 1.4 4.5 1.5 4.4 1.7 4.4 1.8 4.3 2 4.1 2.1 3.9 2.3 3.4 2.3 3.1 2.5 3.1 3.2 3.2 3.6 3.3 3.7 3.5 3.8 3.4 3.3 3.1 2.5 2.8 2.1 3.1 2.1 3.7 1.7 4.4 1.2 5.1 0 4.9-1.3 4.1-2.1 3.5-2.5 3.1-2.6 2.7-2.8 2.8-3.3 2.6-4.4 2.1-4.7 1.6-4.3 1.2-3.2 .1-.3-19.4-.7-1.4-3.6-.1 2.8-.3 4.6-.6 5.4-.6 5.5-.7 4.8-.7 4.4-.8 4.5-1 4.7-1.1 4.7-1 4.6-1 4.6-.9 4.6-.7 4.4-.6 3.9-.6 3.2-.6 2.1-.4 1-.4 .6-.4 .4-.4 .3-.6 .4-.9 .2-.8 .2-.7 .1-1.3-.3-2.4-.9-3.3-1.2-4.1-1.3-4.5-1.1-4.4-.9-4.6-.9-5.1-.9-5.4-.8-5.7-.5-5.8-.1-5.8 .6-5.5 1-5.1 1.2-4.9 1.3-4.4 1.2-4.5 .9-4.7 .8-4.7 1-4.4 .8-4.2 .6-3.9 .4-3.6-.1-4-.5-4.3-.8-4.5-1.1-4.3-1.3-3.9-1.5-3.1-1.4-2-1.2-1.6-1.4-1.7-1.8-2.1-2.3-2.7-2.9-3.2-2.8-3.4-2.5-3.2-2.1-3.2-2-3-1.8-2.7-1.7-2.6-1.6-3-1.7-2.7-1.1-1.4-.5 .3 .1 1.1 1 .6 .8-.2-.8-.4-2.3-.3-3-.2-3.5-.1-3.2 0-3M336.9 393.9l3.5-1.3 5-1.8 6.1-1.9 6.7-1.7 6.9-1.3 6.7-.5 6.3 .4 6.2 .8 6.2 1.4 6 1.8 5.8 2.2 5.3 2.6 5 3.1 4.5 3.6 4.2 3.8 4 3.8 3.7 3.4 3.7 3.1 3.6 3 3.5 3 3.1 2.9 2.7 2.6 2.4 2.1 2 1.6 1.9 1.4 1.6 1.1 1.4 .8 1.3 .7 1.4 .4 1.5 .1 1.7-.5 2.3-1.3 2.4-2 2.3-2.2 1.8-2.1 1.3-1.6M337.2 395.1l3.7-.7 5.1-1.3 6.1-1.6 6.7-1.5 6.7-1.2 6.3-.6 6.1 .1 6.1 .4 6.2 .8 6.1 1.3 5.8 1.7 5.4 2.2 5.1 2.9 4.6 3.6 4.1 3.9 3.7 4 3.5 3.8 3.3 3.4 3.2 3.3 3.1 3.4 2.8 3.1 2.7 2.9 2.5 2.3 2.3 1.7 2.3 1.2 2 .8 1.8 .4 1.6 .2 1.6-.1 1.4-.2 1.7-.7 2.3-1.4 2.5-1.9 2.4-2 2.2-1.7 1.6-1.2M337.8 397.4l3.6-.9 5.1-1.4 6.1-1.7 6.5-1.6 6.6-1.2 6.2-.6 5.9 .1 6 .5 6 1 5.9 1.3 5.6 1.8 5.2 2.2 4.7 2.9 4.3 3.4 4 3.8 3.7 3.9 3.6 3.7 3.4 3.4 3.3 3.2 3.1 3.2 2.9 3.1 2.7 2.8 2.7 2.3 2.5 1.8 2.4 1.4 2.2 1 2 .6 1.9 .4 2 0 1.9-.2 2.2-.8 2.6-1.5 2.6-2 2.5-2.1 2.1-1.8 1.5-1.3M338 398.4l3.8-.6 5.1-1.1 6.2-1.3 6.5-1.2 6.4-.9 5.9-.3 5.7 .2 5.8 .4 5.9 .8 5.7 1.1 5.5 1.4 5.1 1.8 4.7 2.4 4.4 3.1 4.1 3.5 3.8 3.8 3.5 3.8 3.3 3.4 3.1 3.4 2.8 3.4 2.7 3.3 2.5 3.1 2.6 2.8 2.6 2.1 2.6 1.7 2.5 1.1 2.5 .6 2.4 .2 2.4-.3 2.3-.6 2.4-1.3 2.5-2 2.6-2.1 2.4-2.2 2.1-1.8 1.6-1.2M338.8 401.7l3.7-1.2 5-1.6 6-1.7 6.3-1.6 6.4-1.2 5.8-.5 5.5 .3 5.8 .6 5.7 1.1 5.5 1.5 5.2 1.8 4.6 2.2 4.1 2.5 3.9 3.2 3.8 3.5 3.7 3.6 3.7 3.6 3.6 3.3 3.4 3 3.1 3 3 3 2.9 2.8 2.8 2.6 2.8 2.1 2.7 1.7 2.6 1.4 2.5 1 2.6 .7 2.8 .2 3-.3 3.2-1.1 3.1-1.9 2.8-2.3 2.5-2.2 1.9-2 1.4-1.3M339.3 403.7l3.7-1.1 5.1-1.6 5.9-1.7 6.3-1.6 6.1-1.3 5.6-.5 5.4 .1 5.6 .6 5.7 .9 5.4 1.4 5 1.8 4.5 2.1 3.9 2.5 3.8 3 3.6 3.5 3.6 3.7 3.6 3.7 3.6 3.4 3.3 3 3 3 3 2.9 3 2.9 3 2.6 3 2.2 2.9 1.7 2.8 1.4 2.8 1 2.9 .7 3 .2 3.3-.4 3.5-1.2 3.3-2 3-2.2 2.6-2.3 2-1.8 1.4-1.3M355.9 297.6l3.6 .9 5.1 1 6.1 1.2 6.6 1.3 6.7 1.4 6.3 1.6 6 1.7 6.1 1.8 6.2 2 6 2.3 5.9 2.5 5.5 3 5 3.5 4.3 3.9 3.8 3.9 3.4 3.8 3.4 3.4 3.6 3 4.1 2.8 4.2 2.9 4.3 2.4 4.1 1.9 4.1 1.3 4 .6 4.7-.2 5.7-1 6.3-1.5 6.1-1.6 5.4-1.4 3.9-.8M355.7 298.6l3.7 .5 5.1 .8 6.1 1.2 6.6 1.4 6.6 1.7 6.1 2 5.8 2.1 6 2.2 6 2.3 5.9 2.4 5.7 2.5 5.4 2.6 5 3.1 4.6 3.4 4 3.6 3.7 3.5 3.6 3.2 3.7 3 4 3 4.1 3 4 2.9 4.1 2.4 4.2 1.8 4.4 1 5.1 0 6-1.1 6.4-1.8 6-2 5.3-1.8 3.8-1.2M355.2 301.7l3.7 .6 5.1 .7 6.1 .8 6.6 1 6.6 1.3 6.2 1.5 5.9 1.8 6 2 5.9 2.3 5.8 2.5 5.5 2.8 5.1 3 4.6 3.3 4.1 3.6 3.8 3.7 3.6 3.6 3.8 3.3 4.1 2.8 4.3 2.7 4.4 2.7 4.3 2.6 4.4 2.1 4.4 1.7 4.5 1 5.3 .2 6.2-.8 6.6-1.3 6.2-1.5 5.3-1.5 3.8-1M355 302.3l3.8 .4 5.1 .6 6.1 .9 6.6 1.1 6.6 1.4 6.1 1.7 5.8 2 5.8 2.3 5.9 2.4 5.7 2.6 5.4 2.7 5.1 2.8 4.6 3.1 4.1 3.3 4 3.5 3.8 3.5 3.9 3.2 4.1 2.8 4.3 2.8 4.2 2.9 4.3 2.7 4.3 2.5 4.5 1.9 4.8 1.2 5.5 .3 6.4-.8 6.6-1.5 6.2-1.8 5.3-1.7 3.7-1.2M354.9 303.4l3.6 1 5 1.3 6 1.4 6.4 1.6 6.4 1.6 6 1.6 5.8 1.6 5.9 1.7 6 1.8 6 1.9 5.6 2.2 5.2 2.5 4.5 2.9 4 3.5 3.6 3.8 3.5 4 3.5 3.8 3.8 3.5 4.1 3.2 4.2 3.1 4.5 2.8 4.8 2.2 5.1 1.6 5.3 .7 5.8-.5 6.5-1.4 6.5-1.8 6.2-1.9 5.3-1.4 3.9-.8M354.7 304.5l3.7 .7 5.1 .9 6 1.1 6.5 1.3 6.4 1.6 5.9 1.7 5.7 1.8 5.9 2 5.8 2.1 5.8 2.3 5.4 2.4 5 2.5 4.5 2.9 4 3.3 3.7 3.6 3.7 3.6 3.8 3.6 4.1 3.2 4.2 3 4.3 3.1 4.4 2.8 4.7 2.5 5 1.9 5.3 1.1 6-.1 6.6-1.1 6.7-1.7 6.3-1.9 5.2-1.6 3.7-1.1M354.3 306.6l3.7 .4 5.2 .8 6 1 6.4 1.3 6.4 1.6 5.8 1.9 5.6 2 5.7 2.2 5.7 2.3 5.6 2.3 5.3 2.4 4.9 2.4 4.2 2.6 4 3 3.9 3.4 3.8 3.5 4 3.5 4.2 3.2 4.3 3.1 4.2 3.1 4.5 3.1 4.7 2.8 5.2 2.2 5.8 1.3 6.5 0 6.9-1.1 6.8-1.8 6.3-2 5.1-1.8 3.7-1.2M354.1 307.4l3.7 .9 5.1 1.1 6 1.3 6.4 1.3 6.3 1.4 5.8 1.5 5.7 1.6 5.9 1.7 5.8 1.9 5.8 2 5.3 2.3 4.9 2.5 4.1 2.8 3.7 3.4 3.5 3.7 3.5 3.8 3.8 3.9 4.2 3.5 4.3 3.1 4.4 3 4.7 2.8 5.1 2.4 5.4 1.8 5.9 .9 6.4-.3 6.9-1.2 6.8-1.7 6.3-1.8 5.3-1.4 3.8-.7M345.3 292.9l4.6 .9 6.5 .9 7.7 .9 8.3 .7 8.6 .6 8.3 .4 8.1 .2 8.4 .1 8.6 .2 8.7 .2 8.7 .3 8.6 .6 8.5 .8 8.5 1 8.5 1.2 8.3 1 8.3 .9 8.3 .4 8.5 0 8.8-.4 8.8-.8 8.6-1 8.1-1.2 7.3-1.3 6.7-1.3 6.5-1.4 6.2-1.4 5.5-1.1 4.8-.8 3.6-.4M345.2 294.2l4.7 .5 6.4 .5 7.7 .5 8.5 .5 8.5 .5 8.3 .5 8.1 .4 8.4 .5 8.5 .5 8.7 .6 8.7 .7 8.6 .7 8.5 .8 8.5 .9 8.5 .8 8.4 .8 8.3 .4 8.3 .1 8.5-.3 8.8-.5 8.8-.7 8.6-.8 8.1-.9 7.4-.9 6.8-.9 6.6-1.1 6.2-1.2 5.6-1.1 4.8-1 3.5-.7M345.1 295l4.7 .8 6.4 .8 7.7 .9 8.4 .9 8.6 .6 8.2 .5 8.1 .3 8.4 .2 8.6 .2 8.7 .2 8.7 .4 8.6 .4 8.5 .7 8.6 1 8.4 1 8.4 1.1 8.3 .8 8.4 .4 8.6 .1 8.8-.4 8.9-.7 8.6-.9 8.1-1.2 7.4-1.2 6.8-1.3 6.6-1.4 6.2-1.5 5.6-1.2 4.7-.9 3.6-.5M345 295.9l4.7 .4 6.5 .8 7.7 .9 8.3 1.1 8.6 .9 8.2 .9 8.1 .7 8.4 .5 8.6 .4 8.7 .3 8.7 .2 8.6 .2 8.5 .3 8.5 .6 8.5 .7 8.4 .7 8.4 .7 8.4 .5 8.6 .3 8.9-.1 8.9-.3 8.6-.6 8.2-.8 7.5-1 6.9-1.3 6.6-1.6 6.2-1.6 5.5-1.6 4.7-1.3 3.5-.9M344.9 298l4.7 .6 6.4 .7 7.7 .7 8.4 .6 8.6 .5 8.3 .4 8.1 .2 8.4 .2 8.6 .3 8.7 .5 8.6 .5 8.6 .7 8.5 .9 8.5 1 8.5 1.1 8.4 .9 8.4 .7 8.5 .2 8.6-.1 8.9-.6 8.9-.8 8.6-1 8.2-1.1 7.4-1.1 6.9-1.2 6.8-1.2 6.3-1.3 5.6-1 4.8-.8 3.5-.5M344.8 299l4.7 .6 6.4 .7 7.7 .8 8.4 .8 8.6 .7 8.3 .5 8.1 .5 8.4 .3 8.6 .4 8.6 .4 8.7 .4 8.6 .5 8.5 .6 8.5 .8 8.5 .9 8.4 .9 8.5 .6 8.5 .4 8.7 0 8.9-.3 8.9-.7 8.7-.8 8.2-1 7.5-1 7-1.2 6.7-1.4 6.3-1.4 5.6-1.3 4.7-1.1 3.6-.6M344.6 300.8l4.8 .5 6.4 .5 7.7 .6 8.4 .5 8.7 .4 8.2 .4 8.2 .3 8.3 .4 8.6 .5 8.7 .6 8.6 .7 8.6 .7 8.5 .9 8.4 1 8.5 .9 8.5 .8 8.5 .5 8.6 .1 8.7-.3 8.9-.6 9-.8 8.7-.9 8.2-1 7.5-.9 7-1 6.8-1.1 6.4-1.2 5.7-1.1 4.7-.9 3.6-.5M344.7 300.5l4.7 .3 6.5 .6 7.6 .9 8.4 .9 8.6 1.1 8.2 .9 8.1 .8 8.4 .7 8.6 .5 8.7 .4 8.6 .3 8.6 .2 8.5 .3 8.5 .4 8.5 .6 8.6 .6 8.5 .6 8.5 .4 8.7 .2 9 0 9-.3 8.7-.4 8.3-.7 7.6-.9 7-1.2 6.9-1.5 6.3-1.7 5.5-1.7 4.6-1.4 3.5-.9M344.5 302.4l4.8 .2 6.4 .4 7.7 .5 8.4 .7 8.6 .7 8.3 .7 8.1 .8 8.4 .7 8.5 .7 8.7 .6 8.7 .6 8.5 .5 8.5 .6 8.5 .6 8.5 .6 8.5 .5 8.6 .3 8.6 .2 8.7-.2 9-.3 9-.4 8.8-.6 8.2-.6 7.6-.8 7.2-.9 6.9-1.2 6.4-1.4 5.6-1.4 4.7-1.3 3.4-.9M344.3 304.7l4.8 .3 6.4 .4 7.8 .4 8.4 .4 8.6 .4 8.3 .4 8.1 .4 8.4 .5 8.6 .6 8.6 .8 8.7 .8 8.5 .8 8.4 .9 8.5 .9 8.5 .9 8.6 .6 8.6 .4 8.7-.1 8.8-.4 9-.6 9-.8 8.7-.9 8.3-.8 7.6-.8 7.2-.9 7-1 6.5-1.1 5.7-1.1 4.7-.9 3.5-.6M344.3 305.6l4.7 .3 6.5 .4 7.7 .5 8.4 .5 8.6 .5 8.3 .6 8.1 .5 8.4 .6 8.6 .7 8.6 .7 8.7 .7 8.5 .6 8.4 .8 8.5 .7 8.5 .8 8.6 .6 8.7 .3 8.7 .1 8.8-.3 9.1-.5 9-.6 8.8-.7 8.3-.8 7.6-.7 7.3-1 7-1.1 6.5-1.3 5.7-1.2 4.6-1.1 3.5-.8M344.3 305.5l4.7 .1 6.5 .5 7.7 .8 8.4 1 8.5 1.1 8.3 1.1 8.1 1 8.3 .9 8.6 .6 8.7 .5 8.7 .3 8.5 .2 8.5 .1 8.5 .3 8.5 .4 8.6 .4 8.7 .5 8.7 .3 8.9 .2 9 .1 9.1-.1 8.9-.2 8.3-.6 7.7-.7 7.3-1.1 7-1.6 6.5-1.8 5.6-1.8 4.5-1.5 3.4-1.1M390.2 324.6l3.7 .8 5.1 1.1 5.9 1.2 6.4 1.1 6.3 .8 5.8 .4 5.6 0 6-.1 6.3-.3 6.3-.3 6.3-.2 6-.1 5.6 .1 5.2 .1 4.9 0 4.6-.2 4.7-.5 4.8-1 5-1.4 5.3-1.7 5.5-1.8 5.5-2 5.7-2 5.7-1.9 6-2 6.5-2.2 6.6-2.4 6.1-2.2 5.2-2 3.7-1.4M390.4 323.5l3.8 .8 5 1.4 5.8 1.8 6.2 1.8 6.2 1.6 5.8 1.1 5.8 .5 6.1 0 6.3-.5 6.4-.7 6.2-.9 5.9-.9 5.6-.6 5.2-.5 4.8-.3 4.7-.2 4.6-.2 4.8-.4 5.3-.7 5.5-.9 5.6-1.3 5.8-1.5 5.8-1.8 5.6-2.1 5.9-2.4 6.3-2.9 6.3-3.1 5.8-2.9 5-2.5 3.6-1.7M389.9 325.9l3.7 .7 5.1 1.1 5.9 1.4 6.3 1.3 6.4 1.2 5.9 .8 5.8 .3 6.1 0 6.4-.3 6.3-.4 6.2-.5 6-.4 5.6-.2 5.1-.2 4.9-.2 4.7-.3 4.7-.5 4.9-.8 5.2-1.1 5.5-1.4 5.6-1.6 5.7-1.7 5.7-1.9 5.7-1.8 6-2.1 6.5-2.5 6.5-2.7 6-2.5 5.1-2.3 3.6-1.6M389.4 328l3.7 .8 5.1 1 5.9 1.2 6.5 1.1 6.5 .9 6 .5 5.9 .1 6.2-.1 6.3-.3 6.4-.3 6.2-.2 6-.1 5.5 .1 5.2 0 4.9 0 4.8-.2 4.8-.6 5-1 5.2-1.4 5.5-1.7 5.5-1.9 5.7-1.9 5.7-2 5.7-1.9 6.1-2 6.5-2.2 6.6-2.4 6.2-2.3 5.1-2 3.8-1.5M389 329.6l3.7 .8 5.1 1.1 6 1 6.5 1 6.6 .7 6.1 .3 6-.1 6.2-.2 6.4-.2 6.3-.2 6.3-.1 5.9 .1 5.5 .2 5.2 .3 4.9 .1 4.9-.2 4.9-.6 5.1-1.2 5.3-1.6 5.4-1.9 5.5-2 5.6-2.1 5.7-2.1 5.7-1.8 6.1-2 6.7-2.1 6.7-2.2 6.2-2.1 5.2-1.9 3.8-1.3M389 329.5l3.8 .6 5 1 6 1.3 6.5 1.2 6.5 1.1 6.2 .8 6 .3 6.3 .1 6.4-.1 6.4-.3 6.2-.3 5.9-.3 5.5-.2 5.1-.1 4.9-.3 4.8-.4 4.9-.7 5.1-1 5.4-1.3 5.5-1.5 5.7-1.6 5.8-1.7 5.8-1.8 5.7-1.7 6.2-2 6.6-2.4 6.5-2.6 6.1-2.5 5-2.2 3.7-1.7M388.8 330.5l3.6 .9 5 1.4 6 1.7 6.4 1.6 6.6 1.3 6.4 .8 6.2 .3 6.4-.2 6.4-.6 6.4-.6 6.2-.7 5.8-.6 5.5-.3 5.1-.1 4.9-.1 4.9-.1 5-.3 5.3-.5 5.6-1 5.7-1.4 5.7-1.6 5.8-1.8 5.7-2.1 5.7-2.1 6-2.4 6.5-2.7 6.4-2.9 6.1-2.6 5-2.2 3.7-1.5M388.3 332.9l3.6 .9 5 1.1 6.1 1.2 6.6 1.2 6.7 .8 6.4 .5 6.3 0 6.4-.2 6.4-.4 6.5-.3 6.2-.3 5.8 0 5.4 .1 5.1 .2 5 .1 5-.2 5.1-.5 5.3-1.1 5.6-1.4 5.6-1.8 5.6-2 5.7-2.1 5.8-2.1 5.7-1.9 6.1-2.1 6.7-2.3 6.6-2.4 6.2-2.2 5.2-1.9 3.8-1.4M388.2 333.1l3.6 1 5 1.4 6 1.7 6.5 1.6 6.7 1.4 6.6 .8 6.3 .2 6.6-.2 6.5-.6 6.4-.7 6.2-.7 5.8-.6 5.3-.3 5.1-.2 5 0 5 0 5.2-.2 5.4-.6 5.7-1 5.8-1.3 5.9-1.7 5.8-1.9 5.7-2.1 5.7-2.1 6.1-2.5 6.4-2.8 6.5-2.9 6-2.6 5.1-2.2 3.7-1.4M388.1 333.7l3.6 .9 5 1.4 6 1.6 6.5 1.6 6.8 1.4 6.5 .9 6.4 .3 6.6-.1 6.6-.5 6.4-.7 6.1-.7 5.8-.6 5.4-.3 5-.2 5-.1 5-.1 5.2-.3 5.5-.7 5.7-1 5.8-1.3 5.9-1.6 5.9-1.8 5.8-2 5.7-2.1 6-2.5 6.6-2.7 6.5-2.9 6-2.6 5-2.3 3.7-1.5M387.7 335.5l3.7 .4 5.1 .8 6.1 1.2 6.6 1.4 6.8 1.3 6.5 1.1 6.4 .6 6.6 .4 6.7 0 6.4-.1 6.2-.4 5.7-.4 5.3-.4 5.1-.4 5-.6 5-.6 5.2-.9 5.5-1 5.6-1.3 5.8-1.4 6-1.5 5.9-1.5 6-1.5 5.9-1.6 6.3-1.9 6.7-2.5 6.5-2.7 6-2.7 5-2.5 3.5-1.9M387.4 336.8l3.6 .7 5.1 1 6.1 1.3 6.6 1.3 6.9 1.2 6.7 .8 6.5 .3 6.7 .1 6.6-.2 6.5-.3 6.1-.4 5.8-.3 5.2-.1 5.1-.2 5-.2 5.1-.4 5.3-.7 5.6-1 5.8-1.3 5.8-1.6 5.9-1.7 5.9-1.8 5.8-1.8 5.9-1.9 6.2-2.1 6.7-2.4 6.6-2.6 6.1-2.5 5.1-2.2 3.6-1.7" stroke="#0000ff" stroke-width="1.05" fill="none" stroke-linejoin="round"/></g></defs>
<use href="#bl"/>
<path d="M307.4 405.8l1.2 3.1 1.8 4.1 2.4 4.7 2.6 4.9 2.8 4.7 2.7 4.2 2.7 3.8 2.9 4.1 2.8 4.3 2.8 4.5 2.8 4.7 2.6 4.9 2.5 4.9 2.5 4.9 2.5 4.8 2.7 4.6 2.8 4.5 2.8 4.2 3 4 3.1 4 3.1 3.9 2.9 3.8 2.6 3.5 2.3 3.2 1.8 3 1.6 2.8 1.3 2.7 1.1 2.4 .8 2 .7 1.6M306.4 406.3l1.2 3.1 1.6 4.2 2.1 4.8 2.3 5.1 2.4 4.9 2.5 4.4 2.5 4.1 2.8 4.2 2.9 4.3 3.1 4.3 3 4.6 3 4.6 2.8 4.6 2.8 4.7 2.7 4.8 2.6 4.6 2.7 4.6 2.6 4.3 2.6 4.3 2.8 4.2 2.7 4.1 2.7 3.9 2.6 3.6 2.3 3.2 2.1 2.8 1.9 2.7 1.6 2.4 1.4 2.2 1.1 1.9 .8 1.4M304.2 407.3l1.3 3 1.8 4.1 2.1 4.8 2.4 5.1 2.5 5 2.5 4.4 2.6 4.2 2.7 4.2 2.9 4.4 2.9 4.4 3 4.6 2.9 4.7 2.8 4.6 2.7 4.7 2.8 4.7 2.7 4.6 2.7 4.5 2.7 4.3 2.8 4.3 2.8 4.2 2.7 4.1 2.7 3.9 2.5 3.6 2.2 3.2 2 2.9 1.9 2.8 1.6 2.4 1.3 2.3 1.1 1.8 .9 1.5M302.7 408l1 3.1 1.4 4.3 1.8 5 2.1 5.3 2.3 5.1 2.4 4.6 2.6 4.3 3 4.2 3.2 4.2 3.3 4.2 3.3 4.4 3.1 4.4 3 4.6 2.8 4.6 2.6 4.8 2.5 4.8 2.4 4.7 2.4 4.5 2.4 4.5 2.6 4.3 2.6 4.2 2.8 3.9 2.6 3.5 2.6 3 2.3 2.8 2.2 2.5 1.9 2.3 1.5 2.1 1.2 1.8 .7 1.5M300.1 409.2l.9 3.1 1.4 4.3 1.8 5 2.2 5.3 2.4 5.1 2.6 4.7 2.8 4.2 3.1 4.2 3.3 4.2 3.3 4.3 3.2 4.3 3.1 4.5 2.8 4.6 2.7 4.8 2.5 4.8 2.4 4.8 2.4 4.7 2.4 4.6 2.5 4.4 2.7 4.3 2.8 4.1 2.8 3.8 2.8 3.4 2.6 3.1 2.3 2.7 2.1 2.6 1.8 2.3 1.5 2.2 1 1.9 .6 1.6M298 410.1l1.1 3.1 1.7 4.2 2.1 4.8 2.3 5.3 2.5 5.1 2.5 4.7 2.7 4.4 2.9 4.4 3 4.4 3 4.4 3.1 4.5 2.9 4.5 2.9 4.6 2.8 4.7 2.7 4.6 2.7 4.7 2.6 4.6 2.6 4.4 2.7 4.3 2.7 4.3 2.7 4.1 2.7 4 2.5 3.6 2.4 3.2 2.1 2.9 1.9 2.6 1.8 2.5 1.4 2.2 1.2 1.8 .8 1.5M295.6 411.2l1.4 3 1.8 4.1 2.2 4.8 2.3 5.3 2.4 5.2 2.4 4.9 2.5 4.6 2.7 4.5 2.8 4.5 3 4.6 3 4.4 3 4.5 3 4.5 3 4.6 2.9 4.5 2.9 4.6 2.8 4.4 2.7 4.4 2.6 4.3 2.6 4.4 2.6 4.2 2.5 4.1 2.3 3.7 2.2 3.4 2 3 1.9 2.7 1.8 2.4 1.6 2.1 1.3 1.7 1 1.3M293 412.4l1.5 2.9 2 4 2.5 4.7 2.6 5.2 2.8 5.1 2.6 4.8 2.6 4.6 2.6 4.6 2.7 4.6 2.7 4.7 2.8 4.7 2.6 4.6 2.8 4.6 2.8 4.7 3 4.6 3 4.4 3 4.4 2.9 4.2 2.9 4.1 2.9 4.2 2.8 4.1 2.5 4 2.3 3.8 2 3.5 1.8 3.1 1.7 3 1.5 2.6 1.4 2.2 1.1 1.8 1 1.3M291.2 413.2l1.4 2.9 1.9 4.1 2.3 4.8 2.6 5.2 2.7 5.3 2.6 4.8 2.7 4.6 2.8 4.6 2.8 4.6 2.9 4.6 2.8 4.6 2.8 4.6 2.7 4.6 2.9 4.7 2.8 4.6 2.9 4.5 2.9 4.4 2.8 4.3 2.9 4.2 2.8 4.3 2.7 4.1 2.7 4 2.3 3.7 2.2 3.4 1.9 3.1 1.7 2.9 1.6 2.5 1.4 2.3 1.2 1.8 .9 1.3M288.5 414.5l1.1 3 1.7 4.1 2.4 4.9 2.7 5.1 3 5.2 3.1 4.8 3 4.5 3.2 4.4 3 4.5 2.9 4.6 2.8 4.6 2.5 4.7 2.5 4.8 2.4 4.8 2.6 4.9 2.6 4.7 2.7 4.5 2.9 4.3 3 4.1 3.1 4.1 3.1 3.9 2.9 3.8 2.7 3.5 2.4 3.3 1.9 3 1.7 2.9 1.4 2.8 1.1 2.4 .9 2 .6 1.6M286.3 415.5l1.5 2.8 2 4 2.4 4.9 2.6 5.2 2.8 5.3 2.6 5.1 2.7 4.8 2.8 4.8 2.8 4.7 2.8 4.6 2.7 4.6 2.7 4.6 2.8 4.6 2.9 4.6 2.9 4.5 3 4.5 3 4.4 2.9 4.3 2.9 4.2 2.8 4.2 2.7 4.2 2.6 4 2.3 3.8 2 3.5 1.9 3.2 1.7 2.9 1.6 2.6 1.4 2.2 1.3 1.8 1 1.3M284.2 416.4l1.7 2.8 2.3 3.9 2.5 4.7 2.7 5.3 2.7 5.4 2.5 5.2 2.6 4.9 2.5 5 2.6 4.9 2.6 4.8 2.7 4.6 2.7 4.5 2.9 4.5 3 4.5 3.2 4.4 3.2 4.4 3.2 4.3 3 4.1 2.9 4.2 2.8 4.3 2.6 4.3 2.4 4.1 2 4 1.9 3.6 1.7 3.3 1.6 3 1.6 2.6 1.6 2.2 1.4 1.6 1.2 1.2M282.6 417.2l1.5 2.8 2.1 3.9 2.5 4.8 2.7 5.3 2.8 5.4 2.8 5.2 2.7 4.9 2.7 4.9 2.7 4.8 2.7 4.8 2.7 4.6 2.7 4.5 2.7 4.6 2.9 4.6 3 4.5 3.1 4.5 3.1 4.3 3 4.2 2.9 4.2 2.9 4.2 2.7 4.2 2.5 4.1 2.2 3.8 2 3.6 1.8 3.2 1.7 3 1.5 2.7 1.5 2.2 1.2 1.7 1.1 1.3M279.9 418.4l1.5 2.8 2 4 2.4 4.9 2.7 5.3 2.8 5.5 2.8 5.3 2.8 5 2.8 4.9 2.8 4.8 2.9 4.7 2.7 4.5 2.7 4.5 2.7 4.6 2.9 4.6 3 4.5 3 4.5 3 4.4 2.9 4.3 2.9 4.2 2.8 4.3 2.7 4.2 2.6 4 2.3 3.9 2 3.4 1.9 3.3 1.8 2.9 1.6 2.6 1.5 2.3 1.2 1.7 1 1.3" stroke="#0000ff" stroke-width="1.25" fill="none" stroke-dasharray="1.5 1.1"/>
<path d="M460.2 330.2C464.2 327.7 482.6 326.8 487.4 328.5C492.2 330.2 493.1 337.9 489.1 340.4C485.1 343 468.4 345.5 463.6 343.8C458.8 342.1 456.3 332.8 460.2 330.2Z" fill="#0000ff"/>
<path d="M521.4 303C523.9 300.2 535.2 299.1 538.3 301.3C541.5 303.6 542.6 313.8 540 316.6C537.5 319.5 526.2 320.6 523.1 318.3C519.9 316.1 518.8 305.9 521.4 303Z" fill="#0000ff"/>
<defs><linearGradient id="rdg" gradientUnits="userSpaceOnUse" x1="420" y1="120" x2="560" y2="270"><stop offset="0" stop-color="#500000"/><stop offset="0.45" stop-color="#8a0000"/><stop offset="0.8" stop-color="#e00000"/><stop offset="1" stop-color="#ff0000"/></linearGradient></defs>
<path d="M485.8 75.8C489.6 75 492.2 75.9 495.4 76.8C498.6 77.6 502.2 79.2 505.1 80.6C508 82.1 510.5 83 512.8 85.4C515 87.8 517 91.2 518.6 95.1C520.2 98.9 521.1 103.1 522.4 108.6C523.7 114.1 525 123.7 526.3 127.9C527.6 132.1 527.2 130.5 530.1 133.7C533 136.9 539.1 142.7 543.6 147.2C548.1 151.7 552.6 156.2 557.2 160.7C561.7 165.2 567.1 170 570.7 174.2C574.2 178.4 576.1 181.9 578.4 185.8C580.6 189.6 583.4 193.2 584.2 197.3C585 201.5 583.2 206.3 583.2 210.8C583.2 215.3 583.7 218.9 584.2 224.4C584.6 229.8 585.4 237.2 586.1 243.6C586.7 250.1 587.5 256.8 588 262.9C588.5 269 590.6 276.6 589 280.3C587.4 284 585.9 284 578.4 285.1C570.8 286.3 555.9 287 543.6 287.1C531.4 287.2 517.9 286.3 505.1 285.7C492.2 285.2 477.3 284.2 466.5 283.8C455.6 283.3 445.6 284.1 440 283C434.4 281.9 434.9 279.8 433 277C431.1 274.2 430.1 270.3 428.4 266C426.7 261.7 424.8 256.1 423 251C421.2 245.9 419.6 241.2 417.8 235.7C416 230.2 414 223.4 412 218C410 212.6 408.9 207.2 405.7 203C402.5 198.8 397 196.8 393 193C389 189.2 384.4 185 381.6 180C378.8 175 376.8 168 376 163C375.2 158 375.8 154.6 377 150C378.2 145.4 379.8 139.6 383.5 135.6C387.2 131.6 393.2 129.2 398.9 126C404.7 122.7 411.8 119.8 418.2 116.3C424.7 112.8 431.1 108.9 437.5 104.7C444 100.5 451 95.1 456.8 91.2C462.6 87.4 467.4 84.1 472.3 81.6C477.1 79 481.9 76.6 485.8 75.8Z" fill="url(#rdg)" fill-opacity="0.66"/>
<defs><clipPath id="clipRed"><path d="M485.8 75.8C489.6 75 492.2 75.9 495.4 76.8C498.6 77.6 502.2 79.2 505.1 80.6C508 82.1 510.5 83 512.8 85.4C515 87.8 517 91.2 518.6 95.1C520.2 98.9 521.1 103.1 522.4 108.6C523.7 114.1 525 123.7 526.3 127.9C527.6 132.1 527.2 130.5 530.1 133.7C533 136.9 539.1 142.7 543.6 147.2C548.1 151.7 552.6 156.2 557.2 160.7C561.7 165.2 567.1 170 570.7 174.2C574.2 178.4 576.1 181.9 578.4 185.8C580.6 189.6 583.4 193.2 584.2 197.3C585 201.5 583.2 206.3 583.2 210.8C583.2 215.3 583.7 218.9 584.2 224.4C584.6 229.8 585.4 237.2 586.1 243.6C586.7 250.1 587.5 256.8 588 262.9C588.5 269 590.6 276.6 589 280.3C587.4 284 585.9 284 578.4 285.1C570.8 286.3 555.9 287 543.6 287.1C531.4 287.2 517.9 286.3 505.1 285.7C492.2 285.2 477.3 284.2 466.5 283.8C455.6 283.3 445.6 284.1 440 283C434.4 281.9 434.9 279.8 433 277C431.1 274.2 430.1 270.3 428.4 266C426.7 261.7 424.8 256.1 423 251C421.2 245.9 419.6 241.2 417.8 235.7C416 230.2 414 223.4 412 218C410 212.6 408.9 207.2 405.7 203C402.5 198.8 397 196.8 393 193C389 189.2 384.4 185 381.6 180C378.8 175 376.8 168 376 163C375.2 158 375.8 154.6 377 150C378.2 145.4 379.8 139.6 383.5 135.6C387.2 131.6 393.2 129.2 398.9 126C404.7 122.7 411.8 119.8 418.2 116.3C424.7 112.8 431.1 108.9 437.5 104.7C444 100.5 451 95.1 456.8 91.2C462.6 87.4 467.4 84.1 472.3 81.6C477.1 79 481.9 76.6 485.8 75.8Z"/></clipPath><filter id="blr" x="-20%" y="-20%" width="140%" height="140%"><feGaussianBlur stdDeviation="5"/></filter></defs>
<g clip-path="url(#clipRed)"><path d="M488.2 73.8C493.1 72.2 509.3 77.5 515.6 83.2C521.9 88.9 523.7 99.9 525.9 107.7C528.1 115.6 525.6 124.1 528.8 130.4C531.9 136.7 538.7 139.2 544.8 145.5C550.9 151.8 558.6 160.3 565.6 168.1C572.5 176 582.9 186.4 586.3 192.6C589.8 198.9 591.4 205.8 586.3 205.8C581.3 205.8 565.6 198.9 556.1 192.6C546.7 186.4 537.3 176 529.7 168.1C522.2 160.3 516.5 153.6 510.8 145.5C505.2 137.3 499.8 127.9 495.8 119.1C491.7 110.3 487.6 100.2 486.3 92.6C485.1 85.1 483.3 75.3 488.2 73.8Z" fill="#ff3030" fill-opacity="0.5" filter="url(#blr)"/></g>
<g clip-path="url(#clipRed)" opacity="0.45"><use href="#bl"/></g>
</g>
<rect x="161" y="52.3" width="551" height="552.6" fill="none" stroke="#7f7f7f" stroke-width="1.3"/>
<path d="M283.5 604.9v-5.5M283.5 52.3v5.5M405.5 604.9v-5.5M405.5 52.3v5.5M527.5 604.9v-5.5M527.5 52.3v5.5M649.6 604.9v-5.5M649.6 52.3v5.5M161 544h5.5M712 544h-5.5M161 482.6h5.5M712 482.6h-5.5M161 421.1h5.5M712 421.1h-5.5M161 359.6h5.5M712 359.6h-5.5M161 298.2h5.5M712 298.2h-5.5M161 236.7h5.5M712 236.7h-5.5M161 175.2h5.5M712 175.2h-5.5M161 113.8h5.5M712 113.8h-5.5" stroke="#7f7f7f" stroke-width="1.3" fill="none"/>
<text x="161.4" y="629.8" font-size="22.5" text-anchor="middle" fill="#262626" font-family='"Liberation Sans", Arial, Helvetica, sans-serif' font-weight="normal" >-200</text>
<text x="283.5" y="629.8" font-size="22.5" text-anchor="middle" fill="#262626" font-family='"Liberation Sans", Arial, Helvetica, sans-serif' font-weight="normal" >-100</text>
<text x="405.5" y="629.8" font-size="22.5" text-anchor="middle" fill="#262626" font-family='"Liberation Sans", Arial, Helvetica, sans-serif' font-weight="normal" >0</text>
<text x="527.5" y="629.8" font-size="22.5" text-anchor="middle" fill="#262626" font-family='"Liberation Sans", Arial, Helvetica, sans-serif' font-weight="normal" >100</text>
<text x="649.6" y="629.8" font-size="22.5" text-anchor="middle" fill="#262626" font-family='"Liberation Sans", Arial, Helvetica, sans-serif' font-weight="normal" >200</text>
<text x="152" y="612.5" font-size="22.5" text-anchor="end" fill="#262626" font-family='"Liberation Sans", Arial, Helvetica, sans-serif' font-weight="normal" >-150</text>
<text x="152" y="551" font-size="22.5" text-anchor="end" fill="#262626" font-family='"Liberation Sans", Arial, Helvetica, sans-serif' font-weight="normal" >-100</text>
<text x="152" y="489.6" font-size="22.5" text-anchor="end" fill="#262626" font-family='"Liberation Sans", Arial, Helvetica, sans-serif' font-weight="normal" >-50</text>
<text x="152" y="428.1" font-size="22.5" text-anchor="end" fill="#262626" font-family='"Liberation Sans", Arial, Helvetica, sans-serif' font-weight="normal" >0</text>
<text x="152" y="366.6" font-size="22.5" text-anchor="end" fill="#262626" font-family='"Liberation Sans", Arial, Helvetica, sans-serif' font-weight="normal" >50</text>
<text x="152" y="305.2" font-size="22.5" text-anchor="end" fill="#262626" font-family='"Liberation Sans", Arial, Helvetica, sans-serif' font-weight="normal" >100</text>
<text x="152" y="243.7" font-size="22.5" text-anchor="end" fill="#262626" font-family='"Liberation Sans", Arial, Helvetica, sans-serif' font-weight="normal" >150</text>
<text x="152" y="182.2" font-size="22.5" text-anchor="end" fill="#262626" font-family='"Liberation Sans", Arial, Helvetica, sans-serif' font-weight="normal" >200</text>
<text x="152" y="120.8" font-size="22.5" text-anchor="end" fill="#262626" font-family='"Liberation Sans", Arial, Helvetica, sans-serif' font-weight="normal" >250</text>
<text x="152" y="59.3" font-size="22.5" text-anchor="end" fill="#262626" font-family='"Liberation Sans", Arial, Helvetica, sans-serif' font-weight="normal" >300</text>
<text x="435.8" y="656.2" font-size="26" text-anchor="middle" fill="#262626" font-family='"Liberation Sans", Arial, Helvetica, sans-serif' font-weight="normal" >East[m]</text>
<text transform="translate(96.5,327) rotate(-90)" font-size="26.3" text-anchor="middle" fill="#262626" font-family='"Liberation Sans", Arial, Helvetica, sans-serif'>North [m]</text>
<path d="M246.8 672.6V1117.7M321 672.6V1117.7M395.1 672.6V1117.7M469.3 672.6V1117.7M543.5 672.6V1117.7M617.7 672.6V1117.7M172.6 1043.5H617.7M172.6 969.3H617.7M172.6 895.1H617.7M172.6 821H617.7M172.6 746.8H617.7M172.6 672.6H617.7" stroke="#e3e3e3" stroke-width="1" fill="none"/>
<clipPath id="clipC"><rect x="172.6" y="672.6" width="445.1" height="445.1"/></clipPath>
<g clip-path="url(#clipC)">
<path d="M494.1 915.8C493.9 918.5 493.8 921.1 493.7 923.7C493.6 926.3 493.5 929 493.4 931.6C493.4 934.3 493.1 936.9 493.2 939.7C493.3 942.4 493.7 945.3 493.9 948.2C494 951.1 494.6 954.2 494.2 957C493.8 959.8 492.7 962.5 491.7 965.1C490.6 967.7 489.5 970.3 487.9 972.7C486.4 975 484.8 977.5 482.2 979.1C479.7 980.7 475.8 981.4 472.7 982.4C469.6 983.5 466.6 984.3 463.6 985.2C460.7 986 457.9 986.7 455.1 987.4C452.4 988.1 449.8 988.8 447.2 989.4C444.7 990 442.3 990.7 439.9 991.2C437.5 991.8 435.3 992.4 433 993C430.8 993.5 428.6 994.1 426.5 994.6C424.3 995.1 422.2 995.7 420.2 996.2C418.1 996.7 416.1 997.2 414.1 997.7C412 998.2 410.1 998.7 408.1 999.2C406.1 999.7 404.1 1000.1 402.1 1000.7C400.2 1001.2 398.2 1001.7 396.2 1002.4C394.3 1003.2 392.4 1004.1 390.4 1005C388.3 1005.9 386.3 1006.6 384.2 1007.7C382.1 1008.9 379.9 1010.2 377.6 1011.9C375.3 1013.6 372.9 1016 370.2 1018.1C367.6 1020.2 364.8 1022.4 361.8 1024.6C358.8 1026.7 355.6 1029 352.3 1030.8C349 1032.6 345.5 1034.5 342.1 1035.5C338.7 1036.4 335.4 1036.7 332.2 1036.6C329 1036.5 325.8 1035.9 322.8 1035.1C319.7 1034.4 316.4 1033.9 313.8 1032.1C311.3 1030.4 309.6 1027.2 307.6 1024.6C305.6 1022.1 303.6 1019.6 301.9 1017C300.2 1014.3 298.8 1011.4 297.3 1008.7C295.8 1006 294.3 1003.4 293 1000.8C291.6 998.2 290.3 995.5 289 993C287.7 990.4 286.5 987.9 285.2 985.4C284 982.9 282.7 980.4 281.4 978C280 975.7 278.5 973.4 277.1 971C275.7 968.7 274.3 966.3 272.8 964C271.4 961.6 270.1 959.2 268.4 956.8C266.8 954.4 264.9 952.1 263.1 949.6C261.2 947.2 259.2 944.7 257.2 942.1C255.3 939.5 253.3 936.8 251.4 934C249.6 931.2 248 928.3 246.1 925.2C244.3 922.2 241.8 919 240.5 915.8C239.2 912.6 238.9 909.2 238.3 905.8C237.6 902.5 236.5 898.9 236.6 895.5C236.8 892.2 237.8 888.8 239.1 885.7C240.5 882.5 242.4 879.5 244.8 876.8C247.2 874 250.2 871.5 253.5 869.4C256.8 867.3 260.6 865.4 264.4 863.9C268.2 862.4 272.6 861.3 276.4 860.2C280.2 859.1 283.8 858.2 287.2 857.2C290.6 856.3 293.7 855.4 296.8 854.6C299.8 853.8 302.6 853 305.3 852.3C308 851.6 310.5 850.9 313 850.2C315.5 849.5 317.9 848.9 320.1 848.2C322.4 847.5 324.4 846.8 326.4 846C328.5 845.2 330.4 844.4 332.3 843.6C334.2 842.9 336.1 842.1 338 841.4C339.9 840.6 341.8 840 343.6 839.1C345.4 838.2 347 837.2 348.8 836.2C350.6 835.2 352.3 834.2 354.1 833.2C355.9 832.2 357.8 831.2 359.6 830.2C361.5 829.2 363.4 828.2 365.3 827.2C367.3 826.2 369.3 825.2 371.3 824.2C373.4 823.1 375.5 822.1 377.7 821C379.8 820 382.1 818.9 384.4 817.9C386.7 816.8 389.1 815.8 391.6 814.7C394.1 813.7 396.7 812.5 399.4 811.6C402 810.7 404.7 810.1 407.5 809.4C410.3 808.6 413.3 807.8 416.3 807C419.4 806.2 422.5 805.5 425.9 804.7C429.2 803.9 432.6 803.2 436.3 802.3C440.1 801.4 443.9 800.5 448.2 799.4C452.4 798.4 456.2 798.1 461.8 796C467.4 793.8 475.2 789.1 481.9 786.6C488.7 784.1 498.7 779.2 502.4 781C506 782.8 503.5 792 503.6 797.4C503.8 802.7 503.4 808.2 503.2 813.2C503.1 818.2 502.9 822.9 502.7 827.3C502.6 831.8 502.5 835.9 502.6 839.8C502.7 843.7 502.7 847.4 503.5 850.7C504.2 854 506.9 856.3 507.1 859.7C507.2 863 506 867.1 504.3 870.9C502.7 874.7 498.7 879 497.3 882.4C496 885.8 496.6 888.4 496.2 891.3C495.9 894.2 495.5 897 495.2 899.8C494.9 902.5 494.8 905.2 494.6 907.9C494.4 910.5 494.2 913.2 494.1 915.8Z" fill="#a00000"/>
<path d="M492.2 915.8C492.1 918.4 491.9 921 491.8 923.6C491.6 926.1 491.6 928.7 491.5 931.3C491.4 934 491.1 936.5 491.2 939.2C491.2 941.9 491.6 944.7 491.8 947.6C491.9 950.4 492.4 953.5 492 956.2C491.6 959 490.5 961.6 489.5 964.1C488.5 966.7 487.4 969.3 485.9 971.6C484.4 973.9 482.9 976.3 480.4 977.9C478 979.6 474.2 980.3 471.2 981.4C468.3 982.4 465.4 983.4 462.5 984.2C459.7 985.1 457 985.9 454.3 986.6C451.6 987.4 449.1 988 446.6 988.7C444.1 989.4 441.7 990 439.4 990.6C437.1 991.2 434.8 991.8 432.6 992.3C430.4 992.9 428.2 993.4 426.1 994C424 994.5 421.9 995 419.9 995.6C417.8 996.1 415.8 996.6 413.8 997.1C411.8 997.6 409.8 998.1 407.9 998.6C405.9 999.1 403.9 999.5 402 1000.1C400 1000.6 398.1 1001.1 396.1 1001.8C394.2 1002.5 392.3 1003.5 390.3 1004.3C388.3 1005.2 386.3 1005.9 384.2 1007C382.1 1008.1 380 1009.4 377.6 1011.1C375.3 1012.8 372.9 1015 370.3 1017.1C367.7 1019.1 365 1021.3 362 1023.3C359.1 1025.4 355.9 1027.6 352.7 1029.4C349.4 1031.2 345.9 1033 342.6 1034C339.3 1034.9 335.9 1035.2 332.8 1035.1C329.6 1035.1 326.5 1034.3 323.5 1033.6C320.5 1032.8 317.2 1032.3 314.7 1030.5C312.2 1028.8 310.5 1025.6 308.6 1023.2C306.6 1020.7 304.7 1018.2 303 1015.6C301.3 1013 299.9 1010.1 298.5 1007.4C297 1004.8 295.5 1002.3 294.1 999.7C292.8 997.1 291.5 994.5 290.3 991.9C289 989.4 287.8 986.9 286.5 984.4C285.3 982 284.1 979.5 282.8 977.2C281.4 974.8 280 972.6 278.6 970.3C277.2 967.9 275.8 965.6 274.3 963.3C272.9 960.9 271.6 958.6 270 956.2C268.4 953.8 266.6 951.6 264.7 949.1C262.9 946.7 260.9 944.3 259 941.7C257.1 939.2 255.1 936.5 253.3 933.8C251.5 931 250 928.1 248.2 925.1C246.5 922.1 244.1 919 242.9 915.8C241.7 912.6 241.4 909.3 240.8 906C240.2 902.7 239.2 899.2 239.4 895.9C239.6 892.6 240.5 889.3 241.9 886.2C243.2 883.2 245.1 880.2 247.4 877.5C249.8 874.9 252.7 872.4 255.9 870.3C259.1 868.2 262.8 866.4 266.5 864.9C270.2 863.3 274.5 862.3 278.1 861.1C281.8 860 285.4 859.1 288.7 858.1C292 857.2 295 856.3 298 855.5C300.9 854.7 303.7 853.9 306.3 853.2C309 852.4 311.4 851.7 313.9 851C316.3 850.3 318.6 849.7 320.8 849C323 848.3 325 847.5 327 846.8C329 846 330.9 845.2 332.8 844.4C334.7 843.7 336.6 842.9 338.4 842.1C340.3 841.4 342.2 840.7 343.9 839.9C345.7 839 347.4 838 349.1 837C350.9 836 352.6 835 354.4 834C356.2 833 358 832 359.8 831C361.7 830 363.6 829 365.5 828C367.4 827 369.4 826 371.4 825C373.5 824 375.5 822.9 377.7 821.8C379.8 820.8 382.1 819.7 384.4 818.6C386.7 817.6 389 816.5 391.5 815.5C394 814.4 396.6 813.2 399.2 812.4C401.9 811.5 404.5 810.9 407.3 810.1C410.1 809.3 413.1 808.5 416.1 807.7C419.1 807 422.2 806.3 425.5 805.5C428.9 804.7 432.3 804 435.9 803.1C439.6 802.3 443.4 801.4 447.6 800.3C451.8 799.3 455.6 799.1 461.1 797C466.6 795 474.1 790.5 480.7 788.2C487.3 785.8 497 781.2 500.6 782.9C504.2 784.7 502.1 793.4 502.3 798.7C502.5 803.9 502.1 809.3 502 814.2C501.9 819.2 501.7 823.8 501.6 828.2C501.5 832.5 501.3 836.7 501.4 840.6C501.5 844.4 501.5 848.1 502.2 851.4C502.8 854.7 505.4 857 505.5 860.4C505.6 863.7 504.4 867.7 502.8 871.5C501.2 875.2 497.3 879.5 495.9 882.9C494.6 886.2 495.1 888.8 494.7 891.6C494.3 894.5 493.8 897.3 493.5 900C493.2 902.7 493.1 905.4 492.9 908C492.6 910.6 492.4 913.2 492.2 915.8Z" fill="#c40000"/>
<path d="M490.4 915.8C490.2 918.4 490 920.9 489.9 923.4C489.7 926 489.6 928.5 489.5 931.1C489.4 933.6 489.1 936.2 489.1 938.8C489.2 941.5 489.5 944.2 489.6 947C489.8 949.7 490.2 952.7 489.8 955.4C489.4 958.1 488.4 960.7 487.4 963.2C486.4 965.7 485.3 968.3 483.9 970.5C482.4 972.8 480.9 975.2 478.6 976.8C476.2 978.4 472.7 979.3 469.8 980.3C466.9 981.4 464.1 982.4 461.4 983.3C458.7 984.2 456 985 453.5 985.8C450.9 986.6 448.4 987.3 445.9 988C443.5 988.7 441.2 989.3 438.9 989.9C436.6 990.5 434.3 991.1 432.1 991.7C430 992.2 427.8 992.8 425.7 993.3C423.6 993.9 421.6 994.4 419.6 994.9C417.5 995.5 415.5 996 413.6 996.5C411.6 997 409.6 997.5 407.7 998C405.7 998.5 403.8 998.9 401.8 999.4C399.9 1000 398 1000.5 396 1001.2C394.1 1001.9 392.2 1002.8 390.2 1003.7C388.2 1004.5 386.2 1005.2 384.1 1006.3C382 1007.4 380 1008.6 377.7 1010.3C375.4 1011.9 373 1014.1 370.4 1016C367.9 1018 365.1 1020.1 362.2 1022.1C359.3 1024.1 356.2 1026.3 353 1028C349.8 1029.7 346.3 1031.5 343.1 1032.5C339.8 1033.4 336.5 1033.7 333.4 1033.7C330.2 1033.6 327.2 1032.8 324.3 1032C321.3 1031.2 318.1 1030.7 315.7 1028.9C313.2 1027.2 311.5 1024.1 309.6 1021.7C307.6 1019.2 305.7 1016.8 304.1 1014.2C302.4 1011.6 301.1 1008.8 299.6 1006.2C298.2 1003.6 296.7 1001.1 295.3 998.5C294 996 292.8 993.4 291.5 990.9C290.3 988.3 289.1 985.9 287.9 983.5C286.6 981 285.5 978.6 284.2 976.3C282.9 974 281.4 971.8 280 969.5C278.7 967.2 277.3 964.9 275.9 962.6C274.5 960.3 273.2 957.9 271.6 955.6C270.1 953.3 268.2 951 266.4 948.7C264.6 946.3 262.6 943.9 260.7 941.4C258.9 938.8 256.9 936.2 255.2 933.5C253.5 930.8 252 927.9 250.3 924.9C248.7 922 246.5 918.9 245.3 915.8C244.1 912.7 243.9 909.4 243.4 906.2C242.8 902.9 241.9 899.5 242.1 896.3C242.3 893.1 243.3 889.8 244.6 886.8C245.9 883.8 247.8 880.9 250.1 878.3C252.4 875.7 255.3 873.3 258.4 871.2C261.5 869.1 265.1 867.3 268.7 865.8C272.3 864.3 276.3 863.2 279.9 862.1C283.5 861 286.9 860 290.2 859.1C293.4 858.1 296.3 857.2 299.2 856.4C302.1 855.6 304.7 854.8 307.3 854C309.9 853.3 312.4 852.5 314.7 851.8C317.1 851.1 319.4 850.5 321.6 849.8C323.7 849.1 325.7 848.3 327.6 847.5C329.6 846.8 331.5 846 333.3 845.2C335.2 844.4 337.1 843.7 338.9 842.9C340.7 842.2 342.6 841.5 344.3 840.6C346.1 839.8 347.7 838.8 349.5 837.8C351.2 836.8 352.9 835.8 354.7 834.8C356.4 833.9 358.2 832.8 360 831.8C361.9 830.8 363.7 829.8 365.6 828.8C367.6 827.8 369.5 826.8 371.5 825.8C373.5 824.8 375.6 823.7 377.7 822.6C379.9 821.6 382.1 820.5 384.3 819.4C386.6 818.4 389 817.3 391.4 816.2C393.9 815.2 396.5 814 399.1 813.1C401.7 812.2 404.4 811.6 407.1 810.8C409.9 810.1 412.8 809.2 415.8 808.5C418.9 807.7 421.9 807 425.2 806.3C428.5 805.5 431.9 804.8 435.5 803.9C439.2 803.1 443 802.2 447.1 801.3C451.2 800.3 455 800 460.4 798.1C465.8 796.2 473.1 791.9 479.5 789.7C485.9 787.5 495.3 783.1 498.9 784.8C502.5 786.5 500.6 794.9 500.9 800C501.3 805 500.9 810.4 500.8 815.3C500.7 820.1 500.6 824.6 500.5 829C500.4 833.3 500.2 837.4 500.2 841.3C500.3 845.1 500.2 848.8 500.9 852.1C501.5 855.4 503.9 857.7 503.9 861.1C504 864.4 502.8 868.4 501.2 872.1C499.6 875.8 495.8 879.9 494.5 883.3C493.2 886.6 493.6 889.1 493.1 892C492.7 894.8 492.2 897.5 491.9 900.2C491.5 902.9 491.3 905.5 491.1 908.1C490.8 910.7 490.6 913.3 490.4 915.8Z" fill="#e30500"/>
<path d="M488.6 915.8C488.3 918.3 488.1 920.8 487.9 923.3C487.8 925.8 487.6 928.3 487.5 930.8C487.4 933.3 487.1 935.8 487.1 938.4C487.1 941 487.4 943.7 487.5 946.4C487.6 949.1 488 952 487.6 954.6C487.3 957.3 486.2 959.8 485.3 962.2C484.3 964.7 483.3 967.2 481.9 969.5C480.4 971.7 479 974 476.8 975.7C474.5 977.3 471.1 978.2 468.4 979.3C465.6 980.4 462.9 981.4 460.3 982.4C457.7 983.3 455.1 984.2 452.6 985C450.1 985.8 447.7 986.5 445.3 987.3C442.9 988 440.6 988.6 438.4 989.3C436.1 989.9 433.9 990.5 431.7 991C429.5 991.6 427.4 992.2 425.4 992.7C423.3 993.3 421.3 993.8 419.3 994.3C417.3 994.8 415.3 995.3 413.3 995.8C411.3 996.3 409.4 996.8 407.5 997.3C405.5 997.8 403.6 998.3 401.7 998.8C399.7 999.4 397.8 999.8 395.9 1000.5C394 1001.2 392.1 1002.2 390.1 1003C388.2 1003.8 386.2 1004.5 384.1 1005.6C382 1006.6 380 1007.9 377.7 1009.4C375.4 1011 373.1 1013.1 370.5 1015C368 1016.9 365.3 1019 362.4 1020.9C359.6 1022.8 356.5 1024.9 353.4 1026.6C350.2 1028.3 346.8 1030 343.6 1031C340.3 1031.9 337 1032.3 334 1032.2C330.9 1032.1 327.9 1031.3 325 1030.5C322.2 1029.7 319 1029.1 316.6 1027.4C314.2 1025.6 312.5 1022.6 310.6 1020.2C308.7 1017.8 306.8 1015.4 305.2 1012.8C303.5 1010.3 302.2 1007.5 300.7 1004.9C299.3 1002.3 297.9 999.9 296.5 997.4C295.2 994.8 294 992.3 292.8 989.8C291.6 987.3 290.4 984.9 289.2 982.5C288 980.1 286.8 977.7 285.5 975.4C284.3 973.1 282.9 971 281.5 968.7C280.2 966.4 278.8 964.2 277.4 961.9C276 959.6 274.8 957.3 273.2 955C271.7 952.7 269.9 950.5 268.1 948.2C266.3 945.8 264.3 943.5 262.5 941C260.7 938.5 258.8 935.9 257.1 933.2C255.4 930.5 254 927.7 252.4 924.8C250.8 921.9 248.8 918.9 247.7 915.8C246.6 912.7 246.4 909.6 245.9 906.4C245.5 903.2 244.6 899.8 244.9 896.7C245.1 893.5 246 890.3 247.3 887.4C248.7 884.5 250.5 881.6 252.8 879.1C255 876.5 257.8 874.1 260.8 872.1C263.9 870 267.3 868.3 270.8 866.8C274.3 865.3 278.2 864.2 281.7 863C285.2 861.9 288.5 860.9 291.6 860C294.8 859 297.6 858.1 300.4 857.3C303.2 856.4 305.8 855.6 308.4 854.9C310.9 854.1 313.3 853.4 315.6 852.7C317.9 851.9 320.1 851.3 322.3 850.6C324.4 849.9 326.3 849.1 328.2 848.3C330.2 847.5 332 846.7 333.9 846C335.7 845.2 337.5 844.4 339.3 843.7C341.1 842.9 342.9 842.3 344.7 841.4C346.4 840.6 348.1 839.5 349.8 838.6C351.5 837.6 353.2 836.7 354.9 835.7C356.7 834.7 358.4 833.6 360.2 832.6C362 831.6 363.9 830.7 365.8 829.6C367.7 828.6 369.6 827.7 371.6 826.6C373.6 825.6 375.6 824.5 377.7 823.4C379.9 822.4 382 821.3 384.3 820.2C386.6 819.2 388.9 818 391.4 817C393.8 815.9 396.3 814.8 398.9 813.9C401.5 813 404.2 812.3 407 811.6C409.7 810.8 412.6 810 415.6 809.2C418.6 808.5 421.7 807.8 424.9 807.1C428.2 806.3 431.5 805.6 435.1 804.8C438.7 804 442.5 803.1 446.6 802.2C450.7 801.3 454.4 801 459.6 799.2C464.9 797.4 472 793.4 478.3 791.3C484.5 789.2 493.6 785.1 497.2 786.7C500.7 788.4 499.2 796.3 499.6 801.3C500 806.2 499.6 811.5 499.6 816.3C499.6 821 499.5 825.5 499.4 829.8C499.3 834.1 499 838.2 499.1 842C499.1 845.9 499 849.5 499.6 852.8C500.1 856.1 502.4 858.4 502.4 861.8C502.4 865.1 501.1 869 499.6 872.6C498.1 876.3 494.4 880.4 493.1 883.7C491.8 886.9 492.1 889.5 491.6 892.3C491.1 895.1 490.6 897.8 490.2 900.5C489.8 903.1 489.6 905.7 489.3 908.2C489 910.8 488.8 913.3 488.6 915.8Z" fill="#f81400"/>
<path d="M486.7 915.8C486.5 918.3 486.2 920.7 486 923.2C485.8 925.6 485.7 928 485.5 930.5C485.4 933 485.1 935.4 485.1 937.9C485.1 940.5 485.4 943.1 485.4 945.8C485.5 948.4 485.8 951.2 485.4 953.8C485.1 956.4 484.1 958.9 483.1 961.3C482.2 963.7 481.2 966.2 479.8 968.4C478.5 970.6 477.1 972.9 475 974.5C472.8 976.2 469.5 977.1 466.9 978.2C464.3 979.4 461.7 980.5 459.2 981.5C456.7 982.5 454.2 983.3 451.8 984.2C449.4 985 447 985.8 444.7 986.5C442.3 987.3 440.1 988 437.9 988.6C435.6 989.3 433.4 989.8 431.3 990.4C429.1 991 427.1 991.5 425 992.1C423 992.6 421 993.2 419 993.7C417 994.2 415 994.7 413.1 995.2C411.1 995.7 409.2 996.2 407.3 996.7C405.3 997.2 403.4 997.7 401.5 998.2C399.6 998.7 397.7 999.2 395.8 999.9C393.9 1000.6 392 1001.5 390.1 1002.3C388.1 1003.1 386.1 1003.8 384.1 1004.9C382 1005.9 380 1007.1 377.7 1008.6C375.5 1010.1 373.2 1012.1 370.7 1014C368.1 1015.8 365.5 1017.8 362.7 1019.7C359.8 1021.5 356.8 1023.6 353.7 1025.2C350.6 1026.8 347.2 1028.5 344.1 1029.4C340.9 1030.4 337.6 1030.8 334.6 1030.7C331.5 1030.6 328.6 1029.8 325.8 1028.9C323 1028.1 319.9 1027.5 317.5 1025.8C315.1 1024.1 313.4 1021.1 311.6 1018.7C309.7 1016.3 307.9 1014 306.2 1011.5C304.6 1009 303.3 1006.2 301.9 1003.6C300.5 1001.1 299 998.7 297.7 996.2C296.4 993.7 295.3 991.2 294.1 988.7C292.9 986.3 291.7 983.9 290.5 981.5C289.3 979.2 288.2 976.8 286.9 974.6C285.7 972.3 284.3 970.1 283 967.9C281.6 965.7 280.3 963.5 278.9 961.2C277.6 959 276.4 956.7 274.8 954.4C273.3 952.2 271.6 950 269.8 947.7C268 945.4 266.1 943.1 264.3 940.6C262.5 938.2 260.6 935.6 259 933C257.4 930.3 256 927.5 254.5 924.7C253 921.8 251.1 918.8 250.1 915.8C249.1 912.8 248.9 909.7 248.5 906.5C248.1 903.4 247.4 900.2 247.6 897.1C247.9 894 248.8 890.9 250.1 888C251.4 885.1 253.2 882.3 255.4 879.8C257.6 877.3 260.4 875 263.3 873C266.2 871 269.6 869.2 273 867.7C276.3 866.2 280.1 865.1 283.5 864C286.9 862.9 290.1 861.9 293.1 860.9C296.1 859.9 298.9 859 301.7 858.2C304.4 857.3 306.9 856.5 309.4 855.7C311.8 855 314.2 854.2 316.4 853.5C318.7 852.8 320.9 852.1 323 851.4C325 850.7 326.9 849.9 328.8 849.1C330.7 848.3 332.6 847.5 334.4 846.7C336.2 846 338 845.2 339.8 844.5C341.6 843.7 343.3 843 345.1 842.2C346.8 841.3 348.4 840.3 350.1 839.4C351.8 838.4 353.5 837.5 355.2 836.5C356.9 835.5 358.7 834.5 360.4 833.5C362.2 832.5 364.1 831.5 365.9 830.5C367.8 829.5 369.7 828.5 371.7 827.4C373.7 826.4 375.7 825.3 377.8 824.3C379.9 823.2 382 822.1 384.3 821C386.5 819.9 388.9 818.8 391.3 817.7C393.7 816.7 396.2 815.6 398.8 814.7C401.4 813.8 404 813.1 406.8 812.3C409.5 811.5 412.4 810.7 415.4 810C418.3 809.2 421.4 808.6 424.6 807.8C427.8 807.1 431.2 806.4 434.7 805.6C438.3 804.8 442 804 446 803.1C450.1 802.2 453.8 802 458.9 800.2C464.1 798.5 470.9 794.8 477 792.9C483.1 790.9 491.9 787.1 495.5 788.7C499 790.3 497.8 797.8 498.3 802.6C498.7 807.3 498.4 812.6 498.4 817.3C498.4 822 498.3 826.4 498.2 830.6C498.1 834.9 497.9 839 497.9 842.8C497.9 846.6 497.8 850.2 498.2 853.5C498.7 856.7 500.8 859.2 500.8 862.5C500.8 865.8 499.5 869.6 498 873.2C496.5 876.8 493 880.8 491.7 884.1C490.4 887.3 490.6 889.9 490.1 892.6C489.5 895.4 488.9 898.1 488.5 900.7C488.1 903.3 487.8 905.8 487.5 908.4C487.2 910.9 487 913.3 486.7 915.8Z" fill="#ff2c00"/>
<path d="M484.9 915.8C484.6 918.2 484.3 920.6 484.1 923C483.9 925.4 483.7 927.8 483.5 930.2C483.4 932.6 483.1 935 483.1 937.5C483 940 483.3 942.6 483.3 945.2C483.3 947.7 483.6 950.5 483.3 953C482.9 955.6 481.9 958 481 960.3C480.1 962.7 479.1 965.1 477.8 967.3C476.5 969.5 475.2 971.8 473.1 973.4C471.1 975 468 976 465.5 977.2C463 978.4 460.5 979.5 458.1 980.5C455.7 981.6 453.3 982.5 450.9 983.4C448.6 984.3 446.3 985 444 985.8C441.7 986.6 439.5 987.3 437.3 988C435.1 988.6 433 989.2 430.8 989.7C428.7 990.3 426.7 990.9 424.6 991.4C422.6 992 420.6 992.5 418.7 993.1C416.7 993.6 414.7 994.1 412.8 994.6C410.9 995.1 409 995.6 407.1 996.1C405.2 996.6 403.3 997 401.4 997.6C399.5 998.1 397.6 998.6 395.7 999.3C393.8 999.9 391.9 1000.8 390 1001.6C388.1 1002.5 386.1 1003.1 384.1 1004.1C382 1005.2 380 1006.3 377.8 1007.8C375.5 1009.3 373.2 1011.2 370.8 1013C368.3 1014.7 365.7 1016.6 362.9 1018.4C360.1 1020.2 357.1 1022.2 354.1 1023.8C351 1025.4 347.7 1027 344.5 1027.9C341.4 1028.8 338.1 1029.3 335.2 1029.2C332.2 1029.1 329.3 1028.2 326.6 1027.4C323.8 1026.5 320.7 1025.9 318.4 1024.2C316.1 1022.5 314.4 1019.6 312.6 1017.2C310.7 1014.9 308.9 1012.6 307.3 1010.1C305.7 1007.6 304.4 1004.9 303 1002.4C301.6 999.9 300.2 997.5 298.9 995C297.6 992.6 296.5 990.1 295.3 987.7C294.1 985.3 293 982.9 291.8 980.6C290.7 978.2 289.6 975.9 288.3 973.7C287.1 971.5 285.8 969.3 284.4 967.1C283.1 964.9 281.8 962.8 280.5 960.6C279.1 958.3 277.9 956.1 276.4 953.9C274.9 951.6 273.2 949.5 271.5 947.2C269.7 944.9 267.8 942.7 266 940.2C264.3 937.8 262.5 935.3 260.9 932.7C259.3 930.1 258 927.3 256.6 924.5C255.2 921.7 253.4 918.8 252.5 915.8C251.6 912.8 251.4 909.8 251 906.7C250.7 903.7 250.1 900.5 250.4 897.5C250.7 894.4 251.5 891.4 252.8 888.6C254.1 885.8 256 883 258.1 880.6C260.3 878.1 262.9 875.9 265.8 873.9C268.6 871.9 271.9 870.2 275.1 868.7C278.4 867.2 282 866.1 285.3 864.9C288.5 863.8 291.7 862.8 294.6 861.8C297.5 860.9 300.2 859.9 302.9 859.1C305.5 858.2 308 857.4 310.4 856.6C312.8 855.8 315.1 855 317.3 854.3C319.5 853.6 321.6 852.9 323.7 852.2C325.7 851.4 327.6 850.6 329.4 849.9C331.3 849.1 333.1 848.3 334.9 847.5C336.7 846.7 338.5 846 340.2 845.2C342 844.5 343.7 843.8 345.4 843C347.1 842.1 348.8 841.1 350.4 840.2C352.1 839.2 353.8 838.3 355.5 837.3C357.2 836.3 358.9 835.3 360.7 834.3C362.4 833.3 364.2 832.3 366.1 831.3C367.9 830.3 369.8 829.3 371.8 828.3C373.7 827.2 375.7 826.1 377.8 825.1C379.9 824 382 822.9 384.3 821.8C386.5 820.7 388.8 819.6 391.2 818.5C393.6 817.4 396.1 816.4 398.7 815.4C401.2 814.5 403.9 813.8 406.6 813C409.3 812.2 412.2 811.4 415.1 810.7C418.1 810 421.1 809.3 424.3 808.6C427.5 807.9 430.8 807.2 434.3 806.4C437.9 805.7 441.5 804.9 445.5 804.1C449.5 803.2 453.1 802.9 458.2 801.3C463.3 799.7 469.9 796.2 475.8 794.4C481.7 792.6 490.2 789 493.7 790.6C497.2 792.2 496.3 799.2 496.9 803.9C497.5 808.5 497.2 813.7 497.2 818.3C497.2 822.9 497.2 827.2 497.1 831.4C497 835.6 496.7 839.7 496.7 843.5C496.7 847.3 496.5 850.9 496.9 854.2C497.4 857.4 499.3 859.9 499.2 863.2C499.1 866.4 497.9 870.2 496.4 873.8C494.9 877.3 491.6 881.3 490.3 884.5C489 887.7 489.1 890.2 488.5 893C487.9 895.7 487.3 898.3 486.9 900.9C486.4 903.5 486.1 906 485.8 908.5C485.4 911 485.2 913.4 484.9 915.8Z" fill="#ff4800"/>
<path d="M483 915.8C482.7 918.2 482.4 920.5 482.2 922.9C482 925.2 481.8 927.6 481.6 929.9C481.4 932.3 481.1 934.6 481 937.1C481 939.5 481.2 942 481.2 944.5C481.2 947.1 481.5 949.8 481.1 952.2C480.7 954.7 479.7 957.1 478.9 959.4C478 961.7 477.1 964.1 475.8 966.2C474.5 968.4 473.3 970.6 471.3 972.3C469.3 973.9 466.4 974.9 464 976.1C461.6 977.4 459.3 978.6 457 979.6C454.7 980.7 452.4 981.7 450.1 982.6C447.8 983.5 445.6 984.3 443.4 985.1C441.1 985.9 439 986.6 436.8 987.3C434.7 988 432.5 988.5 430.4 989.1C428.3 989.7 426.3 990.2 424.3 990.8C422.3 991.4 420.3 991.9 418.4 992.5C416.4 993 414.5 993.5 412.6 994C410.6 994.5 408.7 995 406.9 995.5C405 996 403.1 996.4 401.2 997C399.3 997.5 397.5 998 395.6 998.6C393.7 999.3 391.8 1000.2 389.9 1001C388 1001.8 386.1 1002.4 384 1003.4C382 1004.4 380 1005.5 377.8 1007C375.6 1008.4 373.3 1010.2 370.9 1011.9C368.4 1013.6 365.8 1015.5 363.1 1017.2C360.3 1019 357.4 1020.9 354.4 1022.4C351.4 1023.9 348.1 1025.5 345 1026.4C341.9 1027.3 338.7 1027.9 335.7 1027.8C332.8 1027.7 330.1 1026.7 327.3 1025.8C324.6 1025 321.6 1024.3 319.3 1022.6C317 1020.9 315.4 1018.1 313.6 1015.8C311.7 1013.5 310 1011.1 308.4 1008.7C306.8 1006.3 305.5 1003.6 304.2 1001.1C302.8 998.7 301.4 996.3 300.1 993.9C298.9 991.5 297.7 989 296.6 986.6C295.4 984.2 294.3 981.9 293.2 979.6C292 977.3 290.9 975 289.7 972.8C288.5 970.6 287.2 968.5 285.9 966.4C284.6 964.2 283.3 962.1 282 959.9C280.7 957.7 279.5 955.5 278.1 953.3C276.6 951.1 274.9 949 273.2 946.7C271.5 944.5 269.5 942.3 267.8 939.9C266.1 937.5 264.3 935 262.8 932.4C261.3 929.8 260 927.1 258.7 924.4C257.4 921.6 255.8 918.7 254.9 915.8C254.1 912.9 253.9 909.9 253.6 906.9C253.3 903.9 252.8 900.8 253.1 897.8C253.5 894.9 254.3 891.9 255.6 889.2C256.8 886.4 258.7 883.7 260.8 881.3C262.9 879 265.5 876.7 268.2 874.8C271 872.8 274.1 871.1 277.2 869.6C280.4 868.1 283.9 867 287.1 865.9C290.2 864.7 293.2 863.7 296.1 862.8C298.9 861.8 301.5 860.8 304.1 860C306.7 859.1 309.1 858.3 311.4 857.5C313.8 856.7 316 855.9 318.1 855.1C320.3 854.4 322.4 853.7 324.4 853C326.4 852.2 328.2 851.4 330 850.6C331.9 849.8 333.7 849.1 335.4 848.3C337.2 847.5 338.9 846.8 340.7 846C342.4 845.2 344.1 844.6 345.8 843.7C347.5 842.9 349.1 841.9 350.7 841C352.4 840.1 354 839.1 355.7 838.1C357.4 837.1 359.1 836.1 360.9 835.1C362.6 834.1 364.4 833.1 366.2 832.1C368.1 831.1 369.9 830.1 371.9 829.1C373.8 828 375.8 827 377.8 825.9C379.9 824.8 382 823.7 384.2 822.6C386.4 821.5 388.7 820.3 391.1 819.3C393.5 818.2 396 817.1 398.5 816.2C401.1 815.3 403.7 814.5 406.4 813.7C409.2 812.9 412 812.2 414.9 811.5C417.8 810.7 420.8 810.1 424 809.4C427.1 808.7 430.4 808 433.9 807.2C437.4 806.5 441 805.8 445 805C448.9 804.2 452.5 803.9 457.5 802.4C462.4 800.9 468.8 797.6 474.6 796C480.3 794.3 488.5 791 492 792.5C495.5 794 494.9 800.7 495.6 805.2C496.2 809.6 495.9 814.8 496 819.3C496.1 823.8 496.1 828.1 496 832.3C495.9 836.4 495.6 840.5 495.5 844.2C495.5 848 495.3 851.6 495.6 854.8C496 858.1 497.8 860.6 497.7 863.9C497.5 867.1 496.3 870.9 494.9 874.4C493.4 877.9 490.2 881.7 488.9 884.9C487.6 888 487.6 890.6 487 893.3C486.4 896 485.7 898.6 485.2 901.2C484.7 903.7 484.4 906.2 484 908.6C483.6 911 483.3 913.4 483 915.8Z" fill="#ff6600"/>
<path d="M481.2 915.8C480.9 918.2 480.6 920.4 480.3 922.8C480 925.1 479.8 927.4 479.6 929.7C479.4 932 479.1 934.3 479 936.7C478.9 939 479.1 941.5 479.1 943.9C479 946.4 479.3 949 478.9 951.4C478.5 953.9 477.6 956.2 476.7 958.4C475.9 960.7 475 963 473.8 965.2C472.6 967.3 471.4 969.5 469.5 971.1C467.6 972.8 464.8 973.8 462.6 975.1C460.3 976.4 458.1 977.6 455.9 978.7C453.7 979.8 451.5 980.8 449.3 981.8C447.1 982.7 444.9 983.6 442.7 984.4C440.5 985.2 438.4 986 436.3 986.6C434.2 987.3 432 987.9 430 988.4C427.9 989 425.9 989.6 423.9 990.2C421.9 990.7 420 991.3 418.1 991.8C416.1 992.4 414.2 992.8 412.3 993.3C410.4 993.9 408.5 994.3 406.7 994.8C404.8 995.3 402.9 995.8 401 996.3C399.2 996.9 397.3 997.3 395.5 998C393.6 998.7 391.8 999.5 389.9 1000.3C387.9 1001.1 386 1001.7 384 1002.7C382 1003.7 380 1004.8 377.8 1006.1C375.6 1007.5 373.4 1009.3 371 1010.9C368.6 1012.6 366 1014.3 363.3 1016C360.6 1017.7 357.7 1019.5 354.7 1021C351.8 1022.5 348.6 1024.1 345.5 1024.9C342.5 1025.8 339.3 1026.4 336.3 1026.3C333.4 1026.2 330.8 1025.2 328.1 1024.3C325.4 1023.4 322.5 1022.7 320.2 1021C318 1019.3 316.3 1016.6 314.6 1014.3C312.8 1012 311 1009.7 309.5 1007.3C307.9 1004.9 306.7 1002.3 305.3 999.9C303.9 997.4 302.6 995.1 301.3 992.7C300.1 990.4 299 987.9 297.8 985.6C296.7 983.2 295.6 980.9 294.5 978.7C293.4 976.4 292.3 974.1 291.1 972C289.9 969.8 288.6 967.7 287.4 965.6C286.1 963.4 284.8 961.3 283.6 959.2C282.3 957 281.1 954.8 279.7 952.7C278.2 950.5 276.5 948.4 274.8 946.2C273.2 944 271.2 941.8 269.6 939.5C267.9 937.1 266.2 934.7 264.7 932.2C263.3 929.6 262 926.9 260.8 924.2C259.5 921.5 258.1 918.7 257.3 915.8C256.5 913 256.4 910 256.1 907.1C255.9 904.2 255.5 901.1 255.9 898.2C256.2 895.3 257 892.4 258.3 889.7C259.6 887.1 261.4 884.5 263.5 882.1C265.5 879.8 268 877.6 270.7 875.7C273.3 873.7 276.4 872.1 279.4 870.6C282.4 869.1 285.8 868 288.9 866.8C291.9 865.7 294.8 864.7 297.5 863.7C300.3 862.7 302.8 861.7 305.3 860.9C307.8 860 310.2 859.1 312.5 858.3C314.7 857.5 316.9 856.7 319 856C321.1 855.2 323.1 854.5 325.1 853.7C327 853 328.8 852.2 330.6 851.4C332.5 850.6 334.2 849.8 336 849.1C337.7 848.3 339.4 847.5 341.1 846.8C342.8 846 344.5 845.3 346.2 844.5C347.9 843.7 349.4 842.7 351.1 841.8C352.7 840.9 354.3 839.9 356 838.9C357.7 837.9 359.3 836.9 361.1 835.9C362.8 834.9 364.6 834 366.4 833C368.2 831.9 370 830.9 371.9 829.9C373.9 828.9 375.8 827.8 377.9 826.7C379.9 825.6 382 824.5 384.2 823.4C386.4 822.3 388.7 821.1 391 820C393.4 818.9 395.9 817.9 398.4 817C400.9 816.1 403.5 815.3 406.2 814.5C409 813.7 411.7 812.9 414.6 812.2C417.5 811.5 420.5 810.9 423.6 810.2C426.8 809.5 430.1 808.8 433.5 808.1C437 807.4 440.5 806.7 444.4 805.9C448.3 805.2 451.9 804.9 456.8 803.5C461.6 802.1 467.8 799.1 473.4 797.6C479 796 486.8 792.9 490.3 794.4C493.7 795.9 493.5 802.1 494.2 806.5C495 810.8 494.7 815.9 494.8 820.3C494.9 824.7 494.9 829 494.9 833.1C494.8 837.2 494.4 841.2 494.4 845C494.3 848.7 494 852.3 494.3 855.5C494.6 858.8 496.3 861.3 496.1 864.6C495.9 867.8 494.7 871.5 493.3 874.9C491.8 878.4 488.8 882.2 487.5 885.3C486.2 888.4 486.1 890.9 485.4 893.6C484.8 896.3 484 898.9 483.5 901.4C483 903.9 482.6 906.3 482.2 908.7C481.8 911.1 481.5 913.5 481.2 915.8Z" fill="#ff8700"/>
<path d="M479.4 915.8C479 918.1 478.7 920.4 478.4 922.6C478.1 924.9 477.8 927.1 477.6 929.4C477.4 931.7 477.1 933.9 477 936.2C476.9 938.5 477 940.9 477 943.3C476.9 945.7 477.1 948.3 476.7 950.7C476.3 953 475.4 955.3 474.6 957.5C473.8 959.7 472.9 962 471.8 964.1C470.6 966.2 469.4 968.3 467.7 970C465.9 971.6 463.3 972.7 461.1 974C459 975.3 456.9 976.6 454.8 977.8C452.7 978.9 450.6 980 448.4 980.9C446.3 981.9 444.2 982.8 442.1 983.7C440 984.5 437.9 985.3 435.8 986C433.7 986.7 431.6 987.2 429.5 987.8C427.5 988.4 425.5 989 423.5 989.5C421.6 990.1 419.7 990.7 417.7 991.2C415.8 991.7 413.9 992.2 412.1 992.7C410.2 993.2 408.3 993.7 406.5 994.2C404.6 994.7 402.7 995.2 400.9 995.7C399 996.2 397.2 996.7 395.4 997.4C393.5 998 391.7 998.9 389.8 999.6C387.9 1000.4 386 1001 384 1002C382 1002.9 380 1004 377.8 1005.3C375.7 1006.6 373.5 1008.3 371.1 1009.9C368.7 1011.5 366.2 1013.2 363.5 1014.8C360.9 1016.4 358 1018.2 355.1 1019.6C352.2 1021 349 1022.6 346 1023.4C343 1024.3 339.8 1024.9 336.9 1024.8C334.1 1024.7 331.5 1023.6 328.8 1022.7C326.2 1021.8 323.4 1021.1 321.2 1019.4C318.9 1017.8 317.3 1015.1 315.5 1012.8C313.8 1010.6 312.1 1008.3 310.6 1005.9C309 1003.6 307.8 1001 306.4 998.6C305.1 996.2 303.7 993.9 302.5 991.6C301.3 989.2 300.2 986.8 299.1 984.5C298 982.2 296.9 979.9 295.8 977.7C294.7 975.5 293.7 973.2 292.5 971.1C291.3 968.9 290.1 966.9 288.8 964.8C287.6 962.7 286.3 960.6 285.1 958.5C283.8 956.4 282.7 954.2 281.3 952.1C279.8 950 278.2 947.9 276.5 945.8C274.9 943.6 273 941.4 271.3 939.1C269.7 936.8 268 934.4 266.6 931.9C265.2 929.4 264 926.7 262.9 924.1C261.7 921.4 260.4 918.6 259.7 915.8C259 913 258.9 910.1 258.7 907.3C258.5 904.4 258.2 901.4 258.6 898.6C259 895.8 259.8 892.9 261 890.3C262.3 887.7 264.1 885.2 266.1 882.9C268.1 880.6 270.6 878.5 273.1 876.6C275.7 874.7 278.6 873 281.5 871.5C284.5 870.1 287.7 868.9 290.7 867.8C293.6 866.6 296.4 865.6 299 864.6C301.7 863.6 304.1 862.6 306.6 861.7C309 860.8 311.3 860 313.5 859.2C315.7 858.4 317.8 857.6 319.8 856.8C321.9 856 323.9 855.3 325.8 854.5C327.7 853.8 329.5 853 331.3 852.2C333 851.4 334.8 850.6 336.5 849.8C338.2 849.1 339.9 848.3 341.6 847.6C343.2 846.8 344.9 846.1 346.6 845.3C348.2 844.4 349.8 843.5 351.4 842.6C353 841.7 354.6 840.7 356.3 839.7C357.9 838.8 359.6 837.8 361.3 836.8C363 835.8 364.7 834.8 366.5 833.8C368.3 832.8 370.1 831.8 372 830.7C373.9 829.7 375.9 828.6 377.9 827.5C379.9 826.4 382 825.3 384.2 824.2C386.4 823.1 388.6 821.8 391 820.8C393.3 819.7 395.7 818.7 398.3 817.7C400.8 816.8 403.4 816 406.1 815.2C408.8 814.4 411.5 813.7 414.4 813C417.3 812.3 420.2 811.7 423.3 811C426.5 810.3 429.7 809.6 433.1 808.9C436.5 808.2 440.1 807.6 443.9 806.9C447.7 806.1 451.3 805.8 456 804.5C460.7 803.2 466.7 800.5 472.1 799.1C477.6 797.8 485.1 794.9 488.5 796.3C492 797.8 492 803.6 492.9 807.8C493.7 811.9 493.5 817 493.6 821.3C493.7 825.7 493.8 829.8 493.7 833.9C493.7 838 493.3 842 493.2 845.7C493.1 849.4 492.8 853 493 856.2C493.3 859.5 494.7 862 494.5 865.3C494.3 868.5 493.1 872.1 491.7 875.5C490.3 878.9 487.4 882.6 486 885.7C484.7 888.8 484.6 891.3 483.9 893.9C483.2 896.6 482.4 899.2 481.8 901.6C481.3 904.1 480.9 906.5 480.5 908.9C480 911.2 479.7 913.5 479.4 915.8Z" fill="#ffa600"/>
<path d="M477.5 915.8C477.1 918.1 476.8 920.3 476.5 922.5C476.1 924.7 475.9 926.9 475.6 929.1C475.4 931.3 475.1 933.5 475 935.8C474.8 938.1 474.9 940.4 474.8 942.7C474.8 945.1 474.9 947.6 474.5 949.9C474.1 952.2 473.3 954.4 472.5 956.5C471.7 958.7 470.8 961 469.7 963C468.6 965.1 467.5 967.2 465.9 968.8C464.2 970.5 461.7 971.7 459.7 973C457.6 974.3 455.7 975.7 453.7 976.9C451.7 978 449.6 979.1 447.6 980.1C445.5 981.2 443.5 982.1 441.4 982.9C439.4 983.8 437.3 984.6 435.3 985.3C433.2 986 431.1 986.6 429.1 987.2C427.1 987.8 425.1 988.3 423.2 988.9C421.2 989.5 419.3 990.1 417.4 990.6C415.5 991.1 413.7 991.6 411.8 992.1C409.9 992.6 408.1 993.1 406.2 993.6C404.4 994.1 402.6 994.6 400.7 995.1C398.9 995.6 397.1 996.1 395.2 996.7C393.4 997.4 391.6 998.2 389.7 998.9C387.8 999.7 385.9 1000.3 384 1001.3C382 1002.2 380 1003.2 377.9 1004.5C375.8 1005.8 373.6 1007.4 371.2 1008.9C368.8 1010.4 366.4 1012 363.7 1013.6C361.1 1015.1 358.3 1016.8 355.4 1018.2C352.6 1019.6 349.5 1021.1 346.5 1021.9C343.5 1022.8 340.4 1023.5 337.5 1023.3C334.7 1023.2 332.2 1022.1 329.6 1021.2C327 1020.3 324.2 1019.5 322.1 1017.8C319.9 1016.2 318.3 1013.5 316.5 1011.3C314.8 1009.1 313.1 1006.9 311.6 1004.6C310.1 1002.2 308.9 999.7 307.6 997.3C306.3 995 304.9 992.7 303.7 990.4C302.5 988.1 301.5 985.7 300.4 983.5C299.3 981.2 298.2 978.9 297.1 976.7C296.1 974.5 295 972.3 293.9 970.2C292.8 968.1 291.5 966.1 290.3 964C289.1 962 287.9 959.9 286.6 957.8C285.4 955.7 284.3 953.6 282.9 951.5C281.5 949.4 279.8 947.4 278.2 945.3C276.6 943.1 274.7 941 273.1 938.7C271.5 936.5 269.9 934.1 268.5 931.6C267.2 929.1 266 926.6 265 923.9C263.9 921.3 262.7 918.6 262.1 915.8C261.5 913.1 261.4 910.2 261.2 907.4C261.1 904.6 260.9 901.8 261.4 899C261.8 896.2 262.6 893.5 263.8 890.9C265 888.3 266.8 885.9 268.8 883.6C270.8 881.4 273.1 879.3 275.6 877.5C278.1 875.6 280.9 873.9 283.7 872.5C286.5 871 289.6 869.9 292.4 868.7C295.2 867.6 297.9 866.5 300.5 865.5C303 864.5 305.4 863.5 307.8 862.6C310.1 861.7 312.4 860.9 314.5 860C316.7 859.2 318.7 858.4 320.7 857.6C322.7 856.8 324.6 856.1 326.5 855.3C328.4 854.5 330.1 853.7 331.9 852.9C333.6 852.2 335.3 851.4 337 850.6C338.7 849.8 340.4 849.1 342 848.3C343.7 847.6 345.3 846.9 346.9 846C348.6 845.2 350.1 844.3 351.7 843.4C353.3 842.5 354.9 841.5 356.5 840.5C358.1 839.6 359.8 838.6 361.5 837.6C363.2 836.6 364.9 835.6 366.7 834.6C368.4 833.6 370.2 832.6 372.1 831.5C374 830.5 375.9 829.4 377.9 828.3C379.9 827.2 382 826.1 384.1 825C386.3 823.8 388.6 822.6 390.9 821.5C393.2 820.5 395.6 819.5 398.1 818.5C400.6 817.6 403.2 816.7 405.9 815.9C408.6 815.1 411.3 814.4 414.2 813.7C417 813 419.9 812.4 423 811.8C426.1 811.1 429.3 810.4 432.7 809.7C436.1 809.1 439.6 808.5 443.3 807.8C447.1 807.1 450.7 806.8 455.3 805.6C459.9 804.4 465.7 801.9 470.9 800.7C476.2 799.5 483.4 796.9 486.8 798.3C490.2 799.7 490.6 805.1 491.5 809.1C492.4 813.1 492.2 818 492.4 822.3C492.6 826.6 492.7 830.7 492.6 834.7C492.5 838.7 492.1 842.7 492 846.4C491.9 850.1 491.6 853.7 491.7 856.9C491.9 860.2 493.2 862.8 492.9 866C492.7 869.2 491.5 872.7 490.1 876.1C488.7 879.4 485.9 883.1 484.6 886.1C483.3 889.1 483.1 891.6 482.3 894.3C481.6 896.9 480.8 899.4 480.2 901.9C479.6 904.3 479.1 906.7 478.7 909C478.2 911.3 477.9 913.6 477.5 915.8Z" fill="#ffc300"/>
<path d="M475.7 915.8C475.3 918 474.9 920.2 474.6 922.4C474.2 924.5 473.9 926.7 473.6 928.8C473.4 931 473.1 933.1 472.9 935.4C472.8 937.6 472.8 939.8 472.7 942.1C472.6 944.4 472.7 946.8 472.3 949.1C471.9 951.3 471.1 953.5 470.3 955.6C469.6 957.7 468.8 959.9 467.7 961.9C466.7 963.9 465.6 966 464 967.7C462.5 969.4 460.1 970.6 458.2 971.9C456.3 973.3 454.5 974.7 452.6 975.9C450.7 977.2 448.7 978.3 446.7 979.3C444.8 980.4 442.8 981.3 440.8 982.2C438.8 983.1 436.8 984 434.8 984.7C432.8 985.4 430.7 985.9 428.7 986.5C426.7 987.1 424.7 987.7 422.8 988.3C420.9 988.9 419 989.4 417.1 990C415.3 990.5 413.4 991 411.5 991.5C409.7 992 407.9 992.5 406 993C404.2 993.5 402.4 993.9 400.6 994.5C398.8 995 397 995.5 395.1 996.1C393.3 996.7 391.5 997.5 389.6 998.3C387.8 999 385.9 999.7 383.9 1000.6C382 1001.4 380 1002.4 377.9 1003.7C375.8 1004.9 373.6 1006.4 371.3 1007.8C369 1009.3 366.5 1010.8 364 1012.3C361.4 1013.8 358.6 1015.5 355.8 1016.8C353 1018.1 349.9 1019.6 347 1020.4C344 1021.3 340.9 1022 338.1 1021.9C335.4 1021.7 332.9 1020.6 330.3 1019.6C327.8 1018.7 325.1 1017.9 323 1016.2C320.9 1014.6 319.3 1012 317.5 1009.9C315.8 1007.7 314.2 1005.5 312.7 1003.2C311.2 1000.9 310 998.4 308.7 996.1C307.4 993.7 306.1 991.6 304.9 989.3C303.7 987 302.7 984.7 301.6 982.4C300.5 980.2 299.5 977.9 298.4 975.8C297.4 973.6 296.4 971.4 295.3 969.4C294.2 967.3 293 965.3 291.8 963.2C290.6 961.2 289.4 959.2 288.2 957.1C286.9 955.1 285.8 953 284.5 950.9C283.1 948.9 281.5 946.9 279.9 944.8C278.3 942.7 276.4 940.6 274.8 938.4C273.3 936.1 271.7 933.8 270.4 931.3C269.1 928.9 268 926.4 267.1 923.8C266.1 921.2 265.1 918.5 264.5 915.8C264 913.1 263.9 910.4 263.8 907.6C263.7 904.9 263.6 902.1 264.1 899.4C264.6 896.7 265.3 894 266.5 891.5C267.8 889 269.5 886.6 271.5 884.4C273.4 882.2 275.6 880.2 278 878.3C280.4 876.5 283.1 874.9 285.8 873.4C288.5 872 291.5 870.9 294.2 869.7C296.9 868.5 299.5 867.5 302 866.4C304.4 865.4 306.7 864.5 309 863.5C311.3 862.6 313.4 861.7 315.5 860.9C317.6 860 319.6 859.2 321.6 858.4C323.5 857.6 325.4 856.9 327.2 856.1C329 855.3 330.7 854.5 332.5 853.7C334.2 852.9 335.8 852.1 337.5 851.4C339.2 850.6 340.8 849.9 342.5 849.1C344.1 848.3 345.7 847.6 347.3 846.8C348.9 846 350.5 845.1 352 844.2C353.6 843.3 355.2 842.3 356.8 841.4C358.4 840.4 360 839.4 361.7 838.4C363.3 837.4 365 836.4 366.8 835.4C368.6 834.4 370.3 833.4 372.2 832.4C374.1 831.3 376 830.2 377.9 829.1C379.9 828 382 826.9 384.1 825.8C386.3 824.6 388.5 823.4 390.8 822.3C393.1 821.2 395.5 820.2 398 819.3C400.5 818.3 403.1 817.4 405.7 816.6C408.4 815.8 411.1 815.1 413.9 814.4C416.7 813.8 419.6 813.2 422.7 812.6C425.8 811.9 429 811.2 432.3 810.5C435.7 809.9 439.1 809.4 442.8 808.7C446.5 808.1 450.1 807.8 454.6 806.7C459.1 805.6 464.6 803.3 469.7 802.2C474.8 801.2 481.7 798.8 485.1 800.2C488.5 801.5 489.2 806.5 490.2 810.4C491.2 814.2 491 819.1 491.2 823.3C491.4 827.5 491.5 831.6 491.5 835.5C491.4 839.5 491 843.5 490.8 847.2C490.6 850.9 490.3 854.4 490.4 857.6C490.5 860.9 491.7 863.5 491.4 866.7C491 869.8 489.9 873.4 488.5 876.7C487.2 880 484.5 883.5 483.2 886.5C481.9 889.5 481.6 892 480.8 894.6C480 897.2 479.1 899.7 478.5 902.1C477.9 904.5 477.4 906.8 476.9 909.1C476.4 911.4 476.1 913.6 475.7 915.8Z" fill="#fadf05"/>
<path d="M473.8 915.8C473.4 918 473 920.1 472.6 922.2C472.3 924.3 472 926.4 471.7 928.6C471.4 930.7 471.1 932.8 470.9 934.9C470.7 937.1 470.7 939.3 470.6 941.5C470.5 943.7 470.5 946.1 470.1 948.3C469.7 950.4 468.9 952.6 468.2 954.6C467.5 956.7 466.7 958.9 465.7 960.9C464.7 962.8 463.7 964.9 462.2 966.6C460.7 968.2 458.6 969.5 456.8 970.9C455 972.3 453.3 973.7 451.5 975C449.7 976.3 447.8 977.4 445.9 978.5C444 979.6 442.1 980.6 440.1 981.5C438.2 982.4 436.2 983.3 434.3 984C432.3 984.7 430.2 985.3 428.2 985.9C426.3 986.5 424.3 987.1 422.4 987.6C420.5 988.2 418.7 988.8 416.8 989.3C415 989.9 413.1 990.4 411.3 990.9C409.5 991.4 407.7 991.9 405.8 992.4C404 992.8 402.2 993.3 400.4 993.8C398.6 994.4 396.8 994.8 395 995.5C393.2 996.1 391.4 996.9 389.6 997.6C387.7 998.3 385.8 999 383.9 999.8C382 1000.7 380 1001.7 377.9 1002.8C375.9 1004 373.7 1005.4 371.4 1006.8C369.1 1008.2 366.7 1009.7 364.2 1011.1C361.6 1012.5 358.9 1014.1 356.1 1015.4C353.4 1016.7 350.4 1018.1 347.5 1018.9C344.6 1019.7 341.5 1020.5 338.7 1020.4C336 1020.3 333.6 1019.1 331.1 1018.1C328.6 1017.1 326 1016.3 323.9 1014.6C321.8 1013 320.2 1010.5 318.5 1008.4C316.9 1006.2 315.2 1004.1 313.8 1001.8C312.3 999.5 311.1 997.1 309.9 994.8C308.6 992.5 307.3 990.4 306.1 988.1C304.9 985.9 303.9 983.6 302.9 981.3C301.8 979.1 300.8 977 299.8 974.8C298.7 972.7 297.8 970.5 296.7 968.5C295.6 966.4 294.4 964.5 293.2 962.5C292.1 960.5 290.9 958.5 289.7 956.5C288.5 954.4 287.4 952.4 286.1 950.4C284.7 948.3 283.2 946.4 281.6 944.3C280 942.3 278.2 940.2 276.6 938C275.1 935.8 273.6 933.5 272.3 931.1C271.1 928.7 270 926.2 269.1 923.6C268.2 921.1 267.4 918.5 266.9 915.8C266.5 913.2 266.3 910.5 266.3 907.8C266.3 905.1 266.4 902.4 266.9 899.8C267.3 897.2 268.1 894.5 269.3 892.1C270.5 889.6 272.3 887.3 274.1 885.2C276 883 278.2 881 280.5 879.2C282.8 877.4 285.4 875.8 288 874.4C290.5 873 293.4 871.8 296 870.6C298.6 869.5 301.1 868.4 303.4 867.4C305.8 866.3 308 865.4 310.2 864.4C312.4 863.5 314.5 862.6 316.6 861.8C318.6 860.9 320.5 860.1 322.4 859.3C324.3 858.4 326.1 857.7 327.9 856.9C329.7 856.1 331.4 855.3 333.1 854.5C334.7 853.7 336.4 852.9 338 852.2C339.7 851.4 341.3 850.6 342.9 849.9C344.5 849.1 346.1 848.4 347.7 847.6C349.3 846.8 350.8 845.9 352.4 845C353.9 844.1 355.5 843.1 357 842.2C358.6 841.2 360.2 840.2 361.9 839.2C363.5 838.3 365.2 837.3 366.9 836.3C368.7 835.2 370.5 834.2 372.3 833.2C374.1 832.1 376 831 378 829.9C379.9 828.8 382 827.7 384.1 826.6C386.2 825.4 388.4 824.1 390.7 823.1C393 822 395.4 821 397.9 820.1C400.3 819.1 402.9 818.2 405.5 817.4C408.2 816.5 410.9 815.9 413.7 815.2C416.5 814.5 419.3 814 422.4 813.3C425.4 812.7 428.6 812 431.9 811.4C435.2 810.7 438.6 810.3 442.3 809.7C445.9 809.1 449.5 808.7 453.9 807.8C458.2 806.8 463.6 804.8 468.5 803.8C473.4 802.9 480 800.8 483.4 802.1C486.8 803.4 487.7 808 488.8 811.7C489.9 815.4 489.7 820.2 490 824.3C490.2 828.5 490.4 832.4 490.3 836.4C490.3 840.3 489.8 844.3 489.6 847.9C489.4 851.6 489.1 855.1 489.1 858.3C489.1 861.6 490.2 864.2 489.8 867.4C489.4 870.5 488.3 874 486.9 877.2C485.6 880.5 483.1 883.9 481.8 886.9C480.5 889.8 480.1 892.3 479.3 894.9C478.4 897.5 477.5 900 476.8 902.3C476.1 904.7 475.6 907 475.1 909.2C474.6 911.5 474.2 913.6 473.8 915.8Z" fill="#f1fb0f"/>
<path d="M472 915.8C471.5 917.9 471.1 920 470.7 922.1C470.3 924.2 470 926.2 469.7 928.3C469.4 930.3 469.1 932.4 468.9 934.5C468.7 936.6 468.7 938.7 468.5 940.9C468.3 943.1 468.3 945.3 467.9 947.5C467.5 949.6 466.8 951.6 466.1 953.7C465.4 955.8 464.6 957.8 463.7 959.8C462.7 961.7 461.8 963.8 460.4 965.4C459 967.1 457 968.4 455.3 969.8C453.7 971.3 452.1 972.8 450.4 974.1C448.7 975.4 446.9 976.6 445.1 977.7C443.2 978.8 441.4 979.8 439.5 980.8C437.6 981.7 435.7 982.6 433.7 983.4C431.8 984.1 429.7 984.6 427.8 985.2C425.8 985.8 424 986.4 422.1 987C420.2 987.6 418.4 988.2 416.5 988.7C414.7 989.3 412.9 989.7 411 990.2C409.2 990.7 407.4 991.2 405.6 991.7C403.8 992.2 402.1 992.7 400.3 993.2C398.5 993.7 396.7 994.2 394.9 994.8C393.1 995.4 391.3 996.2 389.5 996.9C387.7 997.6 385.8 998.3 383.9 999.1C382 1000 380 1000.9 378 1002C375.9 1003.1 373.8 1004.5 371.5 1005.8C369.3 1007.1 366.9 1008.5 364.4 1009.9C361.9 1011.3 359.2 1012.7 356.5 1014C353.8 1015.3 350.8 1016.6 348 1017.4C345.1 1018.2 342 1019.1 339.3 1018.9C336.6 1018.8 334.3 1017.5 331.8 1016.6C329.4 1015.6 326.9 1014.7 324.8 1013.1C322.8 1011.4 321.2 1009 319.5 1006.9C317.9 1004.8 316.3 1002.7 314.9 1000.4C313.4 998.2 312.3 995.8 311 993.5C309.7 991.3 308.4 989.2 307.3 987C306.2 984.8 305.2 982.5 304.1 980.3C303.1 978.1 302.1 976 301.1 973.8C300.1 971.7 299.1 969.6 298.1 967.6C297 965.6 295.9 963.7 294.7 961.7C293.6 959.7 292.4 957.8 291.2 955.8C290.1 953.8 289 951.8 287.7 949.8C286.4 947.8 284.8 945.9 283.3 943.8C281.7 941.8 279.9 939.8 278.4 937.6C276.9 935.5 275.4 933.2 274.2 930.8C273 928.5 272 926 271.2 923.5C270.4 921 269.7 918.4 269.3 915.8C268.9 913.2 268.8 910.6 268.9 908C268.9 905.4 269.1 902.7 269.6 900.2C270.1 897.6 270.8 895 272 892.7C273.2 890.3 275 888 276.8 885.9C278.6 883.9 280.7 881.9 283 880.1C285.2 878.4 287.6 876.8 290.1 875.3C292.6 873.9 295.3 872.8 297.8 871.6C300.3 870.4 302.6 869.3 304.9 868.3C307.2 867.2 309.3 866.3 311.5 865.3C313.6 864.4 315.6 863.5 317.6 862.6C319.5 861.7 321.4 860.9 323.3 860.1C325.1 859.3 326.9 858.5 328.6 857.7C330.4 856.9 332 856 333.7 855.3C335.3 854.5 336.9 853.7 338.6 852.9C340.2 852.2 341.8 851.4 343.4 850.6C344.9 849.9 346.5 849.2 348.1 848.4C349.6 847.6 351.2 846.7 352.7 845.8C354.2 844.9 355.7 843.9 357.3 843C358.9 842 360.5 841.1 362.1 840.1C363.7 839.1 365.4 838.1 367.1 837.1C368.8 836.1 370.6 835 372.4 834C374.2 832.9 376.1 831.8 378 830.7C380 829.6 382 828.5 384.1 827.3C386.2 826.2 388.4 824.9 390.6 823.8C392.9 822.7 395.3 821.8 397.7 820.8C400.2 819.9 402.7 818.9 405.3 818.1C408 817.3 410.6 816.6 413.4 815.9C416.2 815.3 419 814.7 422.1 814.1C425.1 813.5 428.2 812.8 431.5 812.2C434.8 811.6 438.1 811.1 441.7 810.6C445.3 810 448.9 809.7 453.1 808.8C457.4 808 462.5 806.2 467.3 805.4C472 804.6 478.3 802.8 481.6 804C485 805.3 486.3 809.4 487.5 813C488.7 816.5 488.5 821.3 488.8 825.4C489.1 829.4 489.3 833.3 489.2 837.2C489.2 841.1 488.7 845 488.5 848.6C488.2 852.3 487.9 855.8 487.8 859C487.8 862.2 488.6 864.9 488.2 868.1C487.8 871.2 486.7 874.6 485.4 877.8C484.1 881 481.7 884.4 480.4 887.3C479.1 890.2 478.6 892.7 477.7 895.3C476.8 897.8 475.9 900.2 475.2 902.6C474.4 904.9 473.9 907.1 473.4 909.4C472.8 911.6 472.4 913.7 472 915.8Z" fill="#d3ff2d"/>
<path d="M470.1 915.8C469.7 917.9 469.2 919.9 468.8 922C468.4 924 468 926 467.7 928C467.4 930 467.1 932 466.9 934.1C466.6 936.1 466.6 938.2 466.4 940.3C466.2 942.4 466.2 944.6 465.7 946.7C465.3 948.7 464.6 950.7 463.9 952.8C463.3 954.8 462.5 956.8 461.6 958.7C460.7 960.6 459.9 962.6 458.6 964.3C457.3 966 455.4 967.3 453.9 968.8C452.3 970.3 450.9 971.8 449.3 973.2C447.7 974.5 446 975.7 444.2 976.9C442.5 978 440.6 979.1 438.8 980.1C437 981 435.1 981.9 433.2 982.7C431.3 983.5 429.3 984 427.4 984.6C425.4 985.2 423.6 985.8 421.7 986.4C419.9 987 418.1 987.6 416.2 988.1C414.4 988.6 412.6 989.1 410.8 989.6C409 990.1 407.2 990.6 405.4 991.1C403.7 991.6 401.9 992.1 400.1 992.6C398.3 993.1 396.6 993.6 394.8 994.2C393 994.8 391.3 995.5 389.4 996.2C387.6 996.9 385.8 997.6 383.9 998.4C382 999.2 380 1000.1 378 1001.2C376 1002.2 373.9 1003.5 371.6 1004.8C369.4 1006 367.1 1007.4 364.6 1008.7C362.1 1010 359.5 1011.4 356.8 1012.6C354.2 1013.8 351.3 1015.1 348.5 1015.9C345.6 1016.7 342.6 1017.6 339.9 1017.4C337.3 1017.3 335 1016 332.6 1015C330.2 1014 327.8 1013.1 325.7 1011.5C323.7 1009.9 322.2 1007.5 320.5 1005.4C318.9 1003.4 317.3 1001.2 315.9 999C314.5 996.9 313.4 994.5 312.1 992.3C310.9 990.1 309.6 988 308.5 985.8C307.4 983.6 306.4 981.4 305.4 979.2C304.4 977.1 303.4 975 302.4 972.9C301.4 970.8 300.5 968.7 299.5 966.7C298.4 964.8 297.3 962.8 296.2 960.9C295.1 959 293.9 957 292.8 955.1C291.6 953.1 290.6 951.1 289.3 949.2C288 947.2 286.5 945.3 284.9 943.3C283.4 941.4 281.6 939.4 280.1 937.2C278.7 935.1 277.3 932.9 276.1 930.5C275 928.2 274.1 925.8 273.3 923.3C272.6 920.9 272 918.3 271.7 915.8C271.4 913.3 271.3 910.7 271.4 908.2C271.5 905.6 271.8 903 272.3 900.5C272.9 898.1 273.6 895.5 274.8 893.2C276 890.9 277.7 888.7 279.5 886.7C281.2 884.7 283.3 882.8 285.4 881C287.5 879.3 289.9 877.7 292.2 876.3C294.6 874.9 297.2 873.7 299.6 872.5C302 871.4 304.2 870.3 306.4 869.2C308.6 868.1 310.7 867.2 312.7 866.2C314.7 865.2 316.7 864.4 318.6 863.5C320.5 862.6 322.3 861.7 324.1 860.9C325.9 860.1 327.6 859.3 329.3 858.5C331 857.6 332.6 856.8 334.3 856C335.9 855.2 337.5 854.5 339.1 853.7C340.7 852.9 342.2 852.2 343.8 851.4C345.4 850.7 346.9 849.9 348.5 849.1C350 848.3 351.5 847.5 353 846.6C354.5 845.7 356 844.8 357.6 843.8C359.1 842.9 360.7 841.9 362.3 840.9C363.9 839.9 365.5 838.9 367.2 837.9C368.9 836.9 370.7 835.9 372.5 834.8C374.3 833.7 376.1 832.7 378 831.5C380 830.4 381.9 829.3 384 828.1C386.1 827 388.3 825.7 390.6 824.6C392.8 823.5 395.2 822.6 397.6 821.6C400 820.6 402.6 819.6 405.2 818.8C407.8 818 410.4 817.3 413.2 816.7C416 816 418.8 815.5 421.7 814.9C424.7 814.3 427.9 813.6 431.1 813C434.4 812.4 437.6 812 441.2 811.5C444.7 811 448.3 810.7 452.4 809.9C456.6 809.1 461.5 807.6 466 806.9C470.6 806.3 476.6 804.7 479.9 805.9C483.3 807.2 484.9 810.9 486.1 814.3C487.4 817.7 487.3 822.4 487.6 826.4C487.9 830.3 488.1 834.2 488.1 838C488 841.8 487.5 845.8 487.3 849.4C487 853 486.6 856.5 486.5 859.7C486.4 862.9 487.1 865.6 486.6 868.8C486.2 871.9 485.1 875.2 483.8 878.4C482.5 881.6 480.3 884.8 479 887.7C477.7 890.6 477.1 893.1 476.2 895.6C475.3 898.1 474.2 900.5 473.5 902.8C472.7 905.1 472.2 907.3 471.6 909.5C471 911.6 470.6 913.7 470.1 915.8Z" fill="#b1ff4f"/>
<path d="M468.3 915.8C467.8 917.8 467.3 919.8 466.9 921.8C466.5 923.8 466.1 925.8 465.7 927.7C465.4 929.7 465.1 931.6 464.8 933.6C464.6 935.6 464.5 937.7 464.3 939.7C464.1 941.7 464 943.9 463.6 945.9C463.2 947.9 462.5 949.8 461.8 951.8C461.1 953.8 460.5 955.7 459.6 957.6C458.8 959.5 457.9 961.5 456.8 963.2C455.6 964.8 453.9 966.2 452.4 967.7C451 969.2 449.7 970.8 448.2 972.2C446.7 973.6 445.1 974.9 443.4 976.1C441.7 977.3 439.9 978.3 438.2 979.3C436.4 980.3 434.6 981.3 432.7 982C430.8 982.8 428.8 983.3 426.9 983.9C425 984.5 423.2 985.2 421.3 985.7C419.5 986.3 417.7 986.9 415.9 987.5C414.1 988 412.3 988.5 410.5 989C408.8 989.5 407 990 405.2 990.5C403.5 991 401.7 991.5 400 992C398.2 992.5 396.4 992.9 394.7 993.5C392.9 994.1 391.2 994.9 389.4 995.6C387.6 996.3 385.7 996.9 383.8 997.7C381.9 998.5 380 999.3 378 1000.4C376 1001.4 373.9 1002.6 371.7 1003.7C369.5 1004.9 367.2 1006.2 364.8 1007.4C362.4 1008.7 359.8 1010 357.2 1011.2C354.5 1012.4 351.7 1013.6 348.9 1014.4C346.2 1015.2 343.1 1016.1 340.5 1016C337.9 1015.8 335.7 1014.5 333.3 1013.5C331 1012.4 328.6 1011.5 326.7 1009.9C324.7 1008.3 323.1 1006 321.5 1003.9C319.9 1001.9 318.4 999.8 317 997.7C315.6 995.5 314.5 993.2 313.3 991C312 988.8 310.8 986.8 309.7 984.7C308.6 982.5 307.6 980.3 306.7 978.2C305.7 976.1 304.7 974 303.7 971.9C302.8 969.9 301.9 967.8 300.9 965.9C299.8 963.9 298.7 962 297.6 960.1C296.6 958.2 295.4 956.3 294.3 954.4C293.2 952.5 292.2 950.5 290.9 948.6C289.6 946.7 288.1 944.8 286.6 942.9C285.1 940.9 283.3 939 281.9 936.9C280.5 934.8 279.1 932.6 278 930.3C276.9 928 276.1 925.6 275.4 923.2C274.8 920.8 274.4 918.3 274.1 915.8C273.9 913.3 273.8 910.8 274 908.3C274.1 905.9 274.5 903.3 275.1 900.9C275.7 898.5 276.3 896.1 277.5 893.8C278.7 891.6 280.4 889.5 282.1 887.5C283.9 885.5 285.8 883.6 287.9 881.9C289.9 880.2 292.1 878.7 294.4 877.3C296.6 875.9 299.1 874.7 301.4 873.5C303.6 872.3 305.8 871.2 307.9 870.1C309.9 869.1 312 868.1 313.9 867.1C315.9 866.1 317.8 865.2 319.6 864.3C321.5 863.4 323.2 862.6 325 861.7C326.7 860.9 328.4 860.1 330 859.2C331.7 858.4 333.3 857.6 334.9 856.8C336.5 856 338 855.2 339.6 854.5C341.2 853.7 342.7 852.9 344.2 852.2C345.8 851.4 347.3 850.7 348.8 849.9C350.3 849.1 351.8 848.3 353.3 847.4C354.8 846.5 356.3 845.6 357.8 844.6C359.4 843.7 360.9 842.7 362.5 841.7C364.1 840.7 365.7 839.7 367.4 838.7C369.1 837.7 370.8 836.7 372.5 835.6C374.3 834.6 376.2 833.5 378.1 832.4C380 831.2 381.9 830.1 384 828.9C386.1 827.8 388.2 826.4 390.5 825.3C392.7 824.2 395 823.3 397.5 822.4C399.9 821.4 402.4 820.4 405 819.5C407.6 818.7 410.2 818.1 412.9 817.4C415.7 816.8 418.5 816.3 421.4 815.7C424.4 815.1 427.5 814.4 430.7 813.8C433.9 813.3 437.2 812.9 440.7 812.5C444.1 812 447.7 811.6 451.7 811C455.7 810.3 460.4 809 464.8 808.5C469.2 808 474.8 806.7 478.2 807.9C481.5 809 483.4 812.3 484.8 815.6C486.2 818.8 486 823.5 486.4 827.4C486.7 831.2 487 835 487 838.8C486.9 842.6 486.4 846.5 486.1 850.1C485.8 853.7 485.4 857.2 485.2 860.4C485 863.6 485.6 866.4 485.1 869.5C484.6 872.6 483.4 875.9 482.2 879C481 882.1 478.9 885.3 477.6 888.1C476.3 890.9 475.6 893.4 474.6 895.9C473.7 898.4 472.6 900.8 471.8 903C471 905.3 470.4 907.5 469.8 909.6C469.2 911.7 468.8 913.8 468.3 915.8Z" fill="#92ff6e"/>
<path d="M466.5 915.8C466 917.8 465.4 919.7 465 921.7C464.5 923.6 464.1 925.5 463.8 927.4C463.4 929.4 463.1 931.3 462.8 933.2C462.5 935.1 462.4 937.1 462.1 939.1C461.9 941.1 461.8 943.1 461.4 945.1C461 947 460.3 948.9 459.7 950.9C459 952.8 458.4 954.7 457.6 956.6C456.8 958.4 456 960.3 454.9 962C453.8 963.7 452.3 965.1 451 966.7C449.7 968.2 448.5 969.9 447.1 971.3C445.7 972.7 444.1 974.1 442.5 975.3C441 976.5 439.2 977.6 437.5 978.6C435.8 979.6 434 980.6 432.2 981.4C430.4 982.2 428.4 982.7 426.5 983.3C424.6 983.9 422.8 984.5 421 985.1C419.2 985.7 417.4 986.3 415.6 986.9C413.8 987.4 412.1 987.9 410.3 988.4C408.5 988.9 406.8 989.4 405 989.9C403.3 990.4 401.6 990.8 399.8 991.3C398.1 991.9 396.3 992.3 394.6 992.9C392.8 993.5 391.1 994.2 389.3 994.9C387.5 995.6 385.7 996.2 383.8 997C381.9 997.7 380 998.6 378.1 999.5C376.1 1000.5 374 1001.6 371.8 1002.7C369.7 1003.8 367.4 1005 365 1006.2C362.7 1007.4 360.1 1008.7 357.5 1009.8C354.9 1010.9 352.2 1012.1 349.4 1012.9C346.7 1013.7 343.7 1014.7 341.1 1014.5C338.6 1014.3 336.4 1012.9 334.1 1011.9C331.9 1010.9 329.5 1009.9 327.6 1008.3C325.7 1006.7 324.1 1004.5 322.5 1002.5C320.9 1000.5 319.5 998.4 318.1 996.3C316.8 994.2 315.6 991.9 314.4 989.7C313.2 987.6 312 985.6 310.9 983.5C309.8 981.4 308.9 979.2 307.9 977.1C306.9 975 306 973 305.1 971C304.1 968.9 303.2 966.9 302.2 965C301.3 963.1 300.2 961.2 299.1 959.3C298 957.5 296.9 955.6 295.8 953.7C294.7 951.8 293.7 949.9 292.5 948C291.2 946.1 289.8 944.3 288.3 942.4C286.8 940.5 285.1 938.6 283.7 936.5C282.3 934.4 281 932.3 279.9 930C278.9 927.8 278.1 925.4 277.5 923C276.9 920.7 276.7 918.2 276.5 915.8C276.4 913.4 276.3 910.9 276.5 908.5C276.8 906.1 277.2 903.7 277.8 901.3C278.5 899 279.1 896.6 280.2 894.4C281.4 892.2 283.1 890.2 284.8 888.2C286.5 886.3 288.4 884.5 290.3 882.8C292.3 881.1 294.4 879.6 296.5 878.2C298.7 876.8 301 875.6 303.2 874.4C305.3 873.2 307.3 872.1 309.3 871C311.3 870 313.3 869 315.1 868C317 867 318.9 866.1 320.7 865.2C322.4 864.3 324.1 863.4 325.8 862.6C327.5 861.7 329.1 860.9 330.7 860C332.3 859.2 333.9 858.4 335.5 857.6C337 856.8 338.6 856 340.1 855.2C341.7 854.5 343.2 853.7 344.7 853C346.2 852.2 347.7 851.5 349.2 850.7C350.7 849.9 352.2 849.1 353.7 848.2C355.1 847.3 356.6 846.4 358.1 845.4C359.6 844.5 361.1 843.5 362.7 842.5C364.3 841.6 365.9 840.6 367.5 839.6C369.2 838.5 370.9 837.5 372.6 836.4C374.4 835.4 376.2 834.3 378.1 833.2C380 832 381.9 830.9 384 829.7C386 828.5 388.2 827.2 390.4 826.1C392.6 825 394.9 824.1 397.3 823.1C399.7 822.2 402.2 821.1 404.8 820.3C407.4 819.4 410 818.8 412.7 818.2C415.4 817.5 418.2 817.1 421.1 816.5C424 815.9 427.1 815.2 430.3 814.7C433.5 814.1 436.7 813.8 440.1 813.4C443.6 812.9 447.1 812.6 451 812C454.9 811.5 459.3 810.4 463.6 810.1C467.8 809.7 473.1 808.6 476.4 809.8C479.8 810.9 482 813.8 483.4 816.9C484.9 820 484.8 824.6 485.2 828.4C485.6 832.2 485.9 835.9 485.8 839.6C485.8 843.4 485.3 847.3 484.9 850.9C484.6 854.4 484.1 857.9 483.9 861.1C483.7 864.3 484 867.1 483.5 870.2C482.9 873.2 481.8 876.5 480.6 879.5C479.4 882.6 477.4 885.7 476.2 888.5C474.9 891.3 474.1 893.8 473.1 896.2C472.1 898.7 471 901 470.1 903.3C469.3 905.5 468.7 907.6 468.1 909.7C467.4 911.8 467 913.8 466.5 915.8Z" fill="#74ff8c"/>
<path d="M464.6 915.8C464.1 917.8 463.5 919.7 463.1 921.6C462.6 923.4 462.2 925.3 461.8 927.2C461.4 929 461.1 930.9 460.8 932.8C460.5 934.7 460.3 936.6 460 938.5C459.8 940.4 459.6 942.4 459.2 944.3C458.8 946.2 458.1 948 457.5 949.9C456.9 951.8 456.3 953.6 455.6 955.5C454.8 957.3 454.1 959.2 453.1 960.9C452.1 962.6 450.7 964 449.5 965.6C448.4 967.2 447.3 968.9 446 970.4C444.7 971.9 443.2 973.2 441.7 974.5C440.2 975.7 438.5 976.8 436.9 977.9C435.2 978.9 433.5 979.9 431.7 980.7C429.9 981.5 427.9 982 426 982.6C424.2 983.3 422.4 983.9 420.6 984.5C418.8 985.1 417.1 985.7 415.3 986.2C413.6 986.8 411.8 987.2 410 987.7C408.3 988.2 406.6 988.7 404.8 989.2C403.1 989.7 401.4 990.2 399.7 990.7C397.9 991.2 396.2 991.7 394.5 992.3C392.7 992.9 391 993.6 389.2 994.2C387.4 994.9 385.6 995.5 383.8 996.3C381.9 997 380.1 997.8 378.1 998.7C376.1 999.6 374.1 1000.6 371.9 1001.7C369.8 1002.7 367.6 1003.9 365.2 1005C362.9 1006.1 360.4 1007.3 357.9 1008.4C355.3 1009.5 352.6 1010.6 349.9 1011.4C347.2 1012.2 344.2 1013.2 341.7 1013C339.2 1012.8 337.1 1011.4 334.9 1010.4C332.7 1009.3 330.4 1008.3 328.5 1006.7C326.6 1005.1 325.1 1003 323.5 1001C322 999 320.5 997 319.2 994.9C317.9 992.8 316.7 990.6 315.5 988.5C314.4 986.4 313.1 984.4 312.1 982.3C311 980.3 310.1 978.1 309.2 976.1C308.2 974 307.3 972 306.4 970C305.5 968 304.6 966 303.6 964.1C302.7 962.2 301.6 960.4 300.6 958.6C299.5 956.7 298.4 954.9 297.4 953C296.3 951.2 295.3 949.3 294.1 947.4C292.9 945.6 291.4 943.8 290 941.9C288.6 940 286.8 938.1 285.4 936.1C284.1 934.1 282.8 931.9 281.8 929.7C280.9 927.5 280.1 925.2 279.6 922.9C279.1 920.6 279 918.2 278.9 915.8C278.9 913.4 278.8 911 279.1 908.7C279.4 906.3 279.9 904 280.6 901.7C281.2 899.4 281.8 897.1 283 895C284.1 892.9 285.9 890.9 287.5 889C289.1 887.1 290.9 885.4 292.8 883.7C294.6 882.1 296.6 880.5 298.7 879.2C300.7 877.8 302.9 876.6 305 875.4C307 874.2 308.9 873.1 310.8 872C312.7 870.9 314.6 869.9 316.4 868.9C318.2 867.9 320 867 321.7 866.1C323.4 865.1 325.1 864.3 326.7 863.4C328.3 862.5 329.9 861.6 331.4 860.8C333 860 334.5 859.1 336.1 858.3C337.6 857.5 339.1 856.8 340.6 856C342.2 855.3 343.6 854.5 345.1 853.7C346.6 853 348.1 852.2 349.6 851.5C351.1 850.7 352.5 849.9 354 849C355.5 848.1 356.9 847.2 358.4 846.2C359.9 845.3 361.4 844.3 362.9 843.4C364.5 842.4 366 841.4 367.7 840.4C369.3 839.4 371 838.3 372.7 837.3C374.5 836.2 376.2 835.1 378.1 834C380 832.8 381.9 831.7 384 830.5C386 829.3 388.1 827.9 390.3 826.8C392.5 825.7 394.8 824.9 397.2 823.9C399.6 822.9 402.1 821.8 404.6 821C407.2 820.1 409.8 819.5 412.5 818.9C415.2 818.3 417.9 817.8 420.8 817.3C423.7 816.7 426.8 816 429.9 815.5C433 815 436.2 814.7 439.6 814.3C443 813.9 446.4 813.6 450.2 813.1C454 812.7 458.3 811.9 462.4 811.6C466.5 811.4 471.4 810.6 474.7 811.7C478 812.8 480.5 815.2 482.1 818.2C483.6 821.1 483.5 825.7 484 829.4C484.4 833.1 484.7 836.8 484.7 840.5C484.7 844.2 484.1 848 483.8 851.6C483.4 855.1 482.9 858.6 482.6 861.8C482.3 865 482.5 867.8 481.9 870.9C481.3 873.9 480.2 877.1 479 880.1C477.8 883.1 476 886.2 474.8 888.9C473.5 891.7 472.6 894.1 471.5 896.6C470.5 899 469.4 901.3 468.5 903.5C467.6 905.7 466.9 907.8 466.3 909.8C465.6 911.9 465.2 913.9 464.6 915.8Z" fill="#55ffab"/>
<path d="M462.8 915.8C462.2 917.7 461.7 919.6 461.2 921.4C460.7 923.3 460.2 925.1 459.8 926.9C459.4 928.7 459.1 930.5 458.8 932.3C458.5 934.2 458.2 936 457.9 937.9C457.6 939.7 457.4 941.6 457 943.5C456.6 945.3 456 947.1 455.4 949C454.8 950.8 454.2 952.6 453.6 954.4C452.9 956.2 452.2 958.1 451.3 959.8C450.4 961.4 449.2 963 448.1 964.6C447 966.2 446.1 968 444.9 969.5C443.7 971 442.3 972.4 440.9 973.7C439.4 974.9 437.8 976.1 436.2 977.2C434.6 978.2 432.9 979.3 431.2 980.1C429.4 980.9 427.4 981.4 425.6 982C423.8 982.6 422 983.2 420.3 983.8C418.5 984.4 416.8 985.1 415 985.6C413.3 986.2 411.5 986.6 409.8 987.1C408.1 987.6 406.3 988.1 404.6 988.6C402.9 989.1 401.2 989.6 399.5 990.1C397.8 990.6 396.1 991.1 394.3 991.6C392.6 992.2 390.9 992.9 389.1 993.5C387.4 994.2 385.6 994.8 383.8 995.5C381.9 996.3 380.1 997 378.1 997.9C376.2 998.7 374.2 999.7 372.1 1000.7C369.9 1001.7 367.8 1002.7 365.5 1003.8C363.2 1004.8 360.7 1006 358.2 1007C355.7 1008 353.1 1009.1 350.4 1009.9C347.8 1010.6 344.8 1011.7 342.3 1011.5C339.8 1011.4 337.8 1009.9 335.6 1008.8C333.5 1007.7 331.3 1006.7 329.4 1005.1C327.6 1003.6 326 1001.4 324.5 999.5C323 997.6 321.6 995.6 320.3 993.5C319 991.5 317.8 989.3 316.7 987.2C315.5 985.2 314.3 983.2 313.3 981.2C312.2 979.2 311.4 977 310.4 975C309.5 973 308.6 971 307.7 969C306.8 967.1 306 965.1 305 963.3C304.1 961.4 303.1 959.6 302 957.8C301 956 300 954.2 298.9 952.4C297.8 950.5 296.9 948.7 295.7 946.8C294.5 945 293.1 943.3 291.7 941.4C290.3 939.6 288.5 937.7 287.2 935.7C285.9 933.8 284.7 931.6 283.7 929.5C282.8 927.3 282.1 925 281.7 922.8C281.3 920.5 281.4 918.1 281.3 915.8C281.3 913.5 281.3 911.2 281.6 908.9C282 906.6 282.6 904.3 283.3 902.1C284 899.9 284.6 897.6 285.7 895.6C286.9 893.5 288.6 891.6 290.2 889.8C291.7 887.9 293.5 886.2 295.2 884.6C297 883 298.9 881.5 300.8 880.1C302.7 878.7 304.8 877.5 306.7 876.3C308.7 875.1 310.5 874 312.3 872.9C314.1 871.8 315.9 870.8 317.6 869.8C319.3 868.8 321 867.8 322.7 866.9C324.4 866 326 865.1 327.5 864.2C329.1 863.3 330.6 862.4 332.2 861.6C333.7 860.7 335.2 859.9 336.7 859.1C338.2 858.3 339.7 857.6 341.2 856.8C342.6 856 344.1 855.3 345.6 854.5C347 853.7 348.5 853 350 852.2C351.4 851.4 352.9 850.7 354.3 849.8C355.8 849 357.2 848 358.6 847.1C360.1 846.1 361.6 845.2 363.1 844.2C364.6 843.2 366.2 842.2 367.8 841.2C369.4 840.2 371.1 839.1 372.8 838.1C374.5 837 376.3 835.9 378.1 834.8C380 833.7 381.9 832.5 383.9 831.3C385.9 830.1 388.1 828.7 390.2 827.6C392.4 826.5 394.7 825.7 397 824.7C399.4 823.7 401.9 822.5 404.4 821.7C407 820.9 409.5 820.3 412.2 819.6C414.9 819 417.6 818.6 420.5 818C423.4 817.5 426.4 816.8 429.5 816.3C432.6 815.8 435.7 815.6 439 815.2C442.4 814.9 445.8 814.5 449.5 814.2C453.2 813.9 457.2 813.3 461.1 813.2C465.1 813.1 469.7 812.6 473 813.6C476.3 814.7 479.1 816.7 480.7 819.5C482.4 822.3 482.3 826.8 482.8 830.4C483.2 834 483.6 837.6 483.6 841.3C483.5 844.9 483 848.8 482.6 852.3C482.2 855.9 481.7 859.3 481.3 862.5C480.9 865.7 481 868.5 480.4 871.6C479.7 874.6 478.6 877.7 477.5 880.7C476.3 883.7 474.6 886.6 473.4 889.3C472.1 892 471.1 894.5 470 896.9C468.9 899.3 467.7 901.6 466.8 903.7C465.9 905.9 465.2 908 464.5 910C463.8 912 463.3 913.9 462.8 915.8Z" fill="#37ffc9"/>
<path d="M460.9 915.8C460.4 917.7 459.8 919.5 459.2 921.3C458.7 923.1 458.2 924.8 457.8 926.6C457.4 928.4 457.1 930.1 456.7 931.9C456.4 933.7 456.1 935.5 455.8 937.3C455.5 939.1 455.2 940.9 454.8 942.7C454.4 944.5 453.8 946.2 453.3 948C452.7 949.8 452.2 951.6 451.5 953.3C450.9 955.1 450.3 956.9 449.5 958.6C448.7 960.3 447.6 961.9 446.6 963.5C445.7 965.2 444.9 967 443.8 968.5C442.7 970.1 441.4 971.5 440 972.8C438.7 974.2 437.1 975.4 435.6 976.5C434 977.5 432.4 978.6 430.7 979.4C428.9 980.2 427 980.7 425.2 981.3C423.4 982 421.6 982.6 419.9 983.2C418.1 983.8 416.4 984.4 414.7 985C413 985.5 411.3 986 409.5 986.5C407.8 987 406.1 987.5 404.4 988C402.7 988.5 401 989 399.3 989.5C397.6 990 395.9 990.4 394.2 991C392.5 991.6 390.8 992.2 389.1 992.9C387.3 993.5 385.6 994.1 383.7 994.8C381.9 995.5 380.1 996.2 378.1 997C376.2 997.9 374.2 998.7 372.2 999.7C370.1 1000.6 367.9 1001.6 365.7 1002.6C363.4 1003.5 361.1 1004.6 358.6 1005.6C356.1 1006.6 353.5 1007.6 350.9 1008.4C348.3 1009.1 345.3 1010.3 342.9 1010.1C340.5 1009.9 338.5 1008.4 336.4 1007.3C334.3 1006.2 332.1 1005.1 330.3 1003.5C328.5 1002 327 999.9 325.5 998C324 996.1 322.6 994.2 321.3 992.1C320.1 990.1 319 988 317.8 986C316.7 983.9 315.5 982 314.5 980C313.4 978 312.6 975.9 311.7 973.9C310.8 972 309.9 970 309 968.1C308.1 966.2 307.3 964.2 306.4 962.4C305.5 960.6 304.5 958.8 303.5 957C302.5 955.2 301.5 953.5 300.4 951.7C299.4 949.9 298.5 948.1 297.3 946.3C296.1 944.5 294.8 942.7 293.4 940.9C292 939.1 290.2 937.3 288.9 935.4C287.7 933.4 286.5 931.3 285.6 929.2C284.8 927.1 284.1 924.8 283.8 922.6C283.5 920.4 283.7 918.1 283.7 915.8C283.8 913.6 283.8 911.3 284.2 909C284.6 906.8 285.4 904.6 286.1 902.5C286.8 900.3 287.3 898.1 288.5 896.2C289.6 894.2 291.3 892.3 292.8 890.5C294.4 888.8 296 887.1 297.7 885.5C299.4 883.9 301.1 882.4 302.9 881.1C304.7 879.7 306.7 878.5 308.5 877.3C310.3 876.1 312 874.9 313.8 873.8C315.5 872.7 317.2 871.7 318.8 870.7C320.5 869.6 322.1 868.7 323.7 867.8C325.3 866.8 326.9 865.9 328.4 865C329.9 864.1 331.4 863.2 332.9 862.4C334.3 861.5 335.8 860.7 337.3 859.9C338.7 859.1 340.2 858.3 341.7 857.6C343.1 856.8 344.6 856 346 855.3C347.5 854.5 348.9 853.8 350.3 853C351.8 852.2 353.2 851.5 354.6 850.6C356.1 849.8 357.5 848.8 358.9 847.9C360.3 846.9 361.8 846 363.3 845C364.8 844 366.4 843.1 368 842C369.6 841 371.2 840 372.9 838.9C374.6 837.8 376.3 836.7 378.2 835.6C380 834.5 381.9 833.3 383.9 832.1C385.9 830.9 388 829.5 390.2 828.4C392.3 827.3 394.6 826.4 396.9 825.5C399.3 824.5 401.7 823.3 404.3 822.4C406.8 821.6 409.3 821 412 820.4C414.6 819.8 417.3 819.4 420.2 818.8C423 818.3 426.1 817.6 429.1 817.1C432.2 816.7 435.2 816.5 438.5 816.2C441.8 815.9 445.2 815.5 448.8 815.3C452.4 815 456.2 814.7 459.9 814.8C463.7 814.8 468 814.5 471.3 815.5C474.5 816.5 477.7 818.1 479.4 820.8C481.1 823.4 481.1 827.9 481.6 831.4C482.1 835 482.5 838.5 482.4 842.1C482.4 845.7 481.8 849.5 481.4 853.1C481 856.6 480.4 860 480 863.2C479.6 866.4 479.5 869.2 478.8 872.3C478.1 875.3 477 878.4 475.9 881.3C474.7 884.2 473.2 887.1 472 889.7C470.7 892.4 469.6 894.8 468.5 897.2C467.3 899.6 466.1 901.8 465.1 904C464.2 906.1 463.4 908.1 462.7 910.1C462 912.1 461.5 913.9 460.9 915.8Z" fill="#1ef9e1"/>
<path d="M459.1 915.8C458.5 917.6 457.9 919.4 457.3 921.2C456.8 922.9 456.3 924.6 455.8 926.3C455.4 928.1 455.1 929.8 454.7 931.5C454.4 933.2 454 934.9 453.7 936.7C453.3 938.4 453 940.2 452.6 941.9C452.2 943.6 451.7 945.3 451.1 947.1C450.6 948.8 450.1 950.5 449.5 952.3C448.9 954 448.4 955.8 447.7 957.5C446.9 959.2 446 960.8 445.2 962.5C444.4 964.2 443.7 966 442.7 967.6C441.7 969.2 440.5 970.7 439.2 972C437.9 973.4 436.4 974.6 434.9 975.7C433.4 976.9 431.8 977.9 430.1 978.8C428.5 979.6 426.5 980.1 424.7 980.7C423 981.3 421.2 982 419.5 982.6C417.8 983.2 416.1 983.8 414.4 984.4C412.7 984.9 411 985.4 409.3 985.9C407.6 986.4 405.9 986.9 404.2 987.4C402.5 987.9 400.9 988.4 399.2 988.9C397.5 989.4 395.8 989.8 394.1 990.4C392.4 990.9 390.7 991.6 389 992.2C387.3 992.8 385.5 993.4 383.7 994.1C381.9 994.8 380.1 995.5 378.2 996.2C376.3 997 374.3 997.8 372.3 998.6C370.2 999.5 368.1 1000.4 365.9 1001.3C363.7 1002.3 361.4 1003.3 358.9 1004.2C356.5 1005.1 354 1006.1 351.4 1006.9C348.8 1007.6 345.9 1008.8 343.5 1008.6C341.1 1008.4 339.2 1006.8 337.1 1005.7C335.1 1004.6 333 1003.5 331.3 1001.9C329.5 1000.4 328 998.4 326.5 996.6C325 994.7 323.7 992.7 322.4 990.8C321.2 988.8 320.1 986.7 319 984.7C317.8 982.7 316.7 980.9 315.7 978.9C314.7 976.9 313.8 974.9 313 972.9C312.1 970.9 311.2 969 310.3 967.1C309.5 965.2 308.7 963.4 307.8 961.5C306.9 959.7 306 958 305 956.2C304 954.5 303 952.7 302 951C301 949.2 300.1 947.4 298.9 945.7C297.8 943.9 296.4 942.2 295.1 940.4C293.7 938.7 292 936.9 290.7 935C289.5 933.1 288.3 931 287.5 928.9C286.7 926.9 286.1 924.7 285.9 922.5C285.6 920.3 286 918 286.2 915.8C286.3 913.6 286.3 911.4 286.7 909.2C287.2 907.1 288.1 904.9 288.8 902.9C289.6 900.8 290.1 898.7 291.2 896.7C292.3 894.8 294 893 295.5 891.3C297 889.6 298.6 887.9 300.1 886.4C301.7 884.8 303.4 883.4 305.1 882C306.8 880.7 308.6 879.5 310.3 878.2C312 877 313.6 875.8 315.2 874.7C316.9 873.6 318.5 872.6 320 871.5C321.6 870.5 323.2 869.6 324.8 868.6C326.3 867.7 327.8 866.8 329.2 865.9C330.7 864.9 332.1 864 333.6 863.2C335 862.3 336.4 861.5 337.9 860.7C339.3 859.9 340.8 859.1 342.2 858.3C343.6 857.6 345.1 856.8 346.5 856.1C347.9 855.3 349.3 854.5 350.7 853.8C352.1 853 353.5 852.3 355 851.4C356.4 850.6 357.7 849.6 359.2 848.7C360.6 847.8 362 846.8 363.5 845.8C365 844.9 366.5 843.9 368.1 842.9C369.7 841.8 371.3 840.8 373 839.7C374.7 838.6 376.4 837.5 378.2 836.4C380 835.3 381.9 834.1 383.9 832.9C385.9 831.7 387.9 830.2 390.1 829.1C392.2 828 394.4 827.2 396.8 826.2C399.1 825.2 401.6 824 404.1 823.2C406.6 822.3 409.1 821.7 411.7 821.1C414.4 820.5 417 820.1 419.8 819.6C422.7 819.1 425.7 818.4 428.7 817.9C431.7 817.5 434.7 817.4 438 817.1C441.2 816.8 444.6 816.5 448.1 816.3C451.5 816.2 455.1 816.1 458.7 816.3C462.3 816.5 466.3 816.5 469.5 817.5C472.8 818.4 476.2 819.6 478 822.1C479.9 824.6 479.8 828.9 480.4 832.4C480.9 835.9 481.3 839.3 481.3 842.9C481.3 846.5 480.7 850.3 480.2 853.8C479.8 857.3 479.2 860.7 478.7 863.9C478.2 867 477.9 870 477.2 873C476.5 876 475.4 879 474.3 881.8C473.2 884.7 471.8 887.5 470.5 890.1C469.3 892.7 468.1 895.2 466.9 897.5C465.7 899.9 464.5 902.1 463.5 904.2C462.5 906.3 461.7 908.3 461 910.2C460.2 912.2 459.7 914 459.1 915.8Z" fill="#07f2f8"/>
<path d="M457.3 915.8C456.6 917.6 456 919.3 455.4 921C454.9 922.7 454.3 924.4 453.9 926.1C453.4 927.7 453.1 929.4 452.7 931.1C452.3 932.7 451.9 934.4 451.6 936.1C451.2 937.7 450.9 939.4 450.4 941.1C450 942.8 449.5 944.4 449 946.1C448.5 947.8 448 949.5 447.5 951.2C447 952.9 446.5 954.6 445.8 956.3C445.2 958 444.5 959.7 443.8 961.4C443.1 963.2 442.5 965.1 441.6 966.7C440.7 968.3 439.6 969.8 438.4 971.2C437.1 972.6 435.7 973.9 434.3 975C432.8 976.2 431.3 977.3 429.6 978.1C428 978.9 426.1 979.4 424.3 980.1C422.6 980.7 420.9 981.3 419.2 981.9C417.5 982.6 415.8 983.2 414.1 983.7C412.4 984.3 410.7 984.8 409 985.3C407.4 985.8 405.7 986.3 404 986.7C402.4 987.2 400.7 987.7 399 988.2C397.4 988.7 395.7 989.2 394 989.7C392.3 990.3 390.7 990.9 388.9 991.5C387.2 992.1 385.5 992.7 383.7 993.4C381.9 994 380.1 994.7 378.2 995.4C376.3 996.1 374.4 996.8 372.4 997.6C370.4 998.4 368.3 999.2 366.1 1000.1C363.9 1001 361.7 1001.9 359.3 1002.8C356.9 1003.7 354.4 1004.7 351.9 1005.4C349.3 1006.1 346.4 1007.3 344.1 1007.1C341.7 1006.9 339.9 1005.3 337.9 1004.2C335.9 1003 333.9 1001.9 332.2 1000.3C330.4 998.8 329 996.9 327.5 995.1C326.1 993.3 324.7 991.3 323.5 989.4C322.3 987.4 321.2 985.4 320.1 983.4C319 981.5 317.8 979.7 316.9 977.7C315.9 975.8 315.1 973.8 314.2 971.8C313.3 969.9 312.5 968 311.7 966.2C310.8 964.3 310.1 962.5 309.2 960.7C308.3 958.9 307.4 957.2 306.4 955.4C305.5 953.7 304.5 952 303.5 950.3C302.5 948.6 301.6 946.8 300.5 945.1C299.4 943.4 298.1 941.7 296.7 940C295.4 938.2 293.7 936.5 292.5 934.6C291.3 932.7 290.2 930.7 289.4 928.7C288.7 926.6 288.1 924.5 288 922.3C287.8 920.2 288.3 918 288.6 915.8C288.8 913.7 288.8 911.5 289.3 909.4C289.8 907.3 290.8 905.3 291.6 903.2C292.3 901.2 292.9 899.2 294 897.3C295.1 895.5 296.7 893.7 298.2 892.1C299.6 890.4 301.1 888.8 302.6 887.3C304.1 885.8 305.6 884.3 307.2 883C308.8 881.6 310.5 880.4 312.1 879.2C313.7 878 315.2 876.8 316.7 875.7C318.2 874.5 319.8 873.5 321.3 872.4C322.8 871.4 324.3 870.5 325.8 869.5C327.3 868.5 328.7 867.6 330.1 866.7C331.5 865.8 332.9 864.8 334.3 863.9C335.7 863.1 337.1 862.2 338.5 861.4C339.9 860.6 341.3 859.9 342.7 859.1C344.1 858.3 345.5 857.6 346.9 856.8C348.3 856.1 349.7 855.3 351.1 854.5C352.5 853.8 353.9 853.1 355.3 852.2C356.7 851.4 358 850.4 359.4 849.5C360.8 848.6 362.3 847.6 363.7 846.7C365.2 845.7 366.7 844.7 368.3 843.7C369.8 842.7 371.4 841.6 373.1 840.5C374.7 839.5 376.4 838.4 378.2 837.2C380 836.1 381.9 834.9 383.8 833.7C385.8 832.4 387.9 831 390 829.9C392.1 828.8 394.3 828 396.6 827C399 826 401.4 824.7 403.9 823.9C406.4 823 408.9 822.5 411.5 821.9C414.1 821.3 416.7 820.9 419.5 820.4C422.3 819.9 425.3 819.2 428.3 818.8C431.3 818.4 434.3 818.3 437.4 818C440.6 817.8 444 817.4 447.3 817.4C450.7 817.4 454.1 817.6 457.5 817.9C460.9 818.2 464.6 818.5 467.8 819.4C471 820.3 474.8 821 476.7 823.4C478.6 825.7 478.6 830 479.2 833.4C479.7 836.8 480.2 840.2 480.2 843.7C480.2 847.2 479.5 851.1 479 854.5C478.6 858 478 861.4 477.4 864.5C476.8 867.7 476.4 870.7 475.6 873.7C474.9 876.6 473.8 879.6 472.7 882.4C471.6 885.2 470.4 888 469.1 890.5C467.9 893.1 466.6 895.6 465.4 897.9C464.1 900.2 462.8 902.4 461.8 904.5C460.8 906.5 459.9 908.5 459.2 910.3C458.4 912.2 457.9 914 457.3 915.8Z" fill="#00e0ff"/>
<path d="M455.4 915.8C454.8 917.5 454.1 919.2 453.5 920.9C452.9 922.5 452.3 924.2 451.9 925.8C451.4 927.4 451.1 929 450.7 930.6C450.3 932.2 449.9 933.8 449.5 935.4C449.1 937.1 448.7 938.7 448.2 940.3C447.8 941.9 447.3 943.5 446.9 945.2C446.4 946.8 445.9 948.4 445.5 950.1C445 951.8 444.5 953.5 444 955.2C443.5 956.9 442.9 958.6 442.3 960.4C441.7 962.1 441.3 964.1 440.5 965.8C439.7 967.4 438.7 969 437.5 970.4C436.4 971.8 435 973.1 433.6 974.3C432.2 975.5 430.7 976.6 429.1 977.4C427.5 978.3 425.6 978.8 423.9 979.4C422.1 980.1 420.5 980.7 418.8 981.3C417.1 981.9 415.5 982.6 413.8 983.1C412.1 983.7 410.4 984.1 408.8 984.6C407.1 985.1 405.5 985.6 403.8 986.1C402.2 986.6 400.5 987.1 398.9 987.6C397.2 988.1 395.6 988.6 393.9 989.1C392.2 989.6 390.6 990.3 388.9 990.8C387.2 991.4 385.4 992 383.7 992.7C381.9 993.3 380.1 993.9 378.2 994.6C376.4 995.2 374.5 995.9 372.5 996.6C370.5 997.3 368.5 998.1 366.3 998.9C364.2 999.7 362 1000.6 359.6 1001.4C357.3 1002.2 354.9 1003.2 352.4 1003.9C349.9 1004.6 347 1005.9 344.7 1005.7C342.4 1005.4 340.6 1003.8 338.6 1002.6C336.7 1001.5 334.8 1000.3 333.1 998.8C331.4 997.3 329.9 995.4 328.5 993.6C327.1 991.8 325.8 989.9 324.6 988C323.4 986.1 322.3 984.1 321.2 982.2C320.1 980.3 319 978.5 318 976.6C317.1 974.7 316.3 972.7 315.5 970.8C314.6 968.9 313.8 967 313 965.2C312.2 963.4 311.4 961.6 310.6 959.8C309.7 958 308.8 956.4 307.9 954.7C307 953 306 951.3 305 949.6C304.1 947.9 303.2 946.2 302.1 944.5C301 942.8 299.7 941.2 298.4 939.5C297.1 937.8 295.4 936.1 294.2 934.2C293.1 932.4 292 930.4 291.3 928.4C290.6 926.4 290.1 924.3 290.1 922.2C290 920.1 290.7 917.9 291 915.8C291.3 913.7 291.3 911.6 291.8 909.6C292.4 907.6 293.5 905.6 294.3 903.6C295.1 901.7 295.6 899.7 296.7 897.9C297.8 896.1 299.4 894.5 300.8 892.8C302.2 891.2 303.6 889.7 305.1 888.2C306.5 886.7 307.9 885.3 309.4 883.9C310.8 882.6 312.4 881.4 313.9 880.1C315.4 878.9 316.8 877.7 318.2 876.6C319.6 875.4 321.1 874.4 322.5 873.3C323.9 872.3 325.4 871.3 326.8 870.4C328.2 869.4 329.6 868.4 331 867.5C332.3 866.6 333.6 865.6 335 864.7C336.3 863.9 337.7 863 339.1 862.2C340.5 861.4 341.9 860.7 343.3 859.9C344.6 859.1 346 858.4 347.4 857.6C348.7 856.8 350.1 856.1 351.5 855.3C352.8 854.6 354.2 853.9 355.6 853C357 852.2 358.3 851.2 359.7 850.3C361.1 849.4 362.5 848.5 363.9 847.5C365.4 846.5 366.9 845.5 368.4 844.5C369.9 843.5 371.5 842.4 373.1 841.3C374.8 840.3 376.5 839.2 378.3 838C380 836.9 381.9 835.7 383.8 834.5C385.8 833.2 387.8 831.8 389.9 830.6C392 829.5 394.2 828.8 396.5 827.8C398.8 826.8 401.3 825.5 403.7 824.6C406.2 823.8 408.7 823.2 411.3 822.6C413.8 822 416.4 821.7 419.2 821.2C422 820.7 425 820 427.9 819.6C430.9 819.2 433.8 819.2 436.9 819C440 818.8 443.4 818.4 446.6 818.5C449.9 818.6 453 819 456.3 819.4C459.5 819.9 462.9 820.4 466.1 821.3C469.3 822.2 473.4 822.5 475.4 824.7C477.3 826.9 477.3 831.1 478 834.4C478.6 837.7 479.1 841.1 479.1 844.6C479 848 478.4 851.8 477.9 855.3C477.4 858.7 476.7 862.1 476.1 865.2C475.5 868.4 474.9 871.4 474.1 874.4C473.2 877.3 472.2 880.2 471.1 883C470.1 885.8 468.9 888.4 467.7 890.9C466.5 893.5 465.1 895.9 463.8 898.2C462.6 900.5 461.2 902.6 460.1 904.7C459.1 906.7 458.2 908.6 457.4 910.5C456.6 912.3 456.1 914.1 455.4 915.8Z" fill="#00c8ff"/>
<path d="M455.4 915.8C454.8 917.5 454.1 919.2 453.5 920.9C452.9 922.5 452.3 924.2 451.9 925.8C451.4 927.4 451.1 929 450.7 930.6C450.3 932.2 449.9 933.8 449.5 935.4C449.1 937.1 448.7 938.7 448.2 940.3C447.8 941.9 447.3 943.5 446.9 945.2C446.4 946.8 445.9 948.4 445.5 950.1C445 951.8 444.5 953.5 444 955.2C443.5 956.9 442.9 958.6 442.3 960.4C441.7 962.1 441.3 964.1 440.5 965.8C439.7 967.4 438.7 969 437.5 970.4C436.4 971.8 435 973.1 433.6 974.3C432.2 975.5 430.7 976.6 429.1 977.4C427.5 978.3 425.6 978.8 423.9 979.4C422.1 980.1 420.5 980.7 418.8 981.3C417.1 981.9 415.5 982.6 413.8 983.1C412.1 983.7 410.4 984.1 408.8 984.6C407.1 985.1 405.5 985.6 403.8 986.1C402.2 986.6 400.5 987.1 398.9 987.6C397.2 988.1 395.6 988.6 393.9 989.1C392.2 989.6 390.6 990.3 388.9 990.8C387.2 991.4 385.4 992 383.7 992.7C381.9 993.3 380.1 993.9 378.2 994.6C376.4 995.2 374.5 995.9 372.5 996.6C370.5 997.3 368.5 998.1 366.3 998.9C364.2 999.7 362 1000.6 359.6 1001.4C357.3 1002.2 354.9 1003.2 352.4 1003.9C349.9 1004.6 347 1005.9 344.7 1005.7C342.4 1005.4 340.6 1003.8 338.6 1002.6C336.7 1001.5 334.8 1000.3 333.1 998.8C331.4 997.3 329.9 995.4 328.5 993.6C327.1 991.8 325.8 989.9 324.6 988C323.4 986.1 322.3 984.1 321.2 982.2C320.1 980.3 319 978.5 318 976.6C317.1 974.7 316.3 972.7 315.5 970.8C314.6 968.9 313.8 967 313 965.2C312.2 963.4 311.4 961.6 310.6 959.8C309.7 958 308.8 956.4 307.9 954.7C307 953 306 951.3 305 949.6C304.1 947.9 303.2 946.2 302.1 944.5C301 942.8 299.7 941.2 298.4 939.5C297.1 937.8 295.4 936.1 294.2 934.2C293.1 932.4 292 930.4 291.3 928.4C290.6 926.4 290.1 924.3 290.1 922.2C290 920.1 290.7 917.9 291 915.8C291.3 913.7 291.3 911.6 291.8 909.6C292.4 907.6 293.5 905.6 294.3 903.6C295.1 901.7 295.6 899.7 296.7 897.9C297.8 896.1 299.4 894.5 300.8 892.8C302.2 891.2 303.6 889.7 305.1 888.2C306.5 886.7 307.9 885.3 309.4 883.9C310.8 882.6 312.4 881.4 313.9 880.1C315.4 878.9 316.8 877.7 318.2 876.6C319.6 875.4 321.1 874.4 322.5 873.3C323.9 872.3 325.4 871.3 326.8 870.4C328.2 869.4 329.6 868.4 331 867.5C332.3 866.6 333.6 865.6 335 864.7C336.3 863.9 337.7 863 339.1 862.2C340.5 861.4 341.9 860.7 343.3 859.9C344.6 859.1 346 858.4 347.4 857.6C348.7 856.8 350.1 856.1 351.5 855.3C352.8 854.6 354.2 853.9 355.6 853C357 852.2 358.3 851.2 359.7 850.3C361.1 849.4 362.5 848.5 363.9 847.5C365.4 846.5 366.9 845.5 368.4 844.5C369.9 843.5 371.5 842.4 373.1 841.3C374.8 840.3 376.5 839.2 378.3 838C380 836.9 381.9 835.7 383.8 834.5C385.8 833.2 387.8 831.8 389.9 830.6C392 829.5 394.2 828.8 396.5 827.8C398.8 826.8 401.3 825.5 403.7 824.6C406.2 823.8 408.7 823.2 411.3 822.6C413.8 822 416.4 821.7 419.2 821.2C422 820.7 425 820 427.9 819.6C430.9 819.2 433.8 819.2 436.9 819C440 818.8 443.4 818.4 446.6 818.5C449.9 818.6 453 819 456.3 819.4C459.5 819.9 462.9 820.4 466.1 821.3C469.3 822.2 473.4 822.5 475.4 824.7C477.3 826.9 477.3 831.1 478 834.4C478.6 837.7 479.1 841.1 479.1 844.6C479 848 478.4 851.8 477.9 855.3C477.4 858.7 476.7 862.1 476.1 865.2C475.5 868.4 474.9 871.4 474.1 874.4C473.2 877.3 472.2 880.2 471.1 883C470.1 885.8 468.9 888.4 467.7 890.9C466.5 893.5 465.1 895.9 463.8 898.2C462.6 900.5 461.2 902.6 460.1 904.7C459.1 906.7 458.2 908.6 457.4 910.5C456.6 912.3 456.1 914.1 455.4 915.8Z" fill="#fff"/>
<path d="M452.1 975.5C451.1 976 448.3 977.9 446.3 978.9C444.4 980 442.4 980.9 440.4 981.9C438.5 982.8 436.5 983.6 434.5 984.3C432.5 985.1 430.4 985.6 428.4 986.2C426.5 986.8 424.5 987.4 422.6 988C420.7 988.5 418.9 989.1 417 989.7C415.1 990.2 413.3 990.7 411.4 991.2C409.6 991.7 407.8 992.2 405.9 992.7C404.1 993.2 402.3 993.6 400.5 994.1C398.7 994.7 396.9 995.1 395.1 995.8C393.3 996.4 391.5 997.2 389.6 997.9C387.7 998.7 385.9 999.3 383.9 1000.2C382 1001.1 380 1002.1 377.9 1003.2C375.8 1004.4 373.7 1005.9 371.4 1007.3C369 1008.7 366.6 1010.3 364.1 1011.7C361.5 1013.2 358.8 1014.8 356 1016.1C353.2 1017.4 350.2 1018.8 347.2 1019.7C344.3 1020.5 341.2 1021.3 338.4 1021.1C335.7 1021 333.2 1019.8 330.7 1018.9C328.2 1017.9 325.6 1017.1 323.5 1015.4C321.3 1013.8 319.7 1011.3 318 1009.1C316.3 1007 314.7 1004.8 313.3 1002.5C311.8 1000.2 310.6 997.7 309.3 995.4C308 993.1 306.7 991 305.5 988.7C304.3 986.4 303.3 984.1 302.2 981.9C301.2 979.6 300.2 977.4 299.1 975.3C298.1 973.1 297.1 971 296 968.9C294.9 966.8 293.7 964.9 292.5 962.8C291.3 960.8 290.1 958.8 288.9 956.8C287.7 954.8 286.6 952.7 285.3 950.6C283.9 948.6 282.3 946.6 280.7 944.6C279.1 942.5 277.3 940.4 275.7 938.2C274.2 936 272.6 933.6 271.4 931.2C270.1 928.8 269 926.3 268.1 923.7C267.2 921.1 266.2 918.5 265.7 915.8C265.2 913.1 265.1 910.4 265.1 907.7C265 905 265 902.2 265.5 899.6C266 896.9 266.7 894.2 267.9 891.8C269.1 889.3 270.9 887 272.8 884.8C274.7 882.6 276.9 880.6 279.3 878.8C281.6 877 284.2 875.4 286.9 873.9C289.5 872.5 292.5 871.3 295.1 870.2C297.8 869 301.4 867.4 302.7 866.9" stroke="#fff" stroke-width="1.6" fill="none" stroke-dasharray="9 3 5 4"/><path d="M449.8 973.5C448.9 974.1 446.3 976.1 444.6 977.2C442.8 978.4 440.9 979.4 439.1 980.3C437.2 981.3 435.4 982.2 433.4 983C431.5 983.7 429.5 984.2 427.5 984.8C425.6 985.4 423.7 986 421.9 986.6C420 987.2 418.2 987.8 416.4 988.3C414.5 988.9 412.7 989.4 410.9 989.9C409.1 990.4 407.3 990.9 405.5 991.4C403.7 991.9 402 992.3 400.2 992.8C398.4 993.4 396.6 993.8 394.8 994.4C393.1 995 391.3 995.8 389.5 996.5C387.6 997.2 385.8 997.9 383.9 998.7C382 999.5 380 1000.4 378 1001.5C375.9 1002.6 373.8 1003.9 371.6 1005.2C369.3 1006.5 367 1007.8 364.5 1009.2C362 1010.5 359.4 1011.9 356.7 1013.2C354 1014.4 351.1 1015.7 348.3 1016.5C345.4 1017.3 342.3 1018.2 339.7 1018C337 1017.9 334.7 1016.6 332.3 1015.6C329.9 1014.6 327.4 1013.7 325.4 1012.1C323.4 1010.5 321.8 1008.1 320.1 1006C318.5 1003.9 316.9 1001.8 315.5 999.6C314.1 997.4 312.9 995 311.7 992.8C310.4 990.6 309.1 988.5 308 986.3C306.9 984.1 305.9 981.8 304.9 979.7C303.9 977.5 302.9 975.4 301.9 973.3C300.9 971.2 300 969.1 298.9 967.1C297.9 965.1 296.7 963.2 295.6 961.2C294.5 959.3 293.3 957.3 292.1 955.4C291 953.4 290 951.4 288.6 949.4C287.3 947.4 285.8 945.5 284.3 943.5C282.7 941.5 280.9 939.5 279.4 937.4C277.9 935.2 276.5 933 275.4 930.7C274.2 928.3 273.3 925.9 272.5 923.4C271.7 920.9 271.1 918.4 270.8 915.8C270.4 913.3 270.3 910.7 270.4 908.1C270.5 905.5 270.7 902.9 271.2 900.4C271.8 897.9 272.5 895.3 273.7 893C274.9 890.7 276.6 888.5 278.4 886.4C280.2 884.3 282.3 882.4 284.4 880.7C286.6 878.9 289 877.3 291.4 875.9C293.8 874.5 296.5 873.3 298.9 872.2C301.3 871 304.6 869.4 305.8 868.8" stroke="#fff" stroke-width="1.4" fill="none" stroke-dasharray="9 3 5 4"/><path d="M447.4 971.6C446.7 972.2 444.4 974.3 442.8 975.5C441.2 976.7 439.5 977.8 437.7 978.8C436 979.8 434.2 980.8 432.4 981.6C430.5 982.4 428.5 982.9 426.6 983.5C424.7 984.1 422.9 984.7 421.1 985.3C419.3 985.9 417.5 986.5 415.7 987C413.9 987.6 412.1 988.1 410.4 988.6C408.6 989.1 406.8 989.6 405.1 990C403.3 990.5 401.6 991 399.9 991.5C398.1 992 396.4 992.5 394.6 993.1C392.8 993.7 391.1 994.4 389.3 995.1C387.5 995.8 385.7 996.4 383.8 997.2C381.9 998 380 998.8 378 999.8C376 1000.7 374 1001.9 371.8 1003C369.6 1004.2 367.4 1005.4 365 1006.6C362.6 1007.8 360.1 1009.1 357.4 1010.2C354.8 1011.3 352 1012.6 349.3 1013.3C346.5 1014.1 343.5 1015.1 340.9 1014.9C338.4 1014.8 336.1 1013.4 333.9 1012.4C331.6 1011.3 329.2 1010.3 327.3 1008.8C325.4 1007.2 323.8 1004.9 322.2 1002.9C320.6 1000.9 319.1 998.8 317.8 996.7C316.4 994.6 315.3 992.3 314.1 990.1C312.9 988 311.6 986 310.5 983.9C309.4 981.7 308.5 979.5 307.5 977.4C306.6 975.3 305.6 973.3 304.7 971.3C303.7 969.2 302.8 967.2 301.8 965.3C300.8 963.3 299.7 961.5 298.7 959.6C297.6 957.7 296.5 955.8 295.4 953.9C294.3 952 293.3 950.1 292 948.2C290.8 946.3 289.3 944.5 287.8 942.5C286.3 940.6 284.5 938.7 283.1 936.6C281.7 934.5 280.4 932.3 279.4 930.1C278.3 927.8 277.5 925.5 276.9 923.1C276.3 920.7 276 918.3 275.8 915.8C275.6 913.4 275.6 910.9 275.8 908.5C276 906 276.4 903.6 277 901.2C277.6 898.8 278.3 896.4 279.4 894.2C280.6 892 282.3 890 284 888C285.7 886.1 287.6 884.2 289.6 882.5C291.6 880.9 293.7 879.3 295.9 877.9C298 876.5 300.5 875.4 302.6 874.2C304.8 873 307.8 871.3 308.9 870.8" stroke="#fff" stroke-width="1.2" fill="none" stroke-dasharray="9 3 5 4"/><path d="M444.7 969.3C444 970 442.1 972.2 440.7 973.5C439.3 974.8 437.7 975.9 436.1 977C434.5 978.1 432.8 979.1 431.1 979.9C429.3 980.7 427.3 981.2 425.5 981.8C423.7 982.5 421.9 983.1 420.2 983.7C418.4 984.3 416.7 984.9 415 985.5C413.2 986 411.5 986.5 409.7 987C408 987.5 406.3 988 404.6 988.5C402.9 989 401.2 989.5 399.5 990C397.8 990.5 396 990.9 394.3 991.5C392.6 992.1 390.9 992.8 389.1 993.4C387.4 994 385.6 994.7 383.8 995.4C381.9 996.1 380.1 996.8 378.1 997.7C376.2 998.5 374.2 999.5 372.1 1000.5C370 1001.4 367.8 1002.5 365.5 1003.5C363.2 1004.5 360.8 1005.7 358.3 1006.7C355.8 1007.7 353.2 1008.8 350.5 1009.6C347.9 1010.3 344.9 1011.4 342.4 1011.2C340 1011 337.9 1009.6 335.8 1008.5C333.6 1007.4 331.5 1006.3 329.6 1004.8C327.8 1003.2 326.3 1001.1 324.7 999.2C323.2 997.3 321.8 995.3 320.5 993.2C319.2 991.2 318.1 989 316.9 986.9C315.8 984.9 314.6 983 313.5 980.9C312.5 978.9 311.6 976.8 310.7 974.8C309.8 972.8 308.9 970.8 308 968.8C307.1 966.9 306.3 965 305.3 963.1C304.4 961.2 303.4 959.4 302.4 957.6C301.4 955.8 300.3 954 299.2 952.2C298.2 950.4 297.3 948.5 296.1 946.7C294.9 944.9 293.5 943.2 292.1 941.3C290.6 939.5 288.9 937.6 287.6 935.7C286.3 933.7 285.1 931.6 284.2 929.4C283.2 927.3 282.5 925 282.1 922.7C281.8 920.5 281.9 918.1 281.9 915.8C281.9 913.5 281.9 911.2 282.2 908.9C282.5 906.6 283.2 904.4 283.9 902.2C284.6 900 285.2 897.7 286.3 895.7C287.5 893.7 289.2 891.8 290.7 889.9C292.3 888.1 294 886.4 295.8 884.8C297.5 883.2 299.4 881.7 301.3 880.3C303.2 878.9 305.2 877.8 307.1 876.6C309 875.3 311.7 873.7 312.6 873.1" stroke="#fff" stroke-width="1.0" fill="none" stroke-dasharray="9 3 5 4"/>
<path d="M476 776 L479.5 792 L481.5 808" stroke="#fff" stroke-width="4" fill="none"/>
<path d="M365.4 801.3 L372 797 L379 792 L382 787 L393 783.5 L403 786 L410 788 L434.5 789" stroke="#b00000" stroke-width="4.5" fill="none" stroke-linejoin="round"/>
<path d="M382 788 L382 799 L382.5 815 M434 789 L432 795 L432.5 801 M401 794 L406 803 L411 811" stroke="#b00000" stroke-width="3" fill="none"/>
<path d="M389 812 L393 805 L400 804" stroke="#e00000" stroke-width="3" fill="none"/>
<path d="M355.8 865.5C354.4 866.7 350.4 870 347.4 872.8C344.5 875.6 340.5 878.6 338 882.3C335.5 885.9 333 890.7 332.3 894.8C331.6 899 332.5 904 333.8 907.4C335.1 910.8 337.8 913.4 340.1 915.4C342.4 917.4 346.2 918.9 347.4 919.6" stroke="#0000b8" stroke-width="7" fill="none" stroke-linecap="round"/>
<path d="M301.3 941C300.3 938.2 296.1 929.8 295.4 924.2C294.8 918.6 295.8 912.7 297.5 907.4C299.2 902.2 302.1 896.9 305.5 892.7C308.9 888.6 313.9 885.4 318.1 882.3C322.3 879.1 328.6 875.3 330.7 873.9" stroke="#0a8cff" stroke-width="3" fill="none" stroke-dasharray="6 3" stroke-linecap="round"/>
<path d="M307.6 936.8C306.7 934.3 302.7 927 302.3 922.1C302 917.2 303.6 912 305.5 907.4C307.4 902.9 310.4 898.7 313.9 894.8C317.4 891 324.4 886.1 326.5 884.4" stroke="#0060ff" stroke-width="2.5" fill="none" stroke-dasharray="4 4" stroke-linecap="round"/>
<path d="M401.9 833C404.7 831.8 412.4 827.6 418.7 826.1C425 824.5 433.4 823.6 439.7 823.6C446 823.6 452.3 824.9 456.5 826.1C460.7 827.2 463.5 829.6 464.9 830.3" stroke="#0030f0" stroke-width="7" fill="none" stroke-linecap="round"/>
<path d="M428.2 926.3C428.7 928 430.3 933.3 431.3 936.8C432.3 940.3 433.9 945.5 434.4 947.3" stroke="#0040ff" stroke-width="3" fill="none" stroke-linecap="round"/>
<path d="M442.8 884.4C443 888.2 444.1 900.4 443.9 907.4C443.7 914.4 442.5 919.3 441.8 926.3C441.1 933.3 440.2 943.4 439.7 949.4C439.2 955.3 438.8 959.8 438.6 961.9" stroke="#0060ff" stroke-width="3" fill="none" stroke-linecap="round" stroke-dasharray="3 2"/>
<path d="M471.1 846.6C470.8 850.5 470.4 862.7 469 869.7C467.6 876.7 464.9 882.3 462.8 888.6C460.7 894.8 458.4 901.1 456.5 907.4C454.5 913.7 452.6 920 451.2 926.3C449.8 932.6 449.1 939.2 448.1 945.2C447 951.1 445.5 959.1 444.9 961.9" stroke="#00a0ff" stroke-width="4" fill="none" stroke-linecap="round"/>
<path d="M172.5 1041C173.1 1037.2 174.6 1024.8 176 1018C177.4 1011.2 179.2 1006.3 181 1000C182.8 993.7 184.8 987.5 187 980C189.2 972.5 192.2 962.5 194 955C195.8 947.5 197.2 941.7 198 935C198.8 928.3 199.2 924 199 915C198.8 906 197.4 891.7 197 881C196.6 870.3 196.1 858.3 196.4 850.8C196.7 843.3 197.7 840.9 199 836C200.3 831.1 202.5 825.5 204.5 821.5C206.5 817.5 208.1 814.9 211 812C213.9 809.1 218 806.8 222 804C226 801.2 230.8 798 235 795.5C239.2 793 241.2 791.4 247 789C252.8 786.6 262.2 783.7 270 781C277.8 778.3 285.9 775.2 294 773C302.1 770.8 310.1 770.7 318.3 768C326.5 765.3 334.7 761.2 343 757C351.3 752.8 359.8 748 368 743C376.2 738 384 732.2 392 727C400 721.8 408 716.2 416 712C424 707.8 432.7 704.3 440 702C447.3 699.7 453.8 698.7 460 698C466.2 697.3 471.8 697.3 477 698C482.2 698.7 486.3 700.2 491 702C495.7 703.8 500.3 706.2 505 709C509.7 711.8 514.3 715.2 519 719C523.7 722.8 528.5 727.2 533 732C537.5 736.8 542.2 742.5 546 748C549.8 753.5 552.7 759.2 555.5 765C558.3 770.8 560.8 776.8 563 783C565.2 789.2 567.2 795.7 569 802C570.8 808.3 572.2 814.8 573.5 821C574.8 827.2 575.9 833 577 839C578.1 845 579.2 850.2 580 857C580.8 863.8 581.5 872.8 582 880C582.5 887.2 583 893.3 583 900C583 906.7 582.5 913.3 582 920C581.5 926.7 581 934 580 940C579 946 578 949.8 576 956C574 962.2 571.5 968.7 568 977C564.5 985.3 559.3 996.7 555 1006C550.7 1015.3 544.5 1028.3 542 1033C539.5 1037.7 542 1032.5 539.7 1034.1C537.4 1035.7 532.6 1040.3 528.3 1042.7C524 1045.1 518.8 1047.4 514 1048.4C509.2 1049.4 505.7 1049 499.8 1048.6C493.9 1048.2 485.5 1047 478.4 1046.2C471.3 1045.4 464.1 1044.1 457 1044C449.9 1043.9 442.7 1044.3 435.6 1045.5C428.5 1046.7 420.2 1049.1 414.3 1051.2C408.4 1053.3 405.4 1055.2 400 1058.3C394.6 1061.4 389.7 1065.9 382 1070C374.3 1074.1 362.7 1079.5 354 1083C345.3 1086.5 337 1089.5 330 1091C323 1092.5 318.7 1092.3 312 1092C305.3 1091.7 297 1090.5 290 1089C283 1087.5 276.7 1085.8 270 1083C263.3 1080.2 255.8 1076.2 250 1072C244.2 1067.8 239.7 1063.3 235 1058C230.3 1052.7 225.8 1046.3 222 1040C218.2 1033.7 215.5 1026.7 212 1020C208.5 1013.3 204 1007.5 201 1000C198 992.5 196.2 984.2 194 975C191.8 965.8 189.8 954.2 188 945C186.2 935.8 184.3 928.3 183 920C181.7 911.7 180.8 903.3 180 895C179.2 886.7 178.8 877.4 178.5 870C178.2 862.6 177.7 856.7 178.5 850.8C179.3 844.9 181.5 839.4 183.4 834.5C185.3 829.6 187.2 825.8 189.9 821.5C192.6 817.2 195.8 812.6 199.6 808.5C203.4 804.4 207.7 800.5 212.6 797.1C217.5 793.7 223.5 790.6 228.9 788.2C234.3 785.8 238.3 784.8 245.1 782.5C251.9 780.2 261.4 777.1 269.5 774.4C277.6 771.7 285.8 769.1 293.9 766.3C302 763.4 310.2 760.5 318.3 757.3C326.4 754 334.5 750.7 342.6 746.8C350.7 742.9 358.9 738.4 367 733.8C375.1 729.2 383.3 724 391.4 719.1C399.5 714.2 407.7 708.4 415.8 704.5C423.9 700.6 432.8 697.6 440.2 695.6C447.6 693.6 453.8 693 460 692.5C466.2 692 471.9 691.8 477.3 692.5C482.7 693.2 487.3 695.1 492.3 697C497.3 698.9 502.2 701.2 507.2 704C512.2 706.8 517.1 709.7 522.1 713.5C527.1 717.3 532.1 722 537.1 727C542.1 732 547.8 737.7 552 743.5C556.2 749.3 559.4 755.6 562.4 761.6C565.4 767.6 567.6 773.3 569.9 779.5C572.1 785.7 574.1 792.4 575.9 798.9C577.6 805.4 579 812.1 580.4 818.3C581.8 824.5 583.1 830.2 584.1 836.3C585.1 842.4 585.9 847.7 586.5 855C587.1 862.3 587.7 872.5 588 880C588.3 887.5 588.6 893.3 588.5 900C588.4 906.7 588.1 913.3 587.5 920C586.9 926.7 586.2 934.2 585 940C583.8 945.8 582.3 949 580 955C577.7 961 574.8 967.7 571 976C567.2 984.3 561.7 995.7 557 1005C552.3 1014.3 546.6 1025.5 543 1032C539.4 1038.5 539 1040.2 535.4 1044.1C531.8 1048 526 1052.5 521.2 1055.5C516.5 1058.5 512.9 1060.7 506.9 1061.9C500.9 1063.1 492.6 1063.1 485.5 1062.6C478.4 1062.1 471.3 1060.1 464.2 1059C457.1 1057.9 449.9 1056.5 442.8 1056.2C435.7 1055.9 428.5 1056.1 421.4 1056.9C414.3 1057.7 406.6 1058.5 400 1061.2C393.4 1063.9 389.7 1069 382 1073C374.3 1077 362.7 1081.9 354 1085C345.3 1088.1 337 1090.2 330 1091.5C323 1092.8 318.3 1092.8 312 1092.5C305.7 1092.2 298.2 1091.1 292 1090C285.8 1088.9 280.7 1088 275 1086C269.3 1084 263.2 1081.3 258 1078C252.8 1074.7 248.7 1070.7 244 1066C239.3 1061.3 234.7 1056.8 230 1050C225.3 1043.2 220 1033.3 216 1025C212 1016.7 209.2 1008.8 206 1000C202.8 991.2 199.7 981.2 197 972C194.3 962.8 192 953.7 190 945C188 936.3 186.3 928.3 185 920C183.7 911.7 182.5 903.3 182 895C181.5 886.7 181.5 877.4 182 870C182.5 862.6 183.7 856.5 185 850.8C186.3 845.1 188.1 840.9 190 836C191.9 831.1 193.9 825.8 196.4 821.5C198.9 817.2 201.7 813.6 205 810C208.3 806.4 211.7 803.2 216 800C220.3 796.8 226 793.6 231 791C236 788.4 239.3 787 245.7 784.6C252.2 782.2 261.6 779.3 269.7 776.6C277.7 773.9 285.8 771.1 293.9 768.5C302 765.9 310.2 763.9 318.3 760.8C326.4 757.8 334.6 754.2 342.7 750.2C350.9 746.2 359.2 741.6 367.3 736.8C375.5 732.1 383.5 726.7 391.6 721.7C399.7 716.7 407.8 711 415.9 707C424 703 432.8 699.8 440.1 697.7C447.5 695.6 453.8 694.9 460 694.3C466.2 693.7 471.9 693.6 477.2 694.3C482.5 695 487 696.8 491.9 698.6C496.7 700.5 501.6 702.9 506.5 705.6C511.3 708.4 516.2 711.5 521.1 715.3C526 719.1 530.9 723.7 535.7 728.6C540.6 733.6 546 739.3 550 745C554.1 750.7 557.2 756.8 560.1 762.7C563.1 768.7 565.4 774.5 567.6 780.7C569.9 786.9 571.9 793.5 573.6 799.9C575.4 806.3 576.8 813 578.1 819.2C579.5 825.4 580.7 831.1 581.8 837.2C582.8 843.3 583.6 848.5 584.4 855.7C585.1 862.8 585.6 872.6 586 880C586.4 887.4 586.7 893.3 586.7 900C586.6 906.7 586.2 913.3 585.7 920C585.1 926.7 584.5 934.1 583.4 940C582.2 945.9 580.9 949.3 578.7 955.3C576.5 961.4 573.7 968 570 976.3C566.3 984.7 560.9 996 556.3 1005.3C551.8 1014.7 545.4 1027.2 542.7 1032.3C539.9 1037.4 542.9 1032.7 540 1036C537.1 1039.3 529.3 1047.9 525 1052C520.7 1056.1 518.2 1057.8 514 1060.5C509.8 1063.2 504.6 1066.5 499.8 1068.3C495.1 1070.1 492.6 1070.2 485.5 1071.2C478.4 1072.2 466.5 1073.3 457 1074C447.5 1074.7 438 1074.7 428.5 1075.4C419 1076.1 407.8 1076.7 400 1078.3C392.2 1079.9 389.7 1083 382 1085C374.3 1087 362.7 1089.3 354 1090.5C345.3 1091.7 337 1091.7 330 1092C323 1092.3 317.3 1092.8 312 1092.5C306.7 1092.2 303.3 1091.2 298 1090C292.7 1088.8 286 1087.3 280 1085C274 1082.7 267.3 1079.8 262 1076C256.7 1072.2 252.3 1067.3 248 1062C243.7 1056.7 239.7 1050.7 236 1044C232.3 1037.3 229.2 1029.3 226 1022C222.8 1014.7 220 1008.7 217 1000C214 991.3 210.8 979.2 208 970C205.2 960.8 202.7 953.3 200 945C197.3 936.7 194.3 928.3 192 920C189.7 911.7 186.7 903.3 186 895C185.3 886.7 187.1 877.4 188 870C188.9 862.6 190.3 856.5 191.5 850.8C192.7 845.1 193.5 840.9 195 836C196.5 831.1 198.2 825.7 200.4 821.5C202.6 817.3 204.9 814.2 208 811C211.1 807.8 214.8 804.9 219 802C223.2 799.1 228.5 796.1 233 793.5C237.5 790.9 240.1 789 246.3 786.5C252.4 784 261.9 781.2 269.8 778.5C277.8 775.8 285.9 772.9 294 770.5C302 768 310.2 766.8 318.3 763.9C326.4 761 334.6 757.2 342.8 753.1C351.1 749.1 359.5 744.4 367.6 739.5C375.8 734.6 383.7 729.1 391.8 724C399.8 718.9 407.9 713.2 415.9 709.1C424 705.1 432.7 701.8 440.1 699.6C447.4 697.4 453.8 696.5 460 695.9C466.2 695.3 471.9 695.2 477.1 695.9C482.4 696.6 486.7 698.2 491.5 700.1C496.3 702 501.1 704.3 505.8 707.1C510.6 709.9 515.4 713.1 520.2 716.9C525 720.7 529.9 725.2 534.6 730.1C539.2 735 544.4 740.7 548.3 746.3C552.2 751.9 555.2 757.8 558.1 763.7C561 769.6 563.4 775.5 565.6 781.7C567.9 787.9 569.9 794.4 571.6 800.8C573.4 807.2 574.8 813.8 576.1 820C577.5 826.2 578.6 831.9 579.7 838C580.8 844 581.7 849.2 582.5 856.2C583.2 863.2 583.8 872.7 584.3 880C584.7 887.3 585.1 893.3 585.1 900C585.1 906.7 584.6 913.3 584.1 920C583.6 926.7 583 934.1 581.9 940C580.8 945.9 579.6 949.5 577.5 955.6C575.4 961.7 572.8 968.3 569.1 976.6C565.5 985 560.2 996.3 555.8 1005.6C551.3 1015 544.8 1027.7 542.4 1032.6C539.9 1037.5 543.1 1032.4 541 1035C538.9 1037.6 533.3 1044.8 530 1048C526.7 1051.2 526.2 1050.8 521.2 1054C516.2 1057.2 506.7 1063.6 499.8 1066.9C492.9 1070.2 487.1 1071.9 480 1074C472.9 1076.1 465.6 1077.8 457 1079.7C448.4 1081.6 438 1083.9 428.5 1085.4C419 1087 407.8 1088.2 400 1089C392.2 1089.8 389.7 1090 382 1090.5C374.3 1091 362.7 1091.7 354 1092C345.3 1092.3 337 1092.3 330 1092.5C323 1092.7 315 1092.9 312 1093" stroke="#000" stroke-width="2.1" fill="none" stroke-linejoin="round"/>
</g>
<path d="M172.6 672.6V1117.7H617.7" fill="none" stroke="#7f7f7f" stroke-width="1.3"/>
<path d="M246.8 1117.7v-5.5M321 1117.7v-5.5M395.1 1117.7v-5.5M469.3 1117.7v-5.5M543.5 1117.7v-5.5M172.6 1043.5h5.5M172.6 969.3h5.5M172.6 895.1h5.5M172.6 821h5.5M172.6 746.8h5.5" stroke="#7f7f7f" stroke-width="1.3" fill="none"/>
<text x="172.6" y="1148.3" font-size="22.5" text-anchor="middle" fill="#262626" font-family='"Liberation Sans", Arial, Helvetica, sans-serif' font-weight="normal" >-150</text>
<text x="246.8" y="1148.3" font-size="22.5" text-anchor="middle" fill="#262626" font-family='"Liberation Sans", Arial, Helvetica, sans-serif' font-weight="normal" >-100</text>
<text x="321" y="1148.3" font-size="22.5" text-anchor="middle" fill="#262626" font-family='"Liberation Sans", Arial, Helvetica, sans-serif' font-weight="normal" >-50</text>
<text x="395.1" y="1148.3" font-size="22.5" text-anchor="middle" fill="#262626" font-family='"Liberation Sans", Arial, Helvetica, sans-serif' font-weight="normal" >0</text>
<text x="469.3" y="1148.3" font-size="22.5" text-anchor="middle" fill="#262626" font-family='"Liberation Sans", Arial, Helvetica, sans-serif' font-weight="normal" >50</text>
<text x="543.5" y="1148.3" font-size="22.5" text-anchor="middle" fill="#262626" font-family='"Liberation Sans", Arial, Helvetica, sans-serif' font-weight="normal" >100</text>
<text x="617.7" y="1148.3" font-size="22.5" text-anchor="middle" fill="#262626" font-family='"Liberation Sans", Arial, Helvetica, sans-serif' font-weight="normal" >150</text>
<text x="164" y="1124.7" font-size="22.5" text-anchor="end" fill="#262626" font-family='"Liberation Sans", Arial, Helvetica, sans-serif' font-weight="normal" >-150</text>
<text x="164" y="1050.5" font-size="22.5" text-anchor="end" fill="#262626" font-family='"Liberation Sans", Arial, Helvetica, sans-serif' font-weight="normal" >-100</text>
<text x="164" y="976.3" font-size="22.5" text-anchor="end" fill="#262626" font-family='"Liberation Sans", Arial, Helvetica, sans-serif' font-weight="normal" >-50</text>
<text x="164" y="902.1" font-size="22.5" text-anchor="end" fill="#262626" font-family='"Liberation Sans", Arial, Helvetica, sans-serif' font-weight="normal" >0</text>
<text x="164" y="828" font-size="22.5" text-anchor="end" fill="#262626" font-family='"Liberation Sans", Arial, Helvetica, sans-serif' font-weight="normal" >50</text>
<text x="164" y="753.8" font-size="22.5" text-anchor="end" fill="#262626" font-family='"Liberation Sans", Arial, Helvetica, sans-serif' font-weight="normal" >100</text>
<text x="164" y="679.6" font-size="22.5" text-anchor="end" fill="#262626" font-family='"Liberation Sans", Arial, Helvetica, sans-serif' font-weight="normal" >150</text>
<text x="394.8" y="1178.6" font-size="26" text-anchor="middle" fill="#262626" font-family='"Liberation Sans", Arial, Helvetica, sans-serif' font-weight="normal" >East [m]</text>
<text transform="translate(107.5,895.3) rotate(-90)" font-size="26.3" text-anchor="middle" fill="#262626" font-family='"Liberation Sans", Arial, Helvetica, sans-serif'>North [m]</text>
<defs><linearGradient id="jet" x1="0" y1="1" x2="0" y2="0"><stop offset="0" stop-color="#800000"/><stop offset="0.125" stop-color="#ff0000"/><stop offset="0.375" stop-color="#ffff00"/><stop offset="0.625" stop-color="#00ffff"/><stop offset="0.875" stop-color="#0000ff"/><stop offset="1" stop-color="#000080"/></linearGradient></defs>
<rect x="645.4" y="672.6" width="19.3" height="443.1" fill="url(#jet)"/>
<text x="672.8" y="1078.5" font-size="22.5" text-anchor="start" fill="#262626" font-family='"Liberation Sans", Arial, Helvetica, sans-serif' font-weight="normal" >10</text>
<text x="672.8" y="1033.5" font-size="22.5" text-anchor="start" fill="#262626" font-family='"Liberation Sans", Arial, Helvetica, sans-serif' font-weight="normal" >20</text>
<text x="672.8" y="988.5" font-size="22.5" text-anchor="start" fill="#262626" font-family='"Liberation Sans", Arial, Helvetica, sans-serif' font-weight="normal" >30</text>
<text x="672.8" y="943.4" font-size="22.5" text-anchor="start" fill="#262626" font-family='"Liberation Sans", Arial, Helvetica, sans-serif' font-weight="normal" >40</text>
<text x="672.8" y="898.4" font-size="22.5" text-anchor="start" fill="#262626" font-family='"Liberation Sans", Arial, Helvetica, sans-serif' font-weight="normal" >50</text>
<text x="672.8" y="853.4" font-size="22.5" text-anchor="start" fill="#262626" font-family='"Liberation Sans", Arial, Helvetica, sans-serif' font-weight="normal" >60</text>
<text x="672.8" y="808.4" font-size="22.5" text-anchor="start" fill="#262626" font-family='"Liberation Sans", Arial, Helvetica, sans-serif' font-weight="normal" >70</text>
<text x="672.8" y="763.3" font-size="22.5" text-anchor="start" fill="#262626" font-family='"Liberation Sans", Arial, Helvetica, sans-serif' font-weight="normal" >80</text>
<text x="672.8" y="718.3" font-size="22.5" text-anchor="start" fill="#262626" font-family='"Liberation Sans", Arial, Helvetica, sans-serif' font-weight="normal" >90</text>
<path d="M664.7 1070.9h-4M664.7 1025.9h-4M664.7 980.9h-4M664.7 935.8h-4M664.7 890.8h-4M664.7 845.8h-4M664.7 800.8h-4M664.7 755.7h-4M664.7 710.7h-4" stroke="#444" stroke-width="1"/>
<path d="M975.5 75.5V492.3M1096.5 75.5V492.3M1217.6 75.5V492.3M1338.7 75.5V492.3M1459.8 75.5V492.3M1580.8 75.5V492.3M1701.9 75.5V492.3M854.4 353.4H1726.3M854.4 214.4H1726.3" stroke="#e3e3e3" stroke-width="1" fill="none"/>
<line x1="854.4" y1="147" x2="1726.3" y2="146.9" stroke="#0000ff" stroke-width="4.2" stroke-dasharray="14.1 14.1"/>
<line x1="854.4" y1="319.3" x2="1726.3" y2="318.8" stroke="#000000" stroke-width="4.2" stroke-dasharray="14.1 14.1"/>
<line x1="854.4" y1="349.2" x2="1726.3" y2="353.4" stroke="#ff0000" stroke-width="4.2" stroke-dasharray="14.1 14.1"/>
<path d="M1178 142.5l10 10M1178 152.5l10 -10M1179.6 142.5l10 10M1179.6 152.5l10 -10M1181.2 142.4l10 10M1181.2 152.4l10 -10M1182.8 142.4l10 10M1182.8 152.4l10 -10M1184.4 142.4l10 10M1184.4 152.4l10 -10M1186 142.3l10 10M1186 152.3l10 -10M1187.6 142.3l10 10M1187.6 152.3l10 -10M1189.1 142.2l10 10M1189.1 152.2l10 -10M1190.7 142.2l10 10M1190.7 152.2l10 -10M1192.3 142.2l10 10M1192.3 152.2l10 -10M1193.9 142.1l10 10M1193.9 152.1l10 -10M1195.5 142.1l10 10M1195.5 152.1l10 -10M1197.1 142.1l10 10M1197.1 152.1l10 -10M1198.7 142l10 10M1198.7 152l10 -10M1200.3 142l10 10M1200.3 152l10 -10M1201.9 141.9l10 10M1201.9 151.9l10 -10M1203.5 141.9l10 10M1203.5 151.9l10 -10M1205.1 141.9l10 10M1205.1 151.9l10 -10M1206.7 141.8l10 10M1206.7 151.8l10 -10M1208.3 141.8l10 10M1208.3 151.8l10 -10M1209.9 141.8l10 10M1209.9 151.8l10 -10M1211.4 141.7l10 10M1211.4 151.7l10 -10M1213 141.7l10 10M1213 151.7l10 -10M1214.6 141.6l10 10M1214.6 151.6l10 -10M1216.2 141.6l10 10M1216.2 151.6l10 -10M1217.8 141.6l10 10M1217.8 151.6l10 -10M1219.4 141.5l10 10M1219.4 151.5l10 -10M1221 141.5l10 10M1221 151.5l10 -10M1224 143l10 10M1224 153l10 -10M1226 146.5l10 10M1226 156.5l10 -10M1229 149l10 10M1229 159l10 -10M1231 152.5l10 10M1231 162.5l10 -10M1236.5 154.5l10 10M1236.5 164.5l10 -10M1235 152l10 10M1235 162l10 -10M1365 86.3l10 10M1365 96.3l10 -10M1414 141.8l10 10M1414 151.8l10 -10M1415.6 141.8l10 10M1415.6 151.8l10 -10M1417.2 141.8l10 10M1417.2 151.8l10 -10M1418.8 141.8l10 10M1418.8 151.8l10 -10M1420.4 141.8l10 10M1420.4 151.8l10 -10M1422 141.8l10 10M1422 151.8l10 -10M1423.7 141.8l10 10M1423.7 151.8l10 -10M1425.3 141.8l10 10M1425.3 151.8l10 -10M1426.9 141.8l10 10M1426.9 151.8l10 -10M1428.5 141.8l10 10M1428.5 151.8l10 -10M1430.1 141.8l10 10M1430.1 151.8l10 -10M1431.7 141.8l10 10M1431.7 151.8l10 -10M1433.3 141.8l10 10M1433.3 151.8l10 -10M1434.9 141.8l10 10M1434.9 151.8l10 -10M1436.5 141.8l10 10M1436.5 151.8l10 -10M1438.1 141.8l10 10M1438.1 151.8l10 -10M1439.7 141.8l10 10M1439.7 151.8l10 -10M1441.3 141.8l10 10M1441.3 151.8l10 -10M1443 141.8l10 10M1443 151.8l10 -10M1444.6 141.8l10 10M1444.6 151.8l10 -10M1446.2 141.8l10 10M1446.2 151.8l10 -10M1447.8 141.8l10 10M1447.8 151.8l10 -10M1449.4 141.8l10 10M1449.4 151.8l10 -10M1451 141.8l10 10M1451 151.8l10 -10M1454.5 141.8l10 10M1454.5 151.8l10 -10M1631.2 110.7l10 10M1631.2 120.7l10 -10M1636.9 117.2l10 10M1636.9 127.2l10 -10M1641.5 142l10 10M1641.5 152l10 -10M1643.1 142l10 10M1643.1 152l10 -10M1644.7 142l10 10M1644.7 152l10 -10M1646.3 142l10 10M1646.3 152l10 -10M1647.9 142l10 10M1647.9 152l10 -10M1649.5 142l10 10M1649.5 152l10 -10M1651.1 142l10 10M1651.1 152l10 -10M1652.7 142l10 10M1652.7 152l10 -10M1654.3 142l10 10M1654.3 152l10 -10M1655.9 142l10 10M1655.9 152l10 -10M1657.5 142l10 10M1657.5 152l10 -10" stroke="#0000ff" stroke-width="3.0" fill="none"/>
<path d="M1198 314.3l10 10M1198 324.3l10 -10M1199.6 314.3l10 10M1199.6 324.3l10 -10M1201.1 314.3l10 10M1201.1 324.3l10 -10M1202.7 314.3l10 10M1202.7 324.3l10 -10M1204.3 314.3l10 10M1204.3 324.3l10 -10M1205.9 314.3l10 10M1205.9 324.3l10 -10M1207.4 314.3l10 10M1207.4 324.3l10 -10M1209 314.3l10 10M1209 324.3l10 -10M1210.6 314.3l10 10M1210.6 324.3l10 -10M1212.1 314.3l10 10M1212.1 324.3l10 -10M1213.7 314.3l10 10M1213.7 324.3l10 -10M1215.3 314.3l10 10M1215.3 324.3l10 -10M1216.9 314.3l10 10M1216.9 324.3l10 -10M1218.4 314.3l10 10M1218.4 324.3l10 -10M1220 314.3l10 10M1220 324.3l10 -10M1230 299.7l10 10M1230 309.7l10 -10M1299.8 413.6l10 10M1299.8 423.6l10 -10M1416 314.2l10 10M1416 324.2l10 -10M1417.5 314.2l10 10M1417.5 324.2l10 -10M1419.1 314.2l10 10M1419.1 324.2l10 -10M1420.6 314.2l10 10M1420.6 324.2l10 -10M1422.2 314.2l10 10M1422.2 324.2l10 -10M1423.7 314.2l10 10M1423.7 324.2l10 -10M1425.3 314.2l10 10M1425.3 324.2l10 -10M1426.8 314.2l10 10M1426.8 324.2l10 -10M1428.4 314.2l10 10M1428.4 324.2l10 -10M1429.9 314.2l10 10M1429.9 324.2l10 -10M1431.5 314.2l10 10M1431.5 324.2l10 -10M1433 314.2l10 10M1433 324.2l10 -10M1455 303.4l10 10M1455 313.4l10 -10M1536.4 306.6l10 10M1536.4 316.6l10 -10M1536.4 309.5l10 10M1536.4 319.5l10 -10M1640 314l10 10M1640 324l10 -10M1641.7 314l10 10M1641.7 324l10 -10M1643.3 314l10 10M1643.3 324l10 -10M1645 314l10 10M1645 324l10 -10M1646.7 314l10 10M1646.7 324l10 -10M1648.3 314l10 10M1648.3 324l10 -10M1650 314l10 10M1650 324l10 -10M1651.7 314l10 10M1651.7 324l10 -10M1653.3 314l10 10M1653.3 324l10 -10M1655 314l10 10M1655 324l10 -10M1656.7 314l10 10M1656.7 324l10 -10M1658.3 314l10 10M1658.3 324l10 -10M1660 314l10 10M1660 324l10 -10" stroke="#000000" stroke-width="3.0" fill="none"/>
<path d="M1195 345.5l10 10M1195 355.5l10 -10M1196.6 345.5l10 10M1196.6 355.5l10 -10M1198.1 345.5l10 10M1198.1 355.5l10 -10M1199.7 345.6l10 10M1199.7 355.6l10 -10M1201.2 345.6l10 10M1201.2 355.6l10 -10M1202.8 345.6l10 10M1202.8 355.6l10 -10M1204.3 345.6l10 10M1204.3 355.6l10 -10M1205.9 345.6l10 10M1205.9 355.6l10 -10M1207.4 345.6l10 10M1207.4 355.6l10 -10M1209 345.6l10 10M1209 355.6l10 -10M1210.6 345.7l10 10M1210.6 355.7l10 -10M1212.1 345.7l10 10M1212.1 355.7l10 -10M1213.7 345.7l10 10M1213.7 355.7l10 -10M1215.2 345.7l10 10M1215.2 355.7l10 -10M1216.8 345.7l10 10M1216.8 355.7l10 -10M1218.3 345.8l10 10M1218.3 355.8l10 -10M1219.9 345.8l10 10M1219.9 355.8l10 -10M1221.4 345.8l10 10M1221.4 355.8l10 -10M1223 345.8l10 10M1223 355.8l10 -10M1225 348l10 10M1225 358l10 -10M1227.5 352.5l10 10M1227.5 362.5l10 -10M1229.5 358.6l10 10M1229.5 368.6l10 -10M1231 363.6l10 10M1231 373.6l10 -10M1232.5 371.7l10 10M1232.5 381.7l10 -10M1230 366l10 10M1230 376l10 -10M1414 348l10 10M1414 358l10 -10M1415.6 348l10 10M1415.6 358l10 -10M1417.2 348l10 10M1417.2 358l10 -10M1418.8 348l10 10M1418.8 358l10 -10M1420.3 348l10 10M1420.3 358l10 -10M1421.9 348l10 10M1421.9 358l10 -10M1423.5 348l10 10M1423.5 358l10 -10M1425.1 348l10 10M1425.1 358l10 -10M1426.7 348l10 10M1426.7 358l10 -10M1428.2 348l10 10M1428.2 358l10 -10M1429.8 348l10 10M1429.8 358l10 -10M1431.4 348l10 10M1431.4 358l10 -10M1433 348l10 10M1433 358l10 -10M1439 348l10 10M1439 358l10 -10M1444.4 348l10 10M1444.4 358l10 -10M1448.8 352.4l10 10M1448.8 362.4l10 -10M1453.2 356.7l10 10M1453.2 366.7l10 -10M1456 360l10 10M1456 370l10 -10M1459.3 363.7l10 10M1459.3 373.7l10 -10M1460.2 367.2l10 10M1460.2 377.2l10 -10M1394 433l10 10M1394 443l10 -10M1397 434.5l10 10M1397 444.5l10 -10M1599.8 395.9l10 10M1599.8 405.9l10 -10M1639.5 348.2l10 10M1639.5 358.2l10 -10M1641.1 348.2l10 10M1641.1 358.2l10 -10M1642.8 348.2l10 10M1642.8 358.2l10 -10M1644.4 348.2l10 10M1644.4 358.2l10 -10M1646 348.2l10 10M1646 358.2l10 -10M1647.6 348.2l10 10M1647.6 358.2l10 -10M1649.2 348.2l10 10M1649.2 358.2l10 -10M1650.9 348.2l10 10M1650.9 358.2l10 -10M1652.5 348.2l10 10M1652.5 358.2l10 -10M1654.1 348.2l10 10M1654.1 358.2l10 -10M1655.8 348.2l10 10M1655.8 358.2l10 -10M1657.4 348.2l10 10M1657.4 358.2l10 -10M1659 348.2l10 10M1659 358.2l10 -10" stroke="#ff0000" stroke-width="3.0" fill="none"/>
<text x="1009.5" y="134.3" font-size="40" fill="#0000ff" font-family='"Liberation Serif", "Times New Roman", serif' font-style="italic" textLength="22.4" lengthAdjust="spacingAndGlyphs">u</text>
<text x="1033.3" y="143" font-size="26.6" fill="#0000ff" font-family='"Liberation Serif", "Times New Roman", serif' font-style="italic" textLength="14.3" lengthAdjust="spacingAndGlyphs">b</text>
<text x="1064.5" y="136.5" font-size="40.7" fill="#0000ff" font-family='"Liberation Serif", "Times New Roman", serif' stroke="#0000ff" stroke-width="0.9" textLength="24.7" lengthAdjust="spacingAndGlyphs">=</text>
<text x="1100.8" y="134.3" font-size="37" fill="#0000ff" font-family='"Liberation Serif", "Times New Roman", serif'  textLength="123.1" lengthAdjust="spacingAndGlyphs">7.6×10</text>
<text x="1223.4" y="119.1" font-size="22.9" fill="#0000ff" font-family='"Liberation Serif", "Times New Roman", serif'  textLength="35.1" lengthAdjust="spacingAndGlyphs">−9</text>
<text x="1261.1" y="134.3" font-size="40" fill="#0000ff" font-family='"Liberation Serif", "Times New Roman", serif' font-style="italic" textLength="14.2" lengthAdjust="spacingAndGlyphs">t</text>
<text x="1285.7" y="136.5" font-size="40.7" fill="#0000ff" font-family='"Liberation Serif", "Times New Roman", serif' stroke="#0000ff" stroke-width="0.9" textLength="26.3" lengthAdjust="spacingAndGlyphs">+</text>
<text x="1321.9" y="134.3" font-size="37" fill="#0000ff" font-family='"Liberation Serif", "Times New Roman", serif'  textLength="115.1" lengthAdjust="spacingAndGlyphs">0.0497</text>
<text x="1447.1" y="134.3" font-size="37" fill="#0000ff" font-family='"Liberation Serif", "Times New Roman", serif'  textLength="81.5" lengthAdjust="spacingAndGlyphs">[m/s]</text>
<text x="968.7" y="303.4" font-size="40" fill="#000000" font-family='"Liberation Serif", "Times New Roman", serif' font-style="italic" textLength="27.6" lengthAdjust="spacingAndGlyphs">ω</text>
<text x="995.9" y="312.1" font-size="26.6" fill="#000000" font-family='"Liberation Serif", "Times New Roman", serif' font-style="italic" textLength="14.3" lengthAdjust="spacingAndGlyphs">b</text>
<text x="1027.3" y="305.6" font-size="40.7" fill="#000000" font-family='"Liberation Serif", "Times New Roman", serif' stroke="#000000" stroke-width="0.9" textLength="24.3" lengthAdjust="spacingAndGlyphs">=</text>
<text x="1063.9" y="303.4" font-size="37" fill="#000000" font-family='"Liberation Serif", "Times New Roman", serif'  textLength="124" lengthAdjust="spacingAndGlyphs">2.3×10</text>
<text x="1186.5" y="288.2" font-size="22.9" fill="#000000" font-family='"Liberation Serif", "Times New Roman", serif'  textLength="34.3" lengthAdjust="spacingAndGlyphs">−8</text>
<text x="1227.2" y="303.4" font-size="40" fill="#000000" font-family='"Liberation Serif", "Times New Roman", serif' font-style="italic" textLength="13.5" lengthAdjust="spacingAndGlyphs">t</text>
<text x="1249.8" y="305.6" font-size="40.7" fill="#000000" font-family='"Liberation Serif", "Times New Roman", serif' stroke="#000000" stroke-width="0.9" textLength="24.2" lengthAdjust="spacingAndGlyphs">+</text>
<text x="1285.3" y="303.4" font-size="37" fill="#000000" font-family='"Liberation Serif", "Times New Roman", serif'  textLength="116.6" lengthAdjust="spacingAndGlyphs">0.0249</text>
<text x="1411.7" y="303.4" font-size="37" fill="#000000" font-family='"Liberation Serif", "Times New Roman", serif'  textLength="106.7" lengthAdjust="spacingAndGlyphs">[deg/s]</text>
<text x="930.3" y="473" font-size="40" fill="#ff0000" font-family='"Liberation Serif", "Times New Roman", serif' font-style="italic" textLength="24.3" lengthAdjust="spacingAndGlyphs">v</text>
<text x="950.9" y="481.7" font-size="26.6" fill="#ff0000" font-family='"Liberation Serif", "Times New Roman", serif' font-style="italic" textLength="15.3" lengthAdjust="spacingAndGlyphs">b</text>
<text x="981.1" y="475.2" font-size="40.7" fill="#ff0000" font-family='"Liberation Serif", "Times New Roman", serif' stroke="#ff0000" stroke-width="0.9" textLength="25.1" lengthAdjust="spacingAndGlyphs">=</text>
<text x="1017.3" y="473" font-size="37" fill="#ff0000" font-family='"Liberation Serif", "Times New Roman", serif'  textLength="153.4" lengthAdjust="spacingAndGlyphs">−1.7×10</text>
<text x="1169.6" y="457.8" font-size="22.9" fill="#ff0000" font-family='"Liberation Serif", "Times New Roman", serif'  textLength="34" lengthAdjust="spacingAndGlyphs">−7</text>
<text x="1209.9" y="473" font-size="40" fill="#ff0000" font-family='"Liberation Serif", "Times New Roman", serif' font-style="italic" textLength="12.6" lengthAdjust="spacingAndGlyphs">t</text>
<text x="1234.2" y="475.2" font-size="40.7" fill="#ff0000" font-family='"Liberation Serif", "Times New Roman", serif' stroke="#ff0000" stroke-width="0.9" textLength="24.2" lengthAdjust="spacingAndGlyphs">+</text>
<text x="1267.9" y="473" font-size="37" fill="#ff0000" font-family='"Liberation Serif", "Times New Roman", serif'  textLength="119.2" lengthAdjust="spacingAndGlyphs">0.0206</text>
<text x="1393.4" y="473" font-size="37" fill="#ff0000" font-family='"Liberation Serif", "Times New Roman", serif'  textLength="81.6" lengthAdjust="spacingAndGlyphs">[m/s]</text>
<rect x="854.4" y="75.5" width="871.9" height="416.8" fill="none" stroke="#7f7f7f" stroke-width="1.3"/>
<path d="M975.5 492.3v-8M975.5 75.5v8M1096.5 492.3v-8M1096.5 75.5v8M1217.6 492.3v-8M1217.6 75.5v8M1338.7 492.3v-8M1338.7 75.5v8M1459.8 492.3v-8M1459.8 75.5v8M1580.8 492.3v-8M1580.8 75.5v8M1701.9 492.3v-8M1701.9 75.5v8M854.4 353.4h8M1726.3 353.4h-8M854.4 214.4h8M1726.3 214.4h-8" stroke="#7f7f7f" stroke-width="1.3" fill="none"/>
<text x="854.4" y="539.2" font-size="37" text-anchor="middle" fill="#262626" font-family='"Liberation Sans", Arial, Helvetica, sans-serif' font-weight="normal" >0</text>
<text x="975.5" y="539.2" font-size="37" text-anchor="middle" fill="#262626" font-family='"Liberation Sans", Arial, Helvetica, sans-serif' font-weight="normal" >500</text>
<text x="1096.5" y="539.2" font-size="37" text-anchor="middle" fill="#262626" font-family='"Liberation Sans", Arial, Helvetica, sans-serif' font-weight="normal" >1000</text>
<text x="1217.6" y="539.2" font-size="37" text-anchor="middle" fill="#262626" font-family='"Liberation Sans", Arial, Helvetica, sans-serif' font-weight="normal" >1500</text>
<text x="1338.7" y="539.2" font-size="37" text-anchor="middle" fill="#262626" font-family='"Liberation Sans", Arial, Helvetica, sans-serif' font-weight="normal" >2000</text>
<text x="1459.8" y="539.2" font-size="37" text-anchor="middle" fill="#262626" font-family='"Liberation Sans", Arial, Helvetica, sans-serif' font-weight="normal" >2500</text>
<text x="1580.8" y="539.2" font-size="37" text-anchor="middle" fill="#262626" font-family='"Liberation Sans", Arial, Helvetica, sans-serif' font-weight="normal" >3000</text>
<text x="1701.9" y="539.2" font-size="37" text-anchor="middle" fill="#262626" font-family='"Liberation Sans", Arial, Helvetica, sans-serif' font-weight="normal" >3500</text>
<text x="842.8" y="506.6" font-size="37" text-anchor="end" fill="#262626" font-family='"Liberation Sans", Arial, Helvetica, sans-serif' font-weight="normal" >0</text>
<text x="842.8" y="367.7" font-size="37" text-anchor="end" fill="#262626" font-family='"Liberation Sans", Arial, Helvetica, sans-serif' font-weight="normal" >0.02</text>
<text x="842.8" y="228.7" font-size="37" text-anchor="end" fill="#262626" font-family='"Liberation Sans", Arial, Helvetica, sans-serif' font-weight="normal" >0.04</text>
<text x="842.8" y="89.8" font-size="37" text-anchor="end" fill="#262626" font-family='"Liberation Sans", Arial, Helvetica, sans-serif' font-weight="normal" >0.06</text>
<text transform="translate(761.5,284) rotate(-90)" font-size="38.5" text-anchor="middle" fill="#262626" font-family='"Liberation Sans", Arial, Helvetica, sans-serif'>Velocity</text>
<path d="M975.5 653.4V1069.8M1096.5 653.4V1069.8M1217.5 653.4V1069.8M1338.4 653.4V1069.8M1459.4 653.4V1069.8M1580.4 653.4V1069.8M1701.4 653.4V1069.8M854.5 931H1726.7M854.5 792.2H1726.7" stroke="#e3e3e3" stroke-width="1" fill="none"/>
<clipPath id="clipD"><rect x="854.5" y="653.4" width="872.2" height="416.4"/></clipPath>
<g clip-path="url(#clipD)">
<path d="M1134.3 1035.3 1136.4 1039.1 1142.6 1053 1146.4 893.2 1149.7 834.1 1151.2 840.4 1152.2 996.4 1154 1056.7 1160.3 1059.7 1182.9 1059.2 1208.1 1059.7 1233.2 1060.5 1245.8 1058 1255.8 1054.2 1263.4 1049.2 1268.4 1041.6 1272.2 1021.5 1276 956.1 1281.4 876.9 1287.1 797 1289.9 760 1292.8 839.8 1295.7 968.2 1297.1 1028.1 1299.9 1039.5 1302.8 1048 1305.6 1025.2 1307.1 1016.7 1308.5 1039.5 1311.3 1042.3 1314.2 968.2 1316.5 908.3 1318.5 968.2 1319.9 1053.7 1322.7 1056.6 1325.6 1025.2 1328.5 1056.6 1334.2 1056.6 1339.9 1053.7 1342.7 1039.5 1345.6 1056.6 1348.4 1042.3 1357 1049.5 1368.4 1059.5 1372.7 1053.7 1374.1 1042.3 1375.5 1039.5 1379.8 1038.1 1385.5 1036.6 1389.8 1033.8 1394.1 1032.4 1395.5 1053.7 1399.8 1055.2 1414 1058 1420.1 1060.7 1460.3 1059.1 1477.1 1049 1482.1 988.6 1485.5 1038.9 1488.8 998.7 1493.9 914.8 1497.9 820.9 1499.9 881.3 1501.2 1052.4 1503.9 992 1508 983.6 1510.6 1052.4 1514 981.9 1520.7 881.3 1525.1 812.5 1527.4 981.9 1530.1 1022.2 1532.4 1018.8 1536.8 919.9 1539.2 1015.5 1541.5 1059.1 1545.9 1049 1550.9 1059.1 1557.6 1059.1 1561 914.8 1566 854.4 1570.1 881.2 1573.4 814.1 1578.4 759.8 1580.1 881.2 1581.8 1048.9 1583.5 1042.2 1586.8 1055.6 1590.2 1052.2 1593.5 1058.9 1596.9 1052.2 1600.2 1052.2 1606.9 1050.6 1613.7 1052.2 1620.4 1047.2 1625.4 1052.2 1628.7 1058.9 1637.1 1060.6 1665.6 1060.6 1697.5 1007 1700.8 1048.9 1705.9 847.7 1709.2 881.2 1714.3 841 1717.6 914.7 1721 1048.9 1726.7 995.2" fill="none" stroke="#0000ff" stroke-width="3.6" stroke-linejoin="round" stroke-linecap="round" />
<path d="M1134.3 1050.4 1137.6 1059.2 1141.4 1006.4 1145.2 930.9 1147.2 891.9 1148.4 895.7 1149.7 1049.2 1151.4 1056.7 1156.5 1056.7 1170.3 1056.7 1182.9 1058 1195.5 1059.2 1220.6 1059.2 1240.8 1059.2 1250.8 1056.7 1257.1 1051.7 1263.4 1044.2 1267.2 1039.1 1268.9 1006.4 1270.9 928.4 1273.5 941 1276 981.3 1277.7 999.6 1281.4 976.7 1284.2 963.9 1286.2 965.3 1287.7 1053.7 1291.4 1028.1 1294.2 1033.8 1297.1 1056.6 1302.8 1009.5 1305.6 1053.7 1309.9 1039.5 1312.8 1053.7 1317 968.2 1321.3 891.2 1324.2 968.2 1327 1053.7 1329.9 1056.6 1334.2 939.7 1338.4 854.1 1341.3 834.1 1343.3 848.4 1347.3 781.9 1354.9 723 1362.6 652 1364.8 652 1367 1000 1368 1060 1369.8 1056.6 1374.1 1048 1379.8 1059.5 1414 1059.5 1420.1 1060.7 1460.3 1060.7 1472.1 1052.4 1478.8 1032.2 1482.1 1052.4 1483.8 1015.5 1487.2 948.4 1490.5 881.3 1495.5 780.6 1498.2 747.1 1499.9 847.7 1500.6 1049 1503.9 1052.4 1510.6 1052.4 1517.3 1030.6 1520.7 1035.6 1525.7 1049 1530.8 1059.1 1537.5 1060.7 1542.5 1059.1 1544.2 1049 1547.5 950 1550.9 958.4 1554.2 1055.7 1557.6 1057.4 1561 981.9 1564.3 837.7 1566.7 881.2 1571.7 914.7 1575.1 814.1 1580.8 773.2 1582.8 881.2 1584.1 1035.5 1586.2 981.8 1588.5 1025.4 1591.9 1032.1 1596.9 1048.9 1601.9 1057.3 1610.3 1058.9 1627.1 1060.6 1660.6 1058.9 1697.5 1058.9 1699.2 1015.3 1702.5 914.7 1704.9 862.8 1707.6 914.7 1709.2 1032.1 1712.6 948.3 1714.3 881.2 1715.9 981.8 1717.6 1048.9 1721 1052.2 1726.7 1055.6" fill="none" stroke="#ff0000" stroke-width="3.6" stroke-linejoin="round" stroke-linecap="round" />
<path d="M1134.3 1044.2 1137.6 1058 1140.1 1006.4 1142.1 932.2 1143.9 933.5 1145.2 985 1147.2 981.3 1149.7 905.8 1151.4 873.1 1152.7 875.6 1154.5 1006.4 1155.7 1054.2 1157.7 1050.4 1159.7 1035.3 1161.5 1054.2 1163.3 1060.5 1170.3 1056.7 1180.4 1055.5 1186.7 1058.7 1195.5 1059.2 1235.7 1059.2 1243.3 1055.5 1248.3 1054.7 1252.1 1050.4 1255.8 1042.9 1259.6 1039.1 1262.1 1029.1 1263.9 1006.4 1265.9 971.2 1267.4 978.7 1268.4 1016.5 1270.4 1016.5 1272.2 1059.2 1280 1059.2 1282.8 1050.9 1287.1 1056.6 1291.4 1042.3 1295.7 1048 1299.9 1053.7 1305.6 1059.5 1309.9 1056.6 1311.3 1048 1314.2 1042.3 1318.5 925.4 1321.3 1039.5 1324.2 1025.2 1328.5 878.3 1331.3 888.3 1334.2 968.2 1337 1048 1339.9 1045.2 1345.6 939.7 1348.4 839.8 1351.3 859.8 1357 939.7 1364.1 1025.2 1367 1033.8 1368.4 1053.7 1372.7 1056.6 1376.9 1053.7 1382.6 1059.5 1391.2 1056.6 1396.9 1056.6 1399.2 996.7 1401.2 963.9 1403.2 973.9 1405.5 1053.7 1408.3 1059.5 1414 1059.5 1420.1 1060.7 1443.5 1059.1 1457 1059.1 1463.7 1055.7 1468.7 1049 1470.4 1035.6 1474.4 1035.6 1475.4 1025.5 1478.8 948.4 1482.1 881.3 1487.2 807.5 1492.2 753.8 1498.2 704.2 1499.9 747.1 1500.6 1055 1507.3 1054 1517.3 1057.4 1527.4 1059.1 1532.4 1055.7 1535.8 1015.5 1537.5 995.3 1539.2 1059.1 1542.5 1059.1 1544.2 981.9 1547.5 881.3 1551.6 802.4 1554.2 831 1555.9 914.8 1557.6 1044 1561 948.4 1566 831 1570.1 770.5 1574.1 751.1 1576.1 847.7 1576.8 1042.2 1578.4 1045.5 1580.8 981.8 1586.2 859.4 1588.5 948.3 1589.5 1015.3 1591.2 955 1592.9 1015.3 1596.9 1058.9 1601.9 1038.8 1603.6 1058.9 1606.9 1060.6 1627.1 1058.9 1632.1 1055.6 1634.4 1043.8 1636.5 1048.9 1639.5 1030.4 1642.2 1052.2 1645.5 1060.6 1665.6 1060.6 1680.7 1053.9 1698.2 1045.5 1700.8 1015.3 1704.2 914.7 1709.2 814.1 1714.3 772.2 1716.9 780.6 1719.3 914.7 1721 1048.9 1722.6 1052.2 1724.3 929.8 1726.7 1025.4" fill="none" stroke="#000000" stroke-width="3.6" stroke-linejoin="round" stroke-linecap="round" />
</g>
<rect x="854.5" y="653.4" width="872.2" height="416.4" fill="none" stroke="#7f7f7f" stroke-width="1.3"/>
<path d="M975.5 1069.8v-8M975.5 653.4v8M1096.5 1069.8v-8M1096.5 653.4v8M1217.5 1069.8v-8M1217.5 653.4v8M1338.4 1069.8v-8M1338.4 653.4v8M1459.4 1069.8v-8M1459.4 653.4v8M1580.4 1069.8v-8M1580.4 653.4v8M1701.4 1069.8v-8M1701.4 653.4v8M854.5 931h8M1726.7 931h-8M854.5 792.2h8M1726.7 792.2h-8" stroke="#7f7f7f" stroke-width="1.3" fill="none"/>
<text x="854.5" y="1117.2" font-size="37" text-anchor="middle" fill="#262626" font-family='"Liberation Sans", Arial, Helvetica, sans-serif' font-weight="normal" >0</text>
<text x="975.5" y="1117.2" font-size="37" text-anchor="middle" fill="#262626" font-family='"Liberation Sans", Arial, Helvetica, sans-serif' font-weight="normal" >500</text>
<text x="1096.5" y="1117.2" font-size="37" text-anchor="middle" fill="#262626" font-family='"Liberation Sans", Arial, Helvetica, sans-serif' font-weight="normal" >1000</text>
<text x="1217.5" y="1117.2" font-size="37" text-anchor="middle" fill="#262626" font-family='"Liberation Sans", Arial, Helvetica, sans-serif' font-weight="normal" >1500</text>
<text x="1338.4" y="1117.2" font-size="37" text-anchor="middle" fill="#262626" font-family='"Liberation Sans", Arial, Helvetica, sans-serif' font-weight="normal" >2000</text>
<text x="1459.4" y="1117.2" font-size="37" text-anchor="middle" fill="#262626" font-family='"Liberation Sans", Arial, Helvetica, sans-serif' font-weight="normal" >2500</text>
<text x="1580.4" y="1117.2" font-size="37" text-anchor="middle" fill="#262626" font-family='"Liberation Sans", Arial, Helvetica, sans-serif' font-weight="normal" >3000</text>
<text x="1701.4" y="1117.2" font-size="37" text-anchor="middle" fill="#262626" font-family='"Liberation Sans", Arial, Helvetica, sans-serif' font-weight="normal" >3500</text>
<text x="842.8" y="1084.1" font-size="37" text-anchor="end" fill="#262626" font-family='"Liberation Sans", Arial, Helvetica, sans-serif' font-weight="normal" >0</text>
<text x="842.8" y="945.3" font-size="37" text-anchor="end" fill="#262626" font-family='"Liberation Sans", Arial, Helvetica, sans-serif' font-weight="normal" >0.1</text>
<text x="842.8" y="806.5" font-size="37" text-anchor="end" fill="#262626" font-family='"Liberation Sans", Arial, Helvetica, sans-serif' font-weight="normal" >0.2</text>
<text x="842.8" y="667.7" font-size="37" text-anchor="end" fill="#262626" font-family='"Liberation Sans", Arial, Helvetica, sans-serif' font-weight="normal" >0.3</text>
<text x="1286.5" y="1163" font-size="39" text-anchor="middle" fill="#262626" font-family='"Liberation Sans", Arial, Helvetica, sans-serif' font-weight="normal" >Mission time [second]</text>
<text transform="translate(781.5,862.5) rotate(-90)" font-size="32" text-anchor="middle" fill="#262626" font-family='"Liberation Sans", Arial, Helvetica, sans-serif' font-style="italic">&#963;</text>
<text x="19.4" y="37.9" font-size="32.5" text-anchor="middle" fill="#000" font-family='"Liberation Sans", Arial, Helvetica, sans-serif' font-weight="bold" >A</text>
<text x="750.2" y="37.8" font-size="32.5" text-anchor="middle" fill="#000" font-family='"Liberation Sans", Arial, Helvetica, sans-serif' font-weight="bold" >B</text>
<text x="20.1" y="648.2" font-size="32.5" text-anchor="middle" fill="#000" font-family='"Liberation Sans", Arial, Helvetica, sans-serif' font-weight="bold" >C</text>
<text x="770.9" y="618.2" font-size="32.5" text-anchor="middle" fill="#000" font-family='"Liberation Sans", Arial, Helvetica, sans-serif' font-weight="bold" >D</text>
</svg></body></html>
